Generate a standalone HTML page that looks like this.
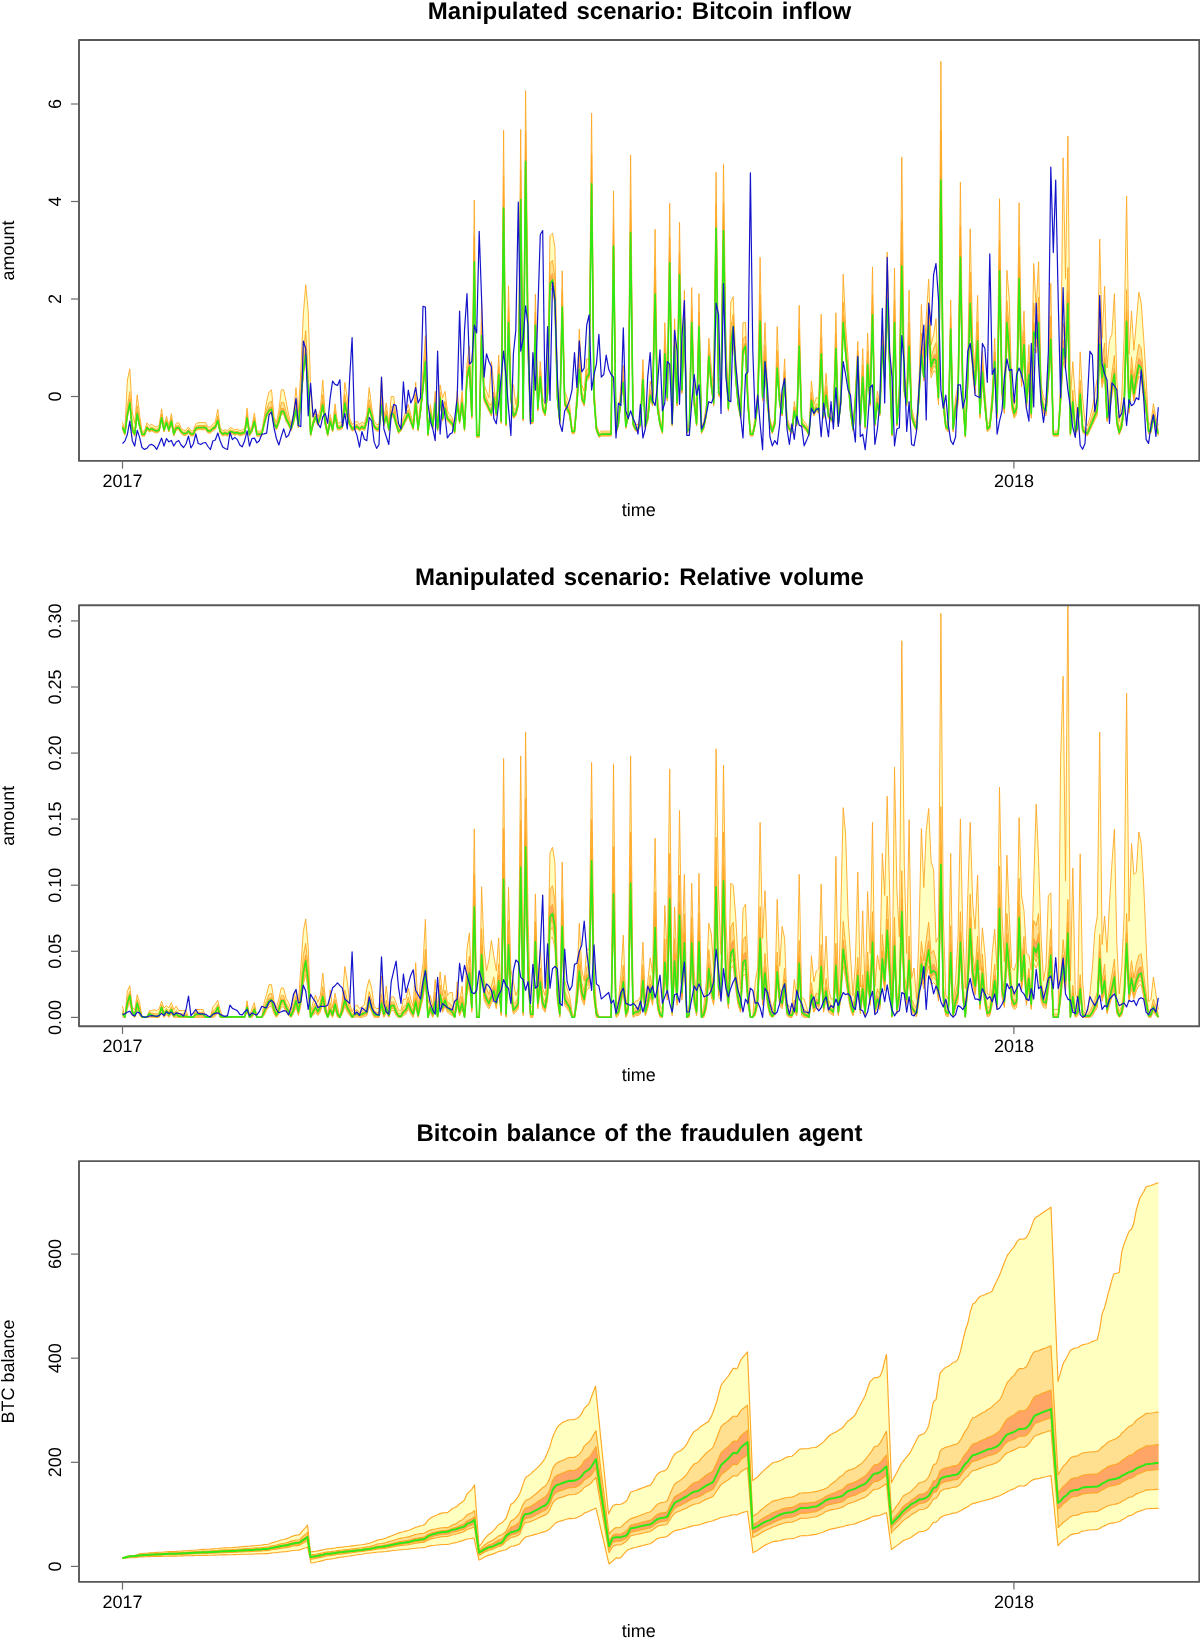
<!DOCTYPE html>
<html><head><meta charset="utf-8"><title>Manipulated scenario</title>
<style>
html,body{margin:0;padding:0;background:#fff}
svg{display:block}
text{text-rendering:geometricPrecision;filter:grayscale(1)}
.ax{font-family:"Liberation Sans",Arial,Helvetica,sans-serif;font-size:18px;fill:#000}
.ttl{font-family:"Liberation Sans",Arial,Helvetica,sans-serif;font-size:24px;font-weight:bold;word-spacing:2px;fill:#000}
</style></head><body>
<svg width="1200" height="1639" viewBox="0 0 1200 1639">
<rect width="1200" height="1639" fill="#fff"/>
<clipPath id="c1"><rect x="79" y="39.95" width="1120" height="420.95"/></clipPath>
<g clip-path="url(#c1)">
<path d="M122.5 422.3 L124.9 429.8 L127.4 380 L129.8 368.8 L132.3 412.5 L134.7 423.4 L137.2 394.8 L139.6 414.7 L142 431.2 L144.5 431.2 L146.9 422.9 L149.4 425.7 L151.8 424.3 L154.3 426.2 L156.7 427 L159.1 425.7 L161.6 408.9 L164 425.7 L166.5 416.4 L168.9 425.7 L171.4 413.6 L173.8 430.9 L176.2 423.3 L178.7 422.6 L181.1 427.7 L183.6 430.3 L186 430.3 L188.5 427.1 L190.9 430.9 L193.3 430.9 L195.8 423.9 L198.2 422.6 L200.7 422.6 L203.1 422.6 L205.6 422.6 L208 427.1 L210.4 427.1 L212.9 423.9 L215.3 422 L217.8 409.3 L220.2 427.7 L222.7 430.9 L225.1 429.7 L227.5 430.9 L230 427.7 L232.4 428.4 L234.9 429.8 L237.3 429 L239.8 430.6 L242.2 429.8 L244.7 429 L247.1 408.2 L249.5 431.2 L252 425.7 L254.4 413 L256.9 431.2 L259.3 431.2 L261.8 430.6 L264.2 417.3 L266.6 401.7 L269.1 391.9 L271.5 389.8 L274 416.9 L276.4 422.9 L278.9 410.4 L281.3 389.8 L283.7 389.8 L286.2 401.7 L288.6 414.7 L291.1 424.3 L293.5 414.6 L296 387.6 L298.4 412.5 L300.8 371.4 L303.3 315 L305.7 284.7 L308.2 310.7 L310.6 388.7 L313.1 417.3 L315.5 409 L317.9 417.3 L320.4 409 L322.8 380 L325.3 417.3 L327.7 431.2 L330.2 414.6 L332.6 425.7 L335 403.9 L337.5 422.9 L339.9 422.8 L342.4 421.2 L344.8 382.3 L347.3 397.8 L349.7 417.9 L352.1 424.5 L354.6 422.8 L357 421.2 L359.5 424.5 L361.9 421.8 L364.4 423.8 L366.8 414.5 L369.2 387.5 L371.7 407.9 L374.1 421.2 L376.6 424.5 L379 424.5 L381.5 377.1 L383.9 417.9 L386.3 403 L388.8 424.5 L391.2 396.5 L393.7 396.5 L396.1 417.9 L398.6 427.8 L401 424.5 L403.4 417.9 L405.9 411.2 L408.3 404.6 L410.8 414.5 L413.2 422.8 L415.7 382.3 L418.1 424.5 L420.5 401.3 L423 371.4 L425.4 335.6 L427.9 431.1 L430.3 404.6 L432.8 421.2 L435.2 391.3 L437.6 424.5 L440.1 384.9 L442.5 397.8 L445 391.4 L447.4 411.2 L449.9 414.5 L452.3 417.9 L454.7 427.8 L457.2 391.3 L459.6 414.5 L462.1 391.3 L464.5 424.5 L467 364.1 L469.4 346 L471.8 407.9 L474.3 200.2 L476.7 432.8 L479.2 432.8 L481.6 303.2 L484.1 384.7 L486.5 391.3 L488.9 397.9 L491.4 361.5 L493.8 384.7 L496.3 404.6 L498.7 355.1 L501.2 414.5 L503.6 130.2 L506.1 417.9 L508.5 285.8 L510.9 384.7 L513.4 384.9 L515.8 404.6 L518.3 391.3 L520.7 129.5 L523.2 411.2 L525.6 90.6 L528 304.5 L530.5 414.5 L532.9 414.5 L535.4 294.1 L537.8 397.9 L540.3 361.5 L542.7 397.9 L545.1 404.6 L547.6 378 L550 235.8 L552.5 233.2 L554.9 247.4 L557.4 384.7 L559.8 414.5 L562.2 270.8 L564.7 391.3 L567.1 397.9 L569.6 404.6 L572 427.8 L574.5 427.8 L576.9 391.3 L579.3 329.1 L581.8 384.7 L584.2 391.3 L586.7 358.9 L589.1 358.9 L591.6 113.1 L594 384.7 L596.4 424.5 L598.9 432.8 L601.3 431.1 L603.8 431.1 L606.2 431.1 L608.7 431.1 L611.1 431.1 L613.5 190.9 L616 427.8 L618.4 417.9 L620.9 384.7 L623.3 365.4 L625.8 421.2 L628.2 407.9 L630.6 154.9 L633.1 417.9 L635.5 424.5 L638 424.5 L640.4 417.9 L642.9 359.5 L645.3 421.2 L647.7 411.2 L650.2 381.3 L652.6 391.3 L655.1 229.3 L657.5 397.9 L660 417.9 L662.4 427.8 L664.8 322.6 L667.3 384.7 L669.7 203.4 L672.2 417.9 L674.6 318.7 L677.1 391.3 L679.5 222.3 L681.9 374.7 L684.4 290.2 L686.8 427.8 L689.3 424.5 L691.7 287.6 L694.2 391.3 L696.6 417.9 L699 293.6 L701.5 427.8 L703.9 421.2 L706.4 404.6 L708.8 338.2 L711.3 368.1 L713.7 391.3 L716.1 172.2 L718.6 378 L721 381.3 L723.5 163.9 L725.9 341.5 L728.4 397.9 L730.8 301.9 L733.2 296.7 L735.7 358.1 L738.1 391.3 L740.6 407.9 L743 322.6 L745.5 322.6 L747.9 391.3 L750.4 431.1 L752.8 431.1 L755.2 417.9 L757.7 391.3 L760.1 257.3 L762.6 384.7 L765 322.6 L767.5 391.3 L769.9 417.9 L772.3 427.8 L774.8 417.9 L777.2 326.5 L779.7 391.3 L782.1 404.6 L784.6 358.9 L787 417.9 L789.4 424.5 L791.9 427.8 L794.3 401.3 L796.8 417.9 L799.2 305.3 L801.7 417.9 L804.1 421.2 L806.5 424.5 L809 431.1 L811.4 381 L813.9 404.6 L816.3 397.8 L818.8 397.8 L821.2 314.3 L823.6 407.9 L826.1 373.2 L828.5 407.9 L831 411.2 L833.4 414.5 L835.9 312.8 L838.3 417.9 L840.7 391.3 L843.2 274.1 L845.6 324.9 L848.1 358.1 L850.5 401.3 L853 424.5 L855.4 391.3 L857.8 341.6 L860.3 417.9 L862.7 348.6 L865.2 421.2 L867.6 333 L870.1 391.3 L872.5 266.9 L874.9 417.9 L877.4 391.3 L879.8 404.6 L882.3 325.2 L884.7 358.1 L887.2 252.1 L889.6 341.5 L892 431.1 L894.5 268.2 L896.9 417.9 L899.4 384.7 L901.8 157.2 L904.3 374.7 L906.7 391.3 L909.1 290.2 L911.6 407.9 L914 417.9 L916.5 424.5 L918.9 384.7 L921.4 304.5 L923.8 358.1 L926.2 318.3 L928.7 279.1 L931.1 344.8 L933.6 334.9 L936 318.7 L938.5 384.7 L940.9 61.3 L943.3 391.3 L945.8 421.2 L948.2 424.5 L950.7 300.1 L953.1 424.5 L955.6 397.9 L958 384.7 L960.4 182.1 L962.9 384.7 L965.3 432.8 L967.8 358.1 L970.2 228.8 L972.7 341.5 L975.1 368.1 L977.6 295.4 L980 404.6 L982.4 351.2 L984.9 391.3 L987.3 424.5 L989.8 421.2 L992.2 391.3 L994.7 338.2 L997.1 404.6 L999.5 198.7 L1002 374.7 L1004.4 397.9 L1006.9 270.3 L1009.3 299.3 L1011.8 391.3 L1014.2 404.6 L1016.6 397.9 L1019.1 202.8 L1021.5 358.1 L1024 311 L1026.4 391.3 L1028.9 344.7 L1031.3 404.6 L1033.7 263.5 L1036.2 308.3 L1038.6 261.7 L1041.1 384.7 L1043.5 397.8 L1046 401.3 L1048.4 358.1 L1050.8 283.2 L1053.3 431.1 L1055.7 431.1 L1058.2 431.1 L1060.6 384.7 L1063.1 157.8 L1065.5 278.8 L1067.9 136 L1070.4 397.8 L1072.8 361.7 L1075.3 397.8 L1077.7 422.6 L1080.2 351.8 L1082.6 397.8 L1085 421.6 L1087.5 425.5 L1089.9 417.6 L1092.4 407.7 L1094.8 393.8 L1097.3 377.9 L1099.7 239.1 L1102.1 338.3 L1104.6 286.3 L1107 368 L1109.5 340.3 L1111.9 334.3 L1114.4 293.7 L1116.8 377.9 L1119.2 421.6 L1121.7 397.8 L1124.1 338.3 L1126.6 196.1 L1129 354.1 L1131.5 310.9 L1133.9 350.2 L1136.3 322.4 L1138.8 292.3 L1141.2 302.6 L1143.7 338.3 L1146.1 377.9 L1148.6 425.5 L1151 421.6 L1153.4 403.7 L1155.9 417.6 L1158.3 425.5 L1158.3 435.7 L1155.9 428.8 L1153.4 420.2 L1151 433.1 L1148.6 433.9 L1146.1 413.3 L1143.7 399.5 L1141.2 378.9 L1138.8 376.3 L1136.3 387.5 L1133.9 401.2 L1131.5 384.9 L1129 413.3 L1126.6 338.4 L1124.1 413.3 L1121.7 428.8 L1119.2 434.8 L1116.8 425.3 L1114.4 384 L1111.9 396.1 L1109.5 413.3 L1107 421.9 L1104.6 375.4 L1102.1 387.5 L1099.7 358.2 L1097.3 415 L1094.8 420.2 L1092.4 425.3 L1089.9 430.5 L1087.5 435.7 L1085 434.8 L1082.6 432.2 L1080.2 401.2 L1077.7 430.5 L1075.3 433.9 L1072.8 408.1 L1070.4 435.7 L1067.9 322.9 L1065.5 370.3 L1063.1 361.7 L1060.6 404.8 L1058.2 436.3 L1055.7 436.3 L1053.3 436.3 L1050.8 354.1 L1048.4 386.8 L1046 416 L1043.5 413.8 L1041.1 404.8 L1038.6 339.5 L1036.2 353 L1033.7 347.4 L1031.3 418.3 L1028.9 384.5 L1026.4 409.3 L1024 358.6 L1021.5 386.8 L1019.1 301.2 L1016.6 413.8 L1014.2 418.3 L1011.8 409.3 L1009.3 364.2 L1006.9 339.5 L1004.4 413.8 L1002 398 L999.5 294.5 L997.1 418.3 L994.7 373.2 L992.2 409.3 L989.8 429.5 L987.3 431.8 L984.9 409.3 L982.4 382.3 L980 418.3 L977.6 355.2 L975.1 393.5 L972.7 375.5 L970.2 322.6 L967.8 386.8 L965.3 437.4 L962.9 404.8 L960.4 282.8 L958 404.8 L955.6 413.8 L953.1 431.8 L950.7 345.1 L948.2 431.8 L945.8 429.5 L943.3 409.3 L940.9 215.7 L938.5 404.8 L936 372.1 L933.6 371 L931.1 377.7 L928.7 341.7 L926.2 351.1 L923.8 381.1 L921.4 358.6 L918.9 401.1 L916.5 431.1 L914 426.1 L911.6 418.6 L909.1 351.1 L906.7 406.1 L904.3 393.6 L901.8 274.2 L899.4 401.1 L896.9 426.1 L894.5 328.7 L892 436.1 L889.6 368.6 L887.2 306.2 L884.7 381.1 L882.3 351.1 L879.8 416.1 L877.4 406.1 L874.9 426.1 L872.5 321.2 L870.1 406.1 L867.6 368.6 L865.2 428.6 L862.7 381.1 L860.3 426.1 L857.8 362.4 L855.4 406.1 L853 431.1 L850.5 413.6 L848.1 381.1 L845.6 356.1 L843.2 328.7 L840.7 406.1 L838.3 426.1 L835.9 353.6 L833.4 423.6 L831 421.1 L828.5 418.6 L826.1 398.6 L823.6 418.6 L821.2 358.6 L818.8 413.6 L816.3 411.1 L813.9 416.1 L811.4 403.6 L809 436.1 L806.5 431.1 L804.1 428.6 L801.7 426.1 L799.2 351.1 L796.8 426.1 L794.3 413.6 L791.9 433.6 L789.4 431.1 L787 426.1 L784.6 383.6 L782.1 416.1 L779.7 406.1 L777.2 372.4 L774.8 426.1 L772.3 433.6 L769.9 426.1 L767.5 406.1 L765 366.1 L762.6 401.1 L760.1 327.4 L757.7 406.1 L755.2 426.1 L752.8 436.1 L750.4 436.1 L747.9 406.1 L745.5 351.1 L743 356.1 L740.6 418.6 L738.1 406.1 L735.7 381.1 L733.2 332.4 L730.8 351.1 L728.4 411.1 L725.9 368.6 L723.5 239.9 L721 398.6 L718.6 396.1 L716.1 237.4 L713.7 406.1 L711.3 388.6 L708.8 361.1 L706.4 416.1 L703.9 428.6 L701.5 433.6 L699 332.4 L696.6 426.1 L694.2 406.1 L691.7 328.7 L689.3 431.1 L686.8 433.6 L684.4 324.9 L681.9 393.6 L679.5 282.4 L677.1 406.1 L674.6 351.1 L672.2 426.1 L669.7 270.7 L667.3 401.1 L664.8 358.6 L662.4 433.6 L660 426.1 L657.5 411.1 L655.1 301.2 L652.6 406.1 L650.2 398.6 L647.7 421.1 L645.3 428.6 L642.9 383.6 L640.4 426.1 L638 431.1 L635.5 431.1 L633.1 426.1 L630.6 241.7 L628.2 418.6 L625.8 428.6 L623.3 386.1 L620.9 401.1 L618.4 426.1 L616 433.6 L613.5 254.9 L611.1 436.1 L608.7 436.1 L606.2 436.1 L603.8 436.1 L601.3 436.1 L598.9 437.4 L596.4 431.1 L594 401.1 L591.6 194.9 L589.1 378.6 L586.7 381.1 L584.2 406.1 L581.8 401.1 L579.3 373.6 L576.9 406.1 L574.5 433.6 L572 433.6 L569.6 416.1 L567.1 411.1 L564.7 406.1 L562.2 313.7 L559.8 423.6 L557.4 401.1 L554.9 306.2 L552.5 287.4 L550 291.2 L547.6 396.1 L545.1 416.1 L542.7 411.1 L540.3 381.1 L537.8 411.1 L535.4 331.2 L532.9 423.6 L530.5 423.6 L528 351.1 L525.6 173.2 L523.2 421.1 L520.7 209.9 L518.3 406.1 L515.8 416.1 L513.4 418.6 L510.9 401.1 L508.5 328.7 L506.1 426.1 L503.6 218.2 L501.2 423.6 L498.7 378.6 L496.3 416.1 L493.8 401.1 L491.4 416.1 L488.9 411.1 L486.5 406.1 L484.1 401.1 L481.6 341.1 L479.2 437.4 L476.7 437.4 L474.3 269.9 L471.8 418.6 L469.4 371.1 L467 381.1 L464.5 431.1 L462.1 406.1 L459.6 423.6 L457.2 406.1 L454.7 433.6 L452.3 426.1 L449.9 423.6 L447.4 421.1 L445 411.1 L442.5 421.1 L440.1 401.1 L437.6 431.1 L435.2 406.1 L432.8 428.6 L430.3 416.1 L427.9 436.1 L425.4 366.1 L423 391.1 L420.5 413.6 L418.1 431.1 L415.7 406.1 L413.2 429.9 L410.8 423.6 L408.3 416.1 L405.9 421.1 L403.4 426.1 L401 431.1 L398.6 433.6 L396.1 426.1 L393.7 417.4 L391.2 416.1 L388.8 431.1 L386.3 418.6 L383.9 426.1 L381.5 408.6 L379 431.1 L376.6 431.1 L374.1 428.6 L371.7 418.6 L369.2 411.1 L366.8 423.6 L364.4 430.6 L361.9 429.1 L359.5 431.1 L357 428.6 L354.6 429.9 L352.1 431.1 L349.7 426.1 L347.3 418.6 L344.8 406.1 L342.4 428.6 L339.9 429.9 L337.5 429.9 L335 417.4 L332.6 432 L330.2 423.7 L327.7 436.2 L325.3 425.8 L322.8 408 L320.4 419.5 L317.9 425.8 L315.5 419.5 L313.1 425.8 L310.6 436.2 L308.2 392.3 L305.7 358.9 L303.3 375.6 L300.8 402.8 L298.4 427.8 L296 412.2 L293.5 423.7 L291.1 431 L288.6 425.8 L286.2 421.6 L283.7 414.3 L281.3 414.3 L278.9 423.7 L276.4 429.9 L274 425.8 L271.5 412.2 L269.1 413.2 L266.6 417.4 L264.2 425.8 L261.8 435.8 L259.3 436.2 L256.9 436.2 L254.4 423.7 L252 432 L249.5 436.2 L247.1 420.5 L244.7 434.5 L242.2 435.2 L239.8 435.8 L237.3 434.5 L234.9 435.2 L232.4 434.1 L230 433.6 L227.5 436 L225.1 435 L222.7 436 L220.2 433.6 L217.8 423 L215.3 429.3 L212.9 430.7 L210.4 433.1 L208 433.1 L205.6 429.7 L203.1 429.7 L200.7 429.7 L198.2 429.7 L195.8 430.7 L193.3 436 L190.9 436 L188.5 433.1 L186 435.5 L183.6 435.5 L181.1 433.6 L178.7 429.7 L176.2 430.2 L173.8 436 L171.4 423.5 L168.9 432 L166.5 424.7 L164 432 L161.6 420.5 L159.1 432 L156.7 433.1 L154.3 432.4 L151.8 431 L149.4 432 L146.9 429.9 L144.5 436.2 L142 436.2 L139.6 427.8 L137.2 416.4 L134.7 436.2 L132.3 432 L129.8 405.9 L127.4 417.4 L124.9 435.2 L122.5 429.5Z" fill="#FFFFBF" stroke="none"/>
<path d="M122.5 425.2 L124.9 431.7 L127.4 406.5 L129.8 391.6 L132.3 425.4 L134.7 430.8 L137.2 405.7 L139.6 421 L142 432.9 L144.5 432.9 L146.9 425.7 L149.4 428.1 L151.8 426.9 L154.3 428.6 L156.7 429.3 L159.1 428.1 L161.6 414.1 L164 428.1 L166.5 419.8 L168.9 428.1 L171.4 417.9 L173.8 432.7 L176.2 426 L178.7 425.5 L181.1 429.9 L183.6 432.2 L186 432.2 L188.5 429.4 L190.9 432.7 L193.3 432.7 L195.8 426.6 L198.2 425.5 L200.7 425.5 L203.1 425.5 L205.6 425.5 L208 429.4 L210.4 429.4 L212.9 426.6 L215.3 424.9 L217.8 415.8 L220.2 429.9 L222.7 432.7 L225.1 431.6 L227.5 432.7 L230 429.9 L232.4 430.5 L234.9 431.7 L237.3 431 L239.8 432.5 L242.2 431.7 L244.7 431 L247.1 413.9 L249.5 432.9 L252 428.1 L254.4 417.7 L256.9 432.9 L259.3 432.9 L261.8 432.5 L264.2 420.8 L266.6 409.2 L269.1 402.6 L271.5 401.1 L274 420.6 L276.4 425.7 L278.9 416.6 L281.3 402.4 L283.7 402.4 L286.2 411.9 L288.6 419.7 L291.1 426.9 L293.5 418.4 L296 400.2 L298.4 420.1 L300.8 387.7 L303.3 352.3 L305.7 330.6 L308.2 374 L310.6 430.8 L313.1 420.8 L315.5 413.6 L317.9 420.8 L320.4 413.6 L322.8 394.5 L325.3 420.8 L327.7 432.9 L330.2 418.4 L332.6 428.1 L335 410.1 L337.5 425.7 L339.9 425.6 L342.4 424.2 L344.8 394.3 L347.3 408.4 L349.7 421.3 L352.1 427.1 L354.6 425.6 L357 424.2 L359.5 427.1 L361.9 424.8 L364.4 426.5 L366.8 418.4 L369.2 399.5 L371.7 412.6 L374.1 424.2 L376.6 427.1 L379 427.1 L381.5 395.1 L383.9 421.3 L386.3 410.5 L388.8 427.1 L391.2 406.3 L393.7 407.1 L396.1 421.3 L398.6 430 L401 427.1 L403.4 421.3 L405.9 415.5 L408.3 409.7 L410.8 418.4 L413.2 425.6 L415.7 394.3 L418.1 427.1 L420.5 406.8 L423 380.7 L425.4 350.6 L427.9 432.9 L430.3 409.7 L432.8 424.2 L435.2 398.1 L437.6 427.1 L440.1 392.4 L442.5 411.3 L445 401.1 L447.4 415.5 L449.9 418.4 L452.3 421.3 L454.7 430 L457.2 398.1 L459.6 418.4 L462.1 398.1 L464.5 427.1 L467 371.6 L469.4 358 L471.8 412.6 L474.3 235.9 L476.7 434.3 L479.2 434.3 L481.6 322 L484.1 392.3 L486.5 398.1 L488.9 403.9 L491.4 404.8 L493.8 392.3 L496.3 409.7 L498.7 366.3 L501.2 418.4 L503.6 175.4 L506.1 421.3 L508.5 307.2 L510.9 392.3 L513.4 408.1 L515.8 409.7 L518.3 398.1 L520.7 170.1 L523.2 415.5 L525.6 131.6 L528 328.5 L530.5 418.4 L532.9 418.4 L535.4 312.2 L537.8 403.9 L540.3 370.6 L542.7 403.9 L545.1 409.7 L547.6 386.5 L550 263.6 L552.5 260.2 L554.9 277.5 L557.4 392.3 L559.8 418.4 L562.2 291.8 L564.7 398.1 L567.1 403.9 L569.6 409.7 L572 430 L574.5 430 L576.9 398.1 L579.3 352.4 L581.8 392.3 L584.2 398.1 L586.7 369.5 L589.1 368 L591.6 154.2 L594 392.3 L596.4 427.1 L598.9 434.3 L601.3 432.9 L603.8 432.9 L606.2 432.9 L608.7 432.9 L611.1 432.9 L613.5 222.9 L616 430 L618.4 421.3 L620.9 392.3 L623.3 375.2 L625.8 424.2 L628.2 412.6 L630.6 199.8 L633.1 421.3 L635.5 427.1 L638 427.1 L640.4 421.3 L642.9 371.2 L645.3 424.2 L647.7 415.5 L650.2 389.4 L652.6 398.1 L655.1 266.9 L657.5 403.9 L660 421.3 L662.4 430 L664.8 340.7 L667.3 392.3 L669.7 237.6 L672.2 421.3 L674.6 334.5 L677.1 398.1 L679.5 252.7 L681.9 383.6 L684.4 306.8 L686.8 430 L689.3 427.1 L691.7 307.9 L694.2 398.1 L696.6 421.3 L699 312.7 L701.5 430 L703.9 424.2 L706.4 409.7 L708.8 348.7 L711.3 377.8 L713.7 398.1 L716.1 204.6 L718.6 386.5 L721 389.4 L723.5 202.6 L725.9 354.6 L728.4 403.9 L730.8 327.5 L733.2 314 L735.7 369.1 L738.1 398.1 L740.6 412.6 L743 339.2 L745.5 336.2 L747.9 398.1 L750.4 432.9 L752.8 432.9 L755.2 421.3 L757.7 398.1 L760.1 294.4 L762.6 392.3 L765 345.2 L767.5 398.1 L769.9 421.3 L772.3 430 L774.8 421.3 L777.2 350.6 L779.7 398.1 L782.1 409.7 L784.6 371 L787 421.3 L789.4 427.1 L791.9 430 L794.3 406.8 L796.8 421.3 L799.2 328.9 L801.7 421.3 L804.1 424.2 L806.5 427.1 L809 432.9 L811.4 392.3 L813.9 409.7 L816.3 403.9 L818.8 405.4 L821.2 337.2 L823.6 412.6 L826.1 386 L828.5 412.6 L831 415.5 L833.4 418.4 L835.9 333.5 L838.3 421.3 L840.7 398.1 L843.2 302.3 L845.6 340.1 L848.1 369.1 L850.5 406.8 L853 427.1 L855.4 398.1 L857.8 350.9 L860.3 421.3 L862.7 365.1 L865.2 424.2 L867.6 351.1 L870.1 398.1 L872.5 294.7 L874.9 421.3 L877.4 398.1 L879.8 409.7 L882.3 337.3 L884.7 369.1 L887.2 279.5 L889.6 354.6 L892 432.9 L894.5 299.8 L896.9 421.3 L899.4 392.3 L901.8 220.7 L904.3 383.6 L906.7 398.1 L909.1 322.6 L911.6 412.6 L914 421.3 L916.5 427.1 L918.9 392.3 L921.4 333.1 L923.8 369.1 L926.2 334.3 L928.7 305.8 L931.1 357.5 L933.6 348.8 L936 342.8 L938.5 392.3 L940.9 130.1 L943.3 398.1 L945.8 424.2 L948.2 427.1 L950.7 316.9 L953.1 427.1 L955.6 403.9 L958 392.3 L960.4 225.7 L962.9 392.3 L965.3 434.3 L967.8 369.1 L970.2 271.9 L972.7 354.6 L975.1 377.8 L977.6 321.7 L980 409.7 L982.4 363.2 L984.9 398.1 L987.3 427.1 L989.8 424.2 L992.2 398.1 L994.7 351.7 L997.1 409.7 L999.5 240.5 L1002 383.6 L1004.4 403.9 L1006.9 300.6 L1009.3 329.4 L1011.8 398.1 L1014.2 409.7 L1016.6 403.9 L1019.1 246.8 L1021.5 369.1 L1024 330.5 L1026.4 398.1 L1028.9 362 L1031.3 409.7 L1033.7 303.1 L1036.2 325.6 L1038.6 297 L1041.1 392.3 L1043.5 403.9 L1046 406.8 L1048.4 369.1 L1050.8 315.9 L1053.3 432.9 L1055.7 432.9 L1058.2 432.9 L1060.6 392.3 L1063.1 323.3 L1065.5 335.7 L1067.9 267.5 L1070.4 429.9 L1072.8 390.2 L1075.3 427.4 L1077.7 425.5 L1080.2 380.3 L1082.6 424.9 L1085 428.7 L1087.5 430.1 L1089.9 423.3 L1092.4 415.7 L1094.8 407.6 L1097.3 400.1 L1099.7 318.4 L1102.1 361.3 L1104.6 343.1 L1107 410.1 L1109.5 397.7 L1111.9 372.9 L1114.4 355.5 L1116.8 415 L1119.2 428.7 L1121.7 420 L1124.1 397.7 L1126.6 289.8 L1129 397.7 L1131.5 356.8 L1133.9 380.3 L1136.3 360.5 L1138.8 344.4 L1141.2 348.1 L1143.7 377.8 L1146.1 397.7 L1148.6 429 L1151 426.7 L1153.4 410.6 L1155.9 422.2 L1158.3 430.1 L1158.3 434.8 L1155.9 427.5 L1153.4 418.3 L1151 432 L1148.6 433 L1146.1 411 L1143.7 396.4 L1141.2 374.5 L1138.8 371.8 L1136.3 383.7 L1133.9 398.3 L1131.5 380.9 L1129 411 L1126.6 331.6 L1124.1 411 L1121.7 427.5 L1119.2 433.9 L1116.8 423.8 L1114.4 380 L1111.9 392.8 L1109.5 411 L1107 420.2 L1104.6 370.9 L1102.1 383.7 L1099.7 352.6 L1097.3 412.9 L1094.8 418.3 L1092.4 423.8 L1089.9 429.3 L1087.5 434.8 L1085 433.9 L1082.6 431.1 L1080.2 398.3 L1077.7 429.3 L1075.3 433 L1072.8 405.6 L1070.4 434.8 L1067.9 315.2 L1065.5 365.4 L1063.1 356.3 L1060.6 402 L1058.2 435.4 L1055.7 435.4 L1053.3 435.4 L1050.8 348.3 L1048.4 382.9 L1046 413.9 L1043.5 411.5 L1041.1 402 L1038.6 332.7 L1036.2 347.1 L1033.7 341.1 L1031.3 416.3 L1028.9 380.5 L1026.4 406.8 L1024 353 L1021.5 382.9 L1019.1 292.2 L1016.6 411.5 L1014.2 416.3 L1011.8 406.8 L1009.3 359 L1006.9 332.7 L1004.4 411.5 L1002 394.8 L999.5 285 L997.1 416.3 L994.7 368.6 L992.2 406.8 L989.8 428.3 L987.3 430.6 L984.9 406.8 L982.4 378.1 L980 416.3 L977.6 349.5 L975.1 390.1 L972.7 370.9 L970.2 314.8 L967.8 382.9 L965.3 436.6 L962.9 402 L960.4 272.6 L958 402 L955.6 411.5 L953.1 430.6 L950.7 338.7 L948.2 430.6 L945.8 428.3 L943.3 406.8 L940.9 201.4 L938.5 402 L936 367.4 L933.6 366.2 L931.1 373.3 L928.7 335.1 L926.2 349.1 L923.8 379.5 L921.4 356.7 L918.9 399.8 L916.5 430.3 L914 425.2 L911.6 417.6 L909.1 349.1 L906.7 404.9 L904.3 392.2 L901.8 270.9 L899.4 399.8 L896.9 425.2 L894.5 326.2 L892 435.3 L889.6 366.8 L887.2 303.4 L884.7 379.5 L882.3 349.1 L879.8 415 L877.4 404.9 L874.9 425.2 L872.5 318.6 L870.1 404.9 L867.6 366.8 L865.2 427.7 L862.7 379.5 L860.3 425.2 L857.8 360.5 L855.4 404.9 L853 430.3 L850.5 412.5 L848.1 379.5 L845.6 354.2 L843.2 326.2 L840.7 404.9 L838.3 425.2 L835.9 351.6 L833.4 422.7 L831 420.1 L828.5 417.6 L826.1 397.3 L823.6 417.6 L821.2 356.7 L818.8 412.5 L816.3 410 L813.9 415 L811.4 402.4 L809 435.3 L806.5 430.3 L804.1 427.7 L801.7 425.2 L799.2 349.1 L796.8 425.2 L794.3 412.5 L791.9 432.8 L789.4 430.3 L787 425.2 L784.6 382.1 L782.1 415 L779.7 404.9 L777.2 370.6 L774.8 425.2 L772.3 432.8 L769.9 425.2 L767.5 404.9 L765 364.3 L762.6 399.8 L760.1 325 L757.7 404.9 L755.2 425.2 L752.8 435.3 L750.4 435.3 L747.9 404.9 L745.5 349.1 L743 354.2 L740.6 417.6 L738.1 404.9 L735.7 379.5 L733.2 330.1 L730.8 349.1 L728.4 410 L725.9 366.8 L723.5 236.2 L721 397.3 L718.6 394.7 L716.1 233.6 L713.7 404.9 L711.3 387.1 L708.8 359.2 L706.4 415 L703.9 427.7 L701.5 432.8 L699 330.1 L696.6 425.2 L694.2 404.9 L691.7 326.2 L689.3 430.3 L686.8 432.8 L684.4 322.4 L681.9 392.2 L679.5 279.3 L677.1 404.9 L674.6 349.1 L672.2 425.2 L669.7 267.4 L667.3 399.8 L664.8 356.7 L662.4 432.8 L660 425.2 L657.5 410 L655.1 298.3 L652.6 404.9 L650.2 397.3 L647.7 420.1 L645.3 427.7 L642.9 382.1 L640.4 425.2 L638 430.3 L635.5 430.3 L633.1 425.2 L630.6 238 L628.2 417.6 L625.8 427.7 L623.3 384.6 L620.9 399.8 L618.4 425.2 L616 432.8 L613.5 251.4 L611.1 435.3 L608.7 435.3 L606.2 435.3 L603.8 435.3 L601.3 435.3 L598.9 436.6 L596.4 430.3 L594 399.8 L591.6 190.5 L589.1 377 L586.7 379.5 L584.2 404.9 L581.8 399.8 L579.3 371.9 L576.9 404.9 L574.5 432.8 L572 432.8 L569.6 415 L567.1 410 L564.7 404.9 L562.2 311 L559.8 422.7 L557.4 399.8 L554.9 303.4 L552.5 284.4 L550 288.2 L547.6 394.7 L545.1 415 L542.7 410 L540.3 379.5 L537.8 410 L535.4 328.8 L532.9 422.7 L530.5 422.7 L528 349.1 L525.6 168.4 L523.2 420.1 L520.7 205.7 L518.3 404.9 L515.8 415 L513.4 417.6 L510.9 399.8 L508.5 326.2 L506.1 425.2 L503.6 214.1 L501.2 422.7 L498.7 377 L496.3 415 L493.8 399.8 L491.4 415 L488.9 410 L486.5 404.9 L484.1 399.8 L481.6 338.9 L479.2 436.6 L476.7 436.6 L474.3 266.6 L471.8 417.6 L469.4 369.4 L467 379.5 L464.5 430.3 L462.1 404.9 L459.6 422.7 L457.2 404.9 L454.7 432.8 L452.3 425.2 L449.9 422.7 L447.4 420.1 L445 410 L442.5 420.1 L440.1 399.8 L437.6 430.3 L435.2 404.9 L432.8 427.7 L430.3 415 L427.9 435.3 L425.4 364.3 L423 389.7 L420.5 412.5 L418.1 430.3 L415.7 404.9 L413.2 429 L410.8 422.7 L408.3 415 L405.9 420.1 L403.4 425.2 L401 430.3 L398.6 432.8 L396.1 425.2 L393.7 416.3 L391.2 415 L388.8 430.3 L386.3 417.6 L383.9 425.2 L381.5 407.4 L379 430.3 L376.6 430.3 L374.1 427.7 L371.7 417.6 L369.2 410 L366.8 422.7 L364.4 429.8 L361.9 428.2 L359.5 430.3 L357 427.7 L354.6 429 L352.1 430.3 L349.7 425.2 L347.3 417.6 L344.8 404.9 L342.4 427.7 L339.9 429 L337.5 429 L335 416.3 L332.6 431.2 L330.2 422.7 L327.7 435.4 L325.3 424.8 L322.8 406.8 L320.4 418.4 L317.9 424.8 L315.5 418.4 L313.1 424.8 L310.6 435.4 L308.2 390.9 L305.7 357 L303.3 373.9 L300.8 401.5 L298.4 426.9 L296 411 L293.5 422.7 L291.1 430.1 L288.6 424.8 L286.2 420.6 L283.7 413.1 L281.3 413.1 L278.9 422.7 L276.4 429 L274 424.8 L271.5 411 L269.1 412.1 L266.6 416.3 L264.2 424.8 L261.8 435 L259.3 435.4 L256.9 435.4 L254.4 422.7 L252 431.2 L249.5 435.4 L247.1 419.5 L244.7 433.7 L242.2 434.3 L239.8 435 L237.3 433.7 L234.9 434.3 L232.4 433.3 L230 432.8 L227.5 435.2 L225.1 434.2 L222.7 435.2 L220.2 432.8 L217.8 422 L215.3 428.4 L212.9 429.8 L210.4 432.3 L208 432.3 L205.6 428.8 L203.1 428.8 L200.7 428.8 L198.2 428.8 L195.8 429.8 L193.3 435.2 L190.9 435.2 L188.5 432.3 L186 434.7 L183.6 434.7 L181.1 432.8 L178.7 428.8 L176.2 429.3 L173.8 435.2 L171.4 422.5 L168.9 431.2 L166.5 423.7 L164 431.2 L161.6 419.5 L159.1 431.2 L156.7 432.2 L154.3 431.6 L151.8 430.1 L149.4 431.2 L146.9 429 L144.5 435.4 L142 435.4 L139.6 426.9 L137.2 415.3 L134.7 435.4 L132.3 431.2 L129.8 404.7 L127.4 416.3 L124.9 434.3 L122.5 428.6Z" fill="#FFDF90" stroke="none"/>
<path d="M122.5 426.6 L124.9 432.7 L127.4 412 L129.8 399.1 L132.3 428.4 L134.7 433.1 L137.2 411 L139.6 424 L142 433.8 L144.5 433.8 L146.9 427 L149.4 429.3 L151.8 428.2 L154.3 429.7 L156.7 430.4 L159.1 429.3 L161.6 416.7 L164 429.3 L166.5 421.5 L168.9 429.3 L171.4 420 L173.8 433.6 L176.2 427.3 L178.7 426.8 L181.1 431 L183.6 433.1 L186 433.1 L188.5 430.5 L190.9 433.6 L193.3 433.6 L195.8 427.9 L198.2 426.8 L200.7 426.8 L203.1 426.8 L205.6 426.8 L208 430.5 L210.4 430.5 L212.9 427.9 L215.3 426.3 L217.8 418.9 L220.2 431 L222.7 433.6 L225.1 432.5 L227.5 433.6 L230 431 L232.4 431.5 L234.9 432.7 L237.3 432 L239.8 433.3 L242.2 432.7 L244.7 432 L247.1 416.6 L249.5 433.8 L252 429.3 L254.4 420.1 L256.9 433.8 L259.3 433.8 L261.8 433.3 L264.2 422.5 L266.6 412.9 L269.1 407.8 L271.5 406.6 L274 422.5 L276.4 427 L278.9 419.7 L281.3 408.5 L283.7 408.5 L286.2 416.7 L288.6 422.2 L291.1 428.2 L293.5 420.3 L296 406.3 L298.4 423.7 L300.8 395.6 L303.3 365.1 L305.7 346.3 L308.2 383.8 L310.6 433.1 L313.1 422.5 L315.5 415.8 L317.9 422.5 L320.4 415.8 L322.8 401.5 L325.3 422.5 L327.7 433.8 L330.2 420.3 L332.6 429.3 L335 413.2 L337.5 427 L339.9 427 L342.4 425.6 L344.8 400.1 L347.3 413.5 L349.7 422.9 L352.1 428.3 L354.6 427 L357 425.6 L359.5 428.3 L361.9 426.2 L364.4 427.8 L366.8 420.3 L369.2 405.3 L371.7 414.9 L374.1 425.6 L376.6 428.3 L379 428.3 L381.5 402.1 L383.9 422.9 L386.3 414.2 L388.8 428.3 L391.2 411.1 L393.7 412.2 L396.1 422.9 L398.6 431 L401 428.3 L403.4 422.9 L405.9 417.6 L408.3 412.2 L410.8 420.3 L413.2 427 L415.7 400.1 L418.1 428.3 L420.5 409.5 L423 385.2 L425.4 357.9 L427.9 433.7 L430.3 412.2 L432.8 425.6 L435.2 401.4 L437.6 428.3 L440.1 396 L442.5 416.2 L445 405.9 L447.4 417.6 L449.9 420.3 L452.3 422.9 L454.7 431 L457.2 401.4 L459.6 420.3 L462.1 401.4 L464.5 428.3 L467 375.3 L469.4 363.8 L471.8 414.9 L474.3 253.2 L476.7 435.1 L479.2 435.1 L481.6 331.1 L484.1 396 L486.5 401.4 L488.9 406.8 L491.4 410.6 L493.8 396 L496.3 412.2 L498.7 371.8 L501.2 420.3 L503.6 197.2 L506.1 422.9 L508.5 317.5 L510.9 396 L513.4 413.4 L515.8 412.2 L518.3 401.4 L520.7 189.8 L523.2 417.6 L525.6 151.5 L528 340.2 L530.5 420.3 L532.9 420.3 L535.4 320.9 L537.8 406.8 L540.3 374.9 L542.7 406.8 L545.1 412.2 L547.6 390.6 L550 277.1 L552.5 273.4 L554.9 292.1 L557.4 396 L559.8 420.3 L562.2 302 L564.7 401.4 L567.1 406.8 L569.6 412.2 L572 431 L574.5 431 L576.9 401.4 L579.3 363.7 L581.8 396 L584.2 401.4 L586.7 374.6 L589.1 372.3 L591.6 174.1 L594 396 L596.4 428.3 L598.9 435.1 L601.3 433.7 L603.8 433.7 L606.2 433.7 L608.7 433.7 L611.1 433.7 L613.5 238.5 L616 431 L618.4 422.9 L620.9 396 L623.3 379.9 L625.8 425.6 L628.2 414.9 L630.6 221.7 L633.1 422.9 L635.5 428.3 L638 428.3 L640.4 422.9 L642.9 376.9 L645.3 425.6 L647.7 417.6 L650.2 393.3 L652.6 401.4 L655.1 285.1 L657.5 406.8 L660 422.9 L662.4 431 L664.8 349.4 L667.3 396 L669.7 254.3 L672.2 422.9 L674.6 342.2 L677.1 401.4 L679.5 267.4 L681.9 387.9 L684.4 314.8 L686.8 431 L689.3 428.3 L691.7 317.8 L694.2 401.4 L696.6 422.9 L699 322 L701.5 431 L703.9 425.6 L706.4 412.2 L708.8 353.8 L711.3 382.5 L713.7 401.4 L716.1 220.3 L718.6 390.6 L721 393.3 L723.5 221.3 L725.9 361 L728.4 406.8 L730.8 339.9 L733.2 322.4 L735.7 374.5 L738.1 401.4 L740.6 414.9 L743 347.2 L745.5 342.7 L747.9 401.4 L750.4 433.7 L752.8 433.7 L755.2 422.9 L757.7 401.4 L760.1 312.5 L762.6 396 L765 356.1 L767.5 401.4 L769.9 422.9 L772.3 431 L774.8 422.9 L777.2 362.3 L779.7 401.4 L782.1 412.2 L784.6 376.8 L787 422.9 L789.4 428.3 L791.9 431 L794.3 409.5 L796.8 422.9 L799.2 340.3 L801.7 422.9 L804.1 425.6 L806.5 428.3 L809 433.7 L811.4 397.7 L813.9 412.2 L816.3 406.8 L818.8 409 L821.2 348.3 L823.6 414.9 L826.1 392.2 L828.5 414.9 L831 417.6 L833.4 420.3 L835.9 343.6 L838.3 422.9 L840.7 401.4 L843.2 315.9 L845.6 347.5 L848.1 374.5 L850.5 409.5 L853 428.3 L855.4 401.4 L857.8 355.4 L860.3 422.9 L862.7 373.1 L865.2 425.6 L867.6 359.8 L870.1 401.4 L872.5 308.2 L874.9 422.9 L877.4 401.4 L879.8 412.2 L882.3 343.1 L884.7 374.5 L887.2 292.8 L889.6 361 L892 433.7 L894.5 315.1 L896.9 422.9 L899.4 396 L901.8 251.1 L904.3 387.9 L906.7 401.4 L909.1 338.2 L911.6 414.9 L914 422.9 L916.5 428.3 L918.9 396 L921.4 346.9 L923.8 374.5 L926.2 342.1 L928.7 318.8 L931.1 363.7 L933.6 355.6 L936 354.5 L938.5 396 L940.9 163.6 L943.3 401.4 L945.8 425.6 L948.2 428.3 L950.7 325.1 L953.1 428.3 L955.6 406.8 L958 396 L960.4 246.9 L962.9 396 L965.3 435.1 L967.8 374.5 L970.2 292.9 L972.7 361 L975.1 382.5 L977.6 334.5 L980 412.2 L982.4 369 L984.9 401.4 L987.3 428.3 L989.8 425.6 L992.2 401.4 L994.7 358.3 L997.1 412.2 L999.5 260.8 L1002 387.9 L1004.4 406.8 L1006.9 315.4 L1009.3 344 L1011.8 401.4 L1014.2 412.2 L1016.6 406.8 L1019.1 268.1 L1021.5 374.5 L1024 340 L1026.4 401.4 L1028.9 370.4 L1031.3 412.2 L1033.7 322.3 L1036.2 334.1 L1038.6 314.2 L1041.1 396 L1043.5 406.8 L1046 409.5 L1048.4 374.5 L1050.8 331.7 L1053.3 433.7 L1055.7 433.7 L1058.2 433.7 L1060.6 396 L1063.1 340 L1065.5 350.7 L1067.9 291.7 L1070.4 432.3 L1072.8 397.9 L1075.3 430.1 L1077.7 426.8 L1080.2 389.3 L1082.6 428 L1085 431.2 L1087.5 432.3 L1089.9 426.1 L1092.4 419.6 L1094.8 413 L1097.3 406.5 L1099.7 335.7 L1102.1 372.4 L1104.6 357.1 L1107 415.1 L1109.5 404.4 L1111.9 382.9 L1114.4 367.9 L1116.8 419.4 L1119.2 431.2 L1121.7 423.7 L1124.1 404.4 L1126.6 311 L1129 404.4 L1131.5 369 L1133.9 389.3 L1136.3 372.2 L1138.8 358.2 L1141.2 361.4 L1143.7 387.2 L1146.1 404.4 L1148.6 430.6 L1151 429.2 L1153.4 414 L1155.9 424.4 L1158.3 432.3 L1158.3 434.1 L1155.9 426.5 L1153.4 417 L1151 431.3 L1148.6 432.2 L1146.1 409.4 L1143.7 394.1 L1141.2 371.3 L1138.8 368.4 L1136.3 380.8 L1133.9 396 L1131.5 377.9 L1129 409.4 L1126.6 326.5 L1124.1 409.4 L1121.7 426.5 L1119.2 433.2 L1116.8 422.7 L1114.4 377 L1111.9 390.3 L1109.5 409.4 L1107 418.9 L1104.6 367.5 L1102.1 380.8 L1099.7 348.4 L1097.3 411.3 L1094.8 417 L1092.4 422.7 L1089.9 428.4 L1087.5 434.1 L1085 433.2 L1082.6 430.3 L1080.2 396 L1077.7 428.4 L1075.3 432.2 L1072.8 403.6 L1070.4 434.1 L1067.9 309.4 L1065.5 361.7 L1063.1 352.2 L1060.6 399.9 L1058.2 434.8 L1055.7 434.8 L1053.3 434.8 L1050.8 343.9 L1048.4 380 L1046 412.4 L1043.5 409.9 L1041.1 399.9 L1038.6 327.7 L1036.2 342.6 L1033.7 336.4 L1031.3 414.9 L1028.9 377.5 L1026.4 404.9 L1024 348.9 L1021.5 380 L1019.1 285.4 L1016.6 409.9 L1014.2 414.9 L1011.8 404.9 L1009.3 355.1 L1006.9 327.7 L1004.4 409.9 L1002 392.4 L999.5 277.9 L997.1 414.9 L994.7 365 L992.2 404.9 L989.8 427.3 L987.3 429.8 L984.9 404.9 L982.4 375 L980 414.9 L977.6 345.1 L975.1 387.5 L972.7 367.5 L970.2 309 L967.8 380 L965.3 436 L962.9 399.9 L960.4 264.9 L958 399.9 L955.6 409.9 L953.1 429.8 L950.7 333.9 L948.2 429.8 L945.8 427.3 L943.3 404.9 L940.9 190.7 L938.5 399.9 L936 363.8 L933.6 362.6 L931.1 370 L928.7 330.2 L926.2 347.5 L923.8 378.3 L921.4 355.2 L918.9 398.8 L916.5 429.6 L914 424.5 L911.6 416.8 L909.1 347.5 L906.7 404 L904.3 391.1 L901.8 268.5 L899.4 398.8 L896.9 424.5 L894.5 324.4 L892 434.7 L889.6 365.5 L887.2 301.4 L884.7 378.3 L882.3 347.5 L879.8 414.2 L877.4 404 L874.9 424.5 L872.5 316.7 L870.1 404 L867.6 365.5 L865.2 427 L862.7 378.3 L860.3 424.5 L857.8 359.1 L855.4 404 L853 429.6 L850.5 411.7 L848.1 378.3 L845.6 352.7 L843.2 324.4 L840.7 404 L838.3 424.5 L835.9 350.1 L833.4 421.9 L831 419.3 L828.5 416.8 L826.1 396.3 L823.6 416.8 L821.2 355.2 L818.8 411.7 L816.3 409.1 L813.9 414.2 L811.4 401.4 L809 434.7 L806.5 429.6 L804.1 427 L801.7 424.5 L799.2 347.5 L796.8 424.5 L794.3 411.7 L791.9 432.2 L789.4 429.6 L787 424.5 L784.6 380.9 L782.1 414.2 L779.7 404 L777.2 369.3 L774.8 424.5 L772.3 432.2 L769.9 424.5 L767.5 404 L765 362.9 L762.6 398.8 L760.1 323.2 L757.7 404 L755.2 424.5 L752.8 434.7 L750.4 434.7 L747.9 404 L745.5 347.5 L743 352.7 L740.6 416.8 L738.1 404 L735.7 378.3 L733.2 328.3 L730.8 347.5 L728.4 409.1 L725.9 365.5 L723.5 233.4 L721 396.3 L718.6 393.7 L716.1 230.8 L713.7 404 L711.3 386 L708.8 357.8 L706.4 414.2 L703.9 427 L701.5 432.2 L699 328.3 L696.6 424.5 L694.2 404 L691.7 324.4 L689.3 429.6 L686.8 432.2 L684.4 320.6 L681.9 391.1 L679.5 277 L677.1 404 L674.6 347.5 L672.2 424.5 L669.7 264.9 L667.3 398.8 L664.8 355.2 L662.4 432.2 L660 424.5 L657.5 409.1 L655.1 296.2 L652.6 404 L650.2 396.3 L647.7 419.3 L645.3 427 L642.9 380.9 L640.4 424.5 L638 429.6 L635.5 429.6 L633.1 424.5 L630.6 235.2 L628.2 416.8 L625.8 427 L623.3 383.4 L620.9 398.8 L618.4 424.5 L616 432.2 L613.5 248.8 L611.1 434.7 L608.7 434.7 L606.2 434.7 L603.8 434.7 L601.3 434.7 L598.9 436 L596.4 429.6 L594 398.8 L591.6 187.2 L589.1 375.7 L586.7 378.3 L584.2 404 L581.8 398.8 L579.3 370.6 L576.9 404 L574.5 432.2 L572 432.2 L569.6 414.2 L567.1 409.1 L564.7 404 L562.2 309.1 L559.8 421.9 L557.4 398.8 L554.9 301.4 L552.5 282.1 L550 286 L547.6 393.7 L545.1 414.2 L542.7 409.1 L540.3 378.3 L537.8 409.1 L535.4 327 L532.9 421.9 L530.5 421.9 L528 347.5 L525.6 164.9 L523.2 419.3 L520.7 202.6 L518.3 404 L515.8 414.2 L513.4 416.8 L510.9 398.8 L508.5 324.4 L506.1 424.5 L503.6 211.1 L501.2 421.9 L498.7 375.7 L496.3 414.2 L493.8 398.8 L491.4 414.2 L488.9 409.1 L486.5 404 L484.1 398.8 L481.6 337.3 L479.2 436 L476.7 436 L474.3 264.2 L471.8 416.8 L469.4 368 L467 378.3 L464.5 429.6 L462.1 404 L459.6 421.9 L457.2 404 L454.7 432.2 L452.3 424.5 L449.9 421.9 L447.4 419.3 L445 409.1 L442.5 419.3 L440.1 398.8 L437.6 429.6 L435.2 404 L432.8 427 L430.3 414.2 L427.9 434.7 L425.4 362.9 L423 388.6 L420.5 411.7 L418.1 429.6 L415.7 404 L413.2 428.3 L410.8 421.9 L408.3 414.2 L405.9 419.3 L403.4 424.5 L401 429.6 L398.6 432.2 L396.1 424.5 L393.7 415.5 L391.2 414.2 L388.8 429.6 L386.3 416.8 L383.9 424.5 L381.5 406.5 L379 429.6 L376.6 429.6 L374.1 427 L371.7 416.8 L369.2 409.1 L366.8 421.9 L364.4 429.1 L361.9 427.6 L359.5 429.6 L357 427 L354.6 428.3 L352.1 429.6 L349.7 424.5 L347.3 416.8 L344.8 404 L342.4 427 L339.9 428.3 L337.5 428.4 L335 415.5 L332.6 430.5 L330.2 421.9 L327.7 434.8 L325.3 424.1 L322.8 405.9 L320.4 417.7 L317.9 424.1 L315.5 417.7 L313.1 424.1 L310.6 434.8 L308.2 389.8 L305.7 355.5 L303.3 372.6 L300.8 400.5 L298.4 426.2 L296 410.2 L293.5 421.9 L291.1 429.4 L288.6 424.1 L286.2 419.8 L283.7 412.3 L281.3 412.3 L278.9 421.9 L276.4 428.4 L274 424.1 L271.5 410.2 L269.1 411.2 L266.6 415.5 L264.2 424.1 L261.8 434.4 L259.3 434.8 L256.9 434.8 L254.4 421.9 L252 430.5 L249.5 434.8 L247.1 418.7 L244.7 433.1 L242.2 433.7 L239.8 434.4 L237.3 433.1 L234.9 433.7 L232.4 432.7 L230 432.1 L227.5 434.6 L225.1 433.6 L222.7 434.6 L220.2 432.1 L217.8 421.2 L215.3 427.7 L212.9 429.2 L210.4 431.6 L208 431.6 L205.6 428.2 L203.1 428.2 L200.7 428.2 L198.2 428.2 L195.8 429.2 L193.3 434.6 L190.9 434.6 L188.5 431.6 L186 434.1 L183.6 434.1 L181.1 432.1 L178.7 428.2 L176.2 428.7 L173.8 434.6 L171.4 421.7 L168.9 430.5 L166.5 423 L164 430.5 L161.6 418.7 L159.1 430.5 L156.7 431.6 L154.3 430.9 L151.8 429.4 L149.4 430.5 L146.9 428.4 L144.5 434.8 L142 434.8 L139.6 426.2 L137.2 414.4 L134.7 434.8 L132.3 430.5 L129.8 403.7 L127.4 415.5 L124.9 433.7 L122.5 427.9Z" fill="#FFA566" stroke="none"/>
<path d="M122.5 422.3 L124.9 429.8 L127.4 380 L129.8 368.8 L132.3 412.5 L134.7 423.4 L137.2 394.8 L139.6 414.7 L142 431.2 L144.5 431.2 L146.9 422.9 L149.4 425.7 L151.8 424.3 L154.3 426.2 L156.7 427 L159.1 425.7 L161.6 408.9 L164 425.7 L166.5 416.4 L168.9 425.7 L171.4 413.6 L173.8 430.9 L176.2 423.3 L178.7 422.6 L181.1 427.7 L183.6 430.3 L186 430.3 L188.5 427.1 L190.9 430.9 L193.3 430.9 L195.8 423.9 L198.2 422.6 L200.7 422.6 L203.1 422.6 L205.6 422.6 L208 427.1 L210.4 427.1 L212.9 423.9 L215.3 422 L217.8 409.3 L220.2 427.7 L222.7 430.9 L225.1 429.7 L227.5 430.9 L230 427.7 L232.4 428.4 L234.9 429.8 L237.3 429 L239.8 430.6 L242.2 429.8 L244.7 429 L247.1 408.2 L249.5 431.2 L252 425.7 L254.4 413 L256.9 431.2 L259.3 431.2 L261.8 430.6 L264.2 417.3 L266.6 401.7 L269.1 391.9 L271.5 389.8 L274 416.9 L276.4 422.9 L278.9 410.4 L281.3 389.8 L283.7 389.8 L286.2 401.7 L288.6 414.7 L291.1 424.3 L293.5 414.6 L296 387.6 L298.4 412.5 L300.8 371.4 L303.3 315 L305.7 284.7 L308.2 310.7 L310.6 388.7 L313.1 417.3 L315.5 409 L317.9 417.3 L320.4 409 L322.8 380 L325.3 417.3 L327.7 431.2 L330.2 414.6 L332.6 425.7 L335 403.9 L337.5 422.9 L339.9 422.8 L342.4 421.2 L344.8 382.3 L347.3 397.8 L349.7 417.9 L352.1 424.5 L354.6 422.8 L357 421.2 L359.5 424.5 L361.9 421.8 L364.4 423.8 L366.8 414.5 L369.2 387.5 L371.7 407.9 L374.1 421.2 L376.6 424.5 L379 424.5 L381.5 377.1 L383.9 417.9 L386.3 403 L388.8 424.5 L391.2 396.5 L393.7 396.5 L396.1 417.9 L398.6 427.8 L401 424.5 L403.4 417.9 L405.9 411.2 L408.3 404.6 L410.8 414.5 L413.2 422.8 L415.7 382.3 L418.1 424.5 L420.5 401.3 L423 371.4 L425.4 335.6 L427.9 431.1 L430.3 404.6 L432.8 421.2 L435.2 391.3 L437.6 424.5 L440.1 384.9 L442.5 397.8 L445 391.4 L447.4 411.2 L449.9 414.5 L452.3 417.9 L454.7 427.8 L457.2 391.3 L459.6 414.5 L462.1 391.3 L464.5 424.5 L467 364.1 L469.4 346 L471.8 407.9 L474.3 200.2 L476.7 432.8 L479.2 432.8 L481.6 303.2 L484.1 384.7 L486.5 391.3 L488.9 397.9 L491.4 361.5 L493.8 384.7 L496.3 404.6 L498.7 355.1 L501.2 414.5 L503.6 130.2 L506.1 417.9 L508.5 285.8 L510.9 384.7 L513.4 384.9 L515.8 404.6 L518.3 391.3 L520.7 129.5 L523.2 411.2 L525.6 90.6 L528 304.5 L530.5 414.5 L532.9 414.5 L535.4 294.1 L537.8 397.9 L540.3 361.5 L542.7 397.9 L545.1 404.6 L547.6 378 L550 235.8 L552.5 233.2 L554.9 247.4 L557.4 384.7 L559.8 414.5 L562.2 270.8 L564.7 391.3 L567.1 397.9 L569.6 404.6 L572 427.8 L574.5 427.8 L576.9 391.3 L579.3 329.1 L581.8 384.7 L584.2 391.3 L586.7 358.9 L589.1 358.9 L591.6 113.1 L594 384.7 L596.4 424.5 L598.9 432.8 L601.3 431.1 L603.8 431.1 L606.2 431.1 L608.7 431.1 L611.1 431.1 L613.5 190.9 L616 427.8 L618.4 417.9 L620.9 384.7 L623.3 365.4 L625.8 421.2 L628.2 407.9 L630.6 154.9 L633.1 417.9 L635.5 424.5 L638 424.5 L640.4 417.9 L642.9 359.5 L645.3 421.2 L647.7 411.2 L650.2 381.3 L652.6 391.3 L655.1 229.3 L657.5 397.9 L660 417.9 L662.4 427.8 L664.8 322.6 L667.3 384.7 L669.7 203.4 L672.2 417.9 L674.6 318.7 L677.1 391.3 L679.5 222.3 L681.9 374.7 L684.4 290.2 L686.8 427.8 L689.3 424.5 L691.7 287.6 L694.2 391.3 L696.6 417.9 L699 293.6 L701.5 427.8 L703.9 421.2 L706.4 404.6 L708.8 338.2 L711.3 368.1 L713.7 391.3 L716.1 172.2 L718.6 378 L721 381.3 L723.5 163.9 L725.9 341.5 L728.4 397.9 L730.8 301.9 L733.2 296.7 L735.7 358.1 L738.1 391.3 L740.6 407.9 L743 322.6 L745.5 322.6 L747.9 391.3 L750.4 431.1 L752.8 431.1 L755.2 417.9 L757.7 391.3 L760.1 257.3 L762.6 384.7 L765 322.6 L767.5 391.3 L769.9 417.9 L772.3 427.8 L774.8 417.9 L777.2 326.5 L779.7 391.3 L782.1 404.6 L784.6 358.9 L787 417.9 L789.4 424.5 L791.9 427.8 L794.3 401.3 L796.8 417.9 L799.2 305.3 L801.7 417.9 L804.1 421.2 L806.5 424.5 L809 431.1 L811.4 381 L813.9 404.6 L816.3 397.8 L818.8 397.8 L821.2 314.3 L823.6 407.9 L826.1 373.2 L828.5 407.9 L831 411.2 L833.4 414.5 L835.9 312.8 L838.3 417.9 L840.7 391.3 L843.2 274.1 L845.6 324.9 L848.1 358.1 L850.5 401.3 L853 424.5 L855.4 391.3 L857.8 341.6 L860.3 417.9 L862.7 348.6 L865.2 421.2 L867.6 333 L870.1 391.3 L872.5 266.9 L874.9 417.9 L877.4 391.3 L879.8 404.6 L882.3 325.2 L884.7 358.1 L887.2 252.1 L889.6 341.5 L892 431.1 L894.5 268.2 L896.9 417.9 L899.4 384.7 L901.8 157.2 L904.3 374.7 L906.7 391.3 L909.1 290.2 L911.6 407.9 L914 417.9 L916.5 424.5 L918.9 384.7 L921.4 304.5 L923.8 358.1 L926.2 318.3 L928.7 279.1 L931.1 344.8 L933.6 334.9 L936 318.7 L938.5 384.7 L940.9 61.3 L943.3 391.3 L945.8 421.2 L948.2 424.5 L950.7 300.1 L953.1 424.5 L955.6 397.9 L958 384.7 L960.4 182.1 L962.9 384.7 L965.3 432.8 L967.8 358.1 L970.2 228.8 L972.7 341.5 L975.1 368.1 L977.6 295.4 L980 404.6 L982.4 351.2 L984.9 391.3 L987.3 424.5 L989.8 421.2 L992.2 391.3 L994.7 338.2 L997.1 404.6 L999.5 198.7 L1002 374.7 L1004.4 397.9 L1006.9 270.3 L1009.3 299.3 L1011.8 391.3 L1014.2 404.6 L1016.6 397.9 L1019.1 202.8 L1021.5 358.1 L1024 311 L1026.4 391.3 L1028.9 344.7 L1031.3 404.6 L1033.7 263.5 L1036.2 308.3 L1038.6 261.7 L1041.1 384.7 L1043.5 397.8 L1046 401.3 L1048.4 358.1 L1050.8 283.2 L1053.3 431.1 L1055.7 431.1 L1058.2 431.1 L1060.6 384.7 L1063.1 157.8 L1065.5 278.8 L1067.9 136 L1070.4 397.8 L1072.8 361.7 L1075.3 397.8 L1077.7 422.6 L1080.2 351.8 L1082.6 397.8 L1085 421.6 L1087.5 425.5 L1089.9 417.6 L1092.4 407.7 L1094.8 393.8 L1097.3 377.9 L1099.7 239.1 L1102.1 338.3 L1104.6 286.3 L1107 368 L1109.5 340.3 L1111.9 334.3 L1114.4 293.7 L1116.8 377.9 L1119.2 421.6 L1121.7 397.8 L1124.1 338.3 L1126.6 196.1 L1129 354.1 L1131.5 310.9 L1133.9 350.2 L1136.3 322.4 L1138.8 292.3 L1141.2 302.6 L1143.7 338.3 L1146.1 377.9 L1148.6 425.5 L1151 421.6 L1153.4 403.7 L1155.9 417.6 L1158.3 425.5" fill="none" stroke="#FFA826" stroke-width="0.9" stroke-linejoin="round" />
<path d="M122.5 429.5 L124.9 435.2 L127.4 417.4 L129.8 405.9 L132.3 432 L134.7 436.2 L137.2 416.4 L139.6 427.8 L142 436.2 L144.5 436.2 L146.9 429.9 L149.4 432 L151.8 431 L154.3 432.4 L156.7 433.1 L159.1 432 L161.6 420.5 L164 432 L166.5 424.7 L168.9 432 L171.4 423.5 L173.8 436 L176.2 430.2 L178.7 429.7 L181.1 433.6 L183.6 435.5 L186 435.5 L188.5 433.1 L190.9 436 L193.3 436 L195.8 430.7 L198.2 429.7 L200.7 429.7 L203.1 429.7 L205.6 429.7 L208 433.1 L210.4 433.1 L212.9 430.7 L215.3 429.3 L217.8 423 L220.2 433.6 L222.7 436 L225.1 435 L227.5 436 L230 433.6 L232.4 434.1 L234.9 435.2 L237.3 434.5 L239.8 435.8 L242.2 435.2 L244.7 434.5 L247.1 420.5 L249.5 436.2 L252 432 L254.4 423.7 L256.9 436.2 L259.3 436.2 L261.8 435.8 L264.2 425.8 L266.6 417.4 L269.1 413.2 L271.5 412.2 L274 425.8 L276.4 429.9 L278.9 423.7 L281.3 414.3 L283.7 414.3 L286.2 421.6 L288.6 425.8 L291.1 431 L293.5 423.7 L296 412.2 L298.4 427.8 L300.8 402.8 L303.3 375.6 L305.7 358.9 L308.2 392.3 L310.6 436.2 L313.1 425.8 L315.5 419.5 L317.9 425.8 L320.4 419.5 L322.8 408 L325.3 425.8 L327.7 436.2 L330.2 423.7 L332.6 432 L335 417.4 L337.5 429.9 L339.9 429.9 L342.4 428.6 L344.8 406.1 L347.3 418.6 L349.7 426.1 L352.1 431.1 L354.6 429.9 L357 428.6 L359.5 431.1 L361.9 429.1 L364.4 430.6 L366.8 423.6 L369.2 411.1 L371.7 418.6 L374.1 428.6 L376.6 431.1 L379 431.1 L381.5 408.6 L383.9 426.1 L386.3 418.6 L388.8 431.1 L391.2 416.1 L393.7 417.4 L396.1 426.1 L398.6 433.6 L401 431.1 L403.4 426.1 L405.9 421.1 L408.3 416.1 L410.8 423.6 L413.2 429.9 L415.7 406.1 L418.1 431.1 L420.5 413.6 L423 391.1 L425.4 366.1 L427.9 436.1 L430.3 416.1 L432.8 428.6 L435.2 406.1 L437.6 431.1 L440.1 401.1 L442.5 421.1 L445 411.1 L447.4 421.1 L449.9 423.6 L452.3 426.1 L454.7 433.6 L457.2 406.1 L459.6 423.6 L462.1 406.1 L464.5 431.1 L467 381.1 L469.4 371.1 L471.8 418.6 L474.3 269.9 L476.7 437.4 L479.2 437.4 L481.6 341.1 L484.1 401.1 L486.5 406.1 L488.9 411.1 L491.4 416.1 L493.8 401.1 L496.3 416.1 L498.7 378.6 L501.2 423.6 L503.6 218.2 L506.1 426.1 L508.5 328.7 L510.9 401.1 L513.4 418.6 L515.8 416.1 L518.3 406.1 L520.7 209.9 L523.2 421.1 L525.6 173.2 L528 351.1 L530.5 423.6 L532.9 423.6 L535.4 331.2 L537.8 411.1 L540.3 381.1 L542.7 411.1 L545.1 416.1 L547.6 396.1 L550 291.2 L552.5 287.4 L554.9 306.2 L557.4 401.1 L559.8 423.6 L562.2 313.7 L564.7 406.1 L567.1 411.1 L569.6 416.1 L572 433.6 L574.5 433.6 L576.9 406.1 L579.3 373.6 L581.8 401.1 L584.2 406.1 L586.7 381.1 L589.1 378.6 L591.6 194.9 L594 401.1 L596.4 431.1 L598.9 437.4 L601.3 436.1 L603.8 436.1 L606.2 436.1 L608.7 436.1 L611.1 436.1 L613.5 254.9 L616 433.6 L618.4 426.1 L620.9 401.1 L623.3 386.1 L625.8 428.6 L628.2 418.6 L630.6 241.7 L633.1 426.1 L635.5 431.1 L638 431.1 L640.4 426.1 L642.9 383.6 L645.3 428.6 L647.7 421.1 L650.2 398.6 L652.6 406.1 L655.1 301.2 L657.5 411.1 L660 426.1 L662.4 433.6 L664.8 358.6 L667.3 401.1 L669.7 270.7 L672.2 426.1 L674.6 351.1 L677.1 406.1 L679.5 282.4 L681.9 393.6 L684.4 324.9 L686.8 433.6 L689.3 431.1 L691.7 328.7 L694.2 406.1 L696.6 426.1 L699 332.4 L701.5 433.6 L703.9 428.6 L706.4 416.1 L708.8 361.1 L711.3 388.6 L713.7 406.1 L716.1 237.4 L718.6 396.1 L721 398.6 L723.5 239.9 L725.9 368.6 L728.4 411.1 L730.8 351.1 L733.2 332.4 L735.7 381.1 L738.1 406.1 L740.6 418.6 L743 356.1 L745.5 351.1 L747.9 406.1 L750.4 436.1 L752.8 436.1 L755.2 426.1 L757.7 406.1 L760.1 327.4 L762.6 401.1 L765 366.1 L767.5 406.1 L769.9 426.1 L772.3 433.6 L774.8 426.1 L777.2 372.4 L779.7 406.1 L782.1 416.1 L784.6 383.6 L787 426.1 L789.4 431.1 L791.9 433.6 L794.3 413.6 L796.8 426.1 L799.2 351.1 L801.7 426.1 L804.1 428.6 L806.5 431.1 L809 436.1 L811.4 403.6 L813.9 416.1 L816.3 411.1 L818.8 413.6 L821.2 358.6 L823.6 418.6 L826.1 398.6 L828.5 418.6 L831 421.1 L833.4 423.6 L835.9 353.6 L838.3 426.1 L840.7 406.1 L843.2 328.7 L845.6 356.1 L848.1 381.1 L850.5 413.6 L853 431.1 L855.4 406.1 L857.8 362.4 L860.3 426.1 L862.7 381.1 L865.2 428.6 L867.6 368.6 L870.1 406.1 L872.5 321.2 L874.9 426.1 L877.4 406.1 L879.8 416.1 L882.3 351.1 L884.7 381.1 L887.2 306.2 L889.6 368.6 L892 436.1 L894.5 328.7 L896.9 426.1 L899.4 401.1 L901.8 274.2 L904.3 393.6 L906.7 406.1 L909.1 351.1 L911.6 418.6 L914 426.1 L916.5 431.1 L918.9 401.1 L921.4 358.6 L923.8 381.1 L926.2 351.1 L928.7 341.7 L931.1 377.7 L933.6 371 L936 372.1 L938.5 404.8 L940.9 215.7 L943.3 409.3 L945.8 429.5 L948.2 431.8 L950.7 345.1 L953.1 431.8 L955.6 413.8 L958 404.8 L960.4 282.8 L962.9 404.8 L965.3 437.4 L967.8 386.8 L970.2 322.6 L972.7 375.5 L975.1 393.5 L977.6 355.2 L980 418.3 L982.4 382.3 L984.9 409.3 L987.3 431.8 L989.8 429.5 L992.2 409.3 L994.7 373.2 L997.1 418.3 L999.5 294.5 L1002 398 L1004.4 413.8 L1006.9 339.5 L1009.3 364.2 L1011.8 409.3 L1014.2 418.3 L1016.6 413.8 L1019.1 301.2 L1021.5 386.8 L1024 358.6 L1026.4 409.3 L1028.9 384.5 L1031.3 418.3 L1033.7 347.4 L1036.2 353 L1038.6 339.5 L1041.1 404.8 L1043.5 413.8 L1046 416 L1048.4 386.8 L1050.8 354.1 L1053.3 436.3 L1055.7 436.3 L1058.2 436.3 L1060.6 404.8 L1063.1 361.7 L1065.5 370.3 L1067.9 322.9 L1070.4 435.7 L1072.8 408.1 L1075.3 433.9 L1077.7 430.5 L1080.2 401.2 L1082.6 432.2 L1085 434.8 L1087.5 435.7 L1089.9 430.5 L1092.4 425.3 L1094.8 420.2 L1097.3 415 L1099.7 358.2 L1102.1 387.5 L1104.6 375.4 L1107 421.9 L1109.5 413.3 L1111.9 396.1 L1114.4 384 L1116.8 425.3 L1119.2 434.8 L1121.7 428.8 L1124.1 413.3 L1126.6 338.4 L1129 413.3 L1131.5 384.9 L1133.9 401.2 L1136.3 387.5 L1138.8 376.3 L1141.2 378.9 L1143.7 399.5 L1146.1 413.3 L1148.6 433.9 L1151 433.1 L1153.4 420.2 L1155.9 428.8 L1158.3 435.7" fill="none" stroke="#FFA826" stroke-width="0.9" stroke-linejoin="round" />
<path d="M122.5 425.2 L124.9 431.7 L127.4 406.5 L129.8 391.6 L132.3 425.4 L134.7 430.8 L137.2 405.7 L139.6 421 L142 432.9 L144.5 432.9 L146.9 425.7 L149.4 428.1 L151.8 426.9 L154.3 428.6 L156.7 429.3 L159.1 428.1 L161.6 414.1 L164 428.1 L166.5 419.8 L168.9 428.1 L171.4 417.9 L173.8 432.7 L176.2 426 L178.7 425.5 L181.1 429.9 L183.6 432.2 L186 432.2 L188.5 429.4 L190.9 432.7 L193.3 432.7 L195.8 426.6 L198.2 425.5 L200.7 425.5 L203.1 425.5 L205.6 425.5 L208 429.4 L210.4 429.4 L212.9 426.6 L215.3 424.9 L217.8 415.8 L220.2 429.9 L222.7 432.7 L225.1 431.6 L227.5 432.7 L230 429.9 L232.4 430.5 L234.9 431.7 L237.3 431 L239.8 432.5 L242.2 431.7 L244.7 431 L247.1 413.9 L249.5 432.9 L252 428.1 L254.4 417.7 L256.9 432.9 L259.3 432.9 L261.8 432.5 L264.2 420.8 L266.6 409.2 L269.1 402.6 L271.5 401.1 L274 420.6 L276.4 425.7 L278.9 416.6 L281.3 402.4 L283.7 402.4 L286.2 411.9 L288.6 419.7 L291.1 426.9 L293.5 418.4 L296 400.2 L298.4 420.1 L300.8 387.7 L303.3 352.3 L305.7 330.6 L308.2 374 L310.6 430.8 L313.1 420.8 L315.5 413.6 L317.9 420.8 L320.4 413.6 L322.8 394.5 L325.3 420.8 L327.7 432.9 L330.2 418.4 L332.6 428.1 L335 410.1 L337.5 425.7 L339.9 425.6 L342.4 424.2 L344.8 394.3 L347.3 408.4 L349.7 421.3 L352.1 427.1 L354.6 425.6 L357 424.2 L359.5 427.1 L361.9 424.8 L364.4 426.5 L366.8 418.4 L369.2 399.5 L371.7 412.6 L374.1 424.2 L376.6 427.1 L379 427.1 L381.5 395.1 L383.9 421.3 L386.3 410.5 L388.8 427.1 L391.2 406.3 L393.7 407.1 L396.1 421.3 L398.6 430 L401 427.1 L403.4 421.3 L405.9 415.5 L408.3 409.7 L410.8 418.4 L413.2 425.6 L415.7 394.3 L418.1 427.1 L420.5 406.8 L423 380.7 L425.4 350.6 L427.9 432.9 L430.3 409.7 L432.8 424.2 L435.2 398.1 L437.6 427.1 L440.1 392.4 L442.5 411.3 L445 401.1 L447.4 415.5 L449.9 418.4 L452.3 421.3 L454.7 430 L457.2 398.1 L459.6 418.4 L462.1 398.1 L464.5 427.1 L467 371.6 L469.4 358 L471.8 412.6 L474.3 235.9 L476.7 434.3 L479.2 434.3 L481.6 322 L484.1 392.3 L486.5 398.1 L488.9 403.9 L491.4 404.8 L493.8 392.3 L496.3 409.7 L498.7 366.3 L501.2 418.4 L503.6 175.4 L506.1 421.3 L508.5 307.2 L510.9 392.3 L513.4 408.1 L515.8 409.7 L518.3 398.1 L520.7 170.1 L523.2 415.5 L525.6 131.6 L528 328.5 L530.5 418.4 L532.9 418.4 L535.4 312.2 L537.8 403.9 L540.3 370.6 L542.7 403.9 L545.1 409.7 L547.6 386.5 L550 263.6 L552.5 260.2 L554.9 277.5 L557.4 392.3 L559.8 418.4 L562.2 291.8 L564.7 398.1 L567.1 403.9 L569.6 409.7 L572 430 L574.5 430 L576.9 398.1 L579.3 352.4 L581.8 392.3 L584.2 398.1 L586.7 369.5 L589.1 368 L591.6 154.2 L594 392.3 L596.4 427.1 L598.9 434.3 L601.3 432.9 L603.8 432.9 L606.2 432.9 L608.7 432.9 L611.1 432.9 L613.5 222.9 L616 430 L618.4 421.3 L620.9 392.3 L623.3 375.2 L625.8 424.2 L628.2 412.6 L630.6 199.8 L633.1 421.3 L635.5 427.1 L638 427.1 L640.4 421.3 L642.9 371.2 L645.3 424.2 L647.7 415.5 L650.2 389.4 L652.6 398.1 L655.1 266.9 L657.5 403.9 L660 421.3 L662.4 430 L664.8 340.7 L667.3 392.3 L669.7 237.6 L672.2 421.3 L674.6 334.5 L677.1 398.1 L679.5 252.7 L681.9 383.6 L684.4 306.8 L686.8 430 L689.3 427.1 L691.7 307.9 L694.2 398.1 L696.6 421.3 L699 312.7 L701.5 430 L703.9 424.2 L706.4 409.7 L708.8 348.7 L711.3 377.8 L713.7 398.1 L716.1 204.6 L718.6 386.5 L721 389.4 L723.5 202.6 L725.9 354.6 L728.4 403.9 L730.8 327.5 L733.2 314 L735.7 369.1 L738.1 398.1 L740.6 412.6 L743 339.2 L745.5 336.2 L747.9 398.1 L750.4 432.9 L752.8 432.9 L755.2 421.3 L757.7 398.1 L760.1 294.4 L762.6 392.3 L765 345.2 L767.5 398.1 L769.9 421.3 L772.3 430 L774.8 421.3 L777.2 350.6 L779.7 398.1 L782.1 409.7 L784.6 371 L787 421.3 L789.4 427.1 L791.9 430 L794.3 406.8 L796.8 421.3 L799.2 328.9 L801.7 421.3 L804.1 424.2 L806.5 427.1 L809 432.9 L811.4 392.3 L813.9 409.7 L816.3 403.9 L818.8 405.4 L821.2 337.2 L823.6 412.6 L826.1 386 L828.5 412.6 L831 415.5 L833.4 418.4 L835.9 333.5 L838.3 421.3 L840.7 398.1 L843.2 302.3 L845.6 340.1 L848.1 369.1 L850.5 406.8 L853 427.1 L855.4 398.1 L857.8 350.9 L860.3 421.3 L862.7 365.1 L865.2 424.2 L867.6 351.1 L870.1 398.1 L872.5 294.7 L874.9 421.3 L877.4 398.1 L879.8 409.7 L882.3 337.3 L884.7 369.1 L887.2 279.5 L889.6 354.6 L892 432.9 L894.5 299.8 L896.9 421.3 L899.4 392.3 L901.8 220.7 L904.3 383.6 L906.7 398.1 L909.1 322.6 L911.6 412.6 L914 421.3 L916.5 427.1 L918.9 392.3 L921.4 333.1 L923.8 369.1 L926.2 334.3 L928.7 305.8 L931.1 357.5 L933.6 348.8 L936 342.8 L938.5 392.3 L940.9 130.1 L943.3 398.1 L945.8 424.2 L948.2 427.1 L950.7 316.9 L953.1 427.1 L955.6 403.9 L958 392.3 L960.4 225.7 L962.9 392.3 L965.3 434.3 L967.8 369.1 L970.2 271.9 L972.7 354.6 L975.1 377.8 L977.6 321.7 L980 409.7 L982.4 363.2 L984.9 398.1 L987.3 427.1 L989.8 424.2 L992.2 398.1 L994.7 351.7 L997.1 409.7 L999.5 240.5 L1002 383.6 L1004.4 403.9 L1006.9 300.6 L1009.3 329.4 L1011.8 398.1 L1014.2 409.7 L1016.6 403.9 L1019.1 246.8 L1021.5 369.1 L1024 330.5 L1026.4 398.1 L1028.9 362 L1031.3 409.7 L1033.7 303.1 L1036.2 325.6 L1038.6 297 L1041.1 392.3 L1043.5 403.9 L1046 406.8 L1048.4 369.1 L1050.8 315.9 L1053.3 432.9 L1055.7 432.9 L1058.2 432.9 L1060.6 392.3 L1063.1 323.3 L1065.5 335.7 L1067.9 267.5 L1070.4 429.9 L1072.8 390.2 L1075.3 427.4 L1077.7 425.5 L1080.2 380.3 L1082.6 424.9 L1085 428.7 L1087.5 430.1 L1089.9 423.3 L1092.4 415.7 L1094.8 407.6 L1097.3 400.1 L1099.7 318.4 L1102.1 361.3 L1104.6 343.1 L1107 410.1 L1109.5 397.7 L1111.9 372.9 L1114.4 355.5 L1116.8 415 L1119.2 428.7 L1121.7 420 L1124.1 397.7 L1126.6 289.8 L1129 397.7 L1131.5 356.8 L1133.9 380.3 L1136.3 360.5 L1138.8 344.4 L1141.2 348.1 L1143.7 377.8 L1146.1 397.7 L1148.6 429 L1151 426.7 L1153.4 410.6 L1155.9 422.2 L1158.3 430.1" fill="none" stroke="#FFA826" stroke-width="0.9" stroke-linejoin="round" />
<path d="M122.5 428.6 L124.9 434.3 L127.4 416.3 L129.8 404.7 L132.3 431.2 L134.7 435.4 L137.2 415.3 L139.6 426.9 L142 435.4 L144.5 435.4 L146.9 429 L149.4 431.2 L151.8 430.1 L154.3 431.6 L156.7 432.2 L159.1 431.2 L161.6 419.5 L164 431.2 L166.5 423.7 L168.9 431.2 L171.4 422.5 L173.8 435.2 L176.2 429.3 L178.7 428.8 L181.1 432.8 L183.6 434.7 L186 434.7 L188.5 432.3 L190.9 435.2 L193.3 435.2 L195.8 429.8 L198.2 428.8 L200.7 428.8 L203.1 428.8 L205.6 428.8 L208 432.3 L210.4 432.3 L212.9 429.8 L215.3 428.4 L217.8 422 L220.2 432.8 L222.7 435.2 L225.1 434.2 L227.5 435.2 L230 432.8 L232.4 433.3 L234.9 434.3 L237.3 433.7 L239.8 435 L242.2 434.3 L244.7 433.7 L247.1 419.5 L249.5 435.4 L252 431.2 L254.4 422.7 L256.9 435.4 L259.3 435.4 L261.8 435 L264.2 424.8 L266.6 416.3 L269.1 412.1 L271.5 411 L274 424.8 L276.4 429 L278.9 422.7 L281.3 413.1 L283.7 413.1 L286.2 420.6 L288.6 424.8 L291.1 430.1 L293.5 422.7 L296 411 L298.4 426.9 L300.8 401.5 L303.3 373.9 L305.7 357 L308.2 390.9 L310.6 435.4 L313.1 424.8 L315.5 418.4 L317.9 424.8 L320.4 418.4 L322.8 406.8 L325.3 424.8 L327.7 435.4 L330.2 422.7 L332.6 431.2 L335 416.3 L337.5 429 L339.9 429 L342.4 427.7 L344.8 404.9 L347.3 417.6 L349.7 425.2 L352.1 430.3 L354.6 429 L357 427.7 L359.5 430.3 L361.9 428.2 L364.4 429.8 L366.8 422.7 L369.2 410 L371.7 417.6 L374.1 427.7 L376.6 430.3 L379 430.3 L381.5 407.4 L383.9 425.2 L386.3 417.6 L388.8 430.3 L391.2 415 L393.7 416.3 L396.1 425.2 L398.6 432.8 L401 430.3 L403.4 425.2 L405.9 420.1 L408.3 415 L410.8 422.7 L413.2 429 L415.7 404.9 L418.1 430.3 L420.5 412.5 L423 389.7 L425.4 364.3 L427.9 435.3 L430.3 415 L432.8 427.7 L435.2 404.9 L437.6 430.3 L440.1 399.8 L442.5 420.1 L445 410 L447.4 420.1 L449.9 422.7 L452.3 425.2 L454.7 432.8 L457.2 404.9 L459.6 422.7 L462.1 404.9 L464.5 430.3 L467 379.5 L469.4 369.4 L471.8 417.6 L474.3 266.6 L476.7 436.6 L479.2 436.6 L481.6 338.9 L484.1 399.8 L486.5 404.9 L488.9 410 L491.4 415 L493.8 399.8 L496.3 415 L498.7 377 L501.2 422.7 L503.6 214.1 L506.1 425.2 L508.5 326.2 L510.9 399.8 L513.4 417.6 L515.8 415 L518.3 404.9 L520.7 205.7 L523.2 420.1 L525.6 168.4 L528 349.1 L530.5 422.7 L532.9 422.7 L535.4 328.8 L537.8 410 L540.3 379.5 L542.7 410 L545.1 415 L547.6 394.7 L550 288.2 L552.5 284.4 L554.9 303.4 L557.4 399.8 L559.8 422.7 L562.2 311 L564.7 404.9 L567.1 410 L569.6 415 L572 432.8 L574.5 432.8 L576.9 404.9 L579.3 371.9 L581.8 399.8 L584.2 404.9 L586.7 379.5 L589.1 377 L591.6 190.5 L594 399.8 L596.4 430.3 L598.9 436.6 L601.3 435.3 L603.8 435.3 L606.2 435.3 L608.7 435.3 L611.1 435.3 L613.5 251.4 L616 432.8 L618.4 425.2 L620.9 399.8 L623.3 384.6 L625.8 427.7 L628.2 417.6 L630.6 238 L633.1 425.2 L635.5 430.3 L638 430.3 L640.4 425.2 L642.9 382.1 L645.3 427.7 L647.7 420.1 L650.2 397.3 L652.6 404.9 L655.1 298.3 L657.5 410 L660 425.2 L662.4 432.8 L664.8 356.7 L667.3 399.8 L669.7 267.4 L672.2 425.2 L674.6 349.1 L677.1 404.9 L679.5 279.3 L681.9 392.2 L684.4 322.4 L686.8 432.8 L689.3 430.3 L691.7 326.2 L694.2 404.9 L696.6 425.2 L699 330.1 L701.5 432.8 L703.9 427.7 L706.4 415 L708.8 359.2 L711.3 387.1 L713.7 404.9 L716.1 233.6 L718.6 394.7 L721 397.3 L723.5 236.2 L725.9 366.8 L728.4 410 L730.8 349.1 L733.2 330.1 L735.7 379.5 L738.1 404.9 L740.6 417.6 L743 354.2 L745.5 349.1 L747.9 404.9 L750.4 435.3 L752.8 435.3 L755.2 425.2 L757.7 404.9 L760.1 325 L762.6 399.8 L765 364.3 L767.5 404.9 L769.9 425.2 L772.3 432.8 L774.8 425.2 L777.2 370.6 L779.7 404.9 L782.1 415 L784.6 382.1 L787 425.2 L789.4 430.3 L791.9 432.8 L794.3 412.5 L796.8 425.2 L799.2 349.1 L801.7 425.2 L804.1 427.7 L806.5 430.3 L809 435.3 L811.4 402.4 L813.9 415 L816.3 410 L818.8 412.5 L821.2 356.7 L823.6 417.6 L826.1 397.3 L828.5 417.6 L831 420.1 L833.4 422.7 L835.9 351.6 L838.3 425.2 L840.7 404.9 L843.2 326.2 L845.6 354.2 L848.1 379.5 L850.5 412.5 L853 430.3 L855.4 404.9 L857.8 360.5 L860.3 425.2 L862.7 379.5 L865.2 427.7 L867.6 366.8 L870.1 404.9 L872.5 318.6 L874.9 425.2 L877.4 404.9 L879.8 415 L882.3 349.1 L884.7 379.5 L887.2 303.4 L889.6 366.8 L892 435.3 L894.5 326.2 L896.9 425.2 L899.4 399.8 L901.8 270.9 L904.3 392.2 L906.7 404.9 L909.1 349.1 L911.6 417.6 L914 425.2 L916.5 430.3 L918.9 399.8 L921.4 356.7 L923.8 379.5 L926.2 349.1 L928.7 335.1 L931.1 373.3 L933.6 366.2 L936 367.4 L938.5 402 L940.9 201.4 L943.3 406.8 L945.8 428.3 L948.2 430.6 L950.7 338.7 L953.1 430.6 L955.6 411.5 L958 402 L960.4 272.6 L962.9 402 L965.3 436.6 L967.8 382.9 L970.2 314.8 L972.7 370.9 L975.1 390.1 L977.6 349.5 L980 416.3 L982.4 378.1 L984.9 406.8 L987.3 430.6 L989.8 428.3 L992.2 406.8 L994.7 368.6 L997.1 416.3 L999.5 285 L1002 394.8 L1004.4 411.5 L1006.9 332.7 L1009.3 359 L1011.8 406.8 L1014.2 416.3 L1016.6 411.5 L1019.1 292.2 L1021.5 382.9 L1024 353 L1026.4 406.8 L1028.9 380.5 L1031.3 416.3 L1033.7 341.1 L1036.2 347.1 L1038.6 332.7 L1041.1 402 L1043.5 411.5 L1046 413.9 L1048.4 382.9 L1050.8 348.3 L1053.3 435.4 L1055.7 435.4 L1058.2 435.4 L1060.6 402 L1063.1 356.3 L1065.5 365.4 L1067.9 315.2 L1070.4 434.8 L1072.8 405.6 L1075.3 433 L1077.7 429.3 L1080.2 398.3 L1082.6 431.1 L1085 433.9 L1087.5 434.8 L1089.9 429.3 L1092.4 423.8 L1094.8 418.3 L1097.3 412.9 L1099.7 352.6 L1102.1 383.7 L1104.6 370.9 L1107 420.2 L1109.5 411 L1111.9 392.8 L1114.4 380 L1116.8 423.8 L1119.2 433.9 L1121.7 427.5 L1124.1 411 L1126.6 331.6 L1129 411 L1131.5 380.9 L1133.9 398.3 L1136.3 383.7 L1138.8 371.8 L1141.2 374.5 L1143.7 396.4 L1146.1 411 L1148.6 433 L1151 432 L1153.4 418.3 L1155.9 427.5 L1158.3 434.8" fill="none" stroke="#FFA826" stroke-width="0.9" stroke-linejoin="round" />
<path d="M122.5 426.6 L124.9 432.7 L127.4 412 L129.8 399.1 L132.3 428.4 L134.7 433.1 L137.2 411 L139.6 424 L142 433.8 L144.5 433.8 L146.9 427 L149.4 429.3 L151.8 428.2 L154.3 429.7 L156.7 430.4 L159.1 429.3 L161.6 416.7 L164 429.3 L166.5 421.5 L168.9 429.3 L171.4 420 L173.8 433.6 L176.2 427.3 L178.7 426.8 L181.1 431 L183.6 433.1 L186 433.1 L188.5 430.5 L190.9 433.6 L193.3 433.6 L195.8 427.9 L198.2 426.8 L200.7 426.8 L203.1 426.8 L205.6 426.8 L208 430.5 L210.4 430.5 L212.9 427.9 L215.3 426.3 L217.8 418.9 L220.2 431 L222.7 433.6 L225.1 432.5 L227.5 433.6 L230 431 L232.4 431.5 L234.9 432.7 L237.3 432 L239.8 433.3 L242.2 432.7 L244.7 432 L247.1 416.6 L249.5 433.8 L252 429.3 L254.4 420.1 L256.9 433.8 L259.3 433.8 L261.8 433.3 L264.2 422.5 L266.6 412.9 L269.1 407.8 L271.5 406.6 L274 422.5 L276.4 427 L278.9 419.7 L281.3 408.5 L283.7 408.5 L286.2 416.7 L288.6 422.2 L291.1 428.2 L293.5 420.3 L296 406.3 L298.4 423.7 L300.8 395.6 L303.3 365.1 L305.7 346.3 L308.2 383.8 L310.6 433.1 L313.1 422.5 L315.5 415.8 L317.9 422.5 L320.4 415.8 L322.8 401.5 L325.3 422.5 L327.7 433.8 L330.2 420.3 L332.6 429.3 L335 413.2 L337.5 427 L339.9 427 L342.4 425.6 L344.8 400.1 L347.3 413.5 L349.7 422.9 L352.1 428.3 L354.6 427 L357 425.6 L359.5 428.3 L361.9 426.2 L364.4 427.8 L366.8 420.3 L369.2 405.3 L371.7 414.9 L374.1 425.6 L376.6 428.3 L379 428.3 L381.5 402.1 L383.9 422.9 L386.3 414.2 L388.8 428.3 L391.2 411.1 L393.7 412.2 L396.1 422.9 L398.6 431 L401 428.3 L403.4 422.9 L405.9 417.6 L408.3 412.2 L410.8 420.3 L413.2 427 L415.7 400.1 L418.1 428.3 L420.5 409.5 L423 385.2 L425.4 357.9 L427.9 433.7 L430.3 412.2 L432.8 425.6 L435.2 401.4 L437.6 428.3 L440.1 396 L442.5 416.2 L445 405.9 L447.4 417.6 L449.9 420.3 L452.3 422.9 L454.7 431 L457.2 401.4 L459.6 420.3 L462.1 401.4 L464.5 428.3 L467 375.3 L469.4 363.8 L471.8 414.9 L474.3 253.2 L476.7 435.1 L479.2 435.1 L481.6 331.1 L484.1 396 L486.5 401.4 L488.9 406.8 L491.4 410.6 L493.8 396 L496.3 412.2 L498.7 371.8 L501.2 420.3 L503.6 197.2 L506.1 422.9 L508.5 317.5 L510.9 396 L513.4 413.4 L515.8 412.2 L518.3 401.4 L520.7 189.8 L523.2 417.6 L525.6 151.5 L528 340.2 L530.5 420.3 L532.9 420.3 L535.4 320.9 L537.8 406.8 L540.3 374.9 L542.7 406.8 L545.1 412.2 L547.6 390.6 L550 277.1 L552.5 273.4 L554.9 292.1 L557.4 396 L559.8 420.3 L562.2 302 L564.7 401.4 L567.1 406.8 L569.6 412.2 L572 431 L574.5 431 L576.9 401.4 L579.3 363.7 L581.8 396 L584.2 401.4 L586.7 374.6 L589.1 372.3 L591.6 174.1 L594 396 L596.4 428.3 L598.9 435.1 L601.3 433.7 L603.8 433.7 L606.2 433.7 L608.7 433.7 L611.1 433.7 L613.5 238.5 L616 431 L618.4 422.9 L620.9 396 L623.3 379.9 L625.8 425.6 L628.2 414.9 L630.6 221.7 L633.1 422.9 L635.5 428.3 L638 428.3 L640.4 422.9 L642.9 376.9 L645.3 425.6 L647.7 417.6 L650.2 393.3 L652.6 401.4 L655.1 285.1 L657.5 406.8 L660 422.9 L662.4 431 L664.8 349.4 L667.3 396 L669.7 254.3 L672.2 422.9 L674.6 342.2 L677.1 401.4 L679.5 267.4 L681.9 387.9 L684.4 314.8 L686.8 431 L689.3 428.3 L691.7 317.8 L694.2 401.4 L696.6 422.9 L699 322 L701.5 431 L703.9 425.6 L706.4 412.2 L708.8 353.8 L711.3 382.5 L713.7 401.4 L716.1 220.3 L718.6 390.6 L721 393.3 L723.5 221.3 L725.9 361 L728.4 406.8 L730.8 339.9 L733.2 322.4 L735.7 374.5 L738.1 401.4 L740.6 414.9 L743 347.2 L745.5 342.7 L747.9 401.4 L750.4 433.7 L752.8 433.7 L755.2 422.9 L757.7 401.4 L760.1 312.5 L762.6 396 L765 356.1 L767.5 401.4 L769.9 422.9 L772.3 431 L774.8 422.9 L777.2 362.3 L779.7 401.4 L782.1 412.2 L784.6 376.8 L787 422.9 L789.4 428.3 L791.9 431 L794.3 409.5 L796.8 422.9 L799.2 340.3 L801.7 422.9 L804.1 425.6 L806.5 428.3 L809 433.7 L811.4 397.7 L813.9 412.2 L816.3 406.8 L818.8 409 L821.2 348.3 L823.6 414.9 L826.1 392.2 L828.5 414.9 L831 417.6 L833.4 420.3 L835.9 343.6 L838.3 422.9 L840.7 401.4 L843.2 315.9 L845.6 347.5 L848.1 374.5 L850.5 409.5 L853 428.3 L855.4 401.4 L857.8 355.4 L860.3 422.9 L862.7 373.1 L865.2 425.6 L867.6 359.8 L870.1 401.4 L872.5 308.2 L874.9 422.9 L877.4 401.4 L879.8 412.2 L882.3 343.1 L884.7 374.5 L887.2 292.8 L889.6 361 L892 433.7 L894.5 315.1 L896.9 422.9 L899.4 396 L901.8 251.1 L904.3 387.9 L906.7 401.4 L909.1 338.2 L911.6 414.9 L914 422.9 L916.5 428.3 L918.9 396 L921.4 346.9 L923.8 374.5 L926.2 342.1 L928.7 318.8 L931.1 363.7 L933.6 355.6 L936 354.5 L938.5 396 L940.9 163.6 L943.3 401.4 L945.8 425.6 L948.2 428.3 L950.7 325.1 L953.1 428.3 L955.6 406.8 L958 396 L960.4 246.9 L962.9 396 L965.3 435.1 L967.8 374.5 L970.2 292.9 L972.7 361 L975.1 382.5 L977.6 334.5 L980 412.2 L982.4 369 L984.9 401.4 L987.3 428.3 L989.8 425.6 L992.2 401.4 L994.7 358.3 L997.1 412.2 L999.5 260.8 L1002 387.9 L1004.4 406.8 L1006.9 315.4 L1009.3 344 L1011.8 401.4 L1014.2 412.2 L1016.6 406.8 L1019.1 268.1 L1021.5 374.5 L1024 340 L1026.4 401.4 L1028.9 370.4 L1031.3 412.2 L1033.7 322.3 L1036.2 334.1 L1038.6 314.2 L1041.1 396 L1043.5 406.8 L1046 409.5 L1048.4 374.5 L1050.8 331.7 L1053.3 433.7 L1055.7 433.7 L1058.2 433.7 L1060.6 396 L1063.1 340 L1065.5 350.7 L1067.9 291.7 L1070.4 432.3 L1072.8 397.9 L1075.3 430.1 L1077.7 426.8 L1080.2 389.3 L1082.6 428 L1085 431.2 L1087.5 432.3 L1089.9 426.1 L1092.4 419.6 L1094.8 413 L1097.3 406.5 L1099.7 335.7 L1102.1 372.4 L1104.6 357.1 L1107 415.1 L1109.5 404.4 L1111.9 382.9 L1114.4 367.9 L1116.8 419.4 L1119.2 431.2 L1121.7 423.7 L1124.1 404.4 L1126.6 311 L1129 404.4 L1131.5 369 L1133.9 389.3 L1136.3 372.2 L1138.8 358.2 L1141.2 361.4 L1143.7 387.2 L1146.1 404.4 L1148.6 430.6 L1151 429.2 L1153.4 414 L1155.9 424.4 L1158.3 432.3" fill="none" stroke="#FFA826" stroke-width="0.9" stroke-linejoin="round" />
<path d="M122.5 427.9 L124.9 433.7 L127.4 415.5 L129.8 403.7 L132.3 430.5 L134.7 434.8 L137.2 414.4 L139.6 426.2 L142 434.8 L144.5 434.8 L146.9 428.4 L149.4 430.5 L151.8 429.4 L154.3 430.9 L156.7 431.6 L159.1 430.5 L161.6 418.7 L164 430.5 L166.5 423 L168.9 430.5 L171.4 421.7 L173.8 434.6 L176.2 428.7 L178.7 428.2 L181.1 432.1 L183.6 434.1 L186 434.1 L188.5 431.6 L190.9 434.6 L193.3 434.6 L195.8 429.2 L198.2 428.2 L200.7 428.2 L203.1 428.2 L205.6 428.2 L208 431.6 L210.4 431.6 L212.9 429.2 L215.3 427.7 L217.8 421.2 L220.2 432.1 L222.7 434.6 L225.1 433.6 L227.5 434.6 L230 432.1 L232.4 432.7 L234.9 433.7 L237.3 433.1 L239.8 434.4 L242.2 433.7 L244.7 433.1 L247.1 418.7 L249.5 434.8 L252 430.5 L254.4 421.9 L256.9 434.8 L259.3 434.8 L261.8 434.4 L264.2 424.1 L266.6 415.5 L269.1 411.2 L271.5 410.2 L274 424.1 L276.4 428.4 L278.9 421.9 L281.3 412.3 L283.7 412.3 L286.2 419.8 L288.6 424.1 L291.1 429.4 L293.5 421.9 L296 410.2 L298.4 426.2 L300.8 400.5 L303.3 372.6 L305.7 355.5 L308.2 389.8 L310.6 434.8 L313.1 424.1 L315.5 417.7 L317.9 424.1 L320.4 417.7 L322.8 405.9 L325.3 424.1 L327.7 434.8 L330.2 421.9 L332.6 430.5 L335 415.5 L337.5 428.4 L339.9 428.3 L342.4 427 L344.8 404 L347.3 416.8 L349.7 424.5 L352.1 429.6 L354.6 428.3 L357 427 L359.5 429.6 L361.9 427.6 L364.4 429.1 L366.8 421.9 L369.2 409.1 L371.7 416.8 L374.1 427 L376.6 429.6 L379 429.6 L381.5 406.5 L383.9 424.5 L386.3 416.8 L388.8 429.6 L391.2 414.2 L393.7 415.5 L396.1 424.5 L398.6 432.2 L401 429.6 L403.4 424.5 L405.9 419.3 L408.3 414.2 L410.8 421.9 L413.2 428.3 L415.7 404 L418.1 429.6 L420.5 411.7 L423 388.6 L425.4 362.9 L427.9 434.7 L430.3 414.2 L432.8 427 L435.2 404 L437.6 429.6 L440.1 398.8 L442.5 419.3 L445 409.1 L447.4 419.3 L449.9 421.9 L452.3 424.5 L454.7 432.2 L457.2 404 L459.6 421.9 L462.1 404 L464.5 429.6 L467 378.3 L469.4 368 L471.8 416.8 L474.3 264.2 L476.7 436 L479.2 436 L481.6 337.3 L484.1 398.8 L486.5 404 L488.9 409.1 L491.4 414.2 L493.8 398.8 L496.3 414.2 L498.7 375.7 L501.2 421.9 L503.6 211.1 L506.1 424.5 L508.5 324.4 L510.9 398.8 L513.4 416.8 L515.8 414.2 L518.3 404 L520.7 202.6 L523.2 419.3 L525.6 164.9 L528 347.5 L530.5 421.9 L532.9 421.9 L535.4 327 L537.8 409.1 L540.3 378.3 L542.7 409.1 L545.1 414.2 L547.6 393.7 L550 286 L552.5 282.1 L554.9 301.4 L557.4 398.8 L559.8 421.9 L562.2 309.1 L564.7 404 L567.1 409.1 L569.6 414.2 L572 432.2 L574.5 432.2 L576.9 404 L579.3 370.6 L581.8 398.8 L584.2 404 L586.7 378.3 L589.1 375.7 L591.6 187.2 L594 398.8 L596.4 429.6 L598.9 436 L601.3 434.7 L603.8 434.7 L606.2 434.7 L608.7 434.7 L611.1 434.7 L613.5 248.8 L616 432.2 L618.4 424.5 L620.9 398.8 L623.3 383.4 L625.8 427 L628.2 416.8 L630.6 235.2 L633.1 424.5 L635.5 429.6 L638 429.6 L640.4 424.5 L642.9 380.9 L645.3 427 L647.7 419.3 L650.2 396.3 L652.6 404 L655.1 296.2 L657.5 409.1 L660 424.5 L662.4 432.2 L664.8 355.2 L667.3 398.8 L669.7 264.9 L672.2 424.5 L674.6 347.5 L677.1 404 L679.5 277 L681.9 391.1 L684.4 320.6 L686.8 432.2 L689.3 429.6 L691.7 324.4 L694.2 404 L696.6 424.5 L699 328.3 L701.5 432.2 L703.9 427 L706.4 414.2 L708.8 357.8 L711.3 386 L713.7 404 L716.1 230.8 L718.6 393.7 L721 396.3 L723.5 233.4 L725.9 365.5 L728.4 409.1 L730.8 347.5 L733.2 328.3 L735.7 378.3 L738.1 404 L740.6 416.8 L743 352.7 L745.5 347.5 L747.9 404 L750.4 434.7 L752.8 434.7 L755.2 424.5 L757.7 404 L760.1 323.2 L762.6 398.8 L765 362.9 L767.5 404 L769.9 424.5 L772.3 432.2 L774.8 424.5 L777.2 369.3 L779.7 404 L782.1 414.2 L784.6 380.9 L787 424.5 L789.4 429.6 L791.9 432.2 L794.3 411.7 L796.8 424.5 L799.2 347.5 L801.7 424.5 L804.1 427 L806.5 429.6 L809 434.7 L811.4 401.4 L813.9 414.2 L816.3 409.1 L818.8 411.7 L821.2 355.2 L823.6 416.8 L826.1 396.3 L828.5 416.8 L831 419.3 L833.4 421.9 L835.9 350.1 L838.3 424.5 L840.7 404 L843.2 324.4 L845.6 352.7 L848.1 378.3 L850.5 411.7 L853 429.6 L855.4 404 L857.8 359.1 L860.3 424.5 L862.7 378.3 L865.2 427 L867.6 365.5 L870.1 404 L872.5 316.7 L874.9 424.5 L877.4 404 L879.8 414.2 L882.3 347.5 L884.7 378.3 L887.2 301.4 L889.6 365.5 L892 434.7 L894.5 324.4 L896.9 424.5 L899.4 398.8 L901.8 268.5 L904.3 391.1 L906.7 404 L909.1 347.5 L911.6 416.8 L914 424.5 L916.5 429.6 L918.9 398.8 L921.4 355.2 L923.8 378.3 L926.2 347.5 L928.7 330.2 L931.1 370 L933.6 362.6 L936 363.8 L938.5 399.9 L940.9 190.7 L943.3 404.9 L945.8 427.3 L948.2 429.8 L950.7 333.9 L953.1 429.8 L955.6 409.9 L958 399.9 L960.4 264.9 L962.9 399.9 L965.3 436 L967.8 380 L970.2 309 L972.7 367.5 L975.1 387.5 L977.6 345.1 L980 414.9 L982.4 375 L984.9 404.9 L987.3 429.8 L989.8 427.3 L992.2 404.9 L994.7 365 L997.1 414.9 L999.5 277.9 L1002 392.4 L1004.4 409.9 L1006.9 327.7 L1009.3 355.1 L1011.8 404.9 L1014.2 414.9 L1016.6 409.9 L1019.1 285.4 L1021.5 380 L1024 348.9 L1026.4 404.9 L1028.9 377.5 L1031.3 414.9 L1033.7 336.4 L1036.2 342.6 L1038.6 327.7 L1041.1 399.9 L1043.5 409.9 L1046 412.4 L1048.4 380 L1050.8 343.9 L1053.3 434.8 L1055.7 434.8 L1058.2 434.8 L1060.6 399.9 L1063.1 352.2 L1065.5 361.7 L1067.9 309.4 L1070.4 434.1 L1072.8 403.6 L1075.3 432.2 L1077.7 428.4 L1080.2 396 L1082.6 430.3 L1085 433.2 L1087.5 434.1 L1089.9 428.4 L1092.4 422.7 L1094.8 417 L1097.3 411.3 L1099.7 348.4 L1102.1 380.8 L1104.6 367.5 L1107 418.9 L1109.5 409.4 L1111.9 390.3 L1114.4 377 L1116.8 422.7 L1119.2 433.2 L1121.7 426.5 L1124.1 409.4 L1126.6 326.5 L1129 409.4 L1131.5 377.9 L1133.9 396 L1136.3 380.8 L1138.8 368.4 L1141.2 371.3 L1143.7 394.1 L1146.1 409.4 L1148.6 432.2 L1151 431.3 L1153.4 417 L1155.9 426.5 L1158.3 434.1" fill="none" stroke="#FFA826" stroke-width="0.9" stroke-linejoin="round" />
<path d="M122.5 427.3 L124.9 433.1 L127.4 414.7 L129.8 402.8 L132.3 429.9 L134.7 434.2 L137.2 413.6 L139.6 425.5 L142 434.2 L144.5 434.2 L146.9 427.7 L149.4 429.9 L151.8 428.8 L154.3 430.3 L156.7 430.9 L159.1 429.9 L161.6 417.9 L164 429.9 L166.5 422.3 L168.9 429.9 L171.4 421 L173.8 434 L176.2 428 L178.7 427.5 L181.1 431.5 L183.6 433.5 L186 433.5 L188.5 431 L190.9 434 L193.3 434 L195.8 428.5 L198.2 427.5 L200.7 427.5 L203.1 427.5 L205.6 427.5 L208 431 L210.4 431 L212.9 428.5 L215.3 427 L217.8 420.5 L220.2 431.5 L222.7 434 L225.1 433 L227.5 434 L230 431.5 L232.4 432 L234.9 433.1 L237.3 432.5 L239.8 433.8 L242.2 433.1 L244.7 432.5 L247.1 417.9 L249.5 434.2 L252 429.9 L254.4 421.2 L256.9 434.2 L259.3 434.2 L261.8 433.8 L264.2 423.4 L266.6 414.7 L269.1 410.4 L271.5 409.3 L274 423.4 L276.4 427.7 L278.9 421.2 L281.3 411.4 L283.7 411.4 L286.2 419 L288.6 423.4 L291.1 428.8 L293.5 421.2 L296 409.3 L298.4 425.5 L300.8 399.5 L303.3 371.4 L305.7 354 L308.2 388.7 L310.6 434.2 L313.1 423.4 L315.5 416.9 L317.9 423.4 L320.4 416.9 L322.8 404.9 L325.3 423.4 L327.7 434.2 L330.2 421.2 L332.6 429.9 L335 414.7 L337.5 427.7 L339.9 427.7 L342.4 426.4 L344.8 403 L347.3 416 L349.7 423.8 L352.1 429 L354.6 427.7 L357 426.4 L359.5 429 L361.9 426.9 L364.4 428.4 L366.8 421.2 L369.2 408.2 L371.7 416 L374.1 426.4 L376.6 429 L379 429 L381.5 405.6 L383.9 423.8 L386.3 416 L388.8 429 L391.2 413.4 L393.7 414.7 L396.1 423.8 L398.6 431.5 L401 429 L403.4 423.8 L405.9 418.6 L408.3 413.4 L410.8 421.2 L413.2 427.7 L415.7 403 L418.1 429 L420.5 410.8 L423 387.5 L425.4 361.5 L427.9 434.1 L430.3 413.4 L432.8 426.4 L435.2 403 L437.6 429 L440.1 397.8 L442.5 418.6 L445 408.2 L447.4 418.6 L449.9 421.2 L452.3 423.8 L454.7 431.5 L457.2 403 L459.6 421.2 L462.1 403 L464.5 429 L467 377.1 L469.4 366.7 L471.8 416 L474.3 261.7 L476.7 435.4 L479.2 435.4 L481.6 335.6 L484.1 397.8 L486.5 403 L488.9 408.2 L491.4 413.4 L493.8 397.8 L496.3 413.4 L498.7 374.5 L501.2 421.2 L503.6 208 L506.1 423.8 L508.5 322.6 L510.9 397.8 L513.4 416 L515.8 413.4 L518.3 403 L520.7 199.5 L523.2 418.6 L525.6 161.3 L528 346 L530.5 421.2 L532.9 421.2 L535.4 325.2 L537.8 408.2 L540.3 377.1 L542.7 408.2 L545.1 413.4 L547.6 392.7 L550 283.7 L552.5 279.9 L554.9 299.3 L557.4 397.8 L559.8 421.2 L562.2 307.1 L564.7 403 L567.1 408.2 L569.6 413.4 L572 431.5 L574.5 431.5 L576.9 403 L579.3 369.3 L581.8 397.8 L584.2 403 L586.7 377.1 L589.1 374.5 L591.6 183.9 L594 397.8 L596.4 429 L598.9 435.4 L601.3 434.1 L603.8 434.1 L606.2 434.1 L608.7 434.1 L611.1 434.1 L613.5 246.1 L616 431.5 L618.4 423.8 L620.9 397.8 L623.3 382.3 L625.8 426.4 L628.2 416 L630.6 232.4 L633.1 423.8 L635.5 429 L638 429 L640.4 423.8 L642.9 379.7 L645.3 426.4 L647.7 418.6 L650.2 395.2 L652.6 403 L655.1 294.1 L657.5 408.2 L660 423.8 L662.4 431.5 L664.8 353.8 L667.3 397.8 L669.7 262.5 L672.2 423.8 L674.6 346 L677.1 403 L679.5 274.7 L681.9 390.1 L684.4 318.7 L686.8 431.5 L689.3 429 L691.7 322.6 L694.2 403 L696.6 423.8 L699 326.5 L701.5 431.5 L703.9 426.4 L706.4 413.4 L708.8 356.3 L711.3 384.9 L713.7 403 L716.1 228 L718.6 392.7 L721 395.2 L723.5 230.6 L725.9 364.1 L728.4 408.2 L730.8 346 L733.2 326.5 L735.7 377.1 L738.1 403 L740.6 416 L743 351.2 L745.5 346 L747.9 403 L750.4 434.1 L752.8 434.1 L755.2 423.8 L757.7 403 L760.1 321.3 L762.6 397.8 L765 361.5 L767.5 403 L769.9 423.8 L772.3 431.5 L774.8 423.8 L777.2 368 L779.7 403 L782.1 413.4 L784.6 379.7 L787 423.8 L789.4 429 L791.9 431.5 L794.3 410.8 L796.8 423.8 L799.2 346 L801.7 423.8 L804.1 426.4 L806.5 429 L809 434.1 L811.4 400.4 L813.9 413.4 L816.3 408.2 L818.8 410.8 L821.2 353.8 L823.6 416 L826.1 395.2 L828.5 416 L831 418.6 L833.4 421.2 L835.9 348.6 L838.3 423.8 L840.7 403 L843.2 322.6 L845.6 351.2 L848.1 377.1 L850.5 410.8 L853 429 L855.4 403 L857.8 357.6 L860.3 423.8 L862.7 377.1 L865.2 426.4 L867.6 364.1 L870.1 403 L872.5 314.9 L874.9 423.8 L877.4 403 L879.8 413.4 L882.3 346 L884.7 377.1 L887.2 299.3 L889.6 364.1 L892 434.1 L894.5 322.6 L896.9 423.8 L899.4 397.8 L901.8 266.1 L904.3 390.1 L906.7 403 L909.1 346 L911.6 416 L914 423.8 L916.5 429 L918.9 397.8 L921.4 353.8 L923.8 377.1 L926.2 346 L928.7 325.2 L931.1 366.7 L933.6 358.9 L936 360.2 L938.5 397.8 L940.9 180 L943.3 403 L945.8 426.4 L948.2 429 L950.7 329.1 L953.1 429 L955.6 408.2 L958 397.8 L960.4 257.3 L962.9 397.8 L965.3 435.4 L967.8 377.1 L970.2 303.2 L972.7 364.1 L975.1 384.9 L977.6 340.8 L980 413.4 L982.4 371.9 L984.9 403 L987.3 429 L989.8 426.4 L992.2 403 L994.7 361.5 L997.1 413.4 L999.5 270.8 L1002 390.1 L1004.4 408.2 L1006.9 322.6 L1009.3 351.2 L1011.8 403 L1014.2 413.4 L1016.6 408.2 L1019.1 278.6 L1021.5 377.1 L1024 344.7 L1026.4 403 L1028.9 374.5 L1031.3 413.4 L1033.7 331.7 L1036.2 338.2 L1038.6 322.6 L1041.1 397.8 L1043.5 408.2 L1046 410.8 L1048.4 377.1 L1050.8 339.5 L1053.3 434.1 L1055.7 434.1 L1058.2 434.1 L1060.6 397.8 L1063.1 348.2 L1065.5 358.1 L1067.9 303.6 L1070.4 433.4 L1072.8 401.7 L1075.3 431.5 L1077.7 427.5 L1080.2 393.8 L1082.6 429.5 L1085 432.5 L1087.5 433.4 L1089.9 427.5 L1092.4 421.6 L1094.8 415.6 L1097.3 409.7 L1099.7 344.2 L1102.1 377.9 L1104.6 364 L1107 417.6 L1109.5 407.7 L1111.9 387.8 L1114.4 374 L1116.8 421.6 L1119.2 432.5 L1121.7 425.5 L1124.1 407.7 L1126.6 321.4 L1129 407.7 L1131.5 375 L1133.9 393.8 L1136.3 377.9 L1138.8 365 L1141.2 368 L1143.7 391.8 L1146.1 407.7 L1148.6 431.5 L1151 430.5 L1153.4 415.6 L1155.9 425.5 L1158.3 433.4" fill="none" stroke="#2FE816" stroke-width="1.6" stroke-linejoin="round" />
<path d="M122.5 443.5 L124.9 441.1 L127.4 434.2 L129.8 421.2 L132.3 440.7 L134.7 446.1 L137.2 430.3 L139.6 437.4 L142 447.6 L144.5 449.4 L146.9 448.3 L149.4 445 L151.8 444.4 L154.3 446.1 L156.7 449.4 L159.1 443.9 L161.6 438.1 L164 446.1 L166.5 438.5 L168.9 441.8 L171.4 440.5 L173.8 446 L176.2 442 L178.7 440.5 L181.1 445 L183.6 447.5 L186 444 L188.5 436 L190.9 448 L193.3 444 L195.8 433.8 L198.2 443.5 L200.7 444.5 L203.1 443 L205.6 442.5 L208 446.5 L210.4 449.5 L212.9 441 L215.3 440 L217.8 433 L220.2 441 L222.7 447 L225.1 448.5 L227.5 449.5 L230 432.5 L232.4 439.6 L234.9 437.4 L237.3 439.6 L239.8 445 L242.2 446.8 L244.7 440.7 L247.1 430.9 L249.5 446.1 L252 438.5 L254.4 438.1 L256.9 442.9 L259.3 440.7 L261.8 434.2 L264.2 433.8 L266.6 433.1 L269.1 414.7 L271.5 412.1 L274 427.7 L276.4 438.5 L278.9 445 L281.3 436.4 L283.7 428.8 L286.2 437.4 L288.6 435.3 L291.1 427.7 L293.5 414.7 L296 398.4 L298.4 425.5 L300.8 426.6 L303.3 341 L305.7 348.6 L308.2 415.8 L310.6 383.3 L313.1 416.9 L315.5 409.3 L317.9 423.4 L320.4 427.7 L322.8 416.9 L325.3 413.6 L327.7 423.4 L330.2 397.4 L332.6 381.1 L335 384.4 L337.5 385.4 L339.9 379.7 L342.4 426.4 L344.8 413.4 L347.3 429 L349.7 377.1 L352.1 337.7 L354.6 429 L357 435.4 L359.5 447.1 L361.9 431.5 L364.4 439.3 L366.8 440.6 L369.2 417.3 L371.7 421.2 L374.1 441.9 L376.6 448.4 L379 444.5 L381.5 377.1 L383.9 429 L386.3 436.7 L388.8 444.5 L391.2 416 L393.7 404.3 L396.1 405.6 L398.6 423.8 L401 429 L403.4 381.8 L405.9 413.4 L408.3 390.1 L410.8 403 L413.2 397.8 L415.7 387.5 L418.1 403 L420.5 397.8 L423 306.3 L425.4 307.1 L427.9 403 L430.3 421.2 L432.8 429 L435.2 440.6 L437.6 351.2 L440.1 434.1 L442.5 400.4 L445 416 L447.4 438 L449.9 434.1 L452.3 432.8 L454.7 418.6 L457.2 397.8 L459.6 311 L462.1 390.1 L464.5 330.4 L467 293.6 L469.4 364.1 L471.8 361.5 L474.3 325.2 L476.7 333 L479.2 231.4 L481.6 299.3 L484.1 377.1 L486.5 353.8 L488.9 361.5 L491.4 366.7 L493.8 418.6 L496.3 423.8 L498.7 403 L501.2 377.1 L503.6 351.2 L506.1 377.1 L508.5 408.2 L510.9 435.4 L513.4 353.8 L515.8 330.4 L518.3 202.1 L520.7 351.2 L523.2 338.2 L525.6 305.8 L528 325.2 L530.5 423.8 L532.9 352.5 L535.4 390.1 L537.8 312.3 L540.3 234.5 L542.7 230.6 L545.1 403 L547.6 326.5 L550 400.4 L552.5 282.4 L554.9 299.3 L557.4 377.1 L559.8 423.8 L562.2 431.5 L564.7 410.8 L567.1 406.9 L569.6 400.4 L572 390.1 L574.5 352.5 L576.9 387.5 L579.3 340.8 L581.8 371.9 L584.2 368 L586.7 325.2 L589.1 314.9 L591.6 390.1 L594 374.5 L596.4 364.1 L598.9 334.3 L601.3 377.1 L603.8 374.5 L606.2 355.1 L608.7 369.3 L611.1 374.5 L613.5 377.1 L616 438 L618.4 403 L620.9 405.6 L623.3 327.8 L625.8 410.8 L628.2 418.6 L630.6 410.8 L633.1 418.6 L635.5 423.8 L638 434.1 L640.4 404.3 L642.9 438 L645.3 429 L647.7 377.1 L650.2 352.5 L652.6 400.4 L655.1 405.6 L657.5 384.9 L660 349.9 L662.4 410.8 L664.8 403 L667.3 361.5 L669.7 364.1 L672.2 423.8 L674.6 330.4 L677.1 351.2 L679.5 404.3 L681.9 338.2 L684.4 300.6 L686.8 435.4 L689.3 435.4 L691.7 403 L694.2 374.5 L696.6 395.2 L699 384.9 L701.5 429 L703.9 423.8 L706.4 413.4 L708.8 401.7 L711.3 403 L713.7 397.8 L716.1 303.2 L718.6 314.9 L721 413.4 L723.5 283.7 L725.9 377.1 L728.4 400.4 L730.8 401.7 L733.2 326.5 L735.7 364.1 L738.1 390.1 L740.6 416 L743 438 L745.5 374.5 L747.9 371.9 L750.4 172.8 L752.8 351.2 L755.2 418.6 L757.7 395.2 L760.1 423.8 L762.6 449.7 L765 361.5 L767.5 387.5 L769.9 436.7 L772.3 445.8 L774.8 440.6 L777.2 444.5 L779.7 423.8 L782.1 390.1 L784.6 378.4 L787 429 L789.4 444.5 L791.9 423.8 L794.3 439.3 L796.8 416 L799.2 425.1 L801.7 426.4 L804.1 445.8 L806.5 440.6 L809 434.1 L811.4 408.2 L813.9 413.4 L816.3 409.5 L818.8 408.2 L821.2 436.7 L823.6 403 L826.1 421.2 L828.5 436.7 L831 401.7 L833.4 429 L835.9 387.5 L838.3 426.4 L840.7 403 L843.2 361.5 L845.6 374.5 L848.1 390.1 L850.5 395.2 L853 423.8 L855.4 441.9 L857.8 356.3 L860.3 436.7 L862.7 434.1 L865.2 449.7 L867.6 423.8 L870.1 387.5 L872.5 384.9 L874.9 444.5 L877.4 429 L879.8 403 L882.3 308.4 L884.7 403 L887.2 257.3 L889.6 351.2 L892 377.1 L894.5 445.8 L896.9 429 L899.4 427.7 L901.8 335.6 L904.3 364.1 L906.7 431.5 L909.1 401.7 L911.6 444.5 L914 445.8 L916.5 431.5 L918.9 390.1 L921.4 351.2 L923.8 325.2 L926.2 419.9 L928.7 303.2 L931.1 325.2 L933.6 274.7 L936 263.5 L938.5 299.3 L940.9 390.1 L943.3 408.2 L945.8 395.2 L948.2 423.8 L950.7 440.6 L953.1 444.5 L955.6 436.7 L958 384.9 L960.4 384.9 L962.9 408.2 L965.3 397.8 L967.8 351.2 L970.2 343.4 L972.7 364.1 L975.1 395.2 L977.6 396.5 L980 397.8 L982.4 343.4 L984.9 348.6 L987.3 382.3 L989.8 253.9 L992.2 374.5 L994.7 368 L997.1 434.1 L999.5 421.2 L1002 410.8 L1004.4 377.1 L1006.9 358.9 L1009.3 370.6 L1011.8 369.3 L1014.2 403 L1016.6 374.5 L1019.1 368 L1021.5 374.5 L1024 384.9 L1026.4 408.2 L1028.9 421.2 L1031.3 343.4 L1033.7 406.9 L1036.2 303.2 L1038.6 364.1 L1041.1 403 L1043.5 422.5 L1046 403 L1048.4 351.2 L1050.8 167.1 L1053.3 252.6 L1055.7 180 L1058.2 299.3 L1060.6 397.8 L1063.1 287.7 L1065.5 368 L1067.9 389.8 L1070.4 407.7 L1072.8 427.5 L1075.3 437.4 L1077.7 407.7 L1080.2 445.3 L1082.6 449.3 L1085 443.4 L1087.5 397.8 L1089.9 351.2 L1092.4 355.1 L1094.8 411.6 L1097.3 397.8 L1099.7 295.6 L1102.1 364 L1104.6 374 L1107 379.9 L1109.5 423.5 L1111.9 382.9 L1114.4 385.9 L1116.8 389.8 L1119.2 417.6 L1121.7 413.6 L1124.1 397.8 L1126.6 425.5 L1129 399.7 L1131.5 405.7 L1133.9 403.7 L1136.3 397.8 L1138.8 399.7 L1141.2 370 L1143.7 397.8 L1146.1 439.4 L1148.6 443.4 L1151 425.5 L1153.4 414.6 L1155.9 436.4 L1158.3 407.3" fill="none" stroke="#1414CC" stroke-width="1.2" stroke-linejoin="round" />
</g>
<rect x="79" y="40" width="1120.3" height="420.9" fill="none" stroke="#585858" stroke-width="1.9" stroke-linejoin="round"/>
<line x1="122.5" y1="460.9" x2="122.5" y2="468.6" stroke="#6a6a6a" stroke-width="1.2"/>
<text x="122.5" y="486.5" text-anchor="middle" class="ax">2017</text>
<line x1="1013.9" y1="460.9" x2="1013.9" y2="468.6" stroke="#6a6a6a" stroke-width="1.2"/>
<text x="1013.9" y="486.5" text-anchor="middle" class="ax">2018</text>
<line x1="71" y1="396.5" x2="79" y2="396.5" stroke="#6a6a6a" stroke-width="1.2"/>
<text transform="translate(61.1 396.5) rotate(-90)" text-anchor="middle" class="ax">0</text>
<line x1="71" y1="299" x2="79" y2="299" stroke="#6a6a6a" stroke-width="1.2"/>
<text transform="translate(61.1 299) rotate(-90)" text-anchor="middle" class="ax">2</text>
<line x1="71" y1="201.5" x2="79" y2="201.5" stroke="#6a6a6a" stroke-width="1.2"/>
<text transform="translate(61.1 201.5) rotate(-90)" text-anchor="middle" class="ax">4</text>
<line x1="71" y1="104" x2="79" y2="104" stroke="#6a6a6a" stroke-width="1.2"/>
<text transform="translate(61.1 104) rotate(-90)" text-anchor="middle" class="ax">6</text>
<text x="638.8" y="515.8" text-anchor="middle" class="ax">time</text>
<text transform="translate(14.1 250.4) rotate(-90)" text-anchor="middle" class="ax">amount</text>
<text x="639.5" y="19.3" text-anchor="middle" class="ttl">Manipulated scenario: Bitcoin inflow</text>
<clipPath id="c2"><rect x="79" y="605.3" width="1120" height="421.0"/></clipPath>
<g clip-path="url(#c2)">
<path d="M122.5 1006.1 L124.9 1017.1 L127.4 991.1 L129.8 985.7 L132.3 1007.3 L134.7 1009.8 L137.2 994.8 L139.6 1002.4 L142 1017.1 L144.5 1017.1 L146.9 1017.1 L149.4 1010.6 L151.8 1010.6 L154.3 1009.8 L156.7 1010.5 L159.1 1009 L161.6 1001.3 L164 1007.9 L166.5 1005.6 L168.9 1007.9 L171.4 1002.6 L173.8 1009.8 L176.2 1006.1 L178.7 1010.5 L181.1 1010.5 L183.6 1010.5 L186 1010.5 L188.5 1017.1 L190.9 1017.1 L193.3 1017.1 L195.8 1009.5 L198.2 1009.5 L200.7 1009.5 L203.1 1009.5 L205.6 1017.1 L208 1017.1 L210.4 1017.1 L212.9 1006.8 L215.3 1004.2 L217.8 1000.4 L220.2 1010.5 L222.7 1016.9 L225.1 1016.9 L227.5 1016.9 L230 1016.9 L232.4 1016.9 L234.9 1016.9 L237.3 1016.9 L239.8 1016.9 L242.2 1016.9 L244.7 1016.9 L247.1 1000.8 L249.5 1017.3 L252 1007.9 L254.4 1002.6 L256.9 1017.3 L259.3 1017.3 L261.8 1017.3 L264.2 1002.4 L266.6 994.3 L269.1 984.6 L271.5 984.6 L274 1000.8 L276.4 1007.9 L278.9 998.7 L281.3 987.8 L283.7 988.3 L286.2 998.7 L288.6 1002.4 L291.1 1009.8 L293.5 998.7 L296 990 L298.4 1002.4 L300.8 968.3 L303.3 931.5 L305.7 918.9 L308.2 946.7 L310.6 1011.7 L313.1 1002.4 L315.5 995 L317.9 1002.4 L320.4 995 L322.8 973.1 L325.3 998.7 L327.7 1017.3 L330.2 990 L332.6 1007.9 L335 993.3 L337.5 1006.1 L339.9 1017.3 L342.4 999.3 L344.8 966.5 L347.3 981.7 L349.7 1003 L352.1 1012 L354.6 1006.7 L357 1004.8 L359.5 1008.5 L361.9 1006.7 L364.4 1004.8 L366.8 988.2 L369.2 979.5 L371.7 988.2 L374.1 1006.7 L376.6 1008.5 L379 1008.5 L381.5 976.3 L383.9 1006.7 L386.3 986 L388.8 1008.5 L391.2 996.9 L393.7 996.9 L396.1 1003 L398.6 1010.3 L401 1010.3 L403.4 999 L405.9 999.3 L408.3 988.2 L410.8 999.3 L413.2 1006.7 L415.7 962.6 L418.1 1008.5 L420.5 981.7 L423 964.4 L425.4 919.3 L427.9 1003.4 L430.3 995.6 L432.8 1006.7 L435.2 979.5 L437.6 1010.3 L440.1 971.9 L442.5 995.6 L445 975.2 L447.4 995.6 L449.9 992.5 L452.3 992.5 L454.7 1017.2 L457.2 981.7 L459.6 1003 L462.1 986 L464.5 1017.2 L467 949.2 L469.4 932.9 L471.8 992.5 L474.3 828.9 L476.7 1017.2 L479.2 1017.2 L481.6 886.8 L484.1 949.2 L486.5 970.9 L488.9 960 L491.4 940.5 L493.8 955.7 L496.3 970.9 L498.7 937.9 L501.2 1003 L503.6 758.5 L506.1 1006.7 L508.5 887.4 L510.9 969.8 L513.4 981.7 L515.8 995.6 L518.3 988.2 L520.7 755.9 L523.2 1003 L525.6 732.1 L528 916.7 L530.5 1006.7 L532.9 1006.7 L535.4 893.9 L537.8 988.2 L540.3 949.2 L542.7 988.2 L545.1 995.6 L547.6 969.8 L550 852.8 L552.5 847.3 L554.9 862.5 L557.4 973.5 L559.8 1006.7 L562.2 862.1 L564.7 980.9 L567.1 988.2 L569.6 995.6 L572 1012 L574.5 1017.2 L576.9 980.9 L579.3 923.2 L581.8 969.8 L584.2 980.9 L586.7 949.2 L589.1 949.2 L591.6 762.4 L594 970.9 L596.4 1006.7 L598.9 1017.2 L601.3 1017.2 L603.8 1017.2 L606.2 1017.2 L608.7 1017.2 L611.1 1017.2 L613.5 763.9 L616 1005.7 L618.4 1001.3 L620.9 974.8 L623.3 935.1 L625.8 1005.6 L628.2 992.2 L630.6 755.9 L633.1 1005.5 L635.5 1001 L638 1000.9 L640.4 996.4 L642.9 942.3 L645.3 1000.8 L647.7 982.5 L650.2 957.9 L652.6 973.1 L655.1 838.2 L657.5 982.1 L660 1005.2 L662.4 1009.9 L664.8 905.4 L667.3 958.3 L669.7 768.9 L672.2 1000.4 L674.6 906.9 L677.1 971.8 L679.5 810.5 L681.9 957.2 L684.4 874.4 L686.8 1017.2 L689.3 1005 L691.7 883.1 L694.2 970.9 L696.6 1000 L699 873.3 L701.5 1017.2 L703.9 1004.8 L706.4 980.1 L708.8 923.2 L711.3 934 L713.7 969.9 L716.1 748.8 L718.6 895 L721 954.4 L723.5 765 L725.9 918.6 L728.4 979.2 L730.8 883.1 L733.2 885.3 L735.7 916.7 L738.1 960 L740.6 989 L743 909.1 L745.5 904.1 L747.9 960 L750.4 1017.2 L752.8 1017.2 L755.2 981.7 L757.7 967.5 L760.1 822.4 L762.6 938.4 L765 890.7 L767.5 960 L769.9 998.9 L772.3 1009.5 L774.8 998.8 L777.2 899.3 L779.7 966.3 L782.1 926.4 L784.6 938.4 L787 1003.4 L789.4 1006.7 L791.9 1006.6 L794.3 979.5 L796.8 998 L799.2 874.4 L801.7 997.8 L804.1 999 L806.5 1006.4 L809 1017.2 L811.4 955.7 L813.9 981.7 L816.3 970.9 L818.8 968.7 L821.2 884.2 L823.6 984.5 L826.1 936.2 L828.5 988.2 L831 999 L833.4 999 L835.9 856.4 L838.3 996.2 L840.7 916.7 L843.2 807.7 L845.6 834.3 L848.1 916.7 L850.5 955 L853 995.7 L855.4 963.4 L857.8 872.1 L860.3 987.2 L862.7 910.9 L865.2 995.1 L867.6 891.5 L870.1 953.5 L872.5 822.3 L874.9 986.7 L877.4 955 L879.8 970.1 L882.3 853.4 L884.7 895.5 L887.2 796.3 L889.6 890.2 L892 1007.5 L894.5 767.1 L896.9 890.2 L899.4 936.9 L901.8 640.8 L904.3 864.3 L906.7 953.5 L909.1 819.7 L911.6 978.4 L914 968 L916.5 999.2 L918.9 936.9 L921.4 828.5 L923.8 887.6 L926.2 830.6 L928.7 808.5 L931.1 861.7 L933.6 869.5 L936 942.1 L938.5 936.9 L940.9 613.3 L943.3 916.1 L945.8 995 L948.2 999.2 L950.7 853.4 L953.1 1003.3 L955.6 980.9 L958 936.9 L960.4 818.9 L962.9 936.9 L965.3 988.7 L967.8 895.5 L970.2 822.3 L972.7 903.2 L975.1 929.1 L977.6 875.2 L980 970.1 L982.4 927.8 L984.9 953.5 L987.3 993.9 L989.8 995 L992.2 953.5 L994.7 929.1 L997.1 970.1 L999.5 787.3 L1002 916.1 L1004.4 961.8 L1006.9 855.2 L1009.3 916.1 L1011.8 968 L1014.2 970.1 L1016.6 961.8 L1019.1 817.6 L1021.5 895.5 L1024 910.9 L1026.4 953.5 L1028.9 955 L1031.3 970.1 L1033.7 883.7 L1036.2 804.2 L1038.6 860.4 L1041.1 936.9 L1043.5 980.9 L1046 966 L1048.4 895.5 L1050.8 892.8 L1053.3 1009.5 L1055.7 1009.5 L1058.2 1009.5 L1060.6 760.6 L1063.1 676.3 L1065.5 881.1 L1067.9 589.5 L1070.4 980.9 L1072.8 868.2 L1075.3 993.9 L1077.7 999.1 L1080.2 853.9 L1082.6 980.9 L1085 1009.5 L1087.5 1012.1 L1089.9 993.9 L1092.4 968 L1094.8 931.7 L1097.3 916.1 L1099.7 732 L1102.1 944.6 L1104.6 916.1 L1107 952.4 L1109.5 903.2 L1111.9 864.3 L1114.4 829.3 L1116.8 942.1 L1119.2 993.9 L1121.7 968 L1124.1 916.1 L1126.6 693.2 L1129 921.3 L1131.5 843.5 L1133.9 874.6 L1136.3 872.1 L1138.8 831.9 L1141.2 843.5 L1143.7 885 L1146.1 942.1 L1148.6 1001.7 L1151 999.1 L1153.4 977.1 L1155.9 993.9 L1158.3 1009.5 L1158.3 1017.4 L1155.9 1015.8 L1153.4 1011.6 L1151 1017.4 L1148.6 1017.4 L1146.1 1007.5 L1143.7 997.1 L1141.2 984.7 L1138.8 985.7 L1136.3 990.9 L1133.9 999.2 L1131.5 988.8 L1129 1001.3 L1126.6 960.8 L1124.1 1005.4 L1121.7 1015.8 L1119.2 1017.4 L1116.8 1013.7 L1114.4 987.8 L1111.9 997.1 L1109.5 1005.4 L1107 1013.7 L1104.6 990.9 L1102.1 1001.3 L1099.7 973.3 L1097.3 1007.5 L1094.8 1011.6 L1092.4 1015.8 L1089.9 1017.4 L1087.5 1017.4 L1085 1017.4 L1082.6 1017.4 L1080.2 997.1 L1077.7 1015.8 L1075.3 1017.4 L1072.8 1003.3 L1070.4 1017.4 L1067.9 952.5 L1065.5 990.9 L1063.1 976.4 L1060.6 1001.3 L1058.2 1017.4 L1055.7 1017.4 L1053.3 1017.4 L1050.8 970.1 L1048.4 990.9 L1046 1008.5 L1043.5 1007.5 L1041.1 1001.3 L1038.6 960.8 L1036.2 968.1 L1033.7 963.9 L1031.3 1009.5 L1028.9 988.8 L1026.4 1005.4 L1024 970.1 L1021.5 990.9 L1019.1 940.1 L1016.6 1007.5 L1014.2 1009.5 L1011.8 1005.4 L1009.3 980.5 L1006.9 960.8 L1004.4 1007.5 L1002 997.1 L999.5 932.8 L997.1 1009.5 L994.7 990.9 L992.2 1005.4 L989.8 1015.8 L987.3 1016.8 L984.9 1005.4 L982.4 984.7 L980 1009.5 L977.6 974.3 L975.1 995 L972.7 984.7 L970.2 949.4 L967.8 990.9 L965.3 1017.4 L962.9 1001.3 L960.4 959.8 L958 1001.3 L955.6 1007.5 L953.1 1017.4 L950.7 968.1 L948.2 1016.8 L945.8 1015.8 L943.3 1003.3 L940.9 897.5 L938.5 1001.3 L936 984.7 L933.6 982.6 L931.1 984.7 L928.7 966 L926.2 976.4 L923.8 988.8 L921.4 977.4 L918.9 1001.3 L916.5 1016.8 L914 1014.7 L911.6 1011.6 L909.1 974.3 L906.7 1005.4 L904.3 997.1 L901.8 935.5 L899.4 1001.3 L896.9 1013.7 L894.5 962.9 L892 1017.4 L889.6 980.5 L887.2 950.4 L884.7 990.9 L882.3 973.3 L879.8 1009.5 L877.4 1005.4 L874.9 1013.7 L872.5 959.8 L870.1 1005.4 L867.6 983.6 L865.2 1015.8 L862.7 997.1 L860.3 1013.7 L857.8 986.7 L855.4 1007.5 L853 1015.8 L850.5 1009.5 L848.1 996.7 L845.6 979.3 L843.2 965.5 L840.7 1000.1 L838.3 1015.7 L835.9 978.5 L833.4 1015.7 L831 1014 L828.5 1012.3 L826.1 999.3 L823.6 1012.3 L821.2 979.3 L818.8 1008.8 L816.3 1007.9 L813.9 1012.3 L811.4 1001.9 L809 1017.4 L806.5 1017.4 L804.1 1017.4 L801.7 1015.7 L799.2 976.7 L796.8 1015.7 L794.3 1012.3 L791.9 1017.4 L789.4 1017.4 L787 1015.7 L784.6 993.2 L782.1 1008.8 L779.7 1005.3 L777.2 983.7 L774.8 1015.7 L772.3 1017.4 L769.9 1015.7 L767.5 1005.3 L765 984.5 L762.6 1005.3 L760.1 956.8 L757.7 1005.3 L755.2 1015.7 L752.8 1017.4 L750.4 1017.4 L747.9 1005.3 L745.5 974.1 L743 975.9 L740.6 1012.3 L738.1 1005.3 L735.7 989.7 L733.2 965.5 L730.8 968.9 L728.4 1008.8 L725.9 988 L723.5 910.9 L721 1000.1 L718.6 996.7 L716.1 915.5 L713.7 1005.3 L711.3 996.7 L708.8 981.1 L706.4 1008.8 L703.9 1017.4 L701.5 1017.4 L699 959.4 L696.6 1015.7 L694.2 1005.3 L691.7 960.3 L689.3 1017.4 L686.8 1017.4 L684.4 960.3 L681.9 1000.1 L679.5 938.1 L677.1 1005.3 L674.6 975 L672.2 1015.7 L669.7 925.3 L667.3 1000.1 L664.8 975.9 L662.4 1017.4 L660 1017.4 L657.5 1008.8 L655.1 948.1 L652.6 1005.3 L650.2 996.7 L647.7 1008.8 L645.3 1015.7 L642.9 990.6 L640.4 1014 L638 1015.7 L635.5 1015.7 L633.1 1017.4 L630.6 912.6 L628.2 1012.3 L625.8 1017.4 L623.3 991.5 L620.9 1005.3 L618.4 1015.7 L616 1017.4 L613.5 921.3 L611.1 1017.4 L608.7 1017.4 L606.2 1017.4 L603.8 1017.4 L601.3 1017.4 L598.9 1017.4 L596.4 1017.4 L594 1000.1 L591.6 894.7 L589.1 988 L586.7 989.7 L584.2 1005.3 L581.8 1000.1 L579.3 982.8 L576.9 1005.3 L574.5 1017.4 L572 1017.4 L569.6 1012.3 L567.1 1008.8 L564.7 1005.3 L562.2 947.3 L559.8 1017.4 L557.4 1001.9 L554.9 948.1 L552.5 936.9 L550 939.5 L547.6 1000.1 L545.1 1012.3 L542.7 1008.8 L540.3 991.5 L537.8 1008.8 L535.4 959.4 L532.9 1017.4 L530.5 1017.4 L528 982.8 L525.6 883.7 L523.2 1015.7 L520.7 899.9 L518.3 1008.8 L515.8 1012.3 L513.4 1014 L510.9 1000.1 L508.5 962 L506.1 1017.4 L503.6 909.7 L501.2 1015.7 L498.7 990.6 L496.3 1008.8 L493.8 998.4 L491.4 1003.6 L488.9 1008.8 L486.5 1005.3 L484.1 1000.1 L481.6 969.8 L479.2 1017.4 L476.7 1017.4 L474.3 931.7 L471.8 1012.3 L469.4 984.5 L467 994.9 L464.5 1017.4 L462.1 1008.8 L459.6 1015.7 L457.2 1006.2 L454.7 1017.4 L452.3 1015.7 L449.9 1014 L447.4 1012.3 L445 1006.2 L442.5 1012.3 L440.1 1001.9 L437.6 1017.4 L435.2 1007.1 L432.8 1017.4 L430.3 1012.3 L427.9 1017.4 L425.4 981.9 L423 998.4 L420.5 1008.8 L418.1 1017.4 L415.7 1007.1 L413.2 1017.4 L410.8 1014 L408.3 1008.8 L405.9 1014 L403.4 1015.7 L401 1017.4 L398.6 1017.4 L396.1 1015.7 L393.7 1010.5 L391.2 1010.5 L388.8 1017.4 L386.3 1012.3 L383.9 1017.4 L381.5 1008.8 L379 1017.4 L376.6 1017.4 L374.1 1017.4 L371.7 1012.3 L369.2 1006.2 L366.8 1015.7 L364.4 1016.6 L361.9 1017.4 L359.5 1017.4 L357 1016.6 L354.6 1017.4 L352.1 1017.4 L349.7 1015.7 L347.3 1012.3 L344.8 1006.2 L342.4 1014 L339.9 1017.4 L337.5 1017.2 L335 1009.4 L332.6 1017.4 L330.2 1013.7 L327.7 1017.4 L325.3 1013.7 L322.8 1003.3 L320.4 1012 L317.9 1015.5 L315.5 1012 L313.1 1015.5 L310.6 1017.4 L308.2 991.2 L305.7 974.7 L303.3 984.3 L300.8 1005.1 L298.4 1015.5 L296 1006.8 L293.5 1013.7 L291.1 1017.4 L288.6 1015.5 L286.2 1012 L283.7 1006.8 L281.3 1006.8 L278.9 1013.7 L276.4 1017.4 L274 1013.7 L271.5 1005.9 L269.1 1006.8 L266.6 1010.3 L264.2 1015.5 L261.8 1017.4 L259.3 1017.4 L256.9 1017.4 L254.4 1013.7 L252 1017.4 L249.5 1017.4 L247.1 1012 L244.7 1017.4 L242.2 1017.4 L239.8 1017.4 L237.3 1017.4 L234.9 1017.4 L232.4 1017.4 L230 1017.4 L227.5 1017.4 L225.1 1017.4 L222.7 1017.4 L220.2 1017.4 L217.8 1012 L215.3 1016.3 L212.9 1017.4 L210.4 1017.4 L208 1017.4 L205.6 1017.4 L203.1 1017.4 L200.7 1017.4 L198.2 1017.4 L195.8 1017.4 L193.3 1017.4 L190.9 1017.4 L188.5 1017.4 L186 1017.4 L183.6 1017.4 L181.1 1017.4 L178.7 1017.4 L176.2 1017.2 L173.8 1017.4 L171.4 1013.7 L168.9 1017.4 L166.5 1014.6 L164 1017.4 L161.6 1012 L159.1 1017.4 L156.7 1017.4 L154.3 1017.4 L151.8 1017.4 L149.4 1017.2 L146.9 1017.4 L144.5 1017.4 L142 1017.4 L139.6 1015.5 L137.2 1008.5 L134.7 1017.4 L132.3 1015.5 L129.8 1002.5 L127.4 1008.5 L124.9 1017.4 L122.5 1017.2Z" fill="#FFFFBF" stroke="none"/>
<path d="M122.5 1010.6 L124.9 1017.1 L127.4 998 L129.8 991.3 L132.3 1009.9 L134.7 1013.4 L137.2 999.6 L139.6 1007.8 L142 1017.1 L144.5 1017.1 L146.9 1017.1 L149.4 1012.5 L151.8 1013.1 L154.3 1013.4 L156.7 1013.9 L159.1 1012.8 L161.6 1004.8 L164 1012 L166.5 1008.5 L168.9 1012 L171.4 1006.6 L173.8 1013.4 L176.2 1010.6 L178.7 1013.9 L181.1 1013.9 L183.6 1013.9 L186 1013.9 L188.5 1017.1 L190.9 1017.1 L193.3 1017.1 L195.8 1012.3 L198.2 1012.3 L200.7 1012.3 L203.1 1012.3 L205.6 1017.1 L208 1017.1 L210.4 1017.1 L212.9 1011.1 L215.3 1009.2 L217.8 1004.4 L220.2 1013.9 L222.7 1016.9 L225.1 1016.9 L227.5 1016.9 L230 1016.9 L232.4 1016.9 L234.9 1016.9 L237.3 1016.9 L239.8 1016.9 L242.2 1016.9 L244.7 1016.9 L247.1 1004.6 L249.5 1017.3 L252 1012 L254.4 1006.6 L256.9 1017.3 L259.3 1017.3 L261.8 1017.3 L264.2 1007.8 L266.6 1000.6 L269.1 994 L271.5 993.4 L274 1005.9 L276.4 1012 L278.9 1005 L281.3 995.4 L283.7 995.6 L286.2 1003.7 L288.6 1007.8 L291.1 1013.4 L293.5 1005 L296 996.3 L298.4 1007.8 L300.8 988.2 L303.3 955.4 L305.7 943.2 L308.2 966.8 L310.6 1014.9 L313.1 1007.8 L315.5 1002.2 L317.9 1007.8 L320.4 1002.2 L322.8 986.7 L325.3 1005 L327.7 1017.3 L330.2 1002.8 L332.6 1012 L335 999.5 L337.5 1010.6 L339.9 1017.3 L342.4 1005.4 L344.8 990.1 L347.3 1000.3 L349.7 1008.2 L352.1 1015 L354.6 1011 L357 1009.6 L359.5 1012.4 L361.9 1011 L364.4 1009.6 L366.8 1006.2 L369.2 991.5 L371.7 1000.3 L374.1 1011 L376.6 1012.4 L379 1012.4 L381.5 994.5 L383.9 1011 L386.3 1000.3 L388.8 1012.4 L391.2 1001.9 L393.7 1001.9 L396.1 1008.2 L398.6 1013.8 L401 1013.8 L403.4 1006.6 L405.9 1005.4 L408.3 997 L410.8 1005.4 L413.2 1011 L415.7 991.6 L418.1 1012.4 L420.5 994.5 L423 979.4 L425.4 949.1 L427.9 1013.2 L430.3 1002.6 L432.8 1011 L435.2 992.1 L437.6 1013.8 L440.1 985.1 L442.5 1002.6 L445 990.1 L447.4 1002.6 L449.9 1003.3 L452.3 1006.2 L454.7 1017.2 L457.2 992.4 L459.6 1008.2 L462.1 996.1 L464.5 1017.2 L467 971.1 L469.4 956.2 L471.8 1001.3 L474.3 874.2 L476.7 1017.2 L479.2 1017.2 L481.6 928.7 L484.1 979.9 L486.5 988.6 L488.9 994.5 L491.4 985.7 L493.8 976.9 L496.3 994.5 L498.7 963.8 L501.2 1008.2 L503.6 828.6 L506.1 1011 L508.5 920.7 L510.9 983 L513.4 1003.3 L515.8 1002.6 L518.3 997 L520.7 820.5 L523.2 1008.2 L525.6 798.7 L528 950.6 L530.5 1011 L532.9 1011 L535.4 921.6 L537.8 997 L540.3 968 L542.7 997 L545.1 1002.6 L547.6 983 L550 889.8 L552.5 885.7 L554.9 900.2 L557.4 985.8 L559.8 1011 L562.2 899.4 L564.7 991.4 L567.1 997 L569.6 1002.6 L572 1015 L574.5 1017.2 L576.9 991.4 L579.3 950.8 L581.8 983 L584.2 991.4 L586.7 966.8 L589.1 965.5 L591.6 819.5 L594 983.4 L596.4 1011 L598.9 1017.2 L601.3 1017.2 L603.8 1017.2 L606.2 1017.2 L608.7 1017.2 L611.1 1017.2 L613.5 846.8 L616 1010.6 L618.4 1007.5 L620.9 988.9 L623.3 965.2 L625.8 1010.6 L628.2 1001.2 L630.6 832.1 L633.1 1010.5 L635.5 1007.4 L638 1007.4 L640.4 1004.2 L642.9 964.5 L645.3 1007.3 L647.7 994.6 L650.2 975.4 L652.6 988.6 L655.1 892.1 L657.5 994.5 L660 1010.4 L662.4 1013.6 L664.8 938.9 L667.3 979.9 L669.7 853.5 L672.2 1007.1 L674.6 938.4 L677.1 988.6 L679.5 875.1 L681.9 979.9 L684.4 914 L686.8 1017.2 L689.3 1010.3 L691.7 917.7 L694.2 988.6 L696.6 1007 L699 912.9 L701.5 1017.2 L703.9 1010.3 L706.4 994.5 L708.8 949.6 L711.3 974 L713.7 988.6 L716.1 837.1 L718.6 974 L721 979.9 L723.5 832.2 L725.9 959.4 L728.4 994.5 L730.8 927.2 L733.2 922.3 L735.7 962.3 L738.1 988.6 L740.6 1000.3 L743 939.9 L745.5 936.5 L747.9 988.6 L750.4 1017.2 L752.8 1017.2 L755.2 1006.2 L757.7 988.6 L760.1 906.7 L762.6 988.6 L765 953.5 L767.5 988.6 L769.9 1006.5 L772.3 1013.5 L774.8 1006.5 L777.2 952.1 L779.7 988.6 L782.1 994.5 L784.6 968.2 L787 1008.4 L789.4 1011.7 L791.9 1011.6 L794.3 1000.3 L796.8 1006.2 L799.2 940.4 L801.7 1006.2 L804.1 1009.1 L806.5 1011.5 L809 1017.2 L811.4 982.8 L813.9 1000.3 L816.3 993 L818.8 994.5 L821.2 944.7 L823.6 1000.3 L826.1 978.4 L828.5 1000.3 L831 1005.3 L833.4 1006.6 L835.9 943.3 L838.3 1006.2 L840.7 979.9 L843.2 921.3 L845.6 944.7 L848.1 974 L850.5 995.7 L853 1006.2 L855.4 992.2 L857.8 957.2 L860.3 1002.7 L862.7 974.7 L865.2 1006.2 L867.6 952 L870.1 988.7 L872.5 911.7 L874.9 1002.7 L877.4 988.7 L879.8 995.7 L882.3 934.5 L884.7 964.2 L887.2 896 L889.6 946.7 L892 1012.4 L894.5 917 L896.9 1002.7 L899.4 981.7 L901.8 870.8 L904.3 974.7 L906.7 988.7 L909.1 936.2 L911.6 999.2 L914 1004.5 L916.5 1008 L918.9 981.7 L921.4 941.5 L923.8 960.7 L926.2 939.7 L928.7 922.2 L931.1 953.7 L933.6 950.2 L936 960.1 L938.5 981.7 L940.9 806.7 L943.3 985.2 L945.8 1006.2 L948.2 1008 L950.7 925.7 L953.1 1009.9 L955.6 993 L958 981.7 L960.4 911.7 L962.9 981.7 L965.3 1012.5 L967.8 964.2 L970.2 894.2 L972.7 953.7 L975.1 971.2 L977.6 936.2 L980 995.7 L982.4 954.1 L984.9 988.7 L987.3 1008 L989.8 1006.2 L992.2 988.7 L994.7 964.2 L997.1 995.7 L999.5 866.2 L1002 974.7 L1004.4 992.2 L1006.9 913.5 L1009.3 946.7 L1011.8 988.7 L1014.2 995.7 L1016.6 992.2 L1019.1 878.5 L1021.5 964.2 L1024 936.5 L1026.4 988.7 L1028.9 968.6 L1031.3 995.7 L1033.7 920.6 L1036.2 925.7 L1038.6 913.5 L1041.1 981.7 L1043.5 993 L1046 994 L1048.4 964.2 L1050.8 929.2 L1053.3 1014 L1055.7 1014 L1058.2 1014 L1060.6 981.7 L1063.1 939.7 L1065.5 964.2 L1067.9 899.5 L1070.4 1013.2 L1072.8 985.2 L1075.3 1009.7 L1077.7 1006.6 L1080.2 974.7 L1082.6 1009.7 L1085 1013.2 L1087.5 1014.3 L1089.9 1011.5 L1092.4 1006.2 L1094.8 999.2 L1097.3 992.2 L1099.7 934.5 L1102.1 981.7 L1104.6 964.2 L1107 1002.7 L1109.5 988.7 L1111.9 974.7 L1114.4 959 L1116.8 1002.7 L1119.2 1011.5 L1121.7 1006.2 L1124.1 988.7 L1126.6 913.5 L1129 981.7 L1131.5 960.7 L1133.9 978.2 L1136.3 964.2 L1138.8 955.5 L1141.2 953.7 L1143.7 974.7 L1146.1 992.2 L1148.6 1011.5 L1151 1009.7 L1153.4 999.2 L1155.9 1006.2 L1158.3 1014 L1158.3 1017.3 L1155.9 1014.3 L1153.4 1009.7 L1151 1016.3 L1148.6 1016.8 L1146.1 1005.2 L1143.7 993.8 L1141.2 980.1 L1138.8 981.2 L1136.3 986.9 L1133.9 996 L1131.5 984.6 L1129 998.3 L1126.6 953.8 L1124.1 1002.9 L1121.7 1014.3 L1119.2 1016.8 L1116.8 1012 L1114.4 983.5 L1111.9 993.8 L1109.5 1002.9 L1107 1012 L1104.6 986.9 L1102.1 998.3 L1099.7 967.5 L1097.3 1005.2 L1094.8 1009.7 L1092.4 1014.3 L1089.9 1016.8 L1087.5 1016.8 L1085 1016.8 L1082.6 1016.3 L1080.2 993.8 L1077.7 1014.3 L1075.3 1016.3 L1072.8 1000.6 L1070.4 1017.3 L1067.9 944.7 L1065.5 986.9 L1063.1 970.9 L1060.6 998.3 L1058.2 1017.3 L1055.7 1017.3 L1053.3 1017.3 L1050.8 964.1 L1048.4 986.9 L1046 1006.3 L1043.5 1005.2 L1041.1 998.3 L1038.6 953.8 L1036.2 961.8 L1033.7 957.2 L1031.3 1007.4 L1028.9 984.6 L1026.4 1002.9 L1024 964.1 L1021.5 986.9 L1019.1 931 L1016.6 1005.2 L1014.2 1007.4 L1011.8 1002.9 L1009.3 975.5 L1006.9 953.8 L1004.4 1005.2 L1002 993.8 L999.5 923 L997.1 1007.4 L994.7 986.9 L992.2 1002.9 L989.8 1014.3 L987.3 1015.4 L984.9 1002.9 L982.4 980.1 L980 1007.4 L977.6 968.7 L975.1 991.5 L972.7 980.1 L970.2 941.3 L967.8 986.9 L965.3 1017.1 L962.9 998.3 L960.4 952.7 L958 998.3 L955.6 1005.2 L953.1 1016.3 L950.7 961.8 L948.2 1015.4 L945.8 1014.3 L943.3 1000.6 L940.9 884.2 L938.5 998.3 L936 980.1 L933.6 977.8 L931.1 980.1 L928.7 959.5 L926.2 970.9 L923.8 984.6 L921.4 972.1 L918.9 998.3 L916.5 1015.4 L914 1013.1 L911.6 1009.7 L909.1 968.7 L906.7 1002.9 L904.3 993.8 L901.8 926 L899.4 998.3 L896.9 1012 L894.5 956.1 L892 1016.8 L889.6 975.5 L887.2 942.4 L884.7 986.9 L882.3 967.5 L879.8 1007.4 L877.4 1002.9 L874.9 1012 L872.5 952.7 L870.1 1002.9 L867.6 978.9 L865.2 1014.3 L862.7 993.8 L860.3 1012 L857.8 982.3 L855.4 1005.2 L853 1014.3 L850.5 1007.4 L848.1 993.3 L845.6 974.2 L843.2 959 L840.7 997.1 L838.3 1014.3 L835.9 973.3 L833.4 1014.3 L831 1012.4 L828.5 1010.4 L826.1 996.1 L823.6 1010.4 L821.2 974.2 L818.8 1006.6 L816.3 1005.7 L813.9 1010.4 L811.4 999 L809 1017.3 L806.5 1016.6 L804.1 1016.1 L801.7 1014.3 L799.2 971.4 L796.8 1014.3 L794.3 1010.4 L791.9 1016.6 L789.4 1016.6 L787 1014.3 L784.6 989.5 L782.1 1006.6 L779.7 1002.8 L777.2 979 L774.8 1014.3 L772.3 1017 L769.9 1014.3 L767.5 1002.8 L765 979.9 L762.6 1002.8 L760.1 949.4 L757.7 1002.8 L755.2 1014.3 L752.8 1017.3 L750.4 1017.3 L747.9 1002.8 L745.5 968.5 L743 970.4 L740.6 1010.4 L738.1 1002.8 L735.7 985.7 L733.2 959 L730.8 962.8 L728.4 1006.6 L725.9 983.7 L723.5 898.9 L721 997.1 L718.6 993.3 L716.1 904 L713.7 1002.8 L711.3 993.3 L708.8 976.1 L706.4 1006.6 L703.9 1016.1 L701.5 1017.3 L699 952.3 L696.6 1014.3 L694.2 1002.8 L691.7 953.2 L689.3 1016.1 L686.8 1017.3 L684.4 953.2 L681.9 997.1 L679.5 928.8 L677.1 1002.8 L674.6 969.4 L672.2 1014.3 L669.7 914.7 L667.3 997.1 L664.8 970.4 L662.4 1017 L660 1016.1 L657.5 1006.6 L655.1 939.9 L652.6 1002.8 L650.2 993.3 L647.7 1006.6 L645.3 1014.3 L642.9 986.6 L640.4 1012.4 L638 1014.3 L635.5 1014.3 L633.1 1016.1 L630.6 900.8 L628.2 1010.4 L625.8 1016.1 L623.3 987.6 L620.9 1002.8 L618.4 1014.3 L616 1016.1 L613.5 910.3 L611.1 1017.3 L608.7 1017.3 L606.2 1017.3 L603.8 1017.3 L601.3 1017.3 L598.9 1017.3 L596.4 1016.1 L594 997.1 L591.6 881.2 L589.1 983.7 L586.7 985.7 L584.2 1002.8 L581.8 997.1 L579.3 978 L576.9 1002.8 L574.5 1017.3 L572 1017.3 L569.6 1010.4 L567.1 1006.6 L564.7 1002.8 L562.2 938.9 L559.8 1016.1 L557.4 999 L554.9 939.9 L552.5 927.5 L550 930.4 L547.6 997.1 L545.1 1010.4 L542.7 1006.6 L540.3 987.6 L537.8 1006.6 L535.4 952.3 L532.9 1016.1 L530.5 1016.1 L528 978 L525.6 869 L523.2 1014.3 L520.7 886.9 L518.3 1006.6 L515.8 1010.4 L513.4 1012.4 L510.9 997.1 L508.5 955.1 L506.1 1016.1 L503.6 897.6 L501.2 1014.3 L498.7 986.6 L496.3 1006.6 L493.8 995.2 L491.4 1000.9 L488.9 1006.6 L486.5 1002.8 L484.1 997.1 L481.6 963.7 L479.2 1017.3 L476.7 1017.3 L474.3 921.8 L471.8 1010.4 L469.4 979.9 L467 991.4 L464.5 1017.3 L462.1 1006.6 L459.6 1014.3 L457.2 1003.8 L454.7 1017.3 L452.3 1014.3 L449.9 1012.4 L447.4 1010.4 L445 1003.8 L442.5 1010.4 L440.1 999 L437.6 1017 L435.2 1004.7 L432.8 1016.1 L430.3 1010.4 L427.9 1017.3 L425.4 977.1 L423 995.2 L420.5 1006.6 L418.1 1016.6 L415.7 1004.7 L413.2 1016.1 L410.8 1012.4 L408.3 1006.6 L405.9 1012.4 L403.4 1014.3 L401 1017 L398.6 1017 L396.1 1014.3 L393.7 1008.5 L391.2 1008.5 L388.8 1016.6 L386.3 1010.4 L383.9 1016.1 L381.5 1006.6 L379 1016.6 L376.6 1016.6 L374.1 1016.1 L371.7 1010.4 L369.2 1003.8 L366.8 1014.3 L364.4 1015.2 L361.9 1016.1 L359.5 1016.6 L357 1015.2 L354.6 1016.1 L352.1 1017.3 L349.7 1014.3 L347.3 1010.4 L344.8 1003.8 L342.4 1012.4 L339.9 1017.4 L337.5 1015.9 L335 1007.3 L332.6 1016.4 L330.2 1012 L327.7 1017.4 L325.3 1012 L322.8 1000.6 L320.4 1010.1 L317.9 1014 L315.5 1010.1 L313.1 1014 L310.6 1017.4 L308.2 987.3 L305.7 969.1 L303.3 979.6 L300.8 1002.5 L298.4 1014 L296 1004.4 L293.5 1012 L291.1 1016.8 L288.6 1014 L286.2 1010.1 L283.7 1004.4 L281.3 1004.4 L278.9 1012 L276.4 1016.4 L274 1012 L271.5 1003.5 L269.1 1004.4 L266.6 1008.2 L264.2 1014 L261.8 1017.4 L259.3 1017.4 L256.9 1017.4 L254.4 1012 L252 1016.4 L249.5 1017.4 L247.1 1010.1 L244.7 1017.2 L242.2 1017.2 L239.8 1017.2 L237.3 1017.2 L234.9 1017.2 L232.4 1017.2 L230 1017.2 L227.5 1017.2 L225.1 1017.2 L222.7 1017.2 L220.2 1017 L217.8 1010.1 L215.3 1014.9 L212.9 1016.2 L210.4 1017.3 L208 1017.3 L205.6 1017.3 L203.1 1016.2 L200.7 1016.2 L198.2 1016.2 L195.8 1016.2 L193.3 1017.3 L190.9 1017.3 L188.5 1017.3 L186 1017 L183.6 1017 L181.1 1017 L178.7 1017 L176.2 1015.9 L173.8 1016.8 L171.4 1012 L168.9 1016.4 L166.5 1013 L164 1016.4 L161.6 1010.1 L159.1 1016.7 L156.7 1017 L154.3 1016.8 L151.8 1016.4 L149.4 1015.9 L146.9 1017.3 L144.5 1017.3 L142 1017.3 L139.6 1014 L137.2 1006.3 L134.7 1016.8 L132.3 1014 L129.8 999.7 L127.4 1006.3 L124.9 1017.3 L122.5 1015.9Z" fill="#FFDF90" stroke="none"/>
<path d="M122.5 1012.8 L124.9 1017.1 L127.4 1001.4 L129.8 994.1 L132.3 1011.1 L134.7 1015.1 L137.2 1001.9 L139.6 1010.4 L142 1017.1 L144.5 1017.1 L146.9 1017.1 L149.4 1013.4 L151.8 1014.3 L154.3 1015.1 L156.7 1015.6 L159.1 1014.7 L161.6 1006.5 L164 1014 L166.5 1009.9 L168.9 1014 L171.4 1008.6 L173.8 1015.1 L176.2 1012.8 L178.7 1015.6 L181.1 1015.6 L183.6 1015.6 L186 1015.6 L188.5 1017.1 L190.9 1017.1 L193.3 1017.1 L195.8 1013.6 L198.2 1013.6 L200.7 1013.6 L203.1 1013.6 L205.6 1017.1 L208 1017.1 L210.4 1017.1 L212.9 1013.2 L215.3 1011.6 L217.8 1006.4 L220.2 1015.6 L222.7 1016.9 L225.1 1016.9 L227.5 1016.9 L230 1016.9 L232.4 1016.9 L234.9 1016.9 L237.3 1016.9 L239.8 1016.9 L242.2 1016.9 L244.7 1016.9 L247.1 1006.4 L249.5 1017.3 L252 1014 L254.4 1008.6 L256.9 1017.3 L259.3 1017.3 L261.8 1017.3 L264.2 1010.4 L266.6 1003.7 L269.1 998.6 L271.5 997.7 L274 1008.3 L276.4 1014 L278.9 1008 L281.3 999 L283.7 999.1 L286.2 1006.1 L288.6 1010.4 L291.1 1015.1 L293.5 1008 L296 999.3 L298.4 1010.4 L300.8 995.2 L303.3 967 L305.7 955 L308.2 976.5 L310.6 1016.5 L313.1 1010.4 L315.5 1005.6 L317.9 1010.4 L320.4 1005.6 L322.8 993.3 L325.3 1008 L327.7 1017.3 L330.2 1007.3 L332.6 1014 L335 1002.6 L337.5 1012.8 L339.9 1017.3 L342.4 1008.4 L344.8 996.8 L347.3 1005.3 L349.7 1010.8 L352.1 1016.5 L354.6 1013.1 L357 1012 L359.5 1014.3 L361.9 1013.1 L364.4 1012 L366.8 1010.1 L369.2 997.3 L371.7 1005.3 L374.1 1013.1 L376.6 1014.3 L379 1014.3 L381.5 1000.4 L383.9 1013.1 L386.3 1005.3 L388.8 1014.3 L391.2 1004.3 L393.7 1004.3 L396.1 1010.8 L398.6 1015.5 L401 1015.5 L403.4 1010.2 L405.9 1008.4 L408.3 1001.3 L410.8 1008.4 L413.2 1013.1 L415.7 998 L418.1 1014.3 L420.5 1000.4 L423 986.8 L425.4 963 L427.9 1015.9 L430.3 1006 L432.8 1013.1 L435.2 998.2 L437.6 1015.5 L440.1 991.5 L442.5 1006 L445 996.8 L447.4 1006 L449.9 1007.7 L452.3 1010.1 L454.7 1017.2 L457.2 997.6 L459.6 1010.8 L462.1 1001 L464.5 1017.2 L467 981.1 L469.4 967.5 L471.8 1005.6 L474.3 896.1 L476.7 1017.2 L479.2 1017.2 L481.6 946 L484.1 988.3 L486.5 995.6 L488.9 1000.4 L491.4 993.2 L493.8 985.9 L496.3 1000.4 L498.7 975 L501.2 1010.8 L503.6 862.7 L506.1 1013.1 L508.5 936.9 L510.9 989.4 L513.4 1007.7 L515.8 1006 L518.3 1001.3 L520.7 851.8 L523.2 1010.8 L525.6 831 L528 964.2 L530.5 1013.1 L532.9 1013.1 L535.4 935 L537.8 1001.3 L540.3 977.2 L542.7 1001.3 L545.1 1006 L547.6 989.4 L550 907.8 L552.5 904.3 L554.9 918.5 L557.4 991.8 L559.8 1013.1 L562.2 917.5 L564.7 996.5 L567.1 1001.3 L569.6 1006 L572 1016.5 L574.5 1017.2 L576.9 996.5 L579.3 964.2 L581.8 989.4 L584.2 996.5 L586.7 975.3 L589.1 973.5 L591.6 847.1 L594 989.5 L596.4 1013.1 L598.9 1017.2 L601.3 1017.2 L603.8 1017.2 L606.2 1017.2 L608.7 1017.2 L611.1 1017.2 L613.5 878.4 L616 1013 L618.4 1010.5 L620.9 995.7 L623.3 976.3 L625.8 1013 L628.2 1005.5 L630.6 866.3 L633.1 1013 L635.5 1010.5 L638 1010.5 L640.4 1008 L642.9 975.3 L645.3 1010.5 L647.7 1000.5 L650.2 984 L652.6 995.6 L655.1 915.8 L657.5 1000.4 L660 1013 L662.4 1015.5 L664.8 954.5 L667.3 988.3 L669.7 883.9 L672.2 1010.4 L674.6 953.6 L677.1 995.6 L679.5 901.8 L681.9 988.3 L684.4 933.2 L686.8 1017.2 L689.3 1012.9 L691.7 934.4 L694.2 995.6 L696.6 1010.4 L699 932.1 L701.5 1017.2 L703.9 1012.9 L706.4 1000.4 L708.8 962.4 L711.3 983.5 L713.7 995.6 L716.1 870.4 L718.6 983.5 L721 988.3 L723.5 864.9 L725.9 971.4 L728.4 1000.4 L730.8 944.8 L733.2 940.3 L735.7 973.8 L738.1 995.6 L740.6 1005.3 L743 954.8 L745.5 952.3 L747.9 995.6 L750.4 1017.2 L752.8 1017.2 L755.2 1010.1 L757.7 995.6 L760.1 927.9 L762.6 995.6 L765 966.6 L767.5 995.6 L769.9 1010.2 L772.3 1015.4 L774.8 1010.2 L777.2 965.4 L779.7 995.6 L782.1 1000.4 L784.6 978.7 L787 1010.8 L789.4 1014.1 L791.9 1014.1 L794.3 1005.3 L796.8 1010.1 L799.2 955.7 L801.7 1010.1 L804.1 1012.5 L806.5 1014 L809 1017.2 L811.4 990.8 L813.9 1005.3 L816.3 999.2 L818.8 1000.4 L821.2 959.3 L823.6 1005.3 L826.1 987.1 L828.5 1005.3 L831 1008.4 L833.4 1010.2 L835.9 958.1 L838.3 1010.1 L840.7 988.3 L843.2 940 L845.6 959.3 L848.1 983.5 L850.5 1001.5 L853 1010.1 L855.4 998.6 L857.8 969.6 L860.3 1007.2 L862.7 984.1 L865.2 1010.1 L867.6 965.3 L870.1 995.7 L872.5 932 L874.9 1007.2 L877.4 995.7 L879.8 1001.5 L882.3 950.8 L884.7 975.4 L887.2 919 L889.6 961 L892 1014.8 L894.5 936.4 L896.9 1007.2 L899.4 989.9 L901.8 898.2 L904.3 984.1 L906.7 995.7 L909.1 952.3 L911.6 1004.3 L914 1008.7 L916.5 1011.6 L918.9 989.9 L921.4 956.6 L923.8 972.5 L926.2 955.2 L928.7 940.7 L931.1 966.8 L933.6 963.9 L936 968.9 L938.5 989.9 L940.9 845.3 L943.3 992.8 L945.8 1010.1 L948.2 1011.6 L950.7 943.6 L953.1 1013.1 L955.6 998.8 L958 989.9 L960.4 932 L962.9 989.9 L965.3 1015.3 L967.8 975.4 L970.2 917.6 L972.7 966.8 L975.1 981.2 L977.6 952.3 L980 1001.5 L982.4 966.9 L984.9 995.7 L987.3 1011.6 L989.8 1010.1 L992.2 995.7 L994.7 975.4 L997.1 1001.5 L999.5 894.4 L1002 984.1 L1004.4 998.6 L1006.9 933.5 L1009.3 961 L1011.8 995.7 L1014.2 1001.5 L1016.6 998.6 L1019.1 904.6 L1021.5 975.4 L1024 948.9 L1026.4 995.7 L1028.9 975.1 L1031.3 1001.5 L1033.7 938.4 L1036.2 943.6 L1038.6 933.5 L1041.1 989.9 L1043.5 998.8 L1046 1000 L1048.4 975.4 L1050.8 946.5 L1053.3 1016.2 L1055.7 1016.2 L1058.2 1016.2 L1060.6 989.9 L1063.1 955.2 L1065.5 975.4 L1067.9 921.9 L1070.4 1015.9 L1072.8 992.8 L1075.3 1013 L1077.7 1010.3 L1080.2 984.1 L1082.6 1013 L1085 1015 L1087.5 1015.4 L1089.9 1014.5 L1092.4 1010.1 L1094.8 1004.3 L1097.3 998.6 L1099.7 950.8 L1102.1 989.9 L1104.6 975.4 L1107 1007.2 L1109.5 995.7 L1111.9 984.1 L1114.4 971.1 L1116.8 1007.2 L1119.2 1014.5 L1121.7 1010.1 L1124.1 995.7 L1126.6 933.5 L1129 989.9 L1131.5 972.5 L1133.9 987 L1136.3 975.4 L1138.8 968.2 L1141.2 966.8 L1143.7 984.1 L1146.1 998.6 L1148.6 1014.5 L1151 1013 L1153.4 1004.3 L1155.9 1010.1 L1158.3 1016.2 L1158.3 1017.3 L1155.9 1013.2 L1153.4 1008.3 L1151 1015.5 L1148.6 1016.4 L1146.1 1003.4 L1143.7 991.2 L1141.2 976.6 L1138.8 977.8 L1136.3 983.9 L1133.9 993.7 L1131.5 981.5 L1129 996.1 L1126.6 948.6 L1124.1 1001 L1121.7 1013.2 L1119.2 1016.4 L1116.8 1010.7 L1114.4 980.3 L1111.9 991.2 L1109.5 1001 L1107 1010.7 L1104.6 983.9 L1102.1 996.1 L1099.7 963.2 L1097.3 1003.4 L1094.8 1008.3 L1092.4 1013.2 L1089.9 1016.4 L1087.5 1016.4 L1085 1016.4 L1082.6 1015.5 L1080.2 991.2 L1077.7 1013.2 L1075.3 1015.5 L1072.8 998.5 L1070.4 1017.3 L1067.9 938.8 L1065.5 983.9 L1063.1 966.9 L1060.6 996.1 L1058.2 1017.3 L1055.7 1017.3 L1053.3 1017.3 L1050.8 959.6 L1048.4 983.9 L1046 1004.6 L1043.5 1003.4 L1041.1 996.1 L1038.6 948.6 L1036.2 957.1 L1033.7 952.2 L1031.3 1005.9 L1028.9 981.5 L1026.4 1001 L1024 959.6 L1021.5 983.9 L1019.1 924.2 L1016.6 1003.4 L1014.2 1005.9 L1011.8 1001 L1009.3 971.7 L1006.9 948.6 L1004.4 1003.4 L1002 991.2 L999.5 915.7 L997.1 1005.9 L994.7 983.9 L992.2 1001 L989.8 1013.2 L987.3 1014.4 L984.9 1001 L982.4 976.6 L980 1005.9 L977.6 964.4 L975.1 988.8 L972.7 976.6 L970.2 935.2 L967.8 983.9 L965.3 1016.9 L962.9 996.1 L960.4 947.4 L958 996.1 L955.6 1003.4 L953.1 1015.5 L950.7 957.1 L948.2 1014.4 L945.8 1013.2 L943.3 998.5 L940.9 874.3 L938.5 996.1 L936 976.6 L933.6 974.2 L931.1 976.6 L928.7 954.7 L926.2 966.9 L923.8 981.5 L921.4 968.1 L918.9 996.1 L916.5 1014.4 L914 1012 L911.6 1008.3 L909.1 964.4 L906.7 1001 L904.3 991.2 L901.8 918.9 L899.4 996.1 L896.9 1010.7 L894.5 951 L892 1016.4 L889.6 971.7 L887.2 936.4 L884.7 983.9 L882.3 963.2 L879.8 1005.9 L877.4 1001 L874.9 1010.7 L872.5 947.4 L870.1 1001 L867.6 975.4 L865.2 1013.2 L862.7 991.2 L860.3 1010.7 L857.8 979.1 L855.4 1003.4 L853 1013.2 L850.5 1005.9 L848.1 990.7 L845.6 970.4 L843.2 954.1 L840.7 994.8 L838.3 1013.1 L835.9 969.3 L833.4 1013.1 L831 1011.1 L828.5 1009.1 L826.1 993.8 L823.6 1009.1 L821.2 970.4 L818.8 1005 L816.3 1004 L813.9 1009.1 L811.4 996.8 L809 1017.3 L806.5 1015.9 L804.1 1015.2 L801.7 1013.1 L799.2 967.3 L796.8 1013.1 L794.3 1009.1 L791.9 1015.9 L789.4 1015.9 L787 1013.1 L784.6 986.7 L782.1 1005 L779.7 1000.9 L777.2 975.5 L774.8 1013.1 L772.3 1016.7 L769.9 1013.1 L767.5 1000.9 L765 976.5 L762.6 1000.9 L760.1 943.9 L757.7 1000.9 L755.2 1013.1 L752.8 1017.3 L750.4 1017.3 L747.9 1000.9 L745.5 964.3 L743 966.3 L740.6 1009.1 L738.1 1000.9 L735.7 982.6 L733.2 954.1 L730.8 958.1 L728.4 1005 L725.9 980.6 L723.5 889.9 L721 994.8 L718.6 990.7 L716.1 895.4 L713.7 1000.9 L711.3 990.7 L708.8 972.4 L706.4 1005 L703.9 1015.2 L701.5 1017.3 L699 946.9 L696.6 1013.1 L694.2 1000.9 L691.7 948 L689.3 1015.2 L686.8 1017.3 L684.4 948 L681.9 994.8 L679.5 921.9 L677.1 1000.9 L674.6 965.3 L672.2 1013.1 L669.7 906.8 L667.3 994.8 L664.8 966.3 L662.4 1016.7 L660 1015.2 L657.5 1005 L655.1 933.7 L652.6 1000.9 L650.2 990.7 L647.7 1005 L645.3 1013.1 L642.9 983.6 L640.4 1011.1 L638 1013.1 L635.5 1013.1 L633.1 1015.2 L630.6 891.9 L628.2 1009.1 L625.8 1015.2 L623.3 984.6 L620.9 1000.9 L618.4 1013.1 L616 1015.2 L613.5 902.1 L611.1 1017.3 L608.7 1017.3 L606.2 1017.3 L603.8 1017.3 L601.3 1017.3 L598.9 1017.3 L596.4 1015.2 L594 994.8 L591.6 871 L589.1 980.6 L586.7 982.6 L584.2 1000.9 L581.8 994.8 L579.3 974.4 L576.9 1000.9 L574.5 1017.3 L572 1017.3 L569.6 1009.1 L567.1 1005 L564.7 1000.9 L562.2 932.7 L559.8 1015.2 L557.4 996.8 L554.9 933.7 L552.5 920.5 L550 923.5 L547.6 994.8 L545.1 1009.1 L542.7 1005 L540.3 984.6 L537.8 1005 L535.4 946.9 L532.9 1015.2 L530.5 1015.2 L528 974.4 L525.6 857.9 L523.2 1013.1 L520.7 877.1 L518.3 1005 L515.8 1009.1 L513.4 1011.1 L510.9 994.8 L508.5 950 L506.1 1015.2 L503.6 888.5 L501.2 1013.1 L498.7 983.6 L496.3 1005 L493.8 992.8 L491.4 998.9 L488.9 1005 L486.5 1000.9 L484.1 994.8 L481.6 959.2 L479.2 1017.3 L476.7 1017.3 L474.3 914.4 L471.8 1009.1 L469.4 976.5 L467 988.7 L464.5 1017.3 L462.1 1005 L459.6 1013.1 L457.2 1001.9 L454.7 1017.3 L452.3 1013.1 L449.9 1011.1 L447.4 1009.1 L445 1001.9 L442.5 1009.1 L440.1 996.8 L437.6 1016.7 L435.2 1003 L432.8 1015.2 L430.3 1009.1 L427.9 1017.3 L425.4 973.4 L423 992.8 L420.5 1005 L418.1 1015.9 L415.7 1003 L413.2 1015.2 L410.8 1011.1 L408.3 1005 L405.9 1011.1 L403.4 1013.1 L401 1016.7 L398.6 1016.7 L396.1 1013.1 L393.7 1007 L391.2 1007 L388.8 1015.9 L386.3 1009.1 L383.9 1015.2 L381.5 1005 L379 1015.9 L376.6 1015.9 L374.1 1015.2 L371.7 1009.1 L369.2 1001.9 L366.8 1013.1 L364.4 1014.2 L361.9 1015.2 L359.5 1015.9 L357 1014.2 L354.6 1015.2 L352.1 1017.3 L349.7 1013.1 L347.3 1009.1 L344.8 1001.9 L342.4 1011.1 L339.9 1017.3 L337.5 1014.9 L335 1005.7 L332.6 1015.7 L330.2 1010.8 L327.7 1017.3 L325.3 1010.8 L322.8 998.6 L320.4 1008.7 L317.9 1012.8 L315.5 1008.7 L313.1 1012.8 L310.6 1017.3 L308.2 984.3 L305.7 964.9 L303.3 976.2 L300.8 1000.6 L298.4 1012.8 L296 1002.6 L293.5 1010.8 L291.1 1016.4 L288.6 1012.8 L286.2 1008.7 L283.7 1002.6 L281.3 1002.6 L278.9 1010.8 L276.4 1015.7 L274 1010.8 L271.5 1001.6 L269.1 1002.6 L266.6 1006.7 L264.2 1012.8 L261.8 1017.3 L259.3 1017.3 L256.9 1017.3 L254.4 1010.8 L252 1015.7 L249.5 1017.3 L247.1 1008.7 L244.7 1017 L242.2 1017 L239.8 1017 L237.3 1017 L234.9 1017 L232.4 1017 L230 1017 L227.5 1017 L225.1 1017 L222.7 1017 L220.2 1016.7 L217.8 1008.7 L215.3 1013.8 L212.9 1015.2 L210.4 1017.2 L208 1017.2 L205.6 1017.2 L203.1 1015.2 L200.7 1015.2 L198.2 1015.2 L195.8 1015.2 L193.3 1017.2 L190.9 1017.2 L188.5 1017.2 L186 1016.7 L183.6 1016.7 L181.1 1016.7 L178.7 1016.7 L176.2 1014.9 L173.8 1016.4 L171.4 1010.8 L168.9 1015.7 L166.5 1011.8 L164 1015.7 L161.6 1008.7 L159.1 1016.1 L156.7 1016.7 L154.3 1016.4 L151.8 1015.7 L149.4 1014.9 L146.9 1017.2 L144.5 1017.2 L142 1017.2 L139.6 1012.8 L137.2 1004.7 L134.7 1016.4 L132.3 1012.8 L129.8 997.5 L127.4 1004.7 L124.9 1017.2 L122.5 1014.9Z" fill="#FFA566" stroke="none"/>
<path d="M122.5 1006.1 L124.9 1017.1 L127.4 991.1 L129.8 985.7 L132.3 1007.3 L134.7 1009.8 L137.2 994.8 L139.6 1002.4 L142 1017.1 L144.5 1017.1 L146.9 1017.1 L149.4 1010.6 L151.8 1010.6 L154.3 1009.8 L156.7 1010.5 L159.1 1009 L161.6 1001.3 L164 1007.9 L166.5 1005.6 L168.9 1007.9 L171.4 1002.6 L173.8 1009.8 L176.2 1006.1 L178.7 1010.5 L181.1 1010.5 L183.6 1010.5 L186 1010.5 L188.5 1017.1 L190.9 1017.1 L193.3 1017.1 L195.8 1009.5 L198.2 1009.5 L200.7 1009.5 L203.1 1009.5 L205.6 1017.1 L208 1017.1 L210.4 1017.1 L212.9 1006.8 L215.3 1004.2 L217.8 1000.4 L220.2 1010.5 L222.7 1016.9 L225.1 1016.9 L227.5 1016.9 L230 1016.9 L232.4 1016.9 L234.9 1016.9 L237.3 1016.9 L239.8 1016.9 L242.2 1016.9 L244.7 1016.9 L247.1 1000.8 L249.5 1017.3 L252 1007.9 L254.4 1002.6 L256.9 1017.3 L259.3 1017.3 L261.8 1017.3 L264.2 1002.4 L266.6 994.3 L269.1 984.6 L271.5 984.6 L274 1000.8 L276.4 1007.9 L278.9 998.7 L281.3 987.8 L283.7 988.3 L286.2 998.7 L288.6 1002.4 L291.1 1009.8 L293.5 998.7 L296 990 L298.4 1002.4 L300.8 968.3 L303.3 931.5 L305.7 918.9 L308.2 946.7 L310.6 1011.7 L313.1 1002.4 L315.5 995 L317.9 1002.4 L320.4 995 L322.8 973.1 L325.3 998.7 L327.7 1017.3 L330.2 990 L332.6 1007.9 L335 993.3 L337.5 1006.1 L339.9 1017.3 L342.4 999.3 L344.8 966.5 L347.3 981.7 L349.7 1003 L352.1 1012 L354.6 1006.7 L357 1004.8 L359.5 1008.5 L361.9 1006.7 L364.4 1004.8 L366.8 988.2 L369.2 979.5 L371.7 988.2 L374.1 1006.7 L376.6 1008.5 L379 1008.5 L381.5 976.3 L383.9 1006.7 L386.3 986 L388.8 1008.5 L391.2 996.9 L393.7 996.9 L396.1 1003 L398.6 1010.3 L401 1010.3 L403.4 999 L405.9 999.3 L408.3 988.2 L410.8 999.3 L413.2 1006.7 L415.7 962.6 L418.1 1008.5 L420.5 981.7 L423 964.4 L425.4 919.3 L427.9 1003.4 L430.3 995.6 L432.8 1006.7 L435.2 979.5 L437.6 1010.3 L440.1 971.9 L442.5 995.6 L445 975.2 L447.4 995.6 L449.9 992.5 L452.3 992.5 L454.7 1017.2 L457.2 981.7 L459.6 1003 L462.1 986 L464.5 1017.2 L467 949.2 L469.4 932.9 L471.8 992.5 L474.3 828.9 L476.7 1017.2 L479.2 1017.2 L481.6 886.8 L484.1 949.2 L486.5 970.9 L488.9 960 L491.4 940.5 L493.8 955.7 L496.3 970.9 L498.7 937.9 L501.2 1003 L503.6 758.5 L506.1 1006.7 L508.5 887.4 L510.9 969.8 L513.4 981.7 L515.8 995.6 L518.3 988.2 L520.7 755.9 L523.2 1003 L525.6 732.1 L528 916.7 L530.5 1006.7 L532.9 1006.7 L535.4 893.9 L537.8 988.2 L540.3 949.2 L542.7 988.2 L545.1 995.6 L547.6 969.8 L550 852.8 L552.5 847.3 L554.9 862.5 L557.4 973.5 L559.8 1006.7 L562.2 862.1 L564.7 980.9 L567.1 988.2 L569.6 995.6 L572 1012 L574.5 1017.2 L576.9 980.9 L579.3 923.2 L581.8 969.8 L584.2 980.9 L586.7 949.2 L589.1 949.2 L591.6 762.4 L594 970.9 L596.4 1006.7 L598.9 1017.2 L601.3 1017.2 L603.8 1017.2 L606.2 1017.2 L608.7 1017.2 L611.1 1017.2 L613.5 763.9 L616 1005.7 L618.4 1001.3 L620.9 974.8 L623.3 935.1 L625.8 1005.6 L628.2 992.2 L630.6 755.9 L633.1 1005.5 L635.5 1001 L638 1000.9 L640.4 996.4 L642.9 942.3 L645.3 1000.8 L647.7 982.5 L650.2 957.9 L652.6 973.1 L655.1 838.2 L657.5 982.1 L660 1005.2 L662.4 1009.9 L664.8 905.4 L667.3 958.3 L669.7 768.9 L672.2 1000.4 L674.6 906.9 L677.1 971.8 L679.5 810.5 L681.9 957.2 L684.4 874.4 L686.8 1017.2 L689.3 1005 L691.7 883.1 L694.2 970.9 L696.6 1000 L699 873.3 L701.5 1017.2 L703.9 1004.8 L706.4 980.1 L708.8 923.2 L711.3 934 L713.7 969.9 L716.1 748.8 L718.6 895 L721 954.4 L723.5 765 L725.9 918.6 L728.4 979.2 L730.8 883.1 L733.2 885.3 L735.7 916.7 L738.1 960 L740.6 989 L743 909.1 L745.5 904.1 L747.9 960 L750.4 1017.2 L752.8 1017.2 L755.2 981.7 L757.7 967.5 L760.1 822.4 L762.6 938.4 L765 890.7 L767.5 960 L769.9 998.9 L772.3 1009.5 L774.8 998.8 L777.2 899.3 L779.7 966.3 L782.1 926.4 L784.6 938.4 L787 1003.4 L789.4 1006.7 L791.9 1006.6 L794.3 979.5 L796.8 998 L799.2 874.4 L801.7 997.8 L804.1 999 L806.5 1006.4 L809 1017.2 L811.4 955.7 L813.9 981.7 L816.3 970.9 L818.8 968.7 L821.2 884.2 L823.6 984.5 L826.1 936.2 L828.5 988.2 L831 999 L833.4 999 L835.9 856.4 L838.3 996.2 L840.7 916.7 L843.2 807.7 L845.6 834.3 L848.1 916.7 L850.5 955 L853 995.7 L855.4 963.4 L857.8 872.1 L860.3 987.2 L862.7 910.9 L865.2 995.1 L867.6 891.5 L870.1 953.5 L872.5 822.3 L874.9 986.7 L877.4 955 L879.8 970.1 L882.3 853.4 L884.7 895.5 L887.2 796.3 L889.6 890.2 L892 1007.5 L894.5 767.1 L896.9 890.2 L899.4 936.9 L901.8 640.8 L904.3 864.3 L906.7 953.5 L909.1 819.7 L911.6 978.4 L914 968 L916.5 999.2 L918.9 936.9 L921.4 828.5 L923.8 887.6 L926.2 830.6 L928.7 808.5 L931.1 861.7 L933.6 869.5 L936 942.1 L938.5 936.9 L940.9 613.3 L943.3 916.1 L945.8 995 L948.2 999.2 L950.7 853.4 L953.1 1003.3 L955.6 980.9 L958 936.9 L960.4 818.9 L962.9 936.9 L965.3 988.7 L967.8 895.5 L970.2 822.3 L972.7 903.2 L975.1 929.1 L977.6 875.2 L980 970.1 L982.4 927.8 L984.9 953.5 L987.3 993.9 L989.8 995 L992.2 953.5 L994.7 929.1 L997.1 970.1 L999.5 787.3 L1002 916.1 L1004.4 961.8 L1006.9 855.2 L1009.3 916.1 L1011.8 968 L1014.2 970.1 L1016.6 961.8 L1019.1 817.6 L1021.5 895.5 L1024 910.9 L1026.4 953.5 L1028.9 955 L1031.3 970.1 L1033.7 883.7 L1036.2 804.2 L1038.6 860.4 L1041.1 936.9 L1043.5 980.9 L1046 966 L1048.4 895.5 L1050.8 892.8 L1053.3 1009.5 L1055.7 1009.5 L1058.2 1009.5 L1060.6 760.6 L1063.1 676.3 L1065.5 881.1 L1067.9 589.5 L1070.4 980.9 L1072.8 868.2 L1075.3 993.9 L1077.7 999.1 L1080.2 853.9 L1082.6 980.9 L1085 1009.5 L1087.5 1012.1 L1089.9 993.9 L1092.4 968 L1094.8 931.7 L1097.3 916.1 L1099.7 732 L1102.1 944.6 L1104.6 916.1 L1107 952.4 L1109.5 903.2 L1111.9 864.3 L1114.4 829.3 L1116.8 942.1 L1119.2 993.9 L1121.7 968 L1124.1 916.1 L1126.6 693.2 L1129 921.3 L1131.5 843.5 L1133.9 874.6 L1136.3 872.1 L1138.8 831.9 L1141.2 843.5 L1143.7 885 L1146.1 942.1 L1148.6 1001.7 L1151 999.1 L1153.4 977.1 L1155.9 993.9 L1158.3 1009.5" fill="none" stroke="#FFA826" stroke-width="0.9" stroke-linejoin="round" />
<path d="M122.5 1017.2 L124.9 1017.4 L127.4 1008.5 L129.8 1002.5 L132.3 1015.5 L134.7 1017.4 L137.2 1008.5 L139.6 1015.5 L142 1017.4 L144.5 1017.4 L146.9 1017.4 L149.4 1017.2 L151.8 1017.4 L154.3 1017.4 L156.7 1017.4 L159.1 1017.4 L161.6 1012 L164 1017.4 L166.5 1014.6 L168.9 1017.4 L171.4 1013.7 L173.8 1017.4 L176.2 1017.2 L178.7 1017.4 L181.1 1017.4 L183.6 1017.4 L186 1017.4 L188.5 1017.4 L190.9 1017.4 L193.3 1017.4 L195.8 1017.4 L198.2 1017.4 L200.7 1017.4 L203.1 1017.4 L205.6 1017.4 L208 1017.4 L210.4 1017.4 L212.9 1017.4 L215.3 1016.3 L217.8 1012 L220.2 1017.4 L222.7 1017.4 L225.1 1017.4 L227.5 1017.4 L230 1017.4 L232.4 1017.4 L234.9 1017.4 L237.3 1017.4 L239.8 1017.4 L242.2 1017.4 L244.7 1017.4 L247.1 1012 L249.5 1017.4 L252 1017.4 L254.4 1013.7 L256.9 1017.4 L259.3 1017.4 L261.8 1017.4 L264.2 1015.5 L266.6 1010.3 L269.1 1006.8 L271.5 1005.9 L274 1013.7 L276.4 1017.4 L278.9 1013.7 L281.3 1006.8 L283.7 1006.8 L286.2 1012 L288.6 1015.5 L291.1 1017.4 L293.5 1013.7 L296 1006.8 L298.4 1015.5 L300.8 1005.1 L303.3 984.3 L305.7 974.7 L308.2 991.2 L310.6 1017.4 L313.1 1015.5 L315.5 1012 L317.9 1015.5 L320.4 1012 L322.8 1003.3 L325.3 1013.7 L327.7 1017.4 L330.2 1013.7 L332.6 1017.4 L335 1009.4 L337.5 1017.2 L339.9 1017.4 L342.4 1014 L344.8 1006.2 L347.3 1012.3 L349.7 1015.7 L352.1 1017.4 L354.6 1017.4 L357 1016.6 L359.5 1017.4 L361.9 1017.4 L364.4 1016.6 L366.8 1015.7 L369.2 1006.2 L371.7 1012.3 L374.1 1017.4 L376.6 1017.4 L379 1017.4 L381.5 1008.8 L383.9 1017.4 L386.3 1012.3 L388.8 1017.4 L391.2 1010.5 L393.7 1010.5 L396.1 1015.7 L398.6 1017.4 L401 1017.4 L403.4 1015.7 L405.9 1014 L408.3 1008.8 L410.8 1014 L413.2 1017.4 L415.7 1007.1 L418.1 1017.4 L420.5 1008.8 L423 998.4 L425.4 981.9 L427.9 1017.4 L430.3 1012.3 L432.8 1017.4 L435.2 1007.1 L437.6 1017.4 L440.1 1001.9 L442.5 1012.3 L445 1006.2 L447.4 1012.3 L449.9 1014 L452.3 1015.7 L454.7 1017.4 L457.2 1006.2 L459.6 1015.7 L462.1 1008.8 L464.5 1017.4 L467 994.9 L469.4 984.5 L471.8 1012.3 L474.3 931.7 L476.7 1017.4 L479.2 1017.4 L481.6 969.8 L484.1 1000.1 L486.5 1005.3 L488.9 1008.8 L491.4 1003.6 L493.8 998.4 L496.3 1008.8 L498.7 990.6 L501.2 1015.7 L503.6 909.7 L506.1 1017.4 L508.5 962 L510.9 1000.1 L513.4 1014 L515.8 1012.3 L518.3 1008.8 L520.7 899.9 L523.2 1015.7 L525.6 883.7 L528 982.8 L530.5 1017.4 L532.9 1017.4 L535.4 959.4 L537.8 1008.8 L540.3 991.5 L542.7 1008.8 L545.1 1012.3 L547.6 1000.1 L550 939.5 L552.5 936.9 L554.9 948.1 L557.4 1001.9 L559.8 1017.4 L562.2 947.3 L564.7 1005.3 L567.1 1008.8 L569.6 1012.3 L572 1017.4 L574.5 1017.4 L576.9 1005.3 L579.3 982.8 L581.8 1000.1 L584.2 1005.3 L586.7 989.7 L589.1 988 L591.6 894.7 L594 1000.1 L596.4 1017.4 L598.9 1017.4 L601.3 1017.4 L603.8 1017.4 L606.2 1017.4 L608.7 1017.4 L611.1 1017.4 L613.5 921.3 L616 1017.4 L618.4 1015.7 L620.9 1005.3 L623.3 991.5 L625.8 1017.4 L628.2 1012.3 L630.6 912.6 L633.1 1017.4 L635.5 1015.7 L638 1015.7 L640.4 1014 L642.9 990.6 L645.3 1015.7 L647.7 1008.8 L650.2 996.7 L652.6 1005.3 L655.1 948.1 L657.5 1008.8 L660 1017.4 L662.4 1017.4 L664.8 975.9 L667.3 1000.1 L669.7 925.3 L672.2 1015.7 L674.6 975 L677.1 1005.3 L679.5 938.1 L681.9 1000.1 L684.4 960.3 L686.8 1017.4 L689.3 1017.4 L691.7 960.3 L694.2 1005.3 L696.6 1015.7 L699 959.4 L701.5 1017.4 L703.9 1017.4 L706.4 1008.8 L708.8 981.1 L711.3 996.7 L713.7 1005.3 L716.1 915.5 L718.6 996.7 L721 1000.1 L723.5 910.9 L725.9 988 L728.4 1008.8 L730.8 968.9 L733.2 965.5 L735.7 989.7 L738.1 1005.3 L740.6 1012.3 L743 975.9 L745.5 974.1 L747.9 1005.3 L750.4 1017.4 L752.8 1017.4 L755.2 1015.7 L757.7 1005.3 L760.1 956.8 L762.6 1005.3 L765 984.5 L767.5 1005.3 L769.9 1015.7 L772.3 1017.4 L774.8 1015.7 L777.2 983.7 L779.7 1005.3 L782.1 1008.8 L784.6 993.2 L787 1015.7 L789.4 1017.4 L791.9 1017.4 L794.3 1012.3 L796.8 1015.7 L799.2 976.7 L801.7 1015.7 L804.1 1017.4 L806.5 1017.4 L809 1017.4 L811.4 1001.9 L813.9 1012.3 L816.3 1007.9 L818.8 1008.8 L821.2 979.3 L823.6 1012.3 L826.1 999.3 L828.5 1012.3 L831 1014 L833.4 1015.7 L835.9 978.5 L838.3 1015.7 L840.7 1000.1 L843.2 965.5 L845.6 979.3 L848.1 996.7 L850.5 1009.5 L853 1015.8 L855.4 1007.5 L857.8 986.7 L860.3 1013.7 L862.7 997.1 L865.2 1015.8 L867.6 983.6 L870.1 1005.4 L872.5 959.8 L874.9 1013.7 L877.4 1005.4 L879.8 1009.5 L882.3 973.3 L884.7 990.9 L887.2 950.4 L889.6 980.5 L892 1017.4 L894.5 962.9 L896.9 1013.7 L899.4 1001.3 L901.8 935.5 L904.3 997.1 L906.7 1005.4 L909.1 974.3 L911.6 1011.6 L914 1014.7 L916.5 1016.8 L918.9 1001.3 L921.4 977.4 L923.8 988.8 L926.2 976.4 L928.7 966 L931.1 984.7 L933.6 982.6 L936 984.7 L938.5 1001.3 L940.9 897.5 L943.3 1003.3 L945.8 1015.8 L948.2 1016.8 L950.7 968.1 L953.1 1017.4 L955.6 1007.5 L958 1001.3 L960.4 959.8 L962.9 1001.3 L965.3 1017.4 L967.8 990.9 L970.2 949.4 L972.7 984.7 L975.1 995 L977.6 974.3 L980 1009.5 L982.4 984.7 L984.9 1005.4 L987.3 1016.8 L989.8 1015.8 L992.2 1005.4 L994.7 990.9 L997.1 1009.5 L999.5 932.8 L1002 997.1 L1004.4 1007.5 L1006.9 960.8 L1009.3 980.5 L1011.8 1005.4 L1014.2 1009.5 L1016.6 1007.5 L1019.1 940.1 L1021.5 990.9 L1024 970.1 L1026.4 1005.4 L1028.9 988.8 L1031.3 1009.5 L1033.7 963.9 L1036.2 968.1 L1038.6 960.8 L1041.1 1001.3 L1043.5 1007.5 L1046 1008.5 L1048.4 990.9 L1050.8 970.1 L1053.3 1017.4 L1055.7 1017.4 L1058.2 1017.4 L1060.6 1001.3 L1063.1 976.4 L1065.5 990.9 L1067.9 952.5 L1070.4 1017.4 L1072.8 1003.3 L1075.3 1017.4 L1077.7 1015.8 L1080.2 997.1 L1082.6 1017.4 L1085 1017.4 L1087.5 1017.4 L1089.9 1017.4 L1092.4 1015.8 L1094.8 1011.6 L1097.3 1007.5 L1099.7 973.3 L1102.1 1001.3 L1104.6 990.9 L1107 1013.7 L1109.5 1005.4 L1111.9 997.1 L1114.4 987.8 L1116.8 1013.7 L1119.2 1017.4 L1121.7 1015.8 L1124.1 1005.4 L1126.6 960.8 L1129 1001.3 L1131.5 988.8 L1133.9 999.2 L1136.3 990.9 L1138.8 985.7 L1141.2 984.7 L1143.7 997.1 L1146.1 1007.5 L1148.6 1017.4 L1151 1017.4 L1153.4 1011.6 L1155.9 1015.8 L1158.3 1017.4" fill="none" stroke="#FFA826" stroke-width="0.9" stroke-linejoin="round" />
<path d="M122.5 1010.6 L124.9 1017.1 L127.4 998 L129.8 991.3 L132.3 1009.9 L134.7 1013.4 L137.2 999.6 L139.6 1007.8 L142 1017.1 L144.5 1017.1 L146.9 1017.1 L149.4 1012.5 L151.8 1013.1 L154.3 1013.4 L156.7 1013.9 L159.1 1012.8 L161.6 1004.8 L164 1012 L166.5 1008.5 L168.9 1012 L171.4 1006.6 L173.8 1013.4 L176.2 1010.6 L178.7 1013.9 L181.1 1013.9 L183.6 1013.9 L186 1013.9 L188.5 1017.1 L190.9 1017.1 L193.3 1017.1 L195.8 1012.3 L198.2 1012.3 L200.7 1012.3 L203.1 1012.3 L205.6 1017.1 L208 1017.1 L210.4 1017.1 L212.9 1011.1 L215.3 1009.2 L217.8 1004.4 L220.2 1013.9 L222.7 1016.9 L225.1 1016.9 L227.5 1016.9 L230 1016.9 L232.4 1016.9 L234.9 1016.9 L237.3 1016.9 L239.8 1016.9 L242.2 1016.9 L244.7 1016.9 L247.1 1004.6 L249.5 1017.3 L252 1012 L254.4 1006.6 L256.9 1017.3 L259.3 1017.3 L261.8 1017.3 L264.2 1007.8 L266.6 1000.6 L269.1 994 L271.5 993.4 L274 1005.9 L276.4 1012 L278.9 1005 L281.3 995.4 L283.7 995.6 L286.2 1003.7 L288.6 1007.8 L291.1 1013.4 L293.5 1005 L296 996.3 L298.4 1007.8 L300.8 988.2 L303.3 955.4 L305.7 943.2 L308.2 966.8 L310.6 1014.9 L313.1 1007.8 L315.5 1002.2 L317.9 1007.8 L320.4 1002.2 L322.8 986.7 L325.3 1005 L327.7 1017.3 L330.2 1002.8 L332.6 1012 L335 999.5 L337.5 1010.6 L339.9 1017.3 L342.4 1005.4 L344.8 990.1 L347.3 1000.3 L349.7 1008.2 L352.1 1015 L354.6 1011 L357 1009.6 L359.5 1012.4 L361.9 1011 L364.4 1009.6 L366.8 1006.2 L369.2 991.5 L371.7 1000.3 L374.1 1011 L376.6 1012.4 L379 1012.4 L381.5 994.5 L383.9 1011 L386.3 1000.3 L388.8 1012.4 L391.2 1001.9 L393.7 1001.9 L396.1 1008.2 L398.6 1013.8 L401 1013.8 L403.4 1006.6 L405.9 1005.4 L408.3 997 L410.8 1005.4 L413.2 1011 L415.7 991.6 L418.1 1012.4 L420.5 994.5 L423 979.4 L425.4 949.1 L427.9 1013.2 L430.3 1002.6 L432.8 1011 L435.2 992.1 L437.6 1013.8 L440.1 985.1 L442.5 1002.6 L445 990.1 L447.4 1002.6 L449.9 1003.3 L452.3 1006.2 L454.7 1017.2 L457.2 992.4 L459.6 1008.2 L462.1 996.1 L464.5 1017.2 L467 971.1 L469.4 956.2 L471.8 1001.3 L474.3 874.2 L476.7 1017.2 L479.2 1017.2 L481.6 928.7 L484.1 979.9 L486.5 988.6 L488.9 994.5 L491.4 985.7 L493.8 976.9 L496.3 994.5 L498.7 963.8 L501.2 1008.2 L503.6 828.6 L506.1 1011 L508.5 920.7 L510.9 983 L513.4 1003.3 L515.8 1002.6 L518.3 997 L520.7 820.5 L523.2 1008.2 L525.6 798.7 L528 950.6 L530.5 1011 L532.9 1011 L535.4 921.6 L537.8 997 L540.3 968 L542.7 997 L545.1 1002.6 L547.6 983 L550 889.8 L552.5 885.7 L554.9 900.2 L557.4 985.8 L559.8 1011 L562.2 899.4 L564.7 991.4 L567.1 997 L569.6 1002.6 L572 1015 L574.5 1017.2 L576.9 991.4 L579.3 950.8 L581.8 983 L584.2 991.4 L586.7 966.8 L589.1 965.5 L591.6 819.5 L594 983.4 L596.4 1011 L598.9 1017.2 L601.3 1017.2 L603.8 1017.2 L606.2 1017.2 L608.7 1017.2 L611.1 1017.2 L613.5 846.8 L616 1010.6 L618.4 1007.5 L620.9 988.9 L623.3 965.2 L625.8 1010.6 L628.2 1001.2 L630.6 832.1 L633.1 1010.5 L635.5 1007.4 L638 1007.4 L640.4 1004.2 L642.9 964.5 L645.3 1007.3 L647.7 994.6 L650.2 975.4 L652.6 988.6 L655.1 892.1 L657.5 994.5 L660 1010.4 L662.4 1013.6 L664.8 938.9 L667.3 979.9 L669.7 853.5 L672.2 1007.1 L674.6 938.4 L677.1 988.6 L679.5 875.1 L681.9 979.9 L684.4 914 L686.8 1017.2 L689.3 1010.3 L691.7 917.7 L694.2 988.6 L696.6 1007 L699 912.9 L701.5 1017.2 L703.9 1010.3 L706.4 994.5 L708.8 949.6 L711.3 974 L713.7 988.6 L716.1 837.1 L718.6 974 L721 979.9 L723.5 832.2 L725.9 959.4 L728.4 994.5 L730.8 927.2 L733.2 922.3 L735.7 962.3 L738.1 988.6 L740.6 1000.3 L743 939.9 L745.5 936.5 L747.9 988.6 L750.4 1017.2 L752.8 1017.2 L755.2 1006.2 L757.7 988.6 L760.1 906.7 L762.6 988.6 L765 953.5 L767.5 988.6 L769.9 1006.5 L772.3 1013.5 L774.8 1006.5 L777.2 952.1 L779.7 988.6 L782.1 994.5 L784.6 968.2 L787 1008.4 L789.4 1011.7 L791.9 1011.6 L794.3 1000.3 L796.8 1006.2 L799.2 940.4 L801.7 1006.2 L804.1 1009.1 L806.5 1011.5 L809 1017.2 L811.4 982.8 L813.9 1000.3 L816.3 993 L818.8 994.5 L821.2 944.7 L823.6 1000.3 L826.1 978.4 L828.5 1000.3 L831 1005.3 L833.4 1006.6 L835.9 943.3 L838.3 1006.2 L840.7 979.9 L843.2 921.3 L845.6 944.7 L848.1 974 L850.5 995.7 L853 1006.2 L855.4 992.2 L857.8 957.2 L860.3 1002.7 L862.7 974.7 L865.2 1006.2 L867.6 952 L870.1 988.7 L872.5 911.7 L874.9 1002.7 L877.4 988.7 L879.8 995.7 L882.3 934.5 L884.7 964.2 L887.2 896 L889.6 946.7 L892 1012.4 L894.5 917 L896.9 1002.7 L899.4 981.7 L901.8 870.8 L904.3 974.7 L906.7 988.7 L909.1 936.2 L911.6 999.2 L914 1004.5 L916.5 1008 L918.9 981.7 L921.4 941.5 L923.8 960.7 L926.2 939.7 L928.7 922.2 L931.1 953.7 L933.6 950.2 L936 960.1 L938.5 981.7 L940.9 806.7 L943.3 985.2 L945.8 1006.2 L948.2 1008 L950.7 925.7 L953.1 1009.9 L955.6 993 L958 981.7 L960.4 911.7 L962.9 981.7 L965.3 1012.5 L967.8 964.2 L970.2 894.2 L972.7 953.7 L975.1 971.2 L977.6 936.2 L980 995.7 L982.4 954.1 L984.9 988.7 L987.3 1008 L989.8 1006.2 L992.2 988.7 L994.7 964.2 L997.1 995.7 L999.5 866.2 L1002 974.7 L1004.4 992.2 L1006.9 913.5 L1009.3 946.7 L1011.8 988.7 L1014.2 995.7 L1016.6 992.2 L1019.1 878.5 L1021.5 964.2 L1024 936.5 L1026.4 988.7 L1028.9 968.6 L1031.3 995.7 L1033.7 920.6 L1036.2 925.7 L1038.6 913.5 L1041.1 981.7 L1043.5 993 L1046 994 L1048.4 964.2 L1050.8 929.2 L1053.3 1014 L1055.7 1014 L1058.2 1014 L1060.6 981.7 L1063.1 939.7 L1065.5 964.2 L1067.9 899.5 L1070.4 1013.2 L1072.8 985.2 L1075.3 1009.7 L1077.7 1006.6 L1080.2 974.7 L1082.6 1009.7 L1085 1013.2 L1087.5 1014.3 L1089.9 1011.5 L1092.4 1006.2 L1094.8 999.2 L1097.3 992.2 L1099.7 934.5 L1102.1 981.7 L1104.6 964.2 L1107 1002.7 L1109.5 988.7 L1111.9 974.7 L1114.4 959 L1116.8 1002.7 L1119.2 1011.5 L1121.7 1006.2 L1124.1 988.7 L1126.6 913.5 L1129 981.7 L1131.5 960.7 L1133.9 978.2 L1136.3 964.2 L1138.8 955.5 L1141.2 953.7 L1143.7 974.7 L1146.1 992.2 L1148.6 1011.5 L1151 1009.7 L1153.4 999.2 L1155.9 1006.2 L1158.3 1014" fill="none" stroke="#FFA826" stroke-width="0.9" stroke-linejoin="round" />
<path d="M122.5 1015.9 L124.9 1017.3 L127.4 1006.3 L129.8 999.7 L132.3 1014 L134.7 1016.8 L137.2 1006.3 L139.6 1014 L142 1017.3 L144.5 1017.3 L146.9 1017.3 L149.4 1015.9 L151.8 1016.4 L154.3 1016.8 L156.7 1017 L159.1 1016.7 L161.6 1010.1 L164 1016.4 L166.5 1013 L168.9 1016.4 L171.4 1012 L173.8 1016.8 L176.2 1015.9 L178.7 1017 L181.1 1017 L183.6 1017 L186 1017 L188.5 1017.3 L190.9 1017.3 L193.3 1017.3 L195.8 1016.2 L198.2 1016.2 L200.7 1016.2 L203.1 1016.2 L205.6 1017.3 L208 1017.3 L210.4 1017.3 L212.9 1016.2 L215.3 1014.9 L217.8 1010.1 L220.2 1017 L222.7 1017.2 L225.1 1017.2 L227.5 1017.2 L230 1017.2 L232.4 1017.2 L234.9 1017.2 L237.3 1017.2 L239.8 1017.2 L242.2 1017.2 L244.7 1017.2 L247.1 1010.1 L249.5 1017.4 L252 1016.4 L254.4 1012 L256.9 1017.4 L259.3 1017.4 L261.8 1017.4 L264.2 1014 L266.6 1008.2 L269.1 1004.4 L271.5 1003.5 L274 1012 L276.4 1016.4 L278.9 1012 L281.3 1004.4 L283.7 1004.4 L286.2 1010.1 L288.6 1014 L291.1 1016.8 L293.5 1012 L296 1004.4 L298.4 1014 L300.8 1002.5 L303.3 979.6 L305.7 969.1 L308.2 987.3 L310.6 1017.4 L313.1 1014 L315.5 1010.1 L317.9 1014 L320.4 1010.1 L322.8 1000.6 L325.3 1012 L327.7 1017.4 L330.2 1012 L332.6 1016.4 L335 1007.3 L337.5 1015.9 L339.9 1017.4 L342.4 1012.4 L344.8 1003.8 L347.3 1010.4 L349.7 1014.3 L352.1 1017.3 L354.6 1016.1 L357 1015.2 L359.5 1016.6 L361.9 1016.1 L364.4 1015.2 L366.8 1014.3 L369.2 1003.8 L371.7 1010.4 L374.1 1016.1 L376.6 1016.6 L379 1016.6 L381.5 1006.6 L383.9 1016.1 L386.3 1010.4 L388.8 1016.6 L391.2 1008.5 L393.7 1008.5 L396.1 1014.3 L398.6 1017 L401 1017 L403.4 1014.3 L405.9 1012.4 L408.3 1006.6 L410.8 1012.4 L413.2 1016.1 L415.7 1004.7 L418.1 1016.6 L420.5 1006.6 L423 995.2 L425.4 977.1 L427.9 1017.3 L430.3 1010.4 L432.8 1016.1 L435.2 1004.7 L437.6 1017 L440.1 999 L442.5 1010.4 L445 1003.8 L447.4 1010.4 L449.9 1012.4 L452.3 1014.3 L454.7 1017.3 L457.2 1003.8 L459.6 1014.3 L462.1 1006.6 L464.5 1017.3 L467 991.4 L469.4 979.9 L471.8 1010.4 L474.3 921.8 L476.7 1017.3 L479.2 1017.3 L481.6 963.7 L484.1 997.1 L486.5 1002.8 L488.9 1006.6 L491.4 1000.9 L493.8 995.2 L496.3 1006.6 L498.7 986.6 L501.2 1014.3 L503.6 897.6 L506.1 1016.1 L508.5 955.1 L510.9 997.1 L513.4 1012.4 L515.8 1010.4 L518.3 1006.6 L520.7 886.9 L523.2 1014.3 L525.6 869 L528 978 L530.5 1016.1 L532.9 1016.1 L535.4 952.3 L537.8 1006.6 L540.3 987.6 L542.7 1006.6 L545.1 1010.4 L547.6 997.1 L550 930.4 L552.5 927.5 L554.9 939.9 L557.4 999 L559.8 1016.1 L562.2 938.9 L564.7 1002.8 L567.1 1006.6 L569.6 1010.4 L572 1017.3 L574.5 1017.3 L576.9 1002.8 L579.3 978 L581.8 997.1 L584.2 1002.8 L586.7 985.7 L589.1 983.7 L591.6 881.2 L594 997.1 L596.4 1016.1 L598.9 1017.3 L601.3 1017.3 L603.8 1017.3 L606.2 1017.3 L608.7 1017.3 L611.1 1017.3 L613.5 910.3 L616 1016.1 L618.4 1014.3 L620.9 1002.8 L623.3 987.6 L625.8 1016.1 L628.2 1010.4 L630.6 900.8 L633.1 1016.1 L635.5 1014.3 L638 1014.3 L640.4 1012.4 L642.9 986.6 L645.3 1014.3 L647.7 1006.6 L650.2 993.3 L652.6 1002.8 L655.1 939.9 L657.5 1006.6 L660 1016.1 L662.4 1017 L664.8 970.4 L667.3 997.1 L669.7 914.7 L672.2 1014.3 L674.6 969.4 L677.1 1002.8 L679.5 928.8 L681.9 997.1 L684.4 953.2 L686.8 1017.3 L689.3 1016.1 L691.7 953.2 L694.2 1002.8 L696.6 1014.3 L699 952.3 L701.5 1017.3 L703.9 1016.1 L706.4 1006.6 L708.8 976.1 L711.3 993.3 L713.7 1002.8 L716.1 904 L718.6 993.3 L721 997.1 L723.5 898.9 L725.9 983.7 L728.4 1006.6 L730.8 962.8 L733.2 959 L735.7 985.7 L738.1 1002.8 L740.6 1010.4 L743 970.4 L745.5 968.5 L747.9 1002.8 L750.4 1017.3 L752.8 1017.3 L755.2 1014.3 L757.7 1002.8 L760.1 949.4 L762.6 1002.8 L765 979.9 L767.5 1002.8 L769.9 1014.3 L772.3 1017 L774.8 1014.3 L777.2 979 L779.7 1002.8 L782.1 1006.6 L784.6 989.5 L787 1014.3 L789.4 1016.6 L791.9 1016.6 L794.3 1010.4 L796.8 1014.3 L799.2 971.4 L801.7 1014.3 L804.1 1016.1 L806.5 1016.6 L809 1017.3 L811.4 999 L813.9 1010.4 L816.3 1005.7 L818.8 1006.6 L821.2 974.2 L823.6 1010.4 L826.1 996.1 L828.5 1010.4 L831 1012.4 L833.4 1014.3 L835.9 973.3 L838.3 1014.3 L840.7 997.1 L843.2 959 L845.6 974.2 L848.1 993.3 L850.5 1007.4 L853 1014.3 L855.4 1005.2 L857.8 982.3 L860.3 1012 L862.7 993.8 L865.2 1014.3 L867.6 978.9 L870.1 1002.9 L872.5 952.7 L874.9 1012 L877.4 1002.9 L879.8 1007.4 L882.3 967.5 L884.7 986.9 L887.2 942.4 L889.6 975.5 L892 1016.8 L894.5 956.1 L896.9 1012 L899.4 998.3 L901.8 926 L904.3 993.8 L906.7 1002.9 L909.1 968.7 L911.6 1009.7 L914 1013.1 L916.5 1015.4 L918.9 998.3 L921.4 972.1 L923.8 984.6 L926.2 970.9 L928.7 959.5 L931.1 980.1 L933.6 977.8 L936 980.1 L938.5 998.3 L940.9 884.2 L943.3 1000.6 L945.8 1014.3 L948.2 1015.4 L950.7 961.8 L953.1 1016.3 L955.6 1005.2 L958 998.3 L960.4 952.7 L962.9 998.3 L965.3 1017.1 L967.8 986.9 L970.2 941.3 L972.7 980.1 L975.1 991.5 L977.6 968.7 L980 1007.4 L982.4 980.1 L984.9 1002.9 L987.3 1015.4 L989.8 1014.3 L992.2 1002.9 L994.7 986.9 L997.1 1007.4 L999.5 923 L1002 993.8 L1004.4 1005.2 L1006.9 953.8 L1009.3 975.5 L1011.8 1002.9 L1014.2 1007.4 L1016.6 1005.2 L1019.1 931 L1021.5 986.9 L1024 964.1 L1026.4 1002.9 L1028.9 984.6 L1031.3 1007.4 L1033.7 957.2 L1036.2 961.8 L1038.6 953.8 L1041.1 998.3 L1043.5 1005.2 L1046 1006.3 L1048.4 986.9 L1050.8 964.1 L1053.3 1017.3 L1055.7 1017.3 L1058.2 1017.3 L1060.6 998.3 L1063.1 970.9 L1065.5 986.9 L1067.9 944.7 L1070.4 1017.3 L1072.8 1000.6 L1075.3 1016.3 L1077.7 1014.3 L1080.2 993.8 L1082.6 1016.3 L1085 1016.8 L1087.5 1016.8 L1089.9 1016.8 L1092.4 1014.3 L1094.8 1009.7 L1097.3 1005.2 L1099.7 967.5 L1102.1 998.3 L1104.6 986.9 L1107 1012 L1109.5 1002.9 L1111.9 993.8 L1114.4 983.5 L1116.8 1012 L1119.2 1016.8 L1121.7 1014.3 L1124.1 1002.9 L1126.6 953.8 L1129 998.3 L1131.5 984.6 L1133.9 996 L1136.3 986.9 L1138.8 981.2 L1141.2 980.1 L1143.7 993.8 L1146.1 1005.2 L1148.6 1016.8 L1151 1016.3 L1153.4 1009.7 L1155.9 1014.3 L1158.3 1017.3" fill="none" stroke="#FFA826" stroke-width="0.9" stroke-linejoin="round" />
<path d="M122.5 1012.8 L124.9 1017.1 L127.4 1001.4 L129.8 994.1 L132.3 1011.1 L134.7 1015.1 L137.2 1001.9 L139.6 1010.4 L142 1017.1 L144.5 1017.1 L146.9 1017.1 L149.4 1013.4 L151.8 1014.3 L154.3 1015.1 L156.7 1015.6 L159.1 1014.7 L161.6 1006.5 L164 1014 L166.5 1009.9 L168.9 1014 L171.4 1008.6 L173.8 1015.1 L176.2 1012.8 L178.7 1015.6 L181.1 1015.6 L183.6 1015.6 L186 1015.6 L188.5 1017.1 L190.9 1017.1 L193.3 1017.1 L195.8 1013.6 L198.2 1013.6 L200.7 1013.6 L203.1 1013.6 L205.6 1017.1 L208 1017.1 L210.4 1017.1 L212.9 1013.2 L215.3 1011.6 L217.8 1006.4 L220.2 1015.6 L222.7 1016.9 L225.1 1016.9 L227.5 1016.9 L230 1016.9 L232.4 1016.9 L234.9 1016.9 L237.3 1016.9 L239.8 1016.9 L242.2 1016.9 L244.7 1016.9 L247.1 1006.4 L249.5 1017.3 L252 1014 L254.4 1008.6 L256.9 1017.3 L259.3 1017.3 L261.8 1017.3 L264.2 1010.4 L266.6 1003.7 L269.1 998.6 L271.5 997.7 L274 1008.3 L276.4 1014 L278.9 1008 L281.3 999 L283.7 999.1 L286.2 1006.1 L288.6 1010.4 L291.1 1015.1 L293.5 1008 L296 999.3 L298.4 1010.4 L300.8 995.2 L303.3 967 L305.7 955 L308.2 976.5 L310.6 1016.5 L313.1 1010.4 L315.5 1005.6 L317.9 1010.4 L320.4 1005.6 L322.8 993.3 L325.3 1008 L327.7 1017.3 L330.2 1007.3 L332.6 1014 L335 1002.6 L337.5 1012.8 L339.9 1017.3 L342.4 1008.4 L344.8 996.8 L347.3 1005.3 L349.7 1010.8 L352.1 1016.5 L354.6 1013.1 L357 1012 L359.5 1014.3 L361.9 1013.1 L364.4 1012 L366.8 1010.1 L369.2 997.3 L371.7 1005.3 L374.1 1013.1 L376.6 1014.3 L379 1014.3 L381.5 1000.4 L383.9 1013.1 L386.3 1005.3 L388.8 1014.3 L391.2 1004.3 L393.7 1004.3 L396.1 1010.8 L398.6 1015.5 L401 1015.5 L403.4 1010.2 L405.9 1008.4 L408.3 1001.3 L410.8 1008.4 L413.2 1013.1 L415.7 998 L418.1 1014.3 L420.5 1000.4 L423 986.8 L425.4 963 L427.9 1015.9 L430.3 1006 L432.8 1013.1 L435.2 998.2 L437.6 1015.5 L440.1 991.5 L442.5 1006 L445 996.8 L447.4 1006 L449.9 1007.7 L452.3 1010.1 L454.7 1017.2 L457.2 997.6 L459.6 1010.8 L462.1 1001 L464.5 1017.2 L467 981.1 L469.4 967.5 L471.8 1005.6 L474.3 896.1 L476.7 1017.2 L479.2 1017.2 L481.6 946 L484.1 988.3 L486.5 995.6 L488.9 1000.4 L491.4 993.2 L493.8 985.9 L496.3 1000.4 L498.7 975 L501.2 1010.8 L503.6 862.7 L506.1 1013.1 L508.5 936.9 L510.9 989.4 L513.4 1007.7 L515.8 1006 L518.3 1001.3 L520.7 851.8 L523.2 1010.8 L525.6 831 L528 964.2 L530.5 1013.1 L532.9 1013.1 L535.4 935 L537.8 1001.3 L540.3 977.2 L542.7 1001.3 L545.1 1006 L547.6 989.4 L550 907.8 L552.5 904.3 L554.9 918.5 L557.4 991.8 L559.8 1013.1 L562.2 917.5 L564.7 996.5 L567.1 1001.3 L569.6 1006 L572 1016.5 L574.5 1017.2 L576.9 996.5 L579.3 964.2 L581.8 989.4 L584.2 996.5 L586.7 975.3 L589.1 973.5 L591.6 847.1 L594 989.5 L596.4 1013.1 L598.9 1017.2 L601.3 1017.2 L603.8 1017.2 L606.2 1017.2 L608.7 1017.2 L611.1 1017.2 L613.5 878.4 L616 1013 L618.4 1010.5 L620.9 995.7 L623.3 976.3 L625.8 1013 L628.2 1005.5 L630.6 866.3 L633.1 1013 L635.5 1010.5 L638 1010.5 L640.4 1008 L642.9 975.3 L645.3 1010.5 L647.7 1000.5 L650.2 984 L652.6 995.6 L655.1 915.8 L657.5 1000.4 L660 1013 L662.4 1015.5 L664.8 954.5 L667.3 988.3 L669.7 883.9 L672.2 1010.4 L674.6 953.6 L677.1 995.6 L679.5 901.8 L681.9 988.3 L684.4 933.2 L686.8 1017.2 L689.3 1012.9 L691.7 934.4 L694.2 995.6 L696.6 1010.4 L699 932.1 L701.5 1017.2 L703.9 1012.9 L706.4 1000.4 L708.8 962.4 L711.3 983.5 L713.7 995.6 L716.1 870.4 L718.6 983.5 L721 988.3 L723.5 864.9 L725.9 971.4 L728.4 1000.4 L730.8 944.8 L733.2 940.3 L735.7 973.8 L738.1 995.6 L740.6 1005.3 L743 954.8 L745.5 952.3 L747.9 995.6 L750.4 1017.2 L752.8 1017.2 L755.2 1010.1 L757.7 995.6 L760.1 927.9 L762.6 995.6 L765 966.6 L767.5 995.6 L769.9 1010.2 L772.3 1015.4 L774.8 1010.2 L777.2 965.4 L779.7 995.6 L782.1 1000.4 L784.6 978.7 L787 1010.8 L789.4 1014.1 L791.9 1014.1 L794.3 1005.3 L796.8 1010.1 L799.2 955.7 L801.7 1010.1 L804.1 1012.5 L806.5 1014 L809 1017.2 L811.4 990.8 L813.9 1005.3 L816.3 999.2 L818.8 1000.4 L821.2 959.3 L823.6 1005.3 L826.1 987.1 L828.5 1005.3 L831 1008.4 L833.4 1010.2 L835.9 958.1 L838.3 1010.1 L840.7 988.3 L843.2 940 L845.6 959.3 L848.1 983.5 L850.5 1001.5 L853 1010.1 L855.4 998.6 L857.8 969.6 L860.3 1007.2 L862.7 984.1 L865.2 1010.1 L867.6 965.3 L870.1 995.7 L872.5 932 L874.9 1007.2 L877.4 995.7 L879.8 1001.5 L882.3 950.8 L884.7 975.4 L887.2 919 L889.6 961 L892 1014.8 L894.5 936.4 L896.9 1007.2 L899.4 989.9 L901.8 898.2 L904.3 984.1 L906.7 995.7 L909.1 952.3 L911.6 1004.3 L914 1008.7 L916.5 1011.6 L918.9 989.9 L921.4 956.6 L923.8 972.5 L926.2 955.2 L928.7 940.7 L931.1 966.8 L933.6 963.9 L936 968.9 L938.5 989.9 L940.9 845.3 L943.3 992.8 L945.8 1010.1 L948.2 1011.6 L950.7 943.6 L953.1 1013.1 L955.6 998.8 L958 989.9 L960.4 932 L962.9 989.9 L965.3 1015.3 L967.8 975.4 L970.2 917.6 L972.7 966.8 L975.1 981.2 L977.6 952.3 L980 1001.5 L982.4 966.9 L984.9 995.7 L987.3 1011.6 L989.8 1010.1 L992.2 995.7 L994.7 975.4 L997.1 1001.5 L999.5 894.4 L1002 984.1 L1004.4 998.6 L1006.9 933.5 L1009.3 961 L1011.8 995.7 L1014.2 1001.5 L1016.6 998.6 L1019.1 904.6 L1021.5 975.4 L1024 948.9 L1026.4 995.7 L1028.9 975.1 L1031.3 1001.5 L1033.7 938.4 L1036.2 943.6 L1038.6 933.5 L1041.1 989.9 L1043.5 998.8 L1046 1000 L1048.4 975.4 L1050.8 946.5 L1053.3 1016.2 L1055.7 1016.2 L1058.2 1016.2 L1060.6 989.9 L1063.1 955.2 L1065.5 975.4 L1067.9 921.9 L1070.4 1015.9 L1072.8 992.8 L1075.3 1013 L1077.7 1010.3 L1080.2 984.1 L1082.6 1013 L1085 1015 L1087.5 1015.4 L1089.9 1014.5 L1092.4 1010.1 L1094.8 1004.3 L1097.3 998.6 L1099.7 950.8 L1102.1 989.9 L1104.6 975.4 L1107 1007.2 L1109.5 995.7 L1111.9 984.1 L1114.4 971.1 L1116.8 1007.2 L1119.2 1014.5 L1121.7 1010.1 L1124.1 995.7 L1126.6 933.5 L1129 989.9 L1131.5 972.5 L1133.9 987 L1136.3 975.4 L1138.8 968.2 L1141.2 966.8 L1143.7 984.1 L1146.1 998.6 L1148.6 1014.5 L1151 1013 L1153.4 1004.3 L1155.9 1010.1 L1158.3 1016.2" fill="none" stroke="#FFA826" stroke-width="0.9" stroke-linejoin="round" />
<path d="M122.5 1014.9 L124.9 1017.2 L127.4 1004.7 L129.8 997.5 L132.3 1012.8 L134.7 1016.4 L137.2 1004.7 L139.6 1012.8 L142 1017.2 L144.5 1017.2 L146.9 1017.2 L149.4 1014.9 L151.8 1015.7 L154.3 1016.4 L156.7 1016.7 L159.1 1016.1 L161.6 1008.7 L164 1015.7 L166.5 1011.8 L168.9 1015.7 L171.4 1010.8 L173.8 1016.4 L176.2 1014.9 L178.7 1016.7 L181.1 1016.7 L183.6 1016.7 L186 1016.7 L188.5 1017.2 L190.9 1017.2 L193.3 1017.2 L195.8 1015.2 L198.2 1015.2 L200.7 1015.2 L203.1 1015.2 L205.6 1017.2 L208 1017.2 L210.4 1017.2 L212.9 1015.2 L215.3 1013.8 L217.8 1008.7 L220.2 1016.7 L222.7 1017 L225.1 1017 L227.5 1017 L230 1017 L232.4 1017 L234.9 1017 L237.3 1017 L239.8 1017 L242.2 1017 L244.7 1017 L247.1 1008.7 L249.5 1017.3 L252 1015.7 L254.4 1010.8 L256.9 1017.3 L259.3 1017.3 L261.8 1017.3 L264.2 1012.8 L266.6 1006.7 L269.1 1002.6 L271.5 1001.6 L274 1010.8 L276.4 1015.7 L278.9 1010.8 L281.3 1002.6 L283.7 1002.6 L286.2 1008.7 L288.6 1012.8 L291.1 1016.4 L293.5 1010.8 L296 1002.6 L298.4 1012.8 L300.8 1000.6 L303.3 976.2 L305.7 964.9 L308.2 984.3 L310.6 1017.3 L313.1 1012.8 L315.5 1008.7 L317.9 1012.8 L320.4 1008.7 L322.8 998.6 L325.3 1010.8 L327.7 1017.3 L330.2 1010.8 L332.6 1015.7 L335 1005.7 L337.5 1014.9 L339.9 1017.3 L342.4 1011.1 L344.8 1001.9 L347.3 1009.1 L349.7 1013.1 L352.1 1017.3 L354.6 1015.2 L357 1014.2 L359.5 1015.9 L361.9 1015.2 L364.4 1014.2 L366.8 1013.1 L369.2 1001.9 L371.7 1009.1 L374.1 1015.2 L376.6 1015.9 L379 1015.9 L381.5 1005 L383.9 1015.2 L386.3 1009.1 L388.8 1015.9 L391.2 1007 L393.7 1007 L396.1 1013.1 L398.6 1016.7 L401 1016.7 L403.4 1013.1 L405.9 1011.1 L408.3 1005 L410.8 1011.1 L413.2 1015.2 L415.7 1003 L418.1 1015.9 L420.5 1005 L423 992.8 L425.4 973.4 L427.9 1017.3 L430.3 1009.1 L432.8 1015.2 L435.2 1003 L437.6 1016.7 L440.1 996.8 L442.5 1009.1 L445 1001.9 L447.4 1009.1 L449.9 1011.1 L452.3 1013.1 L454.7 1017.3 L457.2 1001.9 L459.6 1013.1 L462.1 1005 L464.5 1017.3 L467 988.7 L469.4 976.5 L471.8 1009.1 L474.3 914.4 L476.7 1017.3 L479.2 1017.3 L481.6 959.2 L484.1 994.8 L486.5 1000.9 L488.9 1005 L491.4 998.9 L493.8 992.8 L496.3 1005 L498.7 983.6 L501.2 1013.1 L503.6 888.5 L506.1 1015.2 L508.5 950 L510.9 994.8 L513.4 1011.1 L515.8 1009.1 L518.3 1005 L520.7 877.1 L523.2 1013.1 L525.6 857.9 L528 974.4 L530.5 1015.2 L532.9 1015.2 L535.4 946.9 L537.8 1005 L540.3 984.6 L542.7 1005 L545.1 1009.1 L547.6 994.8 L550 923.5 L552.5 920.5 L554.9 933.7 L557.4 996.8 L559.8 1015.2 L562.2 932.7 L564.7 1000.9 L567.1 1005 L569.6 1009.1 L572 1017.3 L574.5 1017.3 L576.9 1000.9 L579.3 974.4 L581.8 994.8 L584.2 1000.9 L586.7 982.6 L589.1 980.6 L591.6 871 L594 994.8 L596.4 1015.2 L598.9 1017.3 L601.3 1017.3 L603.8 1017.3 L606.2 1017.3 L608.7 1017.3 L611.1 1017.3 L613.5 902.1 L616 1015.2 L618.4 1013.1 L620.9 1000.9 L623.3 984.6 L625.8 1015.2 L628.2 1009.1 L630.6 891.9 L633.1 1015.2 L635.5 1013.1 L638 1013.1 L640.4 1011.1 L642.9 983.6 L645.3 1013.1 L647.7 1005 L650.2 990.7 L652.6 1000.9 L655.1 933.7 L657.5 1005 L660 1015.2 L662.4 1016.7 L664.8 966.3 L667.3 994.8 L669.7 906.8 L672.2 1013.1 L674.6 965.3 L677.1 1000.9 L679.5 921.9 L681.9 994.8 L684.4 948 L686.8 1017.3 L689.3 1015.2 L691.7 948 L694.2 1000.9 L696.6 1013.1 L699 946.9 L701.5 1017.3 L703.9 1015.2 L706.4 1005 L708.8 972.4 L711.3 990.7 L713.7 1000.9 L716.1 895.4 L718.6 990.7 L721 994.8 L723.5 889.9 L725.9 980.6 L728.4 1005 L730.8 958.1 L733.2 954.1 L735.7 982.6 L738.1 1000.9 L740.6 1009.1 L743 966.3 L745.5 964.3 L747.9 1000.9 L750.4 1017.3 L752.8 1017.3 L755.2 1013.1 L757.7 1000.9 L760.1 943.9 L762.6 1000.9 L765 976.5 L767.5 1000.9 L769.9 1013.1 L772.3 1016.7 L774.8 1013.1 L777.2 975.5 L779.7 1000.9 L782.1 1005 L784.6 986.7 L787 1013.1 L789.4 1015.9 L791.9 1015.9 L794.3 1009.1 L796.8 1013.1 L799.2 967.3 L801.7 1013.1 L804.1 1015.2 L806.5 1015.9 L809 1017.3 L811.4 996.8 L813.9 1009.1 L816.3 1004 L818.8 1005 L821.2 970.4 L823.6 1009.1 L826.1 993.8 L828.5 1009.1 L831 1011.1 L833.4 1013.1 L835.9 969.3 L838.3 1013.1 L840.7 994.8 L843.2 954.1 L845.6 970.4 L848.1 990.7 L850.5 1005.9 L853 1013.2 L855.4 1003.4 L857.8 979.1 L860.3 1010.7 L862.7 991.2 L865.2 1013.2 L867.6 975.4 L870.1 1001 L872.5 947.4 L874.9 1010.7 L877.4 1001 L879.8 1005.9 L882.3 963.2 L884.7 983.9 L887.2 936.4 L889.6 971.7 L892 1016.4 L894.5 951 L896.9 1010.7 L899.4 996.1 L901.8 918.9 L904.3 991.2 L906.7 1001 L909.1 964.4 L911.6 1008.3 L914 1012 L916.5 1014.4 L918.9 996.1 L921.4 968.1 L923.8 981.5 L926.2 966.9 L928.7 954.7 L931.1 976.6 L933.6 974.2 L936 976.6 L938.5 996.1 L940.9 874.3 L943.3 998.5 L945.8 1013.2 L948.2 1014.4 L950.7 957.1 L953.1 1015.5 L955.6 1003.4 L958 996.1 L960.4 947.4 L962.9 996.1 L965.3 1016.9 L967.8 983.9 L970.2 935.2 L972.7 976.6 L975.1 988.8 L977.6 964.4 L980 1005.9 L982.4 976.6 L984.9 1001 L987.3 1014.4 L989.8 1013.2 L992.2 1001 L994.7 983.9 L997.1 1005.9 L999.5 915.7 L1002 991.2 L1004.4 1003.4 L1006.9 948.6 L1009.3 971.7 L1011.8 1001 L1014.2 1005.9 L1016.6 1003.4 L1019.1 924.2 L1021.5 983.9 L1024 959.6 L1026.4 1001 L1028.9 981.5 L1031.3 1005.9 L1033.7 952.2 L1036.2 957.1 L1038.6 948.6 L1041.1 996.1 L1043.5 1003.4 L1046 1004.6 L1048.4 983.9 L1050.8 959.6 L1053.3 1017.3 L1055.7 1017.3 L1058.2 1017.3 L1060.6 996.1 L1063.1 966.9 L1065.5 983.9 L1067.9 938.8 L1070.4 1017.3 L1072.8 998.5 L1075.3 1015.5 L1077.7 1013.2 L1080.2 991.2 L1082.6 1015.5 L1085 1016.4 L1087.5 1016.4 L1089.9 1016.4 L1092.4 1013.2 L1094.8 1008.3 L1097.3 1003.4 L1099.7 963.2 L1102.1 996.1 L1104.6 983.9 L1107 1010.7 L1109.5 1001 L1111.9 991.2 L1114.4 980.3 L1116.8 1010.7 L1119.2 1016.4 L1121.7 1013.2 L1124.1 1001 L1126.6 948.6 L1129 996.1 L1131.5 981.5 L1133.9 993.7 L1136.3 983.9 L1138.8 977.8 L1141.2 976.6 L1143.7 991.2 L1146.1 1003.4 L1148.6 1016.4 L1151 1015.5 L1153.4 1008.3 L1155.9 1013.2 L1158.3 1017.3" fill="none" stroke="#FFA826" stroke-width="0.9" stroke-linejoin="round" />
<path d="M122.5 1013.8 L124.9 1017.1 L127.4 1003 L129.8 995.4 L132.3 1011.7 L134.7 1016 L137.2 1003 L139.6 1011.7 L142 1017.1 L144.5 1017.1 L146.9 1017.1 L149.4 1013.8 L151.8 1014.9 L154.3 1016 L156.7 1016.4 L159.1 1015.6 L161.6 1007.3 L164 1014.9 L166.5 1010.6 L168.9 1014.9 L171.4 1009.5 L173.8 1016 L176.2 1013.8 L178.7 1016.4 L181.1 1016.4 L183.6 1016.4 L186 1016.4 L188.5 1017.1 L190.9 1017.1 L193.3 1017.1 L195.8 1014.3 L198.2 1014.3 L200.7 1014.3 L203.1 1014.3 L205.6 1017.1 L208 1017.1 L210.4 1017.1 L212.9 1014.3 L215.3 1012.8 L217.8 1007.3 L220.2 1016.4 L222.7 1016.9 L225.1 1016.9 L227.5 1016.9 L230 1016.9 L232.4 1016.9 L234.9 1016.9 L237.3 1016.9 L239.8 1016.9 L242.2 1016.9 L244.7 1016.9 L247.1 1007.3 L249.5 1017.3 L252 1014.9 L254.4 1009.5 L256.9 1017.3 L259.3 1017.3 L261.8 1017.3 L264.2 1011.7 L266.6 1005.2 L269.1 1000.8 L271.5 999.8 L274 1009.5 L276.4 1014.9 L278.9 1009.5 L281.3 1000.8 L283.7 1000.8 L286.2 1007.3 L288.6 1011.7 L291.1 1016 L293.5 1009.5 L296 1000.8 L298.4 1011.7 L300.8 998.7 L303.3 972.7 L305.7 960.8 L308.2 981.3 L310.6 1017.3 L313.1 1011.7 L315.5 1007.3 L317.9 1011.7 L320.4 1007.3 L322.8 996.5 L325.3 1009.5 L327.7 1017.3 L330.2 1009.5 L332.6 1014.9 L335 1004.1 L337.5 1013.8 L339.9 1017.3 L342.4 1009.9 L344.8 1000.1 L347.3 1007.7 L349.7 1012 L352.1 1017.2 L354.6 1014.2 L357 1013.1 L359.5 1015.3 L361.9 1014.2 L364.4 1013.1 L366.8 1012 L369.2 1000.1 L371.7 1007.7 L374.1 1014.2 L376.6 1015.3 L379 1015.3 L381.5 1003.4 L383.9 1014.2 L386.3 1007.7 L388.8 1015.3 L391.2 1005.5 L393.7 1005.5 L396.1 1012 L398.6 1016.4 L401 1016.4 L403.4 1012 L405.9 1009.9 L408.3 1003.4 L410.8 1009.9 L413.2 1014.2 L415.7 1001.2 L418.1 1015.3 L420.5 1003.4 L423 990.4 L425.4 969.8 L427.9 1017.2 L430.3 1007.7 L432.8 1014.2 L435.2 1001.2 L437.6 1016.4 L440.1 994.7 L442.5 1007.7 L445 1000.1 L447.4 1007.7 L449.9 1009.9 L452.3 1012 L454.7 1017.2 L457.2 1000.1 L459.6 1012 L462.1 1003.4 L464.5 1017.2 L467 986 L469.4 973 L471.8 1007.7 L474.3 906.9 L476.7 1017.2 L479.2 1017.2 L481.6 954.6 L484.1 992.5 L486.5 999 L488.9 1003.4 L491.4 996.9 L493.8 990.4 L496.3 1003.4 L498.7 980.6 L501.2 1012 L503.6 879.4 L506.1 1014.2 L508.5 944.9 L510.9 992.5 L513.4 1009.9 L515.8 1007.7 L518.3 1003.4 L520.7 867.3 L523.2 1012 L525.6 846.9 L528 970.9 L530.5 1014.2 L532.9 1014.2 L535.4 941.6 L537.8 1003.4 L540.3 981.7 L542.7 1003.4 L545.1 1007.7 L547.6 992.5 L550 916.7 L552.5 913.4 L554.9 927.5 L557.4 994.7 L559.8 1014.2 L562.2 926.4 L564.7 999 L567.1 1003.4 L569.6 1007.7 L572 1017.2 L574.5 1017.2 L576.9 999 L579.3 970.9 L581.8 992.5 L584.2 999 L586.7 979.5 L589.1 977.4 L591.6 860.8 L594 992.5 L596.4 1014.2 L598.9 1017.2 L601.3 1017.2 L603.8 1017.2 L606.2 1017.2 L608.7 1017.2 L611.1 1017.2 L613.5 893.9 L616 1014.2 L618.4 1012 L620.9 999 L623.3 981.7 L625.8 1014.2 L628.2 1007.7 L630.6 883.1 L633.1 1014.2 L635.5 1012 L638 1012 L640.4 1009.9 L642.9 980.6 L645.3 1012 L647.7 1003.4 L650.2 988.2 L652.6 999 L655.1 927.5 L657.5 1003.4 L660 1014.2 L662.4 1016.4 L664.8 962.2 L667.3 992.5 L669.7 898.9 L672.2 1012 L674.6 961.1 L677.1 999 L679.5 915 L681.9 992.5 L684.4 942.7 L686.8 1017.2 L689.3 1014.2 L691.7 942.7 L694.2 999 L696.6 1012 L699 941.6 L701.5 1017.2 L703.9 1014.2 L706.4 1003.4 L708.8 968.7 L711.3 988.2 L713.7 999 L716.1 886.8 L718.6 988.2 L721 992.5 L723.5 880.9 L725.9 977.4 L728.4 1003.4 L730.8 953.5 L733.2 949.2 L735.7 979.5 L738.1 999 L740.6 1007.7 L743 962.2 L745.5 960 L747.9 999 L750.4 1017.2 L752.8 1017.2 L755.2 1012 L757.7 999 L760.1 938.4 L762.6 999 L765 973 L767.5 999 L769.9 1012 L772.3 1016.4 L774.8 1012 L777.2 971.9 L779.7 999 L782.1 1003.4 L784.6 983.9 L787 1012 L789.4 1015.3 L791.9 1015.3 L794.3 1007.7 L796.8 1012 L799.2 963.3 L801.7 1012 L804.1 1014.2 L806.5 1015.3 L809 1017.2 L811.4 994.7 L813.9 1007.7 L816.3 1002.3 L818.8 1003.4 L821.2 966.5 L823.6 1007.7 L826.1 991.4 L828.5 1007.7 L831 1009.9 L833.4 1012 L835.9 965.4 L838.3 1012 L840.7 992.5 L843.2 949.2 L845.6 966.5 L848.1 988.2 L850.5 1004.3 L853 1012.1 L855.4 1001.7 L857.8 975.8 L860.3 1009.5 L862.7 988.7 L865.2 1012.1 L867.6 971.9 L870.1 999.1 L872.5 942.1 L874.9 1009.5 L877.4 999.1 L879.8 1004.3 L882.3 958.9 L884.7 980.9 L887.2 930.4 L889.6 968 L892 1015.9 L894.5 945.9 L896.9 1009.5 L899.4 993.9 L901.8 911.7 L904.3 988.7 L906.7 999.1 L909.1 960.2 L911.6 1006.9 L914 1010.8 L916.5 1013.4 L918.9 993.9 L921.4 964.1 L923.8 978.4 L926.2 962.8 L928.7 949.8 L931.1 973.2 L933.6 970.6 L936 973.2 L938.5 993.9 L940.9 864.3 L943.3 996.5 L945.8 1012.1 L948.2 1013.4 L950.7 952.4 L953.1 1014.7 L955.6 1001.7 L958 993.9 L960.4 942.1 L962.9 993.9 L965.3 1016.7 L967.8 980.9 L970.2 929.1 L972.7 973.2 L975.1 986.1 L977.6 960.2 L980 1004.3 L982.4 973.2 L984.9 999.1 L987.3 1013.4 L989.8 1012.1 L992.2 999.1 L994.7 980.9 L997.1 1004.3 L999.5 908.4 L1002 988.7 L1004.4 1001.7 L1006.9 943.4 L1009.3 968 L1011.8 999.1 L1014.2 1004.3 L1016.6 1001.7 L1019.1 917.4 L1021.5 980.9 L1024 955 L1026.4 999.1 L1028.9 978.4 L1031.3 1004.3 L1033.7 947.2 L1036.2 952.4 L1038.6 943.4 L1041.1 993.9 L1043.5 1001.7 L1046 1003 L1048.4 980.9 L1050.8 955 L1053.3 1017.2 L1055.7 1017.2 L1058.2 1017.2 L1060.6 993.9 L1063.1 962.8 L1065.5 980.9 L1067.9 933 L1070.4 1017.2 L1072.8 996.5 L1075.3 1014.7 L1077.7 1012.1 L1080.2 988.7 L1082.6 1014.7 L1085 1015.9 L1087.5 1015.9 L1089.9 1015.9 L1092.4 1012.1 L1094.8 1006.9 L1097.3 1001.7 L1099.7 958.9 L1102.1 993.9 L1104.6 980.9 L1107 1009.5 L1109.5 999.1 L1111.9 988.7 L1114.4 977.1 L1116.8 1009.5 L1119.2 1015.9 L1121.7 1012.1 L1124.1 999.1 L1126.6 943.4 L1129 993.9 L1131.5 978.4 L1133.9 991.3 L1136.3 980.9 L1138.8 974.5 L1141.2 973.2 L1143.7 988.7 L1146.1 1001.7 L1148.6 1015.9 L1151 1014.7 L1153.4 1006.9 L1155.9 1012.1 L1158.3 1017.2" fill="none" stroke="#2FE816" stroke-width="1.6" stroke-linejoin="round" />
<path d="M122.5 1014.3 L124.9 1013.8 L127.4 1012.1 L129.8 1011.2 L132.3 1014.9 L134.7 1016 L137.2 1012.1 L139.6 1012.8 L142 1016.4 L144.5 1017.3 L146.9 1016.9 L149.4 1016 L151.8 1015.6 L154.3 1016 L156.7 1016.4 L159.1 1015.6 L161.6 1013.4 L164 1015.6 L166.5 1011.7 L168.9 1013.4 L171.4 1012.3 L173.8 1014.9 L176.2 1012.8 L178.7 1013.4 L181.1 1014.3 L183.6 1016 L186 1009.5 L188.5 996.1 L190.9 1015.6 L193.3 1012.8 L195.8 1009.5 L198.2 1013.4 L200.7 1013.8 L203.1 1013.8 L205.6 1014.3 L208 1016 L210.4 1016.9 L212.9 1014.3 L215.3 1013.4 L217.8 1012.8 L220.2 1014.3 L222.7 1015.6 L225.1 1016.4 L227.5 1015.6 L230 1005.2 L232.4 1008.4 L234.9 1009.5 L237.3 1010.6 L239.8 1014.3 L242.2 1014.9 L244.7 1011.7 L247.1 1009.5 L249.5 1015.6 L252 1012.8 L254.4 1014.3 L256.9 1014.9 L259.3 1011.7 L261.8 1006.3 L264.2 1007.3 L266.6 1007.8 L269.1 1001.9 L271.5 1000.4 L274 1003 L276.4 1009.5 L278.9 1012.8 L281.3 1011.7 L283.7 1010.6 L286.2 1011.2 L288.6 1014.9 L291.1 1007.3 L293.5 994.3 L296 989.4 L298.4 1003 L300.8 1001.9 L303.3 985.2 L305.7 991.1 L308.2 1009.5 L310.6 994.3 L313.1 998.7 L315.5 1001.9 L317.9 1007.8 L320.4 1006.3 L322.8 1006.3 L325.3 1006.3 L327.7 1005.2 L330.2 996.5 L332.6 987.8 L335 985.7 L337.5 982.9 L339.9 985.7 L342.4 988.2 L344.8 999 L347.3 1001.2 L349.7 1003.4 L352.1 951.8 L354.6 1014.2 L357 1012 L359.5 1015.3 L361.9 1007.7 L364.4 1009.9 L366.8 1012 L369.2 996.9 L371.7 1007.7 L374.1 1012 L376.6 1014.2 L379 1015.3 L381.5 956.8 L383.9 1003.4 L386.3 1012 L388.8 1014.2 L391.2 981.7 L393.7 970.9 L396.1 961.1 L398.6 988.2 L401 1003.4 L403.4 974.1 L405.9 992.5 L408.3 983.9 L410.8 975.2 L413.2 969.8 L415.7 990.4 L418.1 994.7 L420.5 999 L423 981.7 L425.4 970.9 L427.9 990.4 L430.3 1003.4 L432.8 1009.9 L435.2 1014.2 L437.6 977.4 L440.1 1012 L442.5 1003.4 L445 1005.5 L447.4 1007.7 L449.9 1008.8 L452.3 1009.9 L454.7 1001.2 L457.2 999 L459.6 963.3 L462.1 981.7 L464.5 965.4 L467 975.2 L469.4 983.9 L471.8 992.5 L474.3 993.6 L476.7 990.4 L479.2 970.9 L481.6 979.5 L484.1 992.5 L486.5 983.9 L488.9 986 L491.4 990.4 L493.8 1001.2 L496.3 1002.3 L498.7 994.7 L501.2 990.4 L503.6 979.5 L506.1 986 L508.5 988.2 L510.9 1003.4 L513.4 970.9 L515.8 960 L518.3 962.2 L520.7 977.4 L523.2 979.5 L525.6 990.4 L528 981.7 L530.5 1003.4 L532.9 964.4 L535.4 988.2 L537.8 986 L540.3 949.2 L542.7 895 L545.1 988.2 L547.6 943.8 L550 988.2 L552.5 968.7 L554.9 966.5 L557.4 968.7 L559.8 1003.4 L562.2 1005.5 L564.7 949.2 L567.1 981.7 L569.6 990.4 L572 986 L574.5 964.4 L576.9 963.3 L579.3 951.4 L581.8 944.9 L584.2 921 L586.7 951.4 L589.1 970.9 L591.6 990.4 L594 944.9 L596.4 983.9 L598.9 986 L601.3 999 L603.8 996.9 L606.2 994.7 L608.7 992.5 L611.1 1003.4 L613.5 1000.1 L616 1013.1 L618.4 1003.4 L620.9 992.5 L623.3 988.2 L625.8 1003.4 L628.2 1004.4 L630.6 1005.5 L633.1 1003.4 L635.5 1005.5 L638 1009.9 L640.4 1001.2 L642.9 1012 L645.3 1003.4 L647.7 986 L650.2 992.5 L652.6 986 L655.1 997.9 L657.5 988.2 L660 975.2 L662.4 1003.4 L664.8 996.9 L667.3 990.4 L669.7 1003.4 L672.2 1012 L674.6 994.7 L677.1 993.6 L679.5 1002.3 L681.9 981.7 L684.4 962.2 L686.8 1012 L689.3 1012 L691.7 999 L694.2 986 L696.6 990.4 L699 983.9 L701.5 990.4 L703.9 996.9 L706.4 995.8 L708.8 994.7 L711.3 990.4 L713.7 981.7 L716.1 949.2 L718.6 970.9 L721 1001.2 L723.5 968.7 L725.9 988.2 L728.4 996.9 L730.8 988.2 L733.2 981.7 L735.7 977.4 L738.1 990.4 L740.6 999 L743 1012 L745.5 999 L747.9 1003.4 L750.4 988.2 L752.8 990.4 L755.2 1003.4 L757.7 1002.3 L760.1 1007.7 L762.6 1017.4 L765 988.2 L767.5 992.5 L769.9 1003.4 L772.3 1012 L774.8 1014.2 L777.2 1012 L779.7 1003.4 L782.1 990.4 L784.6 983.9 L787 1003.4 L789.4 1014.2 L791.9 1003.4 L794.3 1012 L796.8 990.4 L799.2 999 L801.7 1003.4 L804.1 1012 L806.5 1012 L809 1013.1 L811.4 1001.2 L813.9 996.9 L816.3 1007.7 L818.8 1010.9 L821.2 1007.7 L823.6 1001.2 L826.1 996.9 L828.5 1009.9 L831 1005.5 L833.4 1007.7 L835.9 999 L838.3 1005.5 L840.7 999 L843.2 992.5 L845.6 994.7 L848.1 993.6 L850.5 996.5 L853 1006.9 L855.4 1009.5 L857.8 991.3 L860.3 1009.5 L862.7 1010.8 L865.2 1017.2 L867.6 1012.1 L870.1 999.1 L872.5 991.3 L874.9 1014.7 L877.4 1012.1 L879.8 999.1 L882.3 988.7 L884.7 1001.7 L887.2 984.8 L889.6 999.1 L892 1009.5 L894.5 1015.9 L896.9 1012.1 L899.4 1010.8 L901.8 992.6 L904.3 993.9 L906.7 1012.1 L909.1 996.5 L911.6 1014.7 L914 1015.9 L916.5 1012.1 L918.9 993.9 L921.4 983.5 L923.8 966.7 L926.2 1009.5 L928.7 975.8 L931.1 980.9 L933.6 993.9 L936 986.1 L938.5 991.3 L940.9 1001.7 L943.3 1006.9 L945.8 999.1 L948.2 1009.5 L950.7 1014.7 L953.1 1017.2 L955.6 1014.7 L958 1005.6 L960.4 1006.9 L962.9 1009.5 L965.3 1005.6 L967.8 988.7 L970.2 978.4 L972.7 991.3 L975.1 999.1 L977.6 999.1 L980 1000.4 L982.4 988.7 L984.9 993.9 L987.3 999.1 L989.8 996.5 L992.2 1001.7 L994.7 993.9 L997.1 1009.5 L999.5 1008.2 L1002 1004.3 L1004.4 999.1 L1006.9 983.5 L1009.3 988.7 L1011.8 986.1 L1014.2 993.9 L1016.6 988.7 L1019.1 983.5 L1021.5 991.3 L1024 993.9 L1026.4 999.1 L1028.9 1000.4 L1031.3 988.7 L1033.7 999.1 L1036.2 969.3 L1038.6 988.7 L1041.1 986.1 L1043.5 999.1 L1046 988.7 L1048.4 978.4 L1050.8 975.8 L1053.3 988.7 L1055.7 957.6 L1058.2 988.7 L1060.6 978.4 L1063.1 958.1 L1065.5 993.9 L1067.9 999.1 L1070.4 1000.4 L1072.8 1012.1 L1075.3 1013.4 L1077.7 996.5 L1080.2 1014.7 L1082.6 1017.2 L1085 1015.9 L1087.5 1009.5 L1089.9 996.5 L1092.4 1001.7 L1094.8 1005.6 L1097.3 1000.4 L1099.7 995.2 L1102.1 1009.5 L1104.6 1005.6 L1107 1006.9 L1109.5 999.1 L1111.9 996.5 L1114.4 993.9 L1116.8 999.1 L1119.2 1005.6 L1121.7 1004.3 L1124.1 1003 L1126.6 1006.9 L1129 1000.4 L1131.5 1001.7 L1133.9 1000.4 L1136.3 1005.6 L1138.8 999.1 L1141.2 997.8 L1143.7 999.1 L1146.1 1012.1 L1148.6 1014.7 L1151 1009.5 L1153.4 1008.2 L1155.9 1012.1 L1158.3 997.8" fill="none" stroke="#1414CC" stroke-width="1.2" stroke-linejoin="round" />
</g>
<rect x="79" y="605.3" width="1120.3" height="421" fill="none" stroke="#585858" stroke-width="1.9" stroke-linejoin="round"/>
<line x1="122.5" y1="1026.3" x2="122.5" y2="1034" stroke="#6a6a6a" stroke-width="1.2"/>
<text x="122.5" y="1051.9" text-anchor="middle" class="ax">2017</text>
<line x1="1013.9" y1="1026.3" x2="1013.9" y2="1034" stroke="#6a6a6a" stroke-width="1.2"/>
<text x="1013.9" y="1051.9" text-anchor="middle" class="ax">2018</text>
<line x1="71" y1="1017.4" x2="79" y2="1017.4" stroke="#6a6a6a" stroke-width="1.2"/>
<text transform="translate(61.1 1017.4) rotate(-90)" text-anchor="middle" class="ax">0.00</text>
<line x1="71" y1="951.3" x2="79" y2="951.3" stroke="#6a6a6a" stroke-width="1.2"/>
<text transform="translate(61.1 951.3) rotate(-90)" text-anchor="middle" class="ax">0.05</text>
<line x1="71" y1="885.2" x2="79" y2="885.2" stroke="#6a6a6a" stroke-width="1.2"/>
<text transform="translate(61.1 885.2) rotate(-90)" text-anchor="middle" class="ax">0.10</text>
<line x1="71" y1="819.1" x2="79" y2="819.1" stroke="#6a6a6a" stroke-width="1.2"/>
<text transform="translate(61.1 819.1) rotate(-90)" text-anchor="middle" class="ax">0.15</text>
<line x1="71" y1="753.1" x2="79" y2="753.1" stroke="#6a6a6a" stroke-width="1.2"/>
<text transform="translate(61.1 753.1) rotate(-90)" text-anchor="middle" class="ax">0.20</text>
<line x1="71" y1="687" x2="79" y2="687" stroke="#6a6a6a" stroke-width="1.2"/>
<text transform="translate(61.1 687) rotate(-90)" text-anchor="middle" class="ax">0.25</text>
<line x1="71" y1="620.9" x2="79" y2="620.9" stroke="#6a6a6a" stroke-width="1.2"/>
<text transform="translate(61.1 620.9) rotate(-90)" text-anchor="middle" class="ax">0.30</text>
<text x="638.8" y="1081.2" text-anchor="middle" class="ax">time</text>
<text transform="translate(14.1 815.8) rotate(-90)" text-anchor="middle" class="ax">amount</text>
<text x="639.5" y="584.8" text-anchor="middle" class="ttl">Manipulated scenario: Relative volume</text>
<clipPath id="c3"><rect x="79" y="1161.1" width="1120" height="420.8000000000002"/></clipPath>
<g clip-path="url(#c3)">
<path d="M122.5 1558 L124.9 1557.2 L127.4 1556.4 L129.8 1555.9 L130 1555.9 L132.3 1555.8 L134.7 1555.6 L137 1554.8 L137.2 1554.7 L139.6 1553.9 L142 1553.5 L144.5 1553.3 L146.9 1553.2 L149.4 1552.9 L151.8 1552.7 L154.3 1552.6 L156.7 1552.4 L159.2 1552.3 L161.6 1552.2 L164 1552 L166.5 1551.8 L168.9 1551.6 L171.4 1551.5 L173.8 1551.5 L176.2 1551.4 L178.7 1551.3 L181.1 1551 L183.6 1550.9 L186 1550.8 L188.5 1550.5 L190.9 1550.3 L193.3 1550.2 L195.8 1550 L198.2 1549.8 L200.7 1549.5 L203.1 1549.4 L205.6 1549.3 L208 1549.2 L210.4 1549.1 L212.9 1548.9 L215.3 1548.7 L217.8 1548.5 L220.2 1548.2 L222.7 1548 L225.1 1547.9 L227.6 1547.8 L230 1547.7 L232.4 1547.6 L234.9 1547.4 L237.3 1547.2 L239.8 1546.9 L242.2 1546.7 L244.7 1546.4 L247.1 1546.3 L249.5 1546.2 L252 1545.9 L254.4 1545.7 L256.9 1545.5 L259.3 1545.3 L261.8 1545.1 L264.2 1544.5 L265 1544.5 L266.6 1544.5 L269.1 1544 L271.5 1542.9 L274 1542.3 L276.4 1541.7 L278.9 1540.7 L281.3 1540 L283.7 1539.5 L286.2 1538.9 L288.6 1538 L291.1 1536.7 L293.5 1535.9 L295.9 1535.2 L298.4 1534.9 L300 1534.2 L300.8 1532.9 L303.3 1529.8 L305.7 1527.3 L307.5 1525 L308.2 1531 L310.5 1552 L310.6 1552 L311 1551.9 L313.1 1551.6 L315.5 1551.3 L317.9 1550.9 L320.4 1550.4 L322.8 1549.9 L325.3 1549.2 L327.7 1548.9 L330.1 1548.8 L332.6 1548.4 L335 1548 L337.5 1547.5 L339.9 1547.3 L340 1547.3 L342.4 1547.1 L344.8 1546.8 L347.3 1546.5 L349.7 1546.2 L352.1 1545.9 L354.6 1545.6 L357 1545.2 L359.5 1545 L361.9 1544.8 L364.4 1544.3 L365 1544.2 L366.8 1543.9 L369.2 1543.3 L371.7 1542.5 L374.1 1541.6 L376.6 1540.4 L379 1539.7 L381.5 1539.4 L383.9 1538.7 L386.3 1538 L388.8 1536.9 L391.2 1536 L393.7 1535 L396.1 1534 L398.6 1533.1 L401 1532.2 L403.4 1531.7 L405.9 1531.1 L408.3 1530.5 L410.8 1529.5 L413.2 1528.4 L415.7 1527.3 L418.1 1526.7 L420 1525.9 L420.6 1525.7 L423 1525.5 L425.4 1523.8 L427.9 1520.4 L430.3 1518.3 L432.8 1516.7 L435.2 1515.8 L437.6 1514.7 L440.1 1513.6 L442.5 1512.9 L445 1512.7 L447 1512.6 L447.4 1512.6 L449.9 1510.8 L452.3 1508.5 L454.8 1507.8 L457.2 1506 L459.6 1503.8 L462.1 1502.3 L464.5 1499.8 L467 1494.1 L467 1494.1 L469.4 1491.6 L471.9 1489.1 L474 1485.7 L474.3 1485.2 L474.5 1484.8 L476.7 1515.6 L479 1546.7 L479.2 1546.5 L481.6 1543.4 L484.1 1539.3 L486.5 1536.7 L488.9 1534.2 L491.4 1532.7 L493.8 1530.3 L496.3 1527.3 L498.7 1524.5 L500 1523.8 L501.2 1523.2 L503 1521.7 L503.6 1521.1 L506.1 1518.2 L508.5 1511.3 L510.9 1504.5 L512 1503.5 L513.4 1502.9 L515.8 1499.9 L518.3 1496.3 L520 1493 L520.7 1491.5 L522 1487.4 L523.1 1483.9 L525 1479 L525.6 1477.8 L527 1476.2 L528 1476 L530.5 1474.1 L532.9 1471.7 L535.4 1469.6 L537.8 1467.4 L540 1465.2 L540.2 1464.9 L542.7 1461.9 L545 1458.5 L545.1 1458.3 L547.6 1452.1 L550 1446.2 L552 1439.1 L552.5 1437.7 L554.9 1431.9 L555 1431.7 L557.4 1427 L559.8 1424.7 L560 1424.6 L562.2 1422.6 L564.7 1421.5 L565 1421.4 L567.1 1420.4 L569.6 1419.7 L572 1419.8 L574.5 1419.4 L575 1419.3 L576.9 1418.4 L579.3 1416.7 L580 1415.9 L581.8 1413.4 L584.2 1408.4 L586.7 1406 L588 1404.9 L589.1 1403.5 L590 1401 L591.6 1396.5 L594 1390.2 L595.5 1386.1 L596 1391 L596.4 1395.3 L598.9 1419.4 L601.3 1443.5 L603.8 1467.5 L606.2 1491.5 L608.5 1514 L608.7 1513.7 L609 1513 L611.1 1508.7 L612.7 1505.9 L613 1505.7 L613.5 1505.5 L616 1504.4 L618.4 1504.5 L620.9 1504.3 L623.3 1502.9 L625.8 1501.6 L628 1498.5 L628.2 1497.8 L630.6 1492.2 L631 1492 L633.1 1491.3 L635.5 1490.5 L638 1489.6 L640.4 1488.6 L642.9 1487.7 L645.3 1486.9 L647.8 1485.9 L650 1485.4 L650.2 1485.3 L652.6 1482.3 L655.1 1477.5 L657.5 1474 L660 1472.2 L662.4 1471.3 L664.9 1470.6 L665 1470.6 L667.3 1468.8 L669.7 1463.4 L672.2 1458.3 L674.6 1454.1 L677.1 1452.3 L679.5 1451.2 L681 1450.3 L682 1449.5 L684.4 1447.3 L686.8 1444.1 L689.3 1439.1 L691.7 1434.8 L694.2 1431.4 L696.6 1430.1 L697 1430 L699 1428.1 L700 1426.9 L701.5 1425.9 L703.9 1424.4 L706.4 1422.8 L708 1422.1 L708.8 1420.9 L711.3 1416.4 L713 1412.6 L713.7 1410.6 L716.1 1403.5 L717 1400.7 L718.6 1394.5 L721 1385.5 L723.5 1381.9 L725 1380.2 L725.9 1379 L728.4 1376 L730.8 1372.1 L733.2 1368.4 L735 1368.3 L735.7 1368.7 L737 1368.7 L738.1 1366.5 L740.6 1360.3 L743 1357 L745.5 1354.3 L747.5 1351.9 L747.9 1362.1 L750.4 1422.5 L752.7 1480.7 L752.8 1480.6 L753 1480.4 L755.2 1478.6 L757.7 1476.9 L760.1 1474.1 L762.6 1471.6 L765 1469.4 L765 1469.4 L767.5 1467.3 L769.9 1465.3 L772.3 1463 L774.8 1462.2 L775 1462.2 L777.2 1461.6 L779.7 1461 L780 1460.8 L782.1 1459.7 L784.5 1458.3 L785 1458.1 L787 1457.1 L789.4 1456.5 L791.9 1456.2 L794.3 1454.4 L796.8 1451.9 L799.2 1449.4 L800 1449.2 L801.6 1448.9 L804.1 1448.7 L806.5 1448.7 L809 1448.5 L811.4 1447.8 L813.9 1447.5 L816 1447.2 L816.3 1447.2 L818.8 1445.6 L821.2 1443.8 L823.6 1441.9 L825 1440.2 L826.1 1438.8 L828.5 1436.5 L830 1435.2 L831 1434.5 L833.4 1433.3 L835.9 1432 L838.3 1430.4 L840 1429.3 L840.7 1429 L843.2 1427.2 L845 1424.6 L845.6 1423.7 L848 1420.9 L848.1 1420.9 L850 1419.7 L850.5 1419.3 L853 1417.3 L855.4 1414.4 L857.8 1409.5 L860 1405.7 L860.3 1405.1 L862 1401.7 L862.7 1400.5 L865 1395.9 L865.2 1395.4 L867.6 1388.2 L870 1381.7 L870.1 1381.7 L872.5 1379.3 L874 1378.1 L874.9 1377.6 L877.4 1377.6 L879.8 1376.3 L880 1376.2 L882.3 1371.1 L884.7 1360.6 L886.5 1354.5 L887.2 1371.4 L889.6 1434 L891.5 1482.8 L892 1481.6 L894.5 1476.8 L896.9 1472.2 L899.4 1467.6 L900 1466.1 L901.8 1463 L903 1461.5 L904.3 1460 L906.7 1456.9 L909.1 1454.2 L910 1452.9 L911.6 1449.7 L914 1445.1 L916.5 1440.3 L918.9 1435.6 L920 1435.4 L921.4 1434.6 L923.8 1433.8 L926.2 1431 L928 1427.3 L928.7 1425.7 L931.1 1413.9 L933 1403.5 L933.6 1401.9 L935 1400.3 L936 1399.8 L938.5 1383 L940 1373.4 L940.9 1372.1 L942 1370.8 L943.4 1369.4 L945.8 1367.2 L948 1366.5 L948.2 1366.5 L950.7 1364.6 L953.1 1362.3 L955 1362 L955.6 1361.9 L958 1359.2 L960.5 1351.1 L962 1344.5 L962.9 1340.3 L965.3 1330.5 L967.8 1323.3 L970 1313 L970.2 1312 L972.7 1304.1 L975 1302.7 L975.1 1302.7 L977.5 1299.2 L980 1296.5 L980 1296.5 L982.4 1295.5 L984.9 1294.8 L987 1293.6 L987.3 1293.5 L989.8 1292.7 L990 1292.6 L992.2 1291 L994.6 1285.3 L995 1284.5 L997.1 1280.3 L999.5 1275.2 L1000 1274.1 L1002 1268.7 L1004.4 1262.4 L1006.9 1256.4 L1008 1254.4 L1009.3 1252.9 L1010 1252 L1011.8 1249.3 L1014.2 1246.6 L1016.6 1242.4 L1017 1241.7 L1019.1 1239.3 L1020 1239.1 L1021.5 1239.2 L1024 1238.9 L1026.4 1237.5 L1028.8 1233.2 L1030 1230.5 L1031.3 1226.9 L1033.7 1220.4 L1035 1218.1 L1036.2 1217.1 L1038.6 1215.7 L1040 1214.7 L1041.1 1213.8 L1043.5 1212.2 L1046 1210.6 L1048.4 1209 L1050.8 1207.3 L1051 1207.2 L1053.3 1263.9 L1055.7 1324.9 L1058 1381.4 L1058.2 1380.8 L1060.6 1372.3 L1061 1371 L1063.1 1364 L1064 1361.8 L1065.5 1359.8 L1067.9 1355.3 L1068 1355.1 L1070.4 1350.3 L1072.8 1348.9 L1075.3 1348 L1077.7 1347.8 L1078 1347.7 L1080 1345.9 L1080.2 1345.7 L1082.6 1344.9 L1085 1344.3 L1087.5 1343.7 L1089.9 1342.7 L1090 1342.6 L1092.4 1341.4 L1094.8 1340.8 L1097 1339.8 L1097.3 1339.7 L1099.7 1329.4 L1102.1 1314 L1103 1311.5 L1104.6 1307.6 L1107 1298.5 L1108 1293.8 L1109.5 1288.8 L1110 1287 L1111.9 1279.8 L1114 1273.9 L1114.4 1273.8 L1116.8 1273.3 L1119.2 1272.5 L1120 1265.7 L1121.7 1252.5 L1122 1250.8 L1124.1 1244.1 L1125 1241.8 L1126.6 1237.4 L1129 1231.4 L1130 1230.3 L1131.5 1229.2 L1133.9 1222.8 L1135 1216.9 L1136.3 1209.8 L1138.8 1201.5 L1140 1197.8 L1141.2 1195.8 L1143.7 1191.7 L1145 1188.9 L1146.1 1186.7 L1148.6 1186 L1151 1185.5 L1153.5 1184.5 L1155.9 1183.5 L1158.3 1182.8 L1158.5 1182.8 L1158.5 1508.3 L1158.3 1508.3 L1155.9 1508.4 L1153.5 1508.5 L1151 1508.6 L1148.6 1508.7 L1146.1 1508.8 L1145 1509.2 L1143.7 1509.8 L1141.2 1510.6 L1140 1511 L1138.8 1511.4 L1136.3 1512.3 L1135 1513.1 L1133.9 1514 L1131.5 1515.3 L1130 1515.6 L1129 1515.8 L1126.6 1517.1 L1125 1518.2 L1124.1 1518.7 L1122 1519.8 L1121.7 1520 L1120 1521.2 L1119.2 1521.5 L1116.8 1522.3 L1114.4 1522.8 L1114 1522.8 L1111.9 1523.1 L1110 1523.5 L1109.5 1523.6 L1108 1524 L1107 1524.5 L1104.6 1525.9 L1103 1526.5 L1102.1 1526.8 L1099.7 1528.4 L1097.3 1529.5 L1097 1529.5 L1094.8 1529.7 L1092.4 1529.8 L1090 1530 L1089.9 1530 L1087.5 1530.2 L1085 1530.7 L1082.6 1531.1 L1080.2 1532.2 L1080 1532.3 L1078 1533.4 L1077.7 1533.5 L1075.3 1533.6 L1072.8 1534.1 L1070.4 1534.9 L1068 1537 L1067.9 1537.1 L1065.5 1538.9 L1064 1539.6 L1063.1 1540.3 L1061 1542.4 L1060.6 1542.8 L1058.2 1545.4 L1058 1545.6 L1055.7 1522.9 L1053.3 1498.4 L1051 1475.6 L1050.8 1475.6 L1048.4 1476.2 L1046 1476.8 L1043.5 1477.3 L1041.1 1477.9 L1040 1478.2 L1038.6 1478.6 L1036.2 1478.9 L1035 1479.1 L1033.7 1479.6 L1031.3 1480.8 L1030 1481.6 L1028.8 1482.9 L1026.4 1485.1 L1024 1485.9 L1021.5 1486 L1020 1485.9 L1019.1 1486 L1017 1487 L1016.6 1487.3 L1014.2 1488.7 L1011.8 1489.6 L1010 1490.5 L1009.3 1490.8 L1008 1491.3 L1006.9 1491.9 L1004.4 1493.2 L1002 1494.6 L1000 1495.6 L999.5 1495.8 L997.1 1496.6 L995 1497.3 L994.6 1497.4 L992.2 1498.4 L990 1499 L989.8 1499.1 L987.3 1499.6 L987 1499.7 L984.9 1500.5 L982.4 1501 L980 1501.7 L980 1501.7 L977.5 1502.4 L975.1 1503.1 L975 1503.1 L972.7 1503.4 L970.2 1504.9 L970 1505.1 L967.8 1506.8 L965.3 1507.9 L962.9 1509.3 L962 1509.9 L960.5 1510.8 L958 1512 L955.6 1513 L955 1513 L953.1 1513.1 L950.7 1514 L948.2 1514.7 L948 1514.7 L945.8 1514.9 L943.4 1516 L942 1516.6 L940.9 1517.3 L940 1517.9 L938.5 1519.8 L936 1522.2 L935 1522.3 L933.6 1522.5 L933 1522.9 L931.1 1525.5 L928.7 1528.5 L928 1529.1 L926.2 1530.3 L923.8 1531.3 L921.4 1531.6 L920 1531.8 L918.9 1531.9 L916.5 1533.5 L914 1535.2 L911.6 1537 L910 1538.1 L909.1 1538.5 L906.7 1539.3 L904.3 1540.2 L903 1540.8 L901.8 1541.7 L900 1543.3 L899.4 1543.8 L896.9 1545.6 L894.5 1547.3 L892 1549.1 L891.5 1549.5 L889.6 1535.5 L887.2 1517.6 L886.5 1512.7 L884.7 1513.3 L882.3 1514.4 L880 1515.2 L879.8 1515.3 L877.4 1515.9 L874.9 1515.9 L874 1516.1 L872.5 1516.7 L870.1 1517.8 L870 1517.9 L867.6 1518.9 L865.2 1519.9 L865 1520 L862.7 1520.7 L862 1520.9 L860.3 1521.7 L860 1521.8 L857.8 1522.6 L855.4 1523.6 L853 1524.2 L850.5 1524.7 L850 1524.8 L848.1 1525.1 L848 1525.1 L845.6 1525.7 L845 1526 L843.2 1526.6 L840.7 1527 L840 1527.1 L838.3 1527.5 L835.9 1528.1 L833.4 1528.6 L831 1529.1 L830 1529.3 L828.5 1529.9 L826.1 1530.8 L825 1531.3 L823.6 1532 L821.2 1532.8 L818.8 1533.5 L816.3 1534.3 L816 1534.4 L813.9 1534.6 L811.4 1534.9 L809 1535.5 L806.5 1535.7 L804.1 1535.6 L801.6 1535.8 L800 1536 L799.2 1536.3 L796.8 1537.3 L794.3 1538.2 L791.9 1538.7 L789.4 1538.8 L787 1539 L785 1539.3 L784.5 1539.4 L782.1 1540.1 L780 1540.7 L779.7 1540.8 L777.2 1541.1 L775 1541.4 L774.8 1541.4 L772.3 1541.8 L769.9 1543 L767.5 1544 L765 1545.1 L765 1545.2 L762.6 1546.7 L760.1 1548.4 L757.7 1550.3 L755.2 1551.5 L753 1552.7 L752.8 1551.1 L752.7 1550.4 L750.4 1532.8 L747.9 1514.4 L747.5 1511.3 L745.5 1511.8 L743 1512.4 L740.6 1513.2 L738.1 1514.5 L737 1514.8 L735.7 1514.8 L735 1514.7 L733.2 1514.8 L730.8 1515.4 L728.4 1516 L725.9 1516.5 L725 1516.7 L723.5 1517 L721 1517.5 L718.6 1518.5 L717 1519.2 L716.1 1519.5 L713.7 1520.4 L713 1520.7 L711.3 1521.2 L708.8 1521.8 L708 1522 L706.4 1522.4 L703.9 1523.2 L701.5 1524 L700 1524.5 L699 1524.9 L697 1525.2 L696.6 1525.2 L694.2 1525.5 L691.7 1526.1 L689.3 1526.9 L686.8 1527.8 L684.4 1528.4 L682 1529 L681 1529.3 L679.5 1529.6 L677.1 1530.1 L674.6 1530.7 L672.2 1532.3 L669.7 1534.2 L667.3 1536.3 L665 1537.1 L664.9 1537.1 L662.4 1537.4 L660 1537.8 L657.5 1538.6 L655.1 1540.1 L652.6 1542.2 L650.2 1543.7 L650 1543.8 L647.8 1544.2 L645.3 1544.9 L642.9 1545.5 L640.4 1546.1 L638 1546.8 L635.5 1547.5 L633.1 1548 L631 1548.6 L630.6 1548.7 L628.2 1549.7 L628 1549.7 L625.8 1551.9 L623.3 1554.6 L620.9 1557.6 L618.4 1558.1 L616 1557.9 L613.5 1560.2 L613 1560.7 L612.7 1561 L611.1 1562.3 L609 1564 L608.7 1562.5 L608.5 1561.8 L606.2 1552 L603.8 1541.5 L601.3 1531 L598.9 1520.4 L596.4 1509.9 L596 1508 L595.5 1508.2 L594 1508.9 L591.6 1510 L590 1510.8 L589.1 1511.3 L588 1511.7 L586.7 1512.2 L584.2 1513.1 L581.8 1515.2 L580 1516.2 L579.3 1516.4 L576.9 1517.5 L575 1518.1 L574.5 1518.3 L572 1518.6 L569.6 1518.4 L567.1 1519 L565 1519.7 L564.7 1519.8 L562.2 1520.6 L560 1521.3 L559.8 1521.3 L557.4 1522 L555 1523.6 L554.9 1523.7 L552.5 1526.1 L552 1526.6 L550 1528.7 L547.6 1530.4 L545.1 1531.5 L545 1531.5 L542.7 1532.1 L540.2 1532.9 L540 1533 L537.8 1533.7 L535.4 1534.4 L532.9 1535.1 L530.5 1535.8 L528 1536.5 L527 1536.5 L525.6 1537.1 L525 1537.5 L523.1 1539.3 L522 1540.5 L520.7 1542.3 L520 1543.5 L518.3 1544.6 L515.8 1545.4 L513.4 1546.1 L512 1546.3 L510.9 1546.5 L508.5 1548.1 L506.1 1549.7 L503.6 1550.3 L503 1550.5 L501.2 1550.9 L500 1551.1 L498.7 1551.4 L496.3 1552.5 L493.8 1553.6 L491.4 1554.6 L488.9 1555.1 L486.5 1556.1 L484.1 1557.2 L481.6 1558.7 L479.2 1559.9 L479 1560 L476.7 1550.1 L474.5 1540.2 L474.3 1539.3 L474 1538 L471.9 1538.4 L469.4 1538.7 L467 1539 L467 1539 L464.5 1540 L462.1 1540.9 L459.6 1541.4 L457.2 1542.3 L454.8 1542.9 L452.3 1543.2 L449.9 1544 L447.4 1544.5 L447 1544.5 L445 1544.5 L442.5 1544.5 L440.1 1544.7 L437.6 1545 L435.2 1545.3 L432.8 1545.5 L430.3 1545.9 L427.9 1546.4 L425.4 1547.3 L423 1547.7 L420.6 1547.7 L420 1547.8 L418.1 1548 L415.7 1548.2 L413.2 1548.5 L410.8 1548.8 L408.3 1549.2 L405.9 1549.3 L403.4 1549.5 L401 1549.7 L398.6 1550 L396.1 1550.2 L393.7 1550.5 L391.2 1550.8 L388.8 1551.1 L386.3 1551.5 L383.9 1551.7 L381.5 1551.9 L379 1552 L376.6 1552.2 L374.1 1552.6 L371.7 1552.8 L369.2 1553.1 L366.8 1553.3 L365 1553.5 L364.4 1553.7 L361.9 1554.2 L359.5 1554.5 L357 1554.8 L354.6 1555.3 L352.1 1555.6 L349.7 1556 L347.3 1556.3 L344.8 1556.7 L342.4 1557.1 L340 1557.3 L339.9 1557.3 L337.5 1557.6 L335 1558.2 L332.6 1558.7 L330.1 1559.1 L327.7 1559.2 L325.3 1559.7 L322.8 1560.6 L320.4 1561.1 L317.9 1561.7 L315.5 1562.2 L313.1 1562.7 L311 1563 L310.6 1561.2 L310.5 1560.7 L308.2 1550.1 L307.5 1547 L305.7 1547.7 L303.3 1548.5 L300.8 1549.5 L300 1549.9 L298.4 1550.1 L295.9 1550.2 L293.5 1550.5 L291.1 1550.8 L288.6 1551.2 L286.2 1551.6 L283.7 1551.8 L281.3 1552 L278.9 1552.2 L276.4 1552.6 L274 1552.8 L271.5 1553 L269.1 1553.4 L266.6 1553.6 L265 1553.6 L264.2 1553.6 L261.8 1553.8 L259.3 1553.9 L256.9 1553.9 L254.4 1554 L252 1554.1 L249.5 1554.2 L247.1 1554.2 L244.7 1554.2 L242.2 1554.3 L239.8 1554.5 L237.3 1554.5 L234.9 1554.6 L232.4 1554.7 L230 1554.7 L227.6 1554.8 L225.1 1554.8 L222.7 1554.8 L220.2 1554.9 L217.8 1555 L215.3 1555.1 L212.9 1555.2 L210.4 1555.2 L208 1555.3 L205.6 1555.3 L203.1 1555.3 L200.7 1555.4 L198.2 1555.5 L195.8 1555.5 L193.3 1555.6 L190.9 1555.7 L188.5 1555.7 L186 1555.8 L183.6 1555.9 L181.1 1555.9 L178.7 1556 L176.2 1556.1 L173.8 1556.1 L171.4 1556.1 L168.9 1556.1 L166.5 1556.2 L164 1556.3 L161.6 1556.4 L159.2 1556.4 L156.7 1556.4 L154.3 1556.5 L151.8 1556.5 L149.4 1556.6 L146.9 1556.7 L144.5 1556.8 L142 1556.8 L139.6 1557 L137.2 1557.3 L137 1557.3 L134.7 1557.6 L132.3 1557.7 L130 1557.7 L129.8 1557.7 L127.4 1557.9 L124.9 1558.2 L122.5 1558.5Z" fill="#FFFFBF" stroke="none"/>
<path d="M122.5 1558.1 L124.9 1557.5 L127.4 1556.8 L129.8 1556.4 L130 1556.4 L132.3 1556.3 L134.7 1556.2 L137 1555.5 L137.2 1555.5 L139.6 1554.8 L142 1554.5 L144.5 1554.3 L146.9 1554.2 L149.4 1554 L151.8 1553.8 L154.3 1553.8 L156.7 1553.6 L159.2 1553.5 L161.6 1553.4 L164 1553.3 L166.5 1553.1 L168.9 1552.9 L171.4 1552.9 L173.8 1552.9 L176.2 1552.8 L178.7 1552.6 L181.1 1552.4 L183.6 1552.3 L186 1552.2 L188.5 1552 L190.9 1551.9 L193.3 1551.8 L195.8 1551.6 L198.2 1551.4 L200.7 1551.2 L203.1 1551.1 L205.6 1551 L208 1551 L210.4 1550.9 L212.9 1550.7 L215.3 1550.5 L217.8 1550.4 L220.2 1550.1 L222.7 1550 L225.1 1549.9 L227.6 1549.8 L230 1549.7 L232.4 1549.6 L234.9 1549.5 L237.3 1549.3 L239.8 1549.1 L242.2 1548.9 L244.7 1548.6 L247.1 1548.6 L249.5 1548.5 L252 1548.3 L254.4 1548.1 L256.9 1547.9 L259.3 1547.8 L261.8 1547.6 L264.2 1547.2 L265 1547.1 L266.6 1547.1 L269.1 1546.7 L271.5 1545.9 L274 1545.5 L276.4 1545 L278.9 1544.2 L281.3 1543.7 L283.7 1543.3 L286.2 1542.8 L288.6 1542.1 L291.1 1541.1 L293.5 1540.6 L295.9 1540 L298.4 1539.8 L300 1539.3 L300.8 1538.3 L303.3 1536 L305.7 1534.2 L307.5 1532.5 L308.2 1537.5 L310.5 1555 L310.6 1555 L311 1554.9 L313.1 1554.6 L315.5 1554.3 L317.9 1553.9 L320.4 1553.4 L322.8 1552.9 L325.3 1552.2 L327.7 1551.9 L330.1 1551.8 L332.6 1551.4 L335 1551 L337.5 1550.5 L339.9 1550.3 L340 1550.3 L342.4 1550.1 L344.8 1549.8 L347.3 1549.5 L349.7 1549.2 L352.1 1548.9 L354.6 1548.6 L357 1548.2 L359.5 1548 L361.9 1547.8 L364.4 1547.3 L365 1547.2 L366.8 1546.9 L369.2 1546.5 L371.7 1545.9 L374.1 1545.2 L376.6 1544.3 L379 1543.8 L381.5 1543.5 L383.9 1543.1 L386.3 1542.5 L388.8 1541.6 L391.2 1541 L393.7 1540.2 L396.1 1539.5 L398.6 1538.8 L401 1538.1 L403.4 1537.8 L405.9 1537.3 L408.3 1536.9 L410.8 1536.1 L413.2 1535.3 L415.7 1534.4 L418.1 1534 L420 1533.6 L420.6 1533.5 L423 1533.5 L425.4 1532.7 L427.9 1531.1 L430.3 1530.1 L432.8 1529.4 L435.2 1529 L437.6 1528.5 L440.1 1528 L442.5 1527.7 L445 1527.6 L447 1527.6 L447.4 1527.6 L449.9 1526.8 L452.3 1524.9 L454.8 1524.4 L457.2 1522.9 L459.6 1521.1 L462.1 1519.9 L464.5 1517.9 L467 1514.9 L467 1514.9 L469.4 1513.8 L471.9 1512.7 L474 1511.1 L474.3 1510.9 L474.5 1510.7 L476.7 1530.3 L479 1550 L479.2 1549.9 L481.6 1547.9 L484.1 1545.3 L486.5 1543.6 L488.9 1542 L491.4 1541.1 L493.8 1539.5 L496.3 1537.6 L498.7 1535.9 L500 1535.4 L501.2 1535 L503 1534 L503.6 1533.5 L506.1 1531.3 L508.5 1526.2 L510.9 1521.1 L512 1520.3 L513.4 1519.9 L515.8 1517.6 L518.3 1515 L520 1512.1 L520.7 1510 L522 1506.8 L523.1 1504.6 L525 1501.4 L525.6 1500.7 L527 1499.6 L528 1499.5 L530.5 1498.2 L532.9 1496.1 L535.4 1494.2 L537.8 1492.2 L540 1490.3 L540.2 1490 L542.7 1487.7 L545 1486.3 L545.1 1486.2 L547.6 1483 L550 1477.5 L552 1470.7 L552.5 1468.9 L554.9 1464.8 L555 1464.7 L557.4 1462.6 L559.8 1461.6 L560 1461.6 L562.2 1460.6 L564.7 1459.4 L565 1459.2 L567.1 1458.2 L569.6 1457.3 L572 1457.5 L574.5 1457.1 L575 1456.9 L576.9 1455.9 L579.3 1454.1 L580 1453.4 L581.8 1451 L584.2 1446.1 L586.7 1443.9 L588 1442.8 L589.1 1441.7 L590 1440.7 L591.6 1438.2 L594 1434.1 L595.5 1431.5 L596 1430.7 L596.4 1434.2 L598.9 1453.6 L601.3 1473.1 L603.8 1492.4 L606.2 1511.8 L608.5 1530 L608.7 1531.3 L609 1534 L611.1 1531.7 L612.7 1529.9 L613 1529.7 L613.5 1529.3 L616 1527.5 L618.4 1527.7 L620.9 1527.2 L623.3 1524.8 L625.8 1522.6 L628 1520.6 L628.2 1520.4 L630.6 1518.8 L631 1518.6 L633.1 1517.9 L635.5 1517.1 L638 1516.2 L640.4 1515.2 L642.9 1514.3 L645.3 1513.5 L647.8 1512.5 L650 1512 L650.2 1511.9 L652.6 1509.7 L655.1 1506.5 L657.5 1504.2 L660 1503 L662.4 1502.4 L664.9 1502 L665 1501.9 L667.3 1500.8 L669.7 1494.6 L672.2 1488.9 L674.6 1484.1 L677.1 1482.1 L679.5 1480.9 L681 1479.8 L682 1479 L684.4 1476.9 L686.8 1474.3 L689.3 1470.2 L691.7 1466.8 L694.2 1464 L696.6 1462.9 L697 1462.9 L699 1461.4 L700 1460.1 L701.5 1458.2 L703.9 1455.6 L706.4 1452.9 L708 1451.6 L708.8 1451 L711.3 1449.1 L713 1447.4 L713.7 1445.6 L716.1 1439.4 L717 1437.3 L718.6 1433 L721 1426.6 L723.5 1424.3 L725 1423.3 L725.9 1422.6 L728.4 1420.8 L730.8 1418.5 L733.2 1416.2 L735 1416.2 L735.7 1416.4 L737 1416.4 L738.1 1415.1 L740.6 1410.9 L743 1408.7 L745.5 1406.8 L747.5 1405.2 L747.9 1414 L750.4 1466.3 L752.7 1516.7 L752.8 1516.6 L753 1516.4 L755.2 1514.8 L757.7 1513.3 L760.1 1510.8 L762.6 1508.6 L765 1506.6 L765 1506.6 L767.5 1504.8 L769.9 1503.1 L772.3 1501.2 L774.8 1500.6 L775 1500.6 L777.2 1500.1 L779.7 1499.5 L780 1499.4 L782.1 1498.8 L784.5 1498.1 L785 1498 L787 1497.5 L789.4 1497.2 L791.9 1497.1 L794.3 1496.2 L796.8 1494.9 L799.2 1493.5 L800 1493.3 L801.6 1493 L804.1 1492.9 L806.5 1492.9 L809 1492.7 L811.4 1492.2 L813.9 1491.9 L816 1491.7 L816.3 1491.6 L818.8 1490.8 L821.2 1490.1 L823.6 1489.3 L825 1488.7 L826.1 1488.2 L828.5 1487 L830 1485.1 L831 1484.2 L833.4 1482.5 L835.9 1480.7 L838.3 1478.3 L840 1476.8 L840.7 1476.4 L843.2 1475 L845 1472.7 L845.6 1471.9 L848 1470.4 L848.1 1470.4 L850 1469.9 L850.5 1469.7 L853 1468.9 L855.4 1467.8 L857.8 1466 L860 1464.6 L860.3 1464.4 L862 1462.9 L862.7 1462.2 L865 1459.9 L865.2 1459.7 L867.6 1456.5 L870 1453.4 L870.1 1453.3 L872.5 1449.9 L874 1447.2 L874.9 1446.2 L877.4 1446.2 L879.8 1443.3 L880 1443.1 L882.3 1439.1 L884.7 1434.2 L886.5 1431.3 L887.2 1442.2 L889.6 1482.3 L891.5 1513.6 L892 1512.7 L894.5 1509.2 L896.9 1505.7 L899.4 1502.3 L900 1501.2 L901.8 1498 L903 1496.2 L904.3 1495.2 L906.7 1493.9 L909.1 1492.8 L910 1492.3 L911.6 1490.8 L914 1488.4 L916.5 1485.8 L918.9 1482.9 L920 1482.8 L921.4 1482.3 L923.8 1481.7 L926.2 1480 L928 1477.8 L928.7 1476.8 L931.1 1471.2 L933 1465.7 L933.6 1464.7 L935 1464.1 L936 1463.9 L938.5 1457.7 L940 1451.5 L940.9 1450.1 L942 1449.3 L943.4 1448.5 L945.8 1447.1 L948 1446.8 L948.2 1446.8 L950.7 1445.9 L953.1 1444.8 L955 1444.6 L955.6 1444.6 L958 1443.3 L960.5 1439.9 L962 1437.2 L962.9 1435.4 L965.3 1431.1 L967.8 1427.7 L970 1422.4 L970.2 1421.8 L972.7 1417.8 L975 1417.2 L975.1 1417.2 L977.5 1415.8 L980 1414.3 L980 1414.3 L982.4 1412.8 L984.9 1411.7 L987 1410 L987.3 1409.8 L989.8 1408.6 L990 1408.4 L992.2 1406.7 L994.6 1404.2 L995 1403.9 L997.1 1402.1 L999.5 1399.9 L1000 1399.4 L1002 1395.6 L1004.4 1389.3 L1006.9 1383.3 L1008 1381.6 L1009.3 1380.3 L1010 1379.6 L1011.8 1377.3 L1014.2 1375.1 L1016.6 1371.6 L1017 1371 L1019.1 1368.7 L1020 1368.5 L1021.5 1368.6 L1024 1368.3 L1026.4 1366.7 L1028.8 1362 L1030 1359.1 L1031.3 1356.3 L1033.7 1352.4 L1035 1351.6 L1036.2 1351.3 L1038.6 1350.7 L1040 1350.1 L1041.1 1349.6 L1043.5 1348.6 L1046 1347.7 L1048.4 1346.7 L1050.8 1345.7 L1051 1345.6 L1053.3 1387.7 L1055.7 1433 L1058 1474.9 L1058.2 1474.6 L1060.6 1470.5 L1061 1469.8 L1063.1 1466.4 L1064 1465.4 L1065.5 1464.2 L1067.9 1461.3 L1068 1461.2 L1070.4 1458 L1072.8 1456.8 L1075.3 1456.1 L1077.7 1456 L1078 1455.8 L1080 1454.3 L1080.2 1454.2 L1082.6 1453 L1085 1452.5 L1087.5 1452.2 L1089.9 1452 L1090 1452 L1092.4 1451.8 L1094.8 1451.7 L1097 1451.5 L1097.3 1451.5 L1099.7 1449.7 L1102.1 1447 L1103 1446.4 L1104.6 1445.3 L1107 1442.9 L1108 1442.1 L1109.5 1441.3 L1110 1441.1 L1111.9 1440.2 L1114 1439.5 L1114.4 1439.4 L1116.8 1438.3 L1119.2 1436.3 L1120 1435.6 L1121.7 1433.3 L1122 1433 L1124.1 1431.2 L1125 1430.3 L1126.6 1428.6 L1129 1426.4 L1130 1426 L1131.5 1425.6 L1133.9 1423.4 L1135 1421.8 L1136.3 1420.3 L1138.8 1418.6 L1140 1417.7 L1141.2 1416.9 L1143.7 1415.3 L1145 1414.3 L1146.1 1413.4 L1148.6 1413.2 L1151 1413 L1153.5 1412.7 L1155.9 1412.3 L1158.3 1412.1 L1158.5 1412.1 L1158.5 1489.2 L1158.3 1489.2 L1155.9 1489.4 L1153.5 1489.6 L1151 1489.8 L1148.6 1489.9 L1146.1 1490.1 L1145 1490.5 L1143.7 1491.2 L1141.2 1492 L1140 1492.5 L1138.8 1493 L1136.3 1493.9 L1135 1494.7 L1133.9 1495.7 L1131.5 1497 L1130 1497.2 L1129 1497.4 L1126.6 1498.7 L1125 1499.7 L1124.1 1500.2 L1122 1501.3 L1121.7 1501.5 L1120 1502.7 L1119.2 1503 L1116.8 1503.9 L1114.4 1504.4 L1114 1504.5 L1111.9 1504.8 L1110 1505.2 L1109.5 1505.3 L1108 1505.7 L1107 1506.2 L1104.6 1507.6 L1103 1508.3 L1102.1 1508.7 L1099.7 1510.3 L1097.3 1511.5 L1097 1511.5 L1094.8 1511.6 L1092.4 1511.7 L1090 1511.9 L1089.9 1511.9 L1087.5 1512.1 L1085 1512.5 L1082.6 1512.9 L1080.2 1513.8 L1080 1513.9 L1078 1515.1 L1077.7 1515.1 L1075.3 1515.3 L1072.8 1515.8 L1070.4 1516.6 L1068 1518.9 L1067.9 1518.9 L1065.5 1520.9 L1064 1521.8 L1063.1 1522.5 L1061 1524.8 L1060.6 1525.2 L1058.2 1527.5 L1058 1516.5 L1055.7 1488.5 L1053.3 1458.4 L1051 1430.3 L1050.8 1430.4 L1048.4 1431.2 L1046 1432 L1043.5 1432.8 L1041.1 1433.6 L1040 1434.1 L1038.6 1434.6 L1036.2 1435.3 L1035 1435.9 L1033.7 1437.1 L1031.3 1440.5 L1030 1442.4 L1028.8 1443.9 L1026.4 1446.3 L1024 1447.1 L1021.5 1447.2 L1020 1447.2 L1019.1 1447.3 L1017 1448.4 L1016.6 1448.6 L1014.2 1450.1 L1011.8 1450.9 L1010 1451.7 L1009.3 1452 L1008 1452.4 L1006.9 1453 L1004.4 1455.2 L1002 1458.1 L1000 1460.3 L999.5 1460.7 L997.1 1462.5 L995 1463.4 L994.6 1463.5 L992.2 1464.4 L990 1465 L989.8 1465.1 L987.3 1465.6 L987 1465.7 L984.9 1466.8 L982.4 1467.5 L980 1468.4 L980 1468.4 L977.5 1469.4 L975.1 1470.3 L975 1470.3 L972.7 1470.6 L970.2 1472.9 L970 1473.3 L967.8 1476.1 L965.3 1477.9 L962.9 1480.7 L962 1481.9 L960.5 1483.8 L958 1486.2 L955.6 1487.1 L955 1487.1 L953.1 1487.2 L950.7 1488 L948.2 1488.6 L948 1488.6 L945.8 1488.8 L943.4 1489.8 L942 1490.4 L940.9 1490.9 L940 1491.8 L938.5 1495.1 L936 1498.5 L935 1498.7 L933.6 1499 L933 1499.5 L931.1 1502.8 L928.7 1506.2 L928 1506.8 L926.2 1508.2 L923.8 1509.2 L921.4 1509.5 L920 1509.8 L918.9 1509.9 L916.5 1511.7 L914 1513.2 L911.6 1514.6 L910 1515.8 L909.1 1516.5 L906.7 1518.1 L904.3 1519.9 L903 1520.8 L901.8 1522 L900 1524.1 L899.4 1524.8 L896.9 1527 L894.5 1529.3 L892 1531.6 L891.5 1533.4 L889.6 1514.5 L887.2 1490.2 L886.5 1483.6 L884.7 1484.7 L882.3 1486.5 L880 1488 L879.8 1488.1 L877.4 1489.2 L874.9 1489.2 L874 1489.6 L872.5 1490.6 L870.1 1493 L870 1493.1 L867.6 1495.3 L865.2 1497.1 L865 1497.2 L862.7 1498.1 L862 1498.4 L860.3 1499.2 L860 1499.4 L857.8 1500.3 L855.4 1501.5 L853 1502.3 L850.5 1502.9 L850 1503.1 L848.1 1503.7 L848 1503.7 L845.6 1505.1 L845 1505.6 L843.2 1506.9 L840.7 1507.8 L840 1508 L838.3 1508.4 L835.9 1509 L833.4 1509.4 L831 1509.9 L830 1510.1 L828.5 1510.6 L826.1 1511.5 L825 1512 L823.6 1513.1 L821.2 1514.4 L818.8 1515.6 L816.3 1516.7 L816 1516.8 L813.9 1517 L811.4 1517.3 L809 1518 L806.5 1518.2 L804.1 1518.2 L801.6 1518.3 L800 1518.6 L799.2 1518.9 L796.8 1520.2 L794.3 1521.3 L791.9 1522.1 L789.4 1522.2 L787 1522.4 L785 1522.9 L784.5 1523 L782.1 1523.7 L780 1524.4 L779.7 1524.5 L777.2 1525.4 L775 1526.2 L774.8 1526.2 L772.3 1527.2 L769.9 1528.5 L767.5 1529.5 L765 1530.5 L765 1530.5 L762.6 1531.9 L760.1 1533.5 L757.7 1535.3 L755.2 1536.3 L753 1537.5 L752.8 1537 L752.7 1536.7 L750.4 1505.5 L747.9 1473.1 L747.5 1467.6 L745.5 1468.9 L743 1470.3 L740.6 1472 L738.1 1475 L737 1476 L735.7 1476 L735 1475.8 L733.2 1475.8 L730.8 1477.8 L728.4 1479.7 L725.9 1481.3 L725 1481.9 L723.5 1482.8 L721 1484.6 L718.6 1488.2 L717 1490.6 L716.1 1491.8 L713.7 1495.4 L713 1496.4 L711.3 1497.2 L708.8 1498.2 L708 1498.5 L706.4 1499.1 L703.9 1500.5 L701.5 1501.8 L700 1502.7 L699 1503.2 L697 1503.7 L696.6 1503.8 L694.2 1504.2 L691.7 1505.2 L689.3 1506.5 L686.8 1508 L684.4 1509 L682 1510 L681 1510.5 L679.5 1511.2 L677.1 1512 L674.6 1513.3 L672.2 1516.3 L669.7 1520 L667.3 1524 L665 1524.8 L664.9 1524.8 L662.4 1525.1 L660 1525.5 L657.5 1526.3 L655.1 1527.9 L652.6 1530.1 L650.2 1531.5 L650 1531.6 L647.8 1531.9 L645.3 1532.5 L642.9 1533.1 L640.4 1533.6 L638 1534.3 L635.5 1534.8 L633.1 1535.3 L631 1535.8 L630.6 1535.9 L628.2 1539.1 L628 1539.5 L625.8 1541.7 L623.3 1543.2 L620.9 1544.7 L618.4 1545 L616 1544.9 L613.5 1546.1 L613 1546.3 L612.7 1546.5 L611.1 1549.2 L609 1552.7 L608.7 1550.7 L608.5 1549.8 L606.2 1536.5 L603.8 1522.3 L601.3 1508.2 L598.9 1494 L596.4 1479.8 L596 1477.3 L595.5 1477.8 L594 1479.6 L591.6 1482.5 L590 1484.2 L589.1 1484.8 L588 1485.5 L586.7 1486.1 L584.2 1487.5 L581.8 1490.5 L580 1491.9 L579.3 1492.4 L576.9 1493.6 L575 1494.4 L574.5 1494.5 L572 1494.8 L569.6 1494.7 L567.1 1495.3 L565 1496.1 L564.7 1496.2 L562.2 1497.1 L560 1497.8 L559.8 1497.8 L557.4 1498.6 L555 1500.2 L554.9 1500.3 L552.5 1503.4 L552 1504.6 L550 1509.4 L547.6 1513.2 L545.1 1515.1 L545 1515.1 L542.7 1515.9 L540.2 1517.2 L540 1517.3 L537.8 1518.4 L535.4 1519.5 L532.9 1520.5 L530.5 1521.6 L528 1522.2 L527 1522.3 L525.6 1522.6 L525 1522.9 L523.1 1525.4 L522 1527.9 L520.7 1531.5 L520 1533.7 L518.3 1535.4 L515.8 1536.3 L513.4 1537.1 L512 1537.3 L510.9 1537.5 L508.5 1539.3 L506.1 1541 L503.6 1544 L503 1544.6 L501.2 1545.9 L500 1546.1 L498.7 1546.4 L496.3 1547.5 L493.8 1548.7 L491.4 1549.7 L488.9 1550.3 L486.5 1551.3 L484.1 1552.3 L481.6 1553.9 L479.2 1555.2 L479 1555.3 L476.7 1541.3 L474.5 1527.5 L474.3 1527.2 L474 1526.9 L471.9 1528 L469.4 1528.7 L467 1529.5 L467 1529.5 L464.5 1531.4 L462.1 1532.3 L459.6 1532.9 L457.2 1533.8 L454.8 1534.5 L452.3 1534.8 L449.9 1535.7 L447.4 1536.5 L447 1536.5 L445 1536.5 L442.5 1536.6 L440.1 1537 L437.6 1537.5 L435.2 1538 L432.8 1538.4 L430.3 1539.1 L427.9 1540.1 L425.4 1541.6 L423 1542.4 L420.6 1542.5 L420 1542.6 L418.1 1542.9 L415.7 1543.2 L413.2 1543.7 L410.8 1544.2 L408.3 1544.7 L405.9 1545 L403.4 1545.2 L401 1545.4 L398.6 1545.9 L396.1 1546.3 L393.7 1546.7 L391.2 1547.2 L388.8 1547.6 L386.3 1548.1 L383.9 1548.4 L381.5 1548.7 L379 1548.9 L376.6 1549.1 L374.1 1549.7 L371.7 1550.1 L369.2 1550.5 L366.8 1550.7 L365 1551 L364.4 1551.1 L361.9 1551.5 L359.5 1551.8 L357 1552 L354.6 1552.4 L352.1 1552.7 L349.7 1553 L347.3 1553.3 L344.8 1553.6 L342.4 1553.9 L340 1554.1 L339.9 1554.1 L337.5 1554.3 L335 1554.9 L332.6 1555.3 L330.1 1555.7 L327.7 1555.8 L325.3 1556.2 L322.8 1557 L320.4 1557.4 L317.9 1558 L315.5 1558.5 L313.1 1558.9 L311 1559.2 L310.6 1558.5 L310.5 1558.4 L308.2 1544.6 L307.5 1540.7 L305.7 1541.8 L303.3 1543 L300.8 1544.5 L300 1545.1 L298.4 1545.5 L295.9 1545.6 L293.5 1546 L291.1 1546.4 L288.6 1547.1 L286.2 1547.6 L283.7 1548 L281.3 1548.3 L278.9 1548.6 L276.4 1549.1 L274 1549.5 L271.5 1549.8 L269.1 1550.4 L266.6 1550.6 L265 1550.6 L264.2 1550.7 L261.8 1551 L259.3 1551.1 L256.9 1551.2 L254.4 1551.3 L252 1551.4 L249.5 1551.6 L247.1 1551.7 L244.7 1551.7 L242.2 1551.9 L239.8 1552 L237.3 1552.2 L234.9 1552.3 L232.4 1552.4 L230 1552.5 L227.6 1552.5 L225.1 1552.6 L222.7 1552.6 L220.2 1552.7 L217.8 1552.9 L215.3 1553 L212.9 1553.1 L210.4 1553.2 L208 1553.3 L205.6 1553.4 L203.1 1553.4 L200.7 1553.5 L198.2 1553.6 L195.8 1553.7 L193.3 1553.9 L190.9 1554 L188.5 1554.1 L186 1554.2 L183.6 1554.3 L181.1 1554.3 L178.7 1554.5 L176.2 1554.6 L173.8 1554.6 L171.4 1554.6 L168.9 1554.7 L166.5 1554.8 L164 1554.9 L161.6 1555 L159.2 1555.1 L156.7 1555.1 L154.3 1555.3 L151.8 1555.3 L149.4 1555.4 L146.9 1555.6 L144.5 1555.7 L142 1555.8 L139.6 1556 L137.2 1556.3 L137 1556.4 L134.7 1556.7 L132.3 1556.7 L130 1556.8 L129.8 1556.8 L127.4 1557.2 L124.9 1557.8 L122.5 1558.3Z" fill="#FFDF90" stroke="none"/>
<path d="M122.5 1558.2 L124.9 1557.5 L127.4 1556.7 L129.8 1556.3 L130 1556.3 L132.3 1556.2 L134.7 1556.1 L137 1555.7 L137.2 1555.7 L139.6 1555.2 L142 1555 L144.5 1554.8 L146.9 1554.7 L149.4 1554.5 L151.8 1554.4 L154.3 1554.3 L156.7 1554.1 L159.2 1554 L161.6 1554 L164 1553.8 L166.5 1553.7 L168.9 1553.5 L171.4 1553.5 L173.8 1553.5 L176.2 1553.4 L178.7 1553.3 L181.1 1553.1 L183.6 1553 L186 1552.9 L188.5 1552.7 L190.9 1552.6 L193.3 1552.5 L195.8 1552.3 L198.2 1552.2 L200.7 1552 L203.1 1551.9 L205.6 1551.8 L208 1551.8 L210.4 1551.7 L212.9 1551.6 L215.3 1551.4 L217.8 1551.2 L220.2 1551 L222.7 1550.9 L225.1 1550.8 L227.6 1550.8 L230 1550.7 L232.4 1550.6 L234.9 1550.4 L237.3 1550.3 L239.8 1550.1 L242.2 1549.9 L244.7 1549.7 L247.1 1549.6 L249.5 1549.5 L252 1549.4 L254.4 1549.2 L256.9 1549.1 L259.3 1548.9 L261.8 1548.7 L264.2 1548.4 L265 1548.3 L266.6 1548.3 L269.1 1548 L271.5 1547.2 L274 1546.9 L276.4 1546.4 L278.9 1545.7 L281.3 1545.3 L283.7 1544.9 L286.2 1544.5 L288.6 1543.9 L291.1 1543 L293.5 1542.5 L295.9 1542 L298.4 1541.8 L300 1541.3 L300.8 1540.5 L303.3 1538.5 L305.7 1537 L307.5 1535.5 L308.2 1540.2 L310.5 1556.3 L310.6 1556.3 L311 1556.3 L313.1 1556 L315.5 1555.6 L317.9 1555.2 L320.4 1554.7 L322.8 1554.2 L325.3 1553.5 L327.7 1553.1 L330.1 1553 L332.6 1552.7 L335 1552.3 L337.5 1551.8 L339.9 1551.6 L340 1551.5 L342.4 1551.4 L344.8 1551.1 L347.3 1550.8 L349.7 1550.6 L352.1 1550.3 L354.6 1550 L357 1549.7 L359.5 1549.5 L361.9 1549.2 L364.4 1548.8 L365 1548.7 L366.8 1548.5 L369.2 1548.1 L371.7 1547.6 L374.1 1547.1 L376.6 1546.3 L379 1546 L381.5 1545.7 L383.9 1545.3 L386.3 1544.9 L388.8 1544.2 L391.2 1543.7 L393.7 1543.1 L396.1 1542.5 L398.6 1541.9 L401 1541.3 L403.4 1541.1 L405.9 1540.7 L408.3 1540.4 L410.8 1539.7 L413.2 1539.1 L415.7 1538.4 L418.1 1538 L420 1537.6 L420.6 1537.5 L423 1537.4 L425.4 1536.5 L427.9 1534.6 L430.3 1533.5 L432.8 1532.6 L435.2 1532.1 L437.6 1531.5 L440.1 1531 L442.5 1530.5 L445 1530.5 L447 1530.4 L447.4 1530.4 L449.9 1529.5 L452.3 1528.2 L454.8 1527.9 L457.2 1526.9 L459.6 1525.7 L462.1 1524.9 L464.5 1523.5 L467 1521 L467 1521 L469.4 1519.9 L471.9 1518.8 L474 1517.3 L474.3 1517.1 L474.5 1516.9 L476.7 1534.2 L479 1551.7 L479.2 1551.3 L481.6 1549.7 L484.1 1547.7 L486.5 1546.3 L488.9 1545 L491.4 1544.3 L493.8 1543 L496.3 1541.5 L498.7 1540.1 L500 1539.7 L501.2 1539.5 L503 1538 L503.6 1537.3 L506.1 1533.9 L508.5 1530.6 L510.9 1527.3 L512 1526.8 L513.4 1526.6 L515.8 1525.1 L518.3 1523.4 L520 1521 L520.7 1518.5 L522 1514.4 L523.1 1511.6 L525 1508.7 L525.6 1508.2 L527 1507.6 L528 1507.5 L530.5 1506.6 L532.9 1504.9 L535.4 1503.4 L537.8 1501.8 L540 1500.3 L540.2 1500.1 L542.7 1498.2 L545 1497 L545.1 1497 L547.6 1494.2 L550 1489 L552 1482.5 L552.5 1480.8 L554.9 1477 L555 1476.9 L557.4 1475.1 L559.8 1474.2 L560 1474.1 L562.2 1473.3 L564.7 1472.3 L565 1472.1 L567.1 1471.2 L569.6 1470.4 L572 1470.6 L574.5 1470.2 L575 1470 L576.9 1469.2 L579.3 1467.6 L580 1467 L581.8 1465 L584.2 1460.9 L586.7 1459 L588 1458.1 L589.1 1457.2 L590 1456.3 L591.6 1453.9 L594 1450 L595.5 1447.4 L596 1446.7 L596.4 1449.8 L598.9 1467.5 L601.3 1485.2 L603.8 1502.9 L606.2 1520.5 L608.5 1537.1 L608.7 1538.3 L609 1540.7 L611.1 1538.3 L612.7 1535.4 L613 1535.3 L613.5 1535.1 L616 1534.1 L618.4 1534.2 L620.9 1534 L623.3 1532.7 L625.8 1531.5 L628 1529.3 L628.2 1528.9 L630.6 1525.3 L631 1525.2 L633.1 1524.7 L635.5 1524.1 L638 1523.5 L640.4 1522.8 L642.9 1522.1 L645.3 1521.5 L647.8 1520.8 L650 1520.4 L650.2 1520.4 L652.6 1518.7 L655.1 1516.2 L657.5 1514.4 L660 1513.4 L662.4 1512.9 L664.9 1512.6 L665 1512.6 L667.3 1511.7 L669.7 1506.2 L672.2 1501.2 L674.6 1497 L677.1 1495.2 L679.5 1494.1 L681 1493.1 L682 1492.4 L684.4 1490.9 L686.8 1489.2 L689.3 1486.7 L691.7 1484.5 L694.2 1482.8 L696.6 1482.1 L697 1482.1 L699 1481.2 L700 1480.3 L701.5 1479 L703.9 1477 L706.4 1475 L708 1474.1 L708.8 1473.6 L711.3 1472.2 L713 1471 L713.7 1469.4 L716.1 1464 L717 1462.2 L718.6 1458.4 L721 1452.8 L723.5 1450.4 L725 1449.3 L725.9 1448.4 L728.4 1446.4 L730.8 1443.8 L733.2 1441.2 L735 1441.1 L735.7 1441.4 L737 1441.4 L738.1 1440.1 L740.6 1436.1 L743 1433.8 L745.5 1431.9 L747.5 1430.2 L747.9 1437.7 L750.4 1482.1 L752.7 1524.9 L752.8 1524.8 L753 1524.7 L755.2 1523.4 L757.7 1522.2 L760.1 1520.2 L762.6 1518.5 L765 1517 L765 1517 L767.5 1515.8 L769.9 1514.6 L772.3 1513.1 L774.8 1511.9 L775 1511.9 L777.2 1511 L779.7 1510 L780 1509.9 L782.1 1509.1 L784.5 1508.4 L785 1508.3 L787 1507.9 L789.4 1507.6 L791.9 1507.4 L794.3 1506.5 L796.8 1505.3 L799.2 1503.8 L800 1503.5 L801.6 1503.3 L804.1 1503.1 L806.5 1503.1 L809 1502.9 L811.4 1502.3 L813.9 1502 L816 1501.7 L816.3 1501.6 L818.8 1500.5 L821.2 1499.3 L823.6 1497.9 L825 1496.8 L826.1 1496.3 L828.5 1495.4 L830 1494.4 L831 1494 L833.4 1493.2 L835.9 1492.3 L838.3 1491.1 L840 1490.3 L840.7 1490.1 L843.2 1488.9 L845 1487 L845.6 1486.2 L848 1484.5 L848.1 1484.5 L850 1483.8 L850.5 1483.6 L853 1482.8 L855.4 1481.9 L857.8 1480.4 L860 1479.3 L860.3 1479.1 L862 1478 L862.7 1477.6 L865 1476.2 L865.2 1476.1 L867.6 1473.4 L870 1470.5 L870.1 1470.4 L872.5 1467.1 L874 1465.4 L874.9 1464.8 L877.4 1464.8 L879.8 1462.9 L880 1462.8 L882.3 1460.2 L884.7 1457.1 L886.5 1455.2 L887.2 1463.9 L889.6 1495.8 L891.5 1520.7 L892 1520.2 L894.5 1517.3 L896.9 1514.5 L899.4 1511.8 L900 1510.9 L901.8 1508.3 L903 1506.9 L904.3 1505.8 L906.7 1503.8 L909.1 1502.2 L910 1501.4 L911.6 1500 L914 1498.5 L916.5 1496.7 L918.9 1494.6 L920 1494.5 L921.4 1494.1 L923.8 1493.7 L926.2 1492.4 L928 1490.7 L928.7 1490 L931.1 1485.9 L933 1481.7 L933.6 1481 L935 1480.5 L936 1480.4 L938.5 1475.7 L940 1471.1 L940.9 1470 L942 1469.4 L943.4 1468.8 L945.8 1467.7 L948 1467.5 L948.2 1467.5 L950.7 1466.8 L953.1 1465.9 L955 1465.8 L955.6 1465.8 L958 1464.8 L960.5 1461.8 L962 1459.3 L962.9 1457.6 L965.3 1454 L967.8 1451.4 L970 1447.5 L970.2 1447.1 L972.7 1444 L975 1443.6 L975.1 1443.5 L977.5 1442.4 L980 1441.2 L980 1441.2 L982.4 1440 L984.9 1439.2 L987 1437.8 L987.3 1437.7 L989.8 1436.9 L990 1436.8 L992.2 1435.9 L994.6 1434.5 L995 1434.3 L997.1 1433.1 L999.5 1430.9 L1000 1430.4 L1002 1427.3 L1004.4 1422.9 L1006.9 1419.2 L1008 1418.4 L1009.3 1417.7 L1010 1417.3 L1011.8 1416.1 L1014.2 1414.9 L1016.6 1412.8 L1017 1412.4 L1019.1 1410.9 L1020 1410.8 L1021.5 1410.9 L1024 1410.7 L1026.4 1409.6 L1028.8 1406.4 L1030 1404.5 L1031.3 1401.9 L1033.7 1397.7 L1035 1396.3 L1036.2 1395.8 L1038.6 1395 L1040 1394.4 L1041.1 1393.8 L1043.5 1392.9 L1046 1392 L1048.4 1391.1 L1050.8 1390.1 L1051 1390 L1053.3 1424 L1055.7 1460.6 L1058 1494.4 L1058.2 1492.6 L1060.6 1489.9 L1061 1489.5 L1063.1 1486.6 L1064 1485.7 L1065.5 1484.7 L1067.9 1482.2 L1068 1482.1 L1070.4 1479.3 L1072.8 1478.4 L1075.3 1477.8 L1077.7 1477.7 L1078 1477.6 L1080 1476.3 L1080.2 1476.2 L1082.6 1475.2 L1085 1474.8 L1087.5 1474.5 L1089.9 1474.3 L1090 1474.3 L1092.4 1474.2 L1094.8 1474.1 L1097 1474 L1097.3 1473.9 L1099.7 1472.5 L1102.1 1470.4 L1103 1469.9 L1104.6 1469.1 L1107 1467.3 L1108 1466.6 L1109.5 1466.1 L1110 1465.9 L1111.9 1465.3 L1114 1464.8 L1114.4 1464.7 L1116.8 1464 L1119.2 1462.7 L1120 1462.2 L1121.7 1460.6 L1122 1460.4 L1124.1 1459 L1125 1458.4 L1126.6 1457.2 L1129 1455.6 L1130 1455.3 L1131.5 1455.1 L1133.9 1453.4 L1135 1452.3 L1136.3 1451.1 L1138.8 1449.8 L1140 1449.2 L1141.2 1448.6 L1143.7 1447.4 L1145 1446.6 L1146.1 1445.9 L1148.6 1445.7 L1151 1445.5 L1153.5 1445.2 L1155.9 1444.9 L1158.3 1444.6 L1158.5 1444.6 L1158.5 1469.5 L1158.3 1469.5 L1155.9 1469.7 L1153.5 1470 L1151 1470.3 L1148.6 1470.5 L1146.1 1470.7 L1145 1471.2 L1143.7 1471.8 L1141.2 1472.8 L1140 1473.3 L1138.8 1473.8 L1136.3 1474.8 L1135 1475.7 L1133.9 1476.7 L1131.5 1478 L1130 1478.2 L1129 1478.4 L1126.6 1479.7 L1125 1480.6 L1124.1 1481.1 L1122 1482.1 L1121.7 1482.3 L1120 1483.6 L1119.2 1483.9 L1116.8 1484.8 L1114.4 1485.4 L1114 1485.4 L1111.9 1485.8 L1110 1486.2 L1109.5 1486.3 L1108 1486.8 L1107 1487.3 L1104.6 1488.8 L1103 1489.5 L1102.1 1489.9 L1099.7 1491.6 L1097.3 1492.8 L1097 1492.8 L1094.8 1492.9 L1092.4 1493 L1090 1493.2 L1089.9 1493.2 L1087.5 1493.3 L1085 1493.6 L1082.6 1493.9 L1080.2 1494.9 L1080 1495 L1078 1496.1 L1077.7 1496.2 L1075.3 1496.3 L1072.8 1496.8 L1070.4 1497.7 L1068 1500.1 L1067.9 1500.2 L1065.5 1502.4 L1064 1503.2 L1063.1 1504 L1061 1506.6 L1060.6 1506.9 L1058.2 1508.9 L1058 1508.3 L1055.7 1478.8 L1053.3 1447.1 L1051 1417.5 L1050.8 1417.6 L1048.4 1418.5 L1046 1419.4 L1043.5 1420.3 L1041.1 1421.1 L1040 1421.6 L1038.6 1422.2 L1036.2 1423 L1035 1423.6 L1033.7 1425.1 L1031.3 1429.1 L1030 1431.3 L1028.8 1432.8 L1026.4 1435.3 L1024 1436.1 L1021.5 1436.3 L1020 1436.2 L1019.1 1436.3 L1017 1437.5 L1016.6 1437.7 L1014.2 1439.2 L1011.8 1440 L1010 1440.7 L1009.3 1441 L1008 1441.4 L1006.9 1442 L1004.4 1444.5 L1002 1447.8 L1000 1450.3 L999.5 1450.8 L997.1 1452.8 L995 1453.8 L994.6 1453.9 L992.2 1454.8 L990 1455.4 L989.8 1455.5 L987.3 1456 L987 1456.1 L984.9 1457.3 L982.4 1458 L980 1459 L980 1459 L977.5 1460.1 L975.1 1461 L975 1461 L972.7 1461.4 L970.2 1463.9 L970 1464.3 L967.8 1467.4 L965.3 1469.5 L962.9 1472.6 L962 1474 L960.5 1476.2 L958 1478.9 L955.6 1479.7 L955 1479.8 L953.1 1479.9 L950.7 1480.6 L948.2 1481.2 L948 1481.2 L945.8 1481.5 L943.4 1482.4 L942 1483 L940.9 1483.5 L940 1484.4 L938.5 1488.1 L936 1491.9 L935 1492 L933.6 1492.4 L933 1493 L931.1 1496.4 L928.7 1499.9 L928 1500.5 L926.2 1501.9 L923.8 1503 L921.4 1503.3 L920 1503.6 L918.9 1503.7 L916.5 1505.5 L914 1507 L911.6 1508.2 L910 1509.5 L909.1 1510.3 L906.7 1512.1 L904.3 1514.1 L903 1515.2 L901.8 1516.5 L900 1518.7 L899.4 1519.4 L896.9 1521.8 L894.5 1524.2 L892 1526.7 L891.5 1528.7 L889.6 1508.3 L887.2 1482.1 L886.5 1475 L884.7 1476.3 L882.3 1478.3 L880 1480 L879.8 1480.1 L877.4 1481.4 L874.9 1481.4 L874 1481.8 L872.5 1482.9 L870.1 1485.7 L870 1485.8 L867.6 1488.3 L865.2 1490.5 L865 1490.5 L862.7 1491.4 L862 1491.7 L860.3 1492.6 L860 1492.8 L857.8 1493.8 L855.4 1495.1 L853 1495.8 L850.5 1496.5 L850 1496.7 L848.1 1497.4 L848 1497.4 L845.6 1499.1 L845 1499.6 L843.2 1501.2 L840.7 1502.2 L840 1502.3 L838.3 1502.7 L835.9 1503.3 L833.4 1503.8 L831 1504.2 L830 1504.5 L828.5 1504.9 L826.1 1505.8 L825 1506.3 L823.6 1507.5 L821.2 1509 L818.8 1510.3 L816.3 1511.5 L816 1511.6 L813.9 1511.9 L811.4 1512.2 L809 1512.8 L806.5 1513.1 L804.1 1513.1 L801.6 1513.2 L800 1513.5 L799.2 1513.7 L796.8 1515.2 L794.3 1516.3 L791.9 1517.2 L789.4 1517.3 L787 1517.6 L785 1518 L784.5 1518.1 L782.1 1518.8 L780 1519.6 L779.7 1519.7 L777.2 1520.8 L775 1521.7 L774.8 1521.7 L772.3 1522.9 L769.9 1524.3 L767.5 1525.2 L765 1526.2 L765 1526.2 L762.6 1527.6 L760.1 1529.1 L757.7 1530.8 L755.2 1531.9 L753 1533 L752.8 1532.8 L752.7 1532.7 L750.4 1497.5 L747.9 1461 L747.5 1454.8 L745.5 1456.3 L743 1457.9 L740.6 1459.9 L738.1 1463.5 L737 1464.6 L735.7 1464.6 L735 1464.3 L733.2 1464.4 L730.8 1466.7 L728.4 1469.1 L725.9 1471 L725 1471.7 L723.5 1472.7 L721 1474.9 L718.6 1479.3 L717 1482.3 L716.1 1483.7 L713.7 1488 L713 1489.2 L711.3 1490.1 L708.8 1491.2 L708 1491.6 L706.4 1492.3 L703.9 1493.8 L701.5 1495.2 L700 1496.2 L699 1496.8 L697 1497.4 L696.6 1497.5 L694.2 1497.9 L691.7 1499.1 L689.3 1500.5 L686.8 1502.1 L684.4 1503.2 L682 1504.4 L681 1505 L679.5 1505.8 L677.1 1506.7 L674.6 1508.2 L672.2 1511.7 L669.7 1515.9 L667.3 1520.4 L665 1521.2 L664.9 1521.2 L662.4 1521.5 L660 1521.9 L657.5 1522.7 L655.1 1524.3 L652.6 1526.5 L650.2 1527.9 L650 1528 L647.8 1528.3 L645.3 1528.9 L642.9 1529.4 L640.4 1530 L638 1530.6 L635.5 1531.1 L633.1 1531.6 L631 1532.1 L630.6 1532.2 L628.2 1536 L628 1536.5 L625.8 1538.7 L623.3 1539.8 L620.9 1541 L618.4 1541.1 L616 1541.1 L613.5 1541.9 L613 1542.1 L612.7 1542.2 L611.1 1545.3 L609 1549.3 L608.7 1547.2 L608.5 1546.2 L606.2 1531.9 L603.8 1516.7 L601.3 1501.5 L598.9 1486.2 L596.4 1471 L596 1468.2 L595.5 1468.9 L594 1471 L591.6 1474.4 L590 1476.3 L589.1 1477 L588 1477.8 L586.7 1478.5 L584.2 1480 L581.8 1483.3 L580 1484.8 L579.3 1485.3 L576.9 1486.6 L575 1487.4 L574.5 1487.5 L572 1487.8 L569.6 1487.7 L567.1 1488.3 L565 1489.2 L564.7 1489.3 L562.2 1490.2 L560 1490.9 L559.8 1490.9 L557.4 1491.7 L555 1493.4 L554.9 1493.4 L552.5 1496.7 L552 1498.2 L550 1503.7 L547.6 1508.1 L545.1 1510.2 L545 1510.3 L542.7 1511.2 L540.2 1512.6 L540 1512.7 L537.8 1513.9 L535.4 1515.1 L532.9 1516.2 L530.5 1517.5 L528 1518 L527 1518.1 L525.6 1518.4 L525 1518.6 L523.1 1521.3 L522 1524.1 L520.7 1528.3 L520 1530.8 L518.3 1532.7 L515.8 1533.7 L513.4 1534.5 L512 1534.6 L510.9 1534.9 L508.5 1536.7 L506.1 1538.5 L503.6 1542.1 L503 1542.9 L501.2 1544.4 L500 1544.6 L498.7 1544.9 L496.3 1546 L493.8 1547.2 L491.4 1548.2 L488.9 1548.8 L486.5 1549.8 L484.1 1550.9 L481.6 1552.5 L479.2 1553.8 L479 1553.9 L476.7 1538.7 L474.5 1523.7 L474.3 1523.7 L474 1523.7 L471.9 1524.9 L469.4 1525.8 L467 1526.7 L467 1526.8 L464.5 1528.9 L462.1 1529.8 L459.6 1530.4 L457.2 1531.3 L454.8 1532 L452.3 1532.3 L449.9 1533.2 L447.4 1534.1 L447 1534.2 L445 1534.2 L442.5 1534.3 L440.1 1534.7 L437.6 1535.2 L435.2 1535.8 L432.8 1536.3 L430.3 1537.1 L427.9 1538.2 L425.4 1540 L423 1540.9 L420.6 1540.9 L420 1541 L418.1 1541.5 L415.7 1541.8 L413.2 1542.3 L410.8 1542.8 L408.3 1543.4 L405.9 1543.7 L403.4 1544 L401 1544.2 L398.6 1544.7 L396.1 1545.1 L393.7 1545.6 L391.2 1546.1 L388.8 1546.5 L386.3 1547.1 L383.9 1547.4 L381.5 1547.8 L379 1547.9 L376.6 1548.3 L374.1 1548.9 L371.7 1549.3 L369.2 1549.7 L366.8 1550 L365 1550.2 L364.4 1550.3 L361.9 1550.7 L359.5 1551 L357 1551.2 L354.6 1551.6 L352.1 1551.8 L349.7 1552.1 L347.3 1552.4 L344.8 1552.6 L342.4 1552.9 L340 1553.1 L339.9 1553.1 L337.5 1553.4 L335 1553.9 L332.6 1554.3 L330.1 1554.7 L327.7 1554.8 L325.3 1555.2 L322.8 1555.9 L320.4 1556.4 L317.9 1556.9 L315.5 1557.4 L313.1 1557.7 L311 1558 L310.6 1557.8 L310.5 1557.7 L308.2 1543.1 L307.5 1538.8 L305.7 1540.1 L303.3 1541.4 L300.8 1543 L300 1543.7 L298.4 1544.1 L295.9 1544.3 L293.5 1544.7 L291.1 1545.2 L288.6 1545.9 L286.2 1546.5 L283.7 1546.9 L281.3 1547.2 L278.9 1547.5 L276.4 1548.1 L274 1548.5 L271.5 1548.8 L269.1 1549.5 L266.6 1549.8 L265 1549.8 L264.2 1549.8 L261.8 1550.1 L259.3 1550.3 L256.9 1550.4 L254.4 1550.6 L252 1550.7 L249.5 1550.8 L247.1 1550.9 L244.7 1551 L242.2 1551.1 L239.8 1551.3 L237.3 1551.5 L234.9 1551.6 L232.4 1551.7 L230 1551.8 L227.6 1551.9 L225.1 1551.9 L222.7 1552 L220.2 1552.1 L217.8 1552.3 L215.3 1552.4 L212.9 1552.6 L210.4 1552.7 L208 1552.8 L205.6 1552.8 L203.1 1552.9 L200.7 1553 L198.2 1553.1 L195.8 1553.2 L193.3 1553.4 L190.9 1553.5 L188.5 1553.6 L186 1553.7 L183.6 1553.8 L181.1 1553.9 L178.7 1554 L176.2 1554.1 L173.8 1554.2 L171.4 1554.2 L168.9 1554.3 L166.5 1554.4 L164 1554.5 L161.6 1554.7 L159.2 1554.7 L156.7 1554.8 L154.3 1554.9 L151.8 1555 L149.4 1555.1 L146.9 1555.3 L144.5 1555.4 L142 1555.5 L139.6 1555.7 L137.2 1556.1 L137 1556.1 L134.7 1556.4 L132.3 1556.5 L130 1556.5 L129.8 1556.5 L127.4 1556.9 L124.9 1557.6 L122.5 1558.3Z" fill="#FFA566" stroke="none"/>
<path d="M122.5 1558 L124.9 1557.2 L127.4 1556.4 L129.8 1555.9 L130 1555.9 L132.3 1555.8 L134.7 1555.6 L137 1554.8 L137.2 1554.7 L139.6 1553.9 L142 1553.5 L144.5 1553.3 L146.9 1553.2 L149.4 1552.9 L151.8 1552.7 L154.3 1552.6 L156.7 1552.4 L159.2 1552.3 L161.6 1552.2 L164 1552 L166.5 1551.8 L168.9 1551.6 L171.4 1551.5 L173.8 1551.5 L176.2 1551.4 L178.7 1551.3 L181.1 1551 L183.6 1550.9 L186 1550.8 L188.5 1550.5 L190.9 1550.3 L193.3 1550.2 L195.8 1550 L198.2 1549.8 L200.7 1549.5 L203.1 1549.4 L205.6 1549.3 L208 1549.2 L210.4 1549.1 L212.9 1548.9 L215.3 1548.7 L217.8 1548.5 L220.2 1548.2 L222.7 1548 L225.1 1547.9 L227.6 1547.8 L230 1547.7 L232.4 1547.6 L234.9 1547.4 L237.3 1547.2 L239.8 1546.9 L242.2 1546.7 L244.7 1546.4 L247.1 1546.3 L249.5 1546.2 L252 1545.9 L254.4 1545.7 L256.9 1545.5 L259.3 1545.3 L261.8 1545.1 L264.2 1544.5 L265 1544.5 L266.6 1544.5 L269.1 1544 L271.5 1542.9 L274 1542.3 L276.4 1541.7 L278.9 1540.7 L281.3 1540 L283.7 1539.5 L286.2 1538.9 L288.6 1538 L291.1 1536.7 L293.5 1535.9 L295.9 1535.2 L298.4 1534.9 L300 1534.2 L300.8 1532.9 L303.3 1529.8 L305.7 1527.3 L307.5 1525 L308.2 1531 L310.5 1552 L310.6 1552 L311 1551.9 L313.1 1551.6 L315.5 1551.3 L317.9 1550.9 L320.4 1550.4 L322.8 1549.9 L325.3 1549.2 L327.7 1548.9 L330.1 1548.8 L332.6 1548.4 L335 1548 L337.5 1547.5 L339.9 1547.3 L340 1547.3 L342.4 1547.1 L344.8 1546.8 L347.3 1546.5 L349.7 1546.2 L352.1 1545.9 L354.6 1545.6 L357 1545.2 L359.5 1545 L361.9 1544.8 L364.4 1544.3 L365 1544.2 L366.8 1543.9 L369.2 1543.3 L371.7 1542.5 L374.1 1541.6 L376.6 1540.4 L379 1539.7 L381.5 1539.4 L383.9 1538.7 L386.3 1538 L388.8 1536.9 L391.2 1536 L393.7 1535 L396.1 1534 L398.6 1533.1 L401 1532.2 L403.4 1531.7 L405.9 1531.1 L408.3 1530.5 L410.8 1529.5 L413.2 1528.4 L415.7 1527.3 L418.1 1526.7 L420 1525.9 L420.6 1525.7 L423 1525.5 L425.4 1523.8 L427.9 1520.4 L430.3 1518.3 L432.8 1516.7 L435.2 1515.8 L437.6 1514.7 L440.1 1513.6 L442.5 1512.9 L445 1512.7 L447 1512.6 L447.4 1512.6 L449.9 1510.8 L452.3 1508.5 L454.8 1507.8 L457.2 1506 L459.6 1503.8 L462.1 1502.3 L464.5 1499.8 L467 1494.1 L467 1494.1 L469.4 1491.6 L471.9 1489.1 L474 1485.7 L474.3 1485.2 L474.5 1484.8 L476.7 1515.6 L479 1546.7 L479.2 1546.5 L481.6 1543.4 L484.1 1539.3 L486.5 1536.7 L488.9 1534.2 L491.4 1532.7 L493.8 1530.3 L496.3 1527.3 L498.7 1524.5 L500 1523.8 L501.2 1523.2 L503 1521.7 L503.6 1521.1 L506.1 1518.2 L508.5 1511.3 L510.9 1504.5 L512 1503.5 L513.4 1502.9 L515.8 1499.9 L518.3 1496.3 L520 1493 L520.7 1491.5 L522 1487.4 L523.1 1483.9 L525 1479 L525.6 1477.8 L527 1476.2 L528 1476 L530.5 1474.1 L532.9 1471.7 L535.4 1469.6 L537.8 1467.4 L540 1465.2 L540.2 1464.9 L542.7 1461.9 L545 1458.5 L545.1 1458.3 L547.6 1452.1 L550 1446.2 L552 1439.1 L552.5 1437.7 L554.9 1431.9 L555 1431.7 L557.4 1427 L559.8 1424.7 L560 1424.6 L562.2 1422.6 L564.7 1421.5 L565 1421.4 L567.1 1420.4 L569.6 1419.7 L572 1419.8 L574.5 1419.4 L575 1419.3 L576.9 1418.4 L579.3 1416.7 L580 1415.9 L581.8 1413.4 L584.2 1408.4 L586.7 1406 L588 1404.9 L589.1 1403.5 L590 1401 L591.6 1396.5 L594 1390.2 L595.5 1386.1 L596 1391 L596.4 1395.3 L598.9 1419.4 L601.3 1443.5 L603.8 1467.5 L606.2 1491.5 L608.5 1514 L608.7 1513.7 L609 1513 L611.1 1508.7 L612.7 1505.9 L613 1505.7 L613.5 1505.5 L616 1504.4 L618.4 1504.5 L620.9 1504.3 L623.3 1502.9 L625.8 1501.6 L628 1498.5 L628.2 1497.8 L630.6 1492.2 L631 1492 L633.1 1491.3 L635.5 1490.5 L638 1489.6 L640.4 1488.6 L642.9 1487.7 L645.3 1486.9 L647.8 1485.9 L650 1485.4 L650.2 1485.3 L652.6 1482.3 L655.1 1477.5 L657.5 1474 L660 1472.2 L662.4 1471.3 L664.9 1470.6 L665 1470.6 L667.3 1468.8 L669.7 1463.4 L672.2 1458.3 L674.6 1454.1 L677.1 1452.3 L679.5 1451.2 L681 1450.3 L682 1449.5 L684.4 1447.3 L686.8 1444.1 L689.3 1439.1 L691.7 1434.8 L694.2 1431.4 L696.6 1430.1 L697 1430 L699 1428.1 L700 1426.9 L701.5 1425.9 L703.9 1424.4 L706.4 1422.8 L708 1422.1 L708.8 1420.9 L711.3 1416.4 L713 1412.6 L713.7 1410.6 L716.1 1403.5 L717 1400.7 L718.6 1394.5 L721 1385.5 L723.5 1381.9 L725 1380.2 L725.9 1379 L728.4 1376 L730.8 1372.1 L733.2 1368.4 L735 1368.3 L735.7 1368.7 L737 1368.7 L738.1 1366.5 L740.6 1360.3 L743 1357 L745.5 1354.3 L747.5 1351.9 L747.9 1362.1 L750.4 1422.5 L752.7 1480.7 L752.8 1480.6 L753 1480.4 L755.2 1478.6 L757.7 1476.9 L760.1 1474.1 L762.6 1471.6 L765 1469.4 L765 1469.4 L767.5 1467.3 L769.9 1465.3 L772.3 1463 L774.8 1462.2 L775 1462.2 L777.2 1461.6 L779.7 1461 L780 1460.8 L782.1 1459.7 L784.5 1458.3 L785 1458.1 L787 1457.1 L789.4 1456.5 L791.9 1456.2 L794.3 1454.4 L796.8 1451.9 L799.2 1449.4 L800 1449.2 L801.6 1448.9 L804.1 1448.7 L806.5 1448.7 L809 1448.5 L811.4 1447.8 L813.9 1447.5 L816 1447.2 L816.3 1447.2 L818.8 1445.6 L821.2 1443.8 L823.6 1441.9 L825 1440.2 L826.1 1438.8 L828.5 1436.5 L830 1435.2 L831 1434.5 L833.4 1433.3 L835.9 1432 L838.3 1430.4 L840 1429.3 L840.7 1429 L843.2 1427.2 L845 1424.6 L845.6 1423.7 L848 1420.9 L848.1 1420.9 L850 1419.7 L850.5 1419.3 L853 1417.3 L855.4 1414.4 L857.8 1409.5 L860 1405.7 L860.3 1405.1 L862 1401.7 L862.7 1400.5 L865 1395.9 L865.2 1395.4 L867.6 1388.2 L870 1381.7 L870.1 1381.7 L872.5 1379.3 L874 1378.1 L874.9 1377.6 L877.4 1377.6 L879.8 1376.3 L880 1376.2 L882.3 1371.1 L884.7 1360.6 L886.5 1354.5 L887.2 1371.4 L889.6 1434 L891.5 1482.8 L892 1481.6 L894.5 1476.8 L896.9 1472.2 L899.4 1467.6 L900 1466.1 L901.8 1463 L903 1461.5 L904.3 1460 L906.7 1456.9 L909.1 1454.2 L910 1452.9 L911.6 1449.7 L914 1445.1 L916.5 1440.3 L918.9 1435.6 L920 1435.4 L921.4 1434.6 L923.8 1433.8 L926.2 1431 L928 1427.3 L928.7 1425.7 L931.1 1413.9 L933 1403.5 L933.6 1401.9 L935 1400.3 L936 1399.8 L938.5 1383 L940 1373.4 L940.9 1372.1 L942 1370.8 L943.4 1369.4 L945.8 1367.2 L948 1366.5 L948.2 1366.5 L950.7 1364.6 L953.1 1362.3 L955 1362 L955.6 1361.9 L958 1359.2 L960.5 1351.1 L962 1344.5 L962.9 1340.3 L965.3 1330.5 L967.8 1323.3 L970 1313 L970.2 1312 L972.7 1304.1 L975 1302.7 L975.1 1302.7 L977.5 1299.2 L980 1296.5 L980 1296.5 L982.4 1295.5 L984.9 1294.8 L987 1293.6 L987.3 1293.5 L989.8 1292.7 L990 1292.6 L992.2 1291 L994.6 1285.3 L995 1284.5 L997.1 1280.3 L999.5 1275.2 L1000 1274.1 L1002 1268.7 L1004.4 1262.4 L1006.9 1256.4 L1008 1254.4 L1009.3 1252.9 L1010 1252 L1011.8 1249.3 L1014.2 1246.6 L1016.6 1242.4 L1017 1241.7 L1019.1 1239.3 L1020 1239.1 L1021.5 1239.2 L1024 1238.9 L1026.4 1237.5 L1028.8 1233.2 L1030 1230.5 L1031.3 1226.9 L1033.7 1220.4 L1035 1218.1 L1036.2 1217.1 L1038.6 1215.7 L1040 1214.7 L1041.1 1213.8 L1043.5 1212.2 L1046 1210.6 L1048.4 1209 L1050.8 1207.3 L1051 1207.2 L1053.3 1263.9 L1055.7 1324.9 L1058 1381.4 L1058.2 1380.8 L1060.6 1372.3 L1061 1371 L1063.1 1364 L1064 1361.8 L1065.5 1359.8 L1067.9 1355.3 L1068 1355.1 L1070.4 1350.3 L1072.8 1348.9 L1075.3 1348 L1077.7 1347.8 L1078 1347.7 L1080 1345.9 L1080.2 1345.7 L1082.6 1344.9 L1085 1344.3 L1087.5 1343.7 L1089.9 1342.7 L1090 1342.6 L1092.4 1341.4 L1094.8 1340.8 L1097 1339.8 L1097.3 1339.7 L1099.7 1329.4 L1102.1 1314 L1103 1311.5 L1104.6 1307.6 L1107 1298.5 L1108 1293.8 L1109.5 1288.8 L1110 1287 L1111.9 1279.8 L1114 1273.9 L1114.4 1273.8 L1116.8 1273.3 L1119.2 1272.5 L1120 1265.7 L1121.7 1252.5 L1122 1250.8 L1124.1 1244.1 L1125 1241.8 L1126.6 1237.4 L1129 1231.4 L1130 1230.3 L1131.5 1229.2 L1133.9 1222.8 L1135 1216.9 L1136.3 1209.8 L1138.8 1201.5 L1140 1197.8 L1141.2 1195.8 L1143.7 1191.7 L1145 1188.9 L1146.1 1186.7 L1148.6 1186 L1151 1185.5 L1153.5 1184.5 L1155.9 1183.5 L1158.3 1182.8 L1158.5 1182.8" fill="none" stroke="#FFA826" stroke-width="1.15" stroke-linejoin="round" />
<path d="M122.5 1558.5 L124.9 1558.2 L127.4 1557.9 L129.8 1557.7 L130 1557.7 L132.3 1557.7 L134.7 1557.6 L137 1557.3 L137.2 1557.3 L139.6 1557 L142 1556.8 L144.5 1556.8 L146.9 1556.7 L149.4 1556.6 L151.8 1556.5 L154.3 1556.5 L156.7 1556.4 L159.2 1556.4 L161.6 1556.4 L164 1556.3 L166.5 1556.2 L168.9 1556.1 L171.4 1556.1 L173.8 1556.1 L176.2 1556.1 L178.7 1556 L181.1 1555.9 L183.6 1555.9 L186 1555.8 L188.5 1555.7 L190.9 1555.7 L193.3 1555.6 L195.8 1555.5 L198.2 1555.5 L200.7 1555.4 L203.1 1555.3 L205.6 1555.3 L208 1555.3 L210.4 1555.2 L212.9 1555.2 L215.3 1555.1 L217.8 1555 L220.2 1554.9 L222.7 1554.8 L225.1 1554.8 L227.6 1554.8 L230 1554.7 L232.4 1554.7 L234.9 1554.6 L237.3 1554.5 L239.8 1554.5 L242.2 1554.3 L244.7 1554.2 L247.1 1554.2 L249.5 1554.2 L252 1554.1 L254.4 1554 L256.9 1553.9 L259.3 1553.9 L261.8 1553.8 L264.2 1553.6 L265 1553.6 L266.6 1553.6 L269.1 1553.4 L271.5 1553 L274 1552.8 L276.4 1552.6 L278.9 1552.2 L281.3 1552 L283.7 1551.8 L286.2 1551.6 L288.6 1551.2 L291.1 1550.8 L293.5 1550.5 L295.9 1550.2 L298.4 1550.1 L300 1549.9 L300.8 1549.5 L303.3 1548.5 L305.7 1547.7 L307.5 1547 L308.2 1550.1 L310.5 1560.7 L310.6 1561.2 L311 1563 L313.1 1562.7 L315.5 1562.2 L317.9 1561.7 L320.4 1561.1 L322.8 1560.6 L325.3 1559.7 L327.7 1559.2 L330.1 1559.1 L332.6 1558.7 L335 1558.2 L337.5 1557.6 L339.9 1557.3 L340 1557.3 L342.4 1557.1 L344.8 1556.7 L347.3 1556.3 L349.7 1556 L352.1 1555.6 L354.6 1555.3 L357 1554.8 L359.5 1554.5 L361.9 1554.2 L364.4 1553.7 L365 1553.5 L366.8 1553.3 L369.2 1553.1 L371.7 1552.8 L374.1 1552.6 L376.6 1552.2 L379 1552 L381.5 1551.9 L383.9 1551.7 L386.3 1551.5 L388.8 1551.1 L391.2 1550.8 L393.7 1550.5 L396.1 1550.2 L398.6 1550 L401 1549.7 L403.4 1549.5 L405.9 1549.3 L408.3 1549.2 L410.8 1548.8 L413.2 1548.5 L415.7 1548.2 L418.1 1548 L420 1547.8 L420.6 1547.7 L423 1547.7 L425.4 1547.3 L427.9 1546.4 L430.3 1545.9 L432.8 1545.5 L435.2 1545.3 L437.6 1545 L440.1 1544.7 L442.5 1544.5 L445 1544.5 L447 1544.5 L447.4 1544.5 L449.9 1544 L452.3 1543.2 L454.8 1542.9 L457.2 1542.3 L459.6 1541.4 L462.1 1540.9 L464.5 1540 L467 1539 L467 1539 L469.4 1538.7 L471.9 1538.4 L474 1538 L474.3 1539.3 L474.5 1540.2 L476.7 1550.1 L479 1560 L479.2 1559.9 L481.6 1558.7 L484.1 1557.2 L486.5 1556.1 L488.9 1555.1 L491.4 1554.6 L493.8 1553.6 L496.3 1552.5 L498.7 1551.4 L500 1551.1 L501.2 1550.9 L503 1550.5 L503.6 1550.3 L506.1 1549.7 L508.5 1548.1 L510.9 1546.5 L512 1546.3 L513.4 1546.1 L515.8 1545.4 L518.3 1544.6 L520 1543.5 L520.7 1542.3 L522 1540.5 L523.1 1539.3 L525 1537.5 L525.6 1537.1 L527 1536.5 L528 1536.5 L530.5 1535.8 L532.9 1535.1 L535.4 1534.4 L537.8 1533.7 L540 1533 L540.2 1532.9 L542.7 1532.1 L545 1531.5 L545.1 1531.5 L547.6 1530.4 L550 1528.7 L552 1526.6 L552.5 1526.1 L554.9 1523.7 L555 1523.6 L557.4 1522 L559.8 1521.3 L560 1521.3 L562.2 1520.6 L564.7 1519.8 L565 1519.7 L567.1 1519 L569.6 1518.4 L572 1518.6 L574.5 1518.3 L575 1518.1 L576.9 1517.5 L579.3 1516.4 L580 1516.2 L581.8 1515.2 L584.2 1513.1 L586.7 1512.2 L588 1511.7 L589.1 1511.3 L590 1510.8 L591.6 1510 L594 1508.9 L595.5 1508.2 L596 1508 L596.4 1509.9 L598.9 1520.4 L601.3 1531 L603.8 1541.5 L606.2 1552 L608.5 1561.8 L608.7 1562.5 L609 1564 L611.1 1562.3 L612.7 1561 L613 1560.7 L613.5 1560.2 L616 1557.9 L618.4 1558.1 L620.9 1557.6 L623.3 1554.6 L625.8 1551.9 L628 1549.7 L628.2 1549.7 L630.6 1548.7 L631 1548.6 L633.1 1548 L635.5 1547.5 L638 1546.8 L640.4 1546.1 L642.9 1545.5 L645.3 1544.9 L647.8 1544.2 L650 1543.8 L650.2 1543.7 L652.6 1542.2 L655.1 1540.1 L657.5 1538.6 L660 1537.8 L662.4 1537.4 L664.9 1537.1 L665 1537.1 L667.3 1536.3 L669.7 1534.2 L672.2 1532.3 L674.6 1530.7 L677.1 1530.1 L679.5 1529.6 L681 1529.3 L682 1529 L684.4 1528.4 L686.8 1527.8 L689.3 1526.9 L691.7 1526.1 L694.2 1525.5 L696.6 1525.2 L697 1525.2 L699 1524.9 L700 1524.5 L701.5 1524 L703.9 1523.2 L706.4 1522.4 L708 1522 L708.8 1521.8 L711.3 1521.2 L713 1520.7 L713.7 1520.4 L716.1 1519.5 L717 1519.2 L718.6 1518.5 L721 1517.5 L723.5 1517 L725 1516.7 L725.9 1516.5 L728.4 1516 L730.8 1515.4 L733.2 1514.8 L735 1514.7 L735.7 1514.8 L737 1514.8 L738.1 1514.5 L740.6 1513.2 L743 1512.4 L745.5 1511.8 L747.5 1511.3 L747.9 1514.4 L750.4 1532.8 L752.7 1550.4 L752.8 1551.1 L753 1552.7 L755.2 1551.5 L757.7 1550.3 L760.1 1548.4 L762.6 1546.7 L765 1545.2 L765 1545.1 L767.5 1544 L769.9 1543 L772.3 1541.8 L774.8 1541.4 L775 1541.4 L777.2 1541.1 L779.7 1540.8 L780 1540.7 L782.1 1540.1 L784.5 1539.4 L785 1539.3 L787 1539 L789.4 1538.8 L791.9 1538.7 L794.3 1538.2 L796.8 1537.3 L799.2 1536.3 L800 1536 L801.6 1535.8 L804.1 1535.6 L806.5 1535.7 L809 1535.5 L811.4 1534.9 L813.9 1534.6 L816 1534.4 L816.3 1534.3 L818.8 1533.5 L821.2 1532.8 L823.6 1532 L825 1531.3 L826.1 1530.8 L828.5 1529.9 L830 1529.3 L831 1529.1 L833.4 1528.6 L835.9 1528.1 L838.3 1527.5 L840 1527.1 L840.7 1527 L843.2 1526.6 L845 1526 L845.6 1525.7 L848 1525.1 L848.1 1525.1 L850 1524.8 L850.5 1524.7 L853 1524.2 L855.4 1523.6 L857.8 1522.6 L860 1521.8 L860.3 1521.7 L862 1520.9 L862.7 1520.7 L865 1520 L865.2 1519.9 L867.6 1518.9 L870 1517.9 L870.1 1517.8 L872.5 1516.7 L874 1516.1 L874.9 1515.9 L877.4 1515.9 L879.8 1515.3 L880 1515.2 L882.3 1514.4 L884.7 1513.3 L886.5 1512.7 L887.2 1517.6 L889.6 1535.5 L891.5 1549.5 L892 1549.1 L894.5 1547.3 L896.9 1545.6 L899.4 1543.8 L900 1543.3 L901.8 1541.7 L903 1540.8 L904.3 1540.2 L906.7 1539.3 L909.1 1538.5 L910 1538.1 L911.6 1537 L914 1535.2 L916.5 1533.5 L918.9 1531.9 L920 1531.8 L921.4 1531.6 L923.8 1531.3 L926.2 1530.3 L928 1529.1 L928.7 1528.5 L931.1 1525.5 L933 1522.9 L933.6 1522.5 L935 1522.3 L936 1522.2 L938.5 1519.8 L940 1517.9 L940.9 1517.3 L942 1516.6 L943.4 1516 L945.8 1514.9 L948 1514.7 L948.2 1514.7 L950.7 1514 L953.1 1513.1 L955 1513 L955.6 1513 L958 1512 L960.5 1510.8 L962 1509.9 L962.9 1509.3 L965.3 1507.9 L967.8 1506.8 L970 1505.1 L970.2 1504.9 L972.7 1503.4 L975 1503.1 L975.1 1503.1 L977.5 1502.4 L980 1501.7 L980 1501.7 L982.4 1501 L984.9 1500.5 L987 1499.7 L987.3 1499.6 L989.8 1499.1 L990 1499 L992.2 1498.4 L994.6 1497.4 L995 1497.3 L997.1 1496.6 L999.5 1495.8 L1000 1495.6 L1002 1494.6 L1004.4 1493.2 L1006.9 1491.9 L1008 1491.3 L1009.3 1490.8 L1010 1490.5 L1011.8 1489.6 L1014.2 1488.7 L1016.6 1487.3 L1017 1487 L1019.1 1486 L1020 1485.9 L1021.5 1486 L1024 1485.9 L1026.4 1485.1 L1028.8 1482.9 L1030 1481.6 L1031.3 1480.8 L1033.7 1479.6 L1035 1479.1 L1036.2 1478.9 L1038.6 1478.6 L1040 1478.2 L1041.1 1477.9 L1043.5 1477.3 L1046 1476.8 L1048.4 1476.2 L1050.8 1475.6 L1051 1475.6 L1053.3 1498.4 L1055.7 1522.9 L1058 1545.6 L1058.2 1545.4 L1060.6 1542.8 L1061 1542.4 L1063.1 1540.3 L1064 1539.6 L1065.5 1538.9 L1067.9 1537.1 L1068 1537 L1070.4 1534.9 L1072.8 1534.1 L1075.3 1533.6 L1077.7 1533.5 L1078 1533.4 L1080 1532.3 L1080.2 1532.2 L1082.6 1531.1 L1085 1530.7 L1087.5 1530.2 L1089.9 1530 L1090 1530 L1092.4 1529.8 L1094.8 1529.7 L1097 1529.5 L1097.3 1529.5 L1099.7 1528.4 L1102.1 1526.8 L1103 1526.5 L1104.6 1525.9 L1107 1524.5 L1108 1524 L1109.5 1523.6 L1110 1523.5 L1111.9 1523.1 L1114 1522.8 L1114.4 1522.8 L1116.8 1522.3 L1119.2 1521.5 L1120 1521.2 L1121.7 1520 L1122 1519.8 L1124.1 1518.7 L1125 1518.2 L1126.6 1517.1 L1129 1515.8 L1130 1515.6 L1131.5 1515.3 L1133.9 1514 L1135 1513.1 L1136.3 1512.3 L1138.8 1511.4 L1140 1511 L1141.2 1510.6 L1143.7 1509.8 L1145 1509.2 L1146.1 1508.8 L1148.6 1508.7 L1151 1508.6 L1153.5 1508.5 L1155.9 1508.4 L1158.3 1508.3 L1158.5 1508.3" fill="none" stroke="#FFA826" stroke-width="1.15" stroke-linejoin="round" />
<path d="M122.5 1558.1 L124.9 1557.5 L127.4 1556.8 L129.8 1556.4 L130 1556.4 L132.3 1556.3 L134.7 1556.2 L137 1555.5 L137.2 1555.5 L139.6 1554.8 L142 1554.5 L144.5 1554.3 L146.9 1554.2 L149.4 1554 L151.8 1553.8 L154.3 1553.8 L156.7 1553.6 L159.2 1553.5 L161.6 1553.4 L164 1553.3 L166.5 1553.1 L168.9 1552.9 L171.4 1552.9 L173.8 1552.9 L176.2 1552.8 L178.7 1552.6 L181.1 1552.4 L183.6 1552.3 L186 1552.2 L188.5 1552 L190.9 1551.9 L193.3 1551.8 L195.8 1551.6 L198.2 1551.4 L200.7 1551.2 L203.1 1551.1 L205.6 1551 L208 1551 L210.4 1550.9 L212.9 1550.7 L215.3 1550.5 L217.8 1550.4 L220.2 1550.1 L222.7 1550 L225.1 1549.9 L227.6 1549.8 L230 1549.7 L232.4 1549.6 L234.9 1549.5 L237.3 1549.3 L239.8 1549.1 L242.2 1548.9 L244.7 1548.6 L247.1 1548.6 L249.5 1548.5 L252 1548.3 L254.4 1548.1 L256.9 1547.9 L259.3 1547.8 L261.8 1547.6 L264.2 1547.2 L265 1547.1 L266.6 1547.1 L269.1 1546.7 L271.5 1545.9 L274 1545.5 L276.4 1545 L278.9 1544.2 L281.3 1543.7 L283.7 1543.3 L286.2 1542.8 L288.6 1542.1 L291.1 1541.1 L293.5 1540.6 L295.9 1540 L298.4 1539.8 L300 1539.3 L300.8 1538.3 L303.3 1536 L305.7 1534.2 L307.5 1532.5 L308.2 1537.5 L310.5 1555 L310.6 1555 L311 1554.9 L313.1 1554.6 L315.5 1554.3 L317.9 1553.9 L320.4 1553.4 L322.8 1552.9 L325.3 1552.2 L327.7 1551.9 L330.1 1551.8 L332.6 1551.4 L335 1551 L337.5 1550.5 L339.9 1550.3 L340 1550.3 L342.4 1550.1 L344.8 1549.8 L347.3 1549.5 L349.7 1549.2 L352.1 1548.9 L354.6 1548.6 L357 1548.2 L359.5 1548 L361.9 1547.8 L364.4 1547.3 L365 1547.2 L366.8 1546.9 L369.2 1546.5 L371.7 1545.9 L374.1 1545.2 L376.6 1544.3 L379 1543.8 L381.5 1543.5 L383.9 1543.1 L386.3 1542.5 L388.8 1541.6 L391.2 1541 L393.7 1540.2 L396.1 1539.5 L398.6 1538.8 L401 1538.1 L403.4 1537.8 L405.9 1537.3 L408.3 1536.9 L410.8 1536.1 L413.2 1535.3 L415.7 1534.4 L418.1 1534 L420 1533.6 L420.6 1533.5 L423 1533.5 L425.4 1532.7 L427.9 1531.1 L430.3 1530.1 L432.8 1529.4 L435.2 1529 L437.6 1528.5 L440.1 1528 L442.5 1527.7 L445 1527.6 L447 1527.6 L447.4 1527.6 L449.9 1526.8 L452.3 1524.9 L454.8 1524.4 L457.2 1522.9 L459.6 1521.1 L462.1 1519.9 L464.5 1517.9 L467 1514.9 L467 1514.9 L469.4 1513.8 L471.9 1512.7 L474 1511.1 L474.3 1510.9 L474.5 1510.7 L476.7 1530.3 L479 1550 L479.2 1549.9 L481.6 1547.9 L484.1 1545.3 L486.5 1543.6 L488.9 1542 L491.4 1541.1 L493.8 1539.5 L496.3 1537.6 L498.7 1535.9 L500 1535.4 L501.2 1535 L503 1534 L503.6 1533.5 L506.1 1531.3 L508.5 1526.2 L510.9 1521.1 L512 1520.3 L513.4 1519.9 L515.8 1517.6 L518.3 1515 L520 1512.1 L520.7 1510 L522 1506.8 L523.1 1504.6 L525 1501.4 L525.6 1500.7 L527 1499.6 L528 1499.5 L530.5 1498.2 L532.9 1496.1 L535.4 1494.2 L537.8 1492.2 L540 1490.3 L540.2 1490 L542.7 1487.7 L545 1486.3 L545.1 1486.2 L547.6 1483 L550 1477.5 L552 1470.7 L552.5 1468.9 L554.9 1464.8 L555 1464.7 L557.4 1462.6 L559.8 1461.6 L560 1461.6 L562.2 1460.6 L564.7 1459.4 L565 1459.2 L567.1 1458.2 L569.6 1457.3 L572 1457.5 L574.5 1457.1 L575 1456.9 L576.9 1455.9 L579.3 1454.1 L580 1453.4 L581.8 1451 L584.2 1446.1 L586.7 1443.9 L588 1442.8 L589.1 1441.7 L590 1440.7 L591.6 1438.2 L594 1434.1 L595.5 1431.5 L596 1430.7 L596.4 1434.2 L598.9 1453.6 L601.3 1473.1 L603.8 1492.4 L606.2 1511.8 L608.5 1530 L608.7 1531.3 L609 1534 L611.1 1531.7 L612.7 1529.9 L613 1529.7 L613.5 1529.3 L616 1527.5 L618.4 1527.7 L620.9 1527.2 L623.3 1524.8 L625.8 1522.6 L628 1520.6 L628.2 1520.4 L630.6 1518.8 L631 1518.6 L633.1 1517.9 L635.5 1517.1 L638 1516.2 L640.4 1515.2 L642.9 1514.3 L645.3 1513.5 L647.8 1512.5 L650 1512 L650.2 1511.9 L652.6 1509.7 L655.1 1506.5 L657.5 1504.2 L660 1503 L662.4 1502.4 L664.9 1502 L665 1501.9 L667.3 1500.8 L669.7 1494.6 L672.2 1488.9 L674.6 1484.1 L677.1 1482.1 L679.5 1480.9 L681 1479.8 L682 1479 L684.4 1476.9 L686.8 1474.3 L689.3 1470.2 L691.7 1466.8 L694.2 1464 L696.6 1462.9 L697 1462.9 L699 1461.4 L700 1460.1 L701.5 1458.2 L703.9 1455.6 L706.4 1452.9 L708 1451.6 L708.8 1451 L711.3 1449.1 L713 1447.4 L713.7 1445.6 L716.1 1439.4 L717 1437.3 L718.6 1433 L721 1426.6 L723.5 1424.3 L725 1423.3 L725.9 1422.6 L728.4 1420.8 L730.8 1418.5 L733.2 1416.2 L735 1416.2 L735.7 1416.4 L737 1416.4 L738.1 1415.1 L740.6 1410.9 L743 1408.7 L745.5 1406.8 L747.5 1405.2 L747.9 1414 L750.4 1466.3 L752.7 1516.7 L752.8 1516.6 L753 1516.4 L755.2 1514.8 L757.7 1513.3 L760.1 1510.8 L762.6 1508.6 L765 1506.6 L765 1506.6 L767.5 1504.8 L769.9 1503.1 L772.3 1501.2 L774.8 1500.6 L775 1500.6 L777.2 1500.1 L779.7 1499.5 L780 1499.4 L782.1 1498.8 L784.5 1498.1 L785 1498 L787 1497.5 L789.4 1497.2 L791.9 1497.1 L794.3 1496.2 L796.8 1494.9 L799.2 1493.5 L800 1493.3 L801.6 1493 L804.1 1492.9 L806.5 1492.9 L809 1492.7 L811.4 1492.2 L813.9 1491.9 L816 1491.7 L816.3 1491.6 L818.8 1490.8 L821.2 1490.1 L823.6 1489.3 L825 1488.7 L826.1 1488.2 L828.5 1487 L830 1485.1 L831 1484.2 L833.4 1482.5 L835.9 1480.7 L838.3 1478.3 L840 1476.8 L840.7 1476.4 L843.2 1475 L845 1472.7 L845.6 1471.9 L848 1470.4 L848.1 1470.4 L850 1469.9 L850.5 1469.7 L853 1468.9 L855.4 1467.8 L857.8 1466 L860 1464.6 L860.3 1464.4 L862 1462.9 L862.7 1462.2 L865 1459.9 L865.2 1459.7 L867.6 1456.5 L870 1453.4 L870.1 1453.3 L872.5 1449.9 L874 1447.2 L874.9 1446.2 L877.4 1446.2 L879.8 1443.3 L880 1443.1 L882.3 1439.1 L884.7 1434.2 L886.5 1431.3 L887.2 1442.2 L889.6 1482.3 L891.5 1513.6 L892 1512.7 L894.5 1509.2 L896.9 1505.7 L899.4 1502.3 L900 1501.2 L901.8 1498 L903 1496.2 L904.3 1495.2 L906.7 1493.9 L909.1 1492.8 L910 1492.3 L911.6 1490.8 L914 1488.4 L916.5 1485.8 L918.9 1482.9 L920 1482.8 L921.4 1482.3 L923.8 1481.7 L926.2 1480 L928 1477.8 L928.7 1476.8 L931.1 1471.2 L933 1465.7 L933.6 1464.7 L935 1464.1 L936 1463.9 L938.5 1457.7 L940 1451.5 L940.9 1450.1 L942 1449.3 L943.4 1448.5 L945.8 1447.1 L948 1446.8 L948.2 1446.8 L950.7 1445.9 L953.1 1444.8 L955 1444.6 L955.6 1444.6 L958 1443.3 L960.5 1439.9 L962 1437.2 L962.9 1435.4 L965.3 1431.1 L967.8 1427.7 L970 1422.4 L970.2 1421.8 L972.7 1417.8 L975 1417.2 L975.1 1417.2 L977.5 1415.8 L980 1414.3 L980 1414.3 L982.4 1412.8 L984.9 1411.7 L987 1410 L987.3 1409.8 L989.8 1408.6 L990 1408.4 L992.2 1406.7 L994.6 1404.2 L995 1403.9 L997.1 1402.1 L999.5 1399.9 L1000 1399.4 L1002 1395.6 L1004.4 1389.3 L1006.9 1383.3 L1008 1381.6 L1009.3 1380.3 L1010 1379.6 L1011.8 1377.3 L1014.2 1375.1 L1016.6 1371.6 L1017 1371 L1019.1 1368.7 L1020 1368.5 L1021.5 1368.6 L1024 1368.3 L1026.4 1366.7 L1028.8 1362 L1030 1359.1 L1031.3 1356.3 L1033.7 1352.4 L1035 1351.6 L1036.2 1351.3 L1038.6 1350.7 L1040 1350.1 L1041.1 1349.6 L1043.5 1348.6 L1046 1347.7 L1048.4 1346.7 L1050.8 1345.7 L1051 1345.6 L1053.3 1387.7 L1055.7 1433 L1058 1474.9 L1058.2 1474.6 L1060.6 1470.5 L1061 1469.8 L1063.1 1466.4 L1064 1465.4 L1065.5 1464.2 L1067.9 1461.3 L1068 1461.2 L1070.4 1458 L1072.8 1456.8 L1075.3 1456.1 L1077.7 1456 L1078 1455.8 L1080 1454.3 L1080.2 1454.2 L1082.6 1453 L1085 1452.5 L1087.5 1452.2 L1089.9 1452 L1090 1452 L1092.4 1451.8 L1094.8 1451.7 L1097 1451.5 L1097.3 1451.5 L1099.7 1449.7 L1102.1 1447 L1103 1446.4 L1104.6 1445.3 L1107 1442.9 L1108 1442.1 L1109.5 1441.3 L1110 1441.1 L1111.9 1440.2 L1114 1439.5 L1114.4 1439.4 L1116.8 1438.3 L1119.2 1436.3 L1120 1435.6 L1121.7 1433.3 L1122 1433 L1124.1 1431.2 L1125 1430.3 L1126.6 1428.6 L1129 1426.4 L1130 1426 L1131.5 1425.6 L1133.9 1423.4 L1135 1421.8 L1136.3 1420.3 L1138.8 1418.6 L1140 1417.7 L1141.2 1416.9 L1143.7 1415.3 L1145 1414.3 L1146.1 1413.4 L1148.6 1413.2 L1151 1413 L1153.5 1412.7 L1155.9 1412.3 L1158.3 1412.1 L1158.5 1412.1" fill="none" stroke="#FFA826" stroke-width="1.15" stroke-linejoin="round" />
<path d="M122.5 1558.3 L124.9 1557.8 L127.4 1557.2 L129.8 1556.8 L130 1556.8 L132.3 1556.7 L134.7 1556.7 L137 1556.4 L137.2 1556.3 L139.6 1556 L142 1555.8 L144.5 1555.7 L146.9 1555.6 L149.4 1555.4 L151.8 1555.3 L154.3 1555.3 L156.7 1555.1 L159.2 1555.1 L161.6 1555 L164 1554.9 L166.5 1554.8 L168.9 1554.7 L171.4 1554.6 L173.8 1554.6 L176.2 1554.6 L178.7 1554.5 L181.1 1554.3 L183.6 1554.3 L186 1554.2 L188.5 1554.1 L190.9 1554 L193.3 1553.9 L195.8 1553.7 L198.2 1553.6 L200.7 1553.5 L203.1 1553.4 L205.6 1553.4 L208 1553.3 L210.4 1553.2 L212.9 1553.1 L215.3 1553 L217.8 1552.9 L220.2 1552.7 L222.7 1552.6 L225.1 1552.6 L227.6 1552.5 L230 1552.5 L232.4 1552.4 L234.9 1552.3 L237.3 1552.2 L239.8 1552 L242.2 1551.9 L244.7 1551.7 L247.1 1551.7 L249.5 1551.6 L252 1551.4 L254.4 1551.3 L256.9 1551.2 L259.3 1551.1 L261.8 1551 L264.2 1550.7 L265 1550.6 L266.6 1550.6 L269.1 1550.4 L271.5 1549.8 L274 1549.5 L276.4 1549.1 L278.9 1548.6 L281.3 1548.3 L283.7 1548 L286.2 1547.6 L288.6 1547.1 L291.1 1546.4 L293.5 1546 L295.9 1545.6 L298.4 1545.5 L300 1545.1 L300.8 1544.5 L303.3 1543 L305.7 1541.8 L307.5 1540.7 L308.2 1544.6 L310.5 1558.4 L310.6 1558.5 L311 1559.2 L313.1 1558.9 L315.5 1558.5 L317.9 1558 L320.4 1557.4 L322.8 1557 L325.3 1556.2 L327.7 1555.8 L330.1 1555.7 L332.6 1555.3 L335 1554.9 L337.5 1554.3 L339.9 1554.1 L340 1554.1 L342.4 1553.9 L344.8 1553.6 L347.3 1553.3 L349.7 1553 L352.1 1552.7 L354.6 1552.4 L357 1552 L359.5 1551.8 L361.9 1551.5 L364.4 1551.1 L365 1551 L366.8 1550.7 L369.2 1550.5 L371.7 1550.1 L374.1 1549.7 L376.6 1549.1 L379 1548.9 L381.5 1548.7 L383.9 1548.4 L386.3 1548.1 L388.8 1547.6 L391.2 1547.2 L393.7 1546.7 L396.1 1546.3 L398.6 1545.9 L401 1545.4 L403.4 1545.2 L405.9 1545 L408.3 1544.7 L410.8 1544.2 L413.2 1543.7 L415.7 1543.2 L418.1 1542.9 L420 1542.6 L420.6 1542.5 L423 1542.4 L425.4 1541.6 L427.9 1540.1 L430.3 1539.1 L432.8 1538.4 L435.2 1538 L437.6 1537.5 L440.1 1537 L442.5 1536.6 L445 1536.5 L447 1536.5 L447.4 1536.5 L449.9 1535.7 L452.3 1534.8 L454.8 1534.5 L457.2 1533.8 L459.6 1532.9 L462.1 1532.3 L464.5 1531.4 L467 1529.5 L467 1529.5 L469.4 1528.7 L471.9 1528 L474 1526.9 L474.3 1527.2 L474.5 1527.5 L476.7 1541.3 L479 1555.3 L479.2 1555.2 L481.6 1553.9 L484.1 1552.3 L486.5 1551.3 L488.9 1550.3 L491.4 1549.7 L493.8 1548.7 L496.3 1547.5 L498.7 1546.4 L500 1546.1 L501.2 1545.9 L503 1544.6 L503.6 1544 L506.1 1541 L508.5 1539.3 L510.9 1537.5 L512 1537.3 L513.4 1537.1 L515.8 1536.3 L518.3 1535.4 L520 1533.7 L520.7 1531.5 L522 1527.9 L523.1 1525.4 L525 1522.9 L525.6 1522.6 L527 1522.3 L528 1522.2 L530.5 1521.6 L532.9 1520.5 L535.4 1519.5 L537.8 1518.4 L540 1517.3 L540.2 1517.2 L542.7 1515.9 L545 1515.1 L545.1 1515.1 L547.6 1513.2 L550 1509.4 L552 1504.6 L552.5 1503.4 L554.9 1500.3 L555 1500.2 L557.4 1498.6 L559.8 1497.8 L560 1497.8 L562.2 1497.1 L564.7 1496.2 L565 1496.1 L567.1 1495.3 L569.6 1494.7 L572 1494.8 L574.5 1494.5 L575 1494.4 L576.9 1493.6 L579.3 1492.4 L580 1491.9 L581.8 1490.5 L584.2 1487.5 L586.7 1486.1 L588 1485.5 L589.1 1484.8 L590 1484.2 L591.6 1482.5 L594 1479.6 L595.5 1477.8 L596 1477.3 L596.4 1479.8 L598.9 1494 L601.3 1508.2 L603.8 1522.3 L606.2 1536.5 L608.5 1549.8 L608.7 1550.7 L609 1552.7 L611.1 1549.2 L612.7 1546.5 L613 1546.3 L613.5 1546.1 L616 1544.9 L618.4 1545 L620.9 1544.7 L623.3 1543.2 L625.8 1541.7 L628 1539.5 L628.2 1539.1 L630.6 1535.9 L631 1535.8 L633.1 1535.3 L635.5 1534.8 L638 1534.3 L640.4 1533.6 L642.9 1533.1 L645.3 1532.5 L647.8 1531.9 L650 1531.6 L650.2 1531.5 L652.6 1530.1 L655.1 1527.9 L657.5 1526.3 L660 1525.5 L662.4 1525.1 L664.9 1524.8 L665 1524.8 L667.3 1524 L669.7 1520 L672.2 1516.3 L674.6 1513.3 L677.1 1512 L679.5 1511.2 L681 1510.5 L682 1510 L684.4 1509 L686.8 1508 L689.3 1506.5 L691.7 1505.2 L694.2 1504.2 L696.6 1503.8 L697 1503.7 L699 1503.2 L700 1502.7 L701.5 1501.8 L703.9 1500.5 L706.4 1499.1 L708 1498.5 L708.8 1498.2 L711.3 1497.2 L713 1496.4 L713.7 1495.4 L716.1 1491.8 L717 1490.6 L718.6 1488.2 L721 1484.6 L723.5 1482.8 L725 1481.9 L725.9 1481.3 L728.4 1479.7 L730.8 1477.8 L733.2 1475.8 L735 1475.8 L735.7 1476 L737 1476 L738.1 1475 L740.6 1472 L743 1470.3 L745.5 1468.9 L747.5 1467.6 L747.9 1473.1 L750.4 1505.5 L752.7 1536.7 L752.8 1537 L753 1537.5 L755.2 1536.3 L757.7 1535.3 L760.1 1533.5 L762.6 1531.9 L765 1530.5 L765 1530.5 L767.5 1529.5 L769.9 1528.5 L772.3 1527.2 L774.8 1526.2 L775 1526.2 L777.2 1525.4 L779.7 1524.5 L780 1524.4 L782.1 1523.7 L784.5 1523 L785 1522.9 L787 1522.4 L789.4 1522.2 L791.9 1522.1 L794.3 1521.3 L796.8 1520.2 L799.2 1518.9 L800 1518.6 L801.6 1518.3 L804.1 1518.2 L806.5 1518.2 L809 1518 L811.4 1517.3 L813.9 1517 L816 1516.8 L816.3 1516.7 L818.8 1515.6 L821.2 1514.4 L823.6 1513.1 L825 1512 L826.1 1511.5 L828.5 1510.6 L830 1510.1 L831 1509.9 L833.4 1509.4 L835.9 1509 L838.3 1508.4 L840 1508 L840.7 1507.8 L843.2 1506.9 L845 1505.6 L845.6 1505.1 L848 1503.7 L848.1 1503.7 L850 1503.1 L850.5 1502.9 L853 1502.3 L855.4 1501.5 L857.8 1500.3 L860 1499.4 L860.3 1499.2 L862 1498.4 L862.7 1498.1 L865 1497.2 L865.2 1497.1 L867.6 1495.3 L870 1493.1 L870.1 1493 L872.5 1490.6 L874 1489.6 L874.9 1489.2 L877.4 1489.2 L879.8 1488.1 L880 1488 L882.3 1486.5 L884.7 1484.7 L886.5 1483.6 L887.2 1490.2 L889.6 1514.5 L891.5 1533.4 L892 1531.6 L894.5 1529.3 L896.9 1527 L899.4 1524.8 L900 1524.1 L901.8 1522 L903 1520.8 L904.3 1519.9 L906.7 1518.1 L909.1 1516.5 L910 1515.8 L911.6 1514.6 L914 1513.2 L916.5 1511.7 L918.9 1509.9 L920 1509.8 L921.4 1509.5 L923.8 1509.2 L926.2 1508.2 L928 1506.8 L928.7 1506.2 L931.1 1502.8 L933 1499.5 L933.6 1499 L935 1498.7 L936 1498.5 L938.5 1495.1 L940 1491.8 L940.9 1490.9 L942 1490.4 L943.4 1489.8 L945.8 1488.8 L948 1488.6 L948.2 1488.6 L950.7 1488 L953.1 1487.2 L955 1487.1 L955.6 1487.1 L958 1486.2 L960.5 1483.8 L962 1481.9 L962.9 1480.7 L965.3 1477.9 L967.8 1476.1 L970 1473.3 L970.2 1472.9 L972.7 1470.6 L975 1470.3 L975.1 1470.3 L977.5 1469.4 L980 1468.4 L980 1468.4 L982.4 1467.5 L984.9 1466.8 L987 1465.7 L987.3 1465.6 L989.8 1465.1 L990 1465 L992.2 1464.4 L994.6 1463.5 L995 1463.4 L997.1 1462.5 L999.5 1460.7 L1000 1460.3 L1002 1458.1 L1004.4 1455.2 L1006.9 1453 L1008 1452.4 L1009.3 1452 L1010 1451.7 L1011.8 1450.9 L1014.2 1450.1 L1016.6 1448.6 L1017 1448.4 L1019.1 1447.3 L1020 1447.2 L1021.5 1447.2 L1024 1447.1 L1026.4 1446.3 L1028.8 1443.9 L1030 1442.4 L1031.3 1440.5 L1033.7 1437.1 L1035 1435.9 L1036.2 1435.3 L1038.6 1434.6 L1040 1434.1 L1041.1 1433.6 L1043.5 1432.8 L1046 1432 L1048.4 1431.2 L1050.8 1430.4 L1051 1430.3 L1053.3 1458.4 L1055.7 1488.5 L1058 1516.5 L1058.2 1527.5 L1060.6 1525.2 L1061 1524.8 L1063.1 1522.5 L1064 1521.8 L1065.5 1520.9 L1067.9 1518.9 L1068 1518.9 L1070.4 1516.6 L1072.8 1515.8 L1075.3 1515.3 L1077.7 1515.1 L1078 1515.1 L1080 1513.9 L1080.2 1513.8 L1082.6 1512.9 L1085 1512.5 L1087.5 1512.1 L1089.9 1511.9 L1090 1511.9 L1092.4 1511.7 L1094.8 1511.6 L1097 1511.5 L1097.3 1511.5 L1099.7 1510.3 L1102.1 1508.7 L1103 1508.3 L1104.6 1507.6 L1107 1506.2 L1108 1505.7 L1109.5 1505.3 L1110 1505.2 L1111.9 1504.8 L1114 1504.5 L1114.4 1504.4 L1116.8 1503.9 L1119.2 1503 L1120 1502.7 L1121.7 1501.5 L1122 1501.3 L1124.1 1500.2 L1125 1499.7 L1126.6 1498.7 L1129 1497.4 L1130 1497.2 L1131.5 1497 L1133.9 1495.7 L1135 1494.7 L1136.3 1493.9 L1138.8 1493 L1140 1492.5 L1141.2 1492 L1143.7 1491.2 L1145 1490.5 L1146.1 1490.1 L1148.6 1489.9 L1151 1489.8 L1153.5 1489.6 L1155.9 1489.4 L1158.3 1489.2 L1158.5 1489.2" fill="none" stroke="#FFA826" stroke-width="1.15" stroke-linejoin="round" />
<path d="M122.5 1558.2 L124.9 1557.5 L127.4 1556.7 L129.8 1556.3 L130 1556.3 L132.3 1556.2 L134.7 1556.1 L137 1555.7 L137.2 1555.7 L139.6 1555.2 L142 1555 L144.5 1554.8 L146.9 1554.7 L149.4 1554.5 L151.8 1554.4 L154.3 1554.3 L156.7 1554.1 L159.2 1554 L161.6 1554 L164 1553.8 L166.5 1553.7 L168.9 1553.5 L171.4 1553.5 L173.8 1553.5 L176.2 1553.4 L178.7 1553.3 L181.1 1553.1 L183.6 1553 L186 1552.9 L188.5 1552.7 L190.9 1552.6 L193.3 1552.5 L195.8 1552.3 L198.2 1552.2 L200.7 1552 L203.1 1551.9 L205.6 1551.8 L208 1551.8 L210.4 1551.7 L212.9 1551.6 L215.3 1551.4 L217.8 1551.2 L220.2 1551 L222.7 1550.9 L225.1 1550.8 L227.6 1550.8 L230 1550.7 L232.4 1550.6 L234.9 1550.4 L237.3 1550.3 L239.8 1550.1 L242.2 1549.9 L244.7 1549.7 L247.1 1549.6 L249.5 1549.5 L252 1549.4 L254.4 1549.2 L256.9 1549.1 L259.3 1548.9 L261.8 1548.7 L264.2 1548.4 L265 1548.3 L266.6 1548.3 L269.1 1548 L271.5 1547.2 L274 1546.9 L276.4 1546.4 L278.9 1545.7 L281.3 1545.3 L283.7 1544.9 L286.2 1544.5 L288.6 1543.9 L291.1 1543 L293.5 1542.5 L295.9 1542 L298.4 1541.8 L300 1541.3 L300.8 1540.5 L303.3 1538.5 L305.7 1537 L307.5 1535.5 L308.2 1540.2 L310.5 1556.3 L310.6 1556.3 L311 1556.3 L313.1 1556 L315.5 1555.6 L317.9 1555.2 L320.4 1554.7 L322.8 1554.2 L325.3 1553.5 L327.7 1553.1 L330.1 1553 L332.6 1552.7 L335 1552.3 L337.5 1551.8 L339.9 1551.6 L340 1551.5 L342.4 1551.4 L344.8 1551.1 L347.3 1550.8 L349.7 1550.6 L352.1 1550.3 L354.6 1550 L357 1549.7 L359.5 1549.5 L361.9 1549.2 L364.4 1548.8 L365 1548.7 L366.8 1548.5 L369.2 1548.1 L371.7 1547.6 L374.1 1547.1 L376.6 1546.3 L379 1546 L381.5 1545.7 L383.9 1545.3 L386.3 1544.9 L388.8 1544.2 L391.2 1543.7 L393.7 1543.1 L396.1 1542.5 L398.6 1541.9 L401 1541.3 L403.4 1541.1 L405.9 1540.7 L408.3 1540.4 L410.8 1539.7 L413.2 1539.1 L415.7 1538.4 L418.1 1538 L420 1537.6 L420.6 1537.5 L423 1537.4 L425.4 1536.5 L427.9 1534.6 L430.3 1533.5 L432.8 1532.6 L435.2 1532.1 L437.6 1531.5 L440.1 1531 L442.5 1530.5 L445 1530.5 L447 1530.4 L447.4 1530.4 L449.9 1529.5 L452.3 1528.2 L454.8 1527.9 L457.2 1526.9 L459.6 1525.7 L462.1 1524.9 L464.5 1523.5 L467 1521 L467 1521 L469.4 1519.9 L471.9 1518.8 L474 1517.3 L474.3 1517.1 L474.5 1516.9 L476.7 1534.2 L479 1551.7 L479.2 1551.3 L481.6 1549.7 L484.1 1547.7 L486.5 1546.3 L488.9 1545 L491.4 1544.3 L493.8 1543 L496.3 1541.5 L498.7 1540.1 L500 1539.7 L501.2 1539.5 L503 1538 L503.6 1537.3 L506.1 1533.9 L508.5 1530.6 L510.9 1527.3 L512 1526.8 L513.4 1526.6 L515.8 1525.1 L518.3 1523.4 L520 1521 L520.7 1518.5 L522 1514.4 L523.1 1511.6 L525 1508.7 L525.6 1508.2 L527 1507.6 L528 1507.5 L530.5 1506.6 L532.9 1504.9 L535.4 1503.4 L537.8 1501.8 L540 1500.3 L540.2 1500.1 L542.7 1498.2 L545 1497 L545.1 1497 L547.6 1494.2 L550 1489 L552 1482.5 L552.5 1480.8 L554.9 1477 L555 1476.9 L557.4 1475.1 L559.8 1474.2 L560 1474.1 L562.2 1473.3 L564.7 1472.3 L565 1472.1 L567.1 1471.2 L569.6 1470.4 L572 1470.6 L574.5 1470.2 L575 1470 L576.9 1469.2 L579.3 1467.6 L580 1467 L581.8 1465 L584.2 1460.9 L586.7 1459 L588 1458.1 L589.1 1457.2 L590 1456.3 L591.6 1453.9 L594 1450 L595.5 1447.4 L596 1446.7 L596.4 1449.8 L598.9 1467.5 L601.3 1485.2 L603.8 1502.9 L606.2 1520.5 L608.5 1537.1 L608.7 1538.3 L609 1540.7 L611.1 1538.3 L612.7 1535.4 L613 1535.3 L613.5 1535.1 L616 1534.1 L618.4 1534.2 L620.9 1534 L623.3 1532.7 L625.8 1531.5 L628 1529.3 L628.2 1528.9 L630.6 1525.3 L631 1525.2 L633.1 1524.7 L635.5 1524.1 L638 1523.5 L640.4 1522.8 L642.9 1522.1 L645.3 1521.5 L647.8 1520.8 L650 1520.4 L650.2 1520.4 L652.6 1518.7 L655.1 1516.2 L657.5 1514.4 L660 1513.4 L662.4 1512.9 L664.9 1512.6 L665 1512.6 L667.3 1511.7 L669.7 1506.2 L672.2 1501.2 L674.6 1497 L677.1 1495.2 L679.5 1494.1 L681 1493.1 L682 1492.4 L684.4 1490.9 L686.8 1489.2 L689.3 1486.7 L691.7 1484.5 L694.2 1482.8 L696.6 1482.1 L697 1482.1 L699 1481.2 L700 1480.3 L701.5 1479 L703.9 1477 L706.4 1475 L708 1474.1 L708.8 1473.6 L711.3 1472.2 L713 1471 L713.7 1469.4 L716.1 1464 L717 1462.2 L718.6 1458.4 L721 1452.8 L723.5 1450.4 L725 1449.3 L725.9 1448.4 L728.4 1446.4 L730.8 1443.8 L733.2 1441.2 L735 1441.1 L735.7 1441.4 L737 1441.4 L738.1 1440.1 L740.6 1436.1 L743 1433.8 L745.5 1431.9 L747.5 1430.2 L747.9 1437.7 L750.4 1482.1 L752.7 1524.9 L752.8 1524.8 L753 1524.7 L755.2 1523.4 L757.7 1522.2 L760.1 1520.2 L762.6 1518.5 L765 1517 L765 1517 L767.5 1515.8 L769.9 1514.6 L772.3 1513.1 L774.8 1511.9 L775 1511.9 L777.2 1511 L779.7 1510 L780 1509.9 L782.1 1509.1 L784.5 1508.4 L785 1508.3 L787 1507.9 L789.4 1507.6 L791.9 1507.4 L794.3 1506.5 L796.8 1505.3 L799.2 1503.8 L800 1503.5 L801.6 1503.3 L804.1 1503.1 L806.5 1503.1 L809 1502.9 L811.4 1502.3 L813.9 1502 L816 1501.7 L816.3 1501.6 L818.8 1500.5 L821.2 1499.3 L823.6 1497.9 L825 1496.8 L826.1 1496.3 L828.5 1495.4 L830 1494.4 L831 1494 L833.4 1493.2 L835.9 1492.3 L838.3 1491.1 L840 1490.3 L840.7 1490.1 L843.2 1488.9 L845 1487 L845.6 1486.2 L848 1484.5 L848.1 1484.5 L850 1483.8 L850.5 1483.6 L853 1482.8 L855.4 1481.9 L857.8 1480.4 L860 1479.3 L860.3 1479.1 L862 1478 L862.7 1477.6 L865 1476.2 L865.2 1476.1 L867.6 1473.4 L870 1470.5 L870.1 1470.4 L872.5 1467.1 L874 1465.4 L874.9 1464.8 L877.4 1464.8 L879.8 1462.9 L880 1462.8 L882.3 1460.2 L884.7 1457.1 L886.5 1455.2 L887.2 1463.9 L889.6 1495.8 L891.5 1520.7 L892 1520.2 L894.5 1517.3 L896.9 1514.5 L899.4 1511.8 L900 1510.9 L901.8 1508.3 L903 1506.9 L904.3 1505.8 L906.7 1503.8 L909.1 1502.2 L910 1501.4 L911.6 1500 L914 1498.5 L916.5 1496.7 L918.9 1494.6 L920 1494.5 L921.4 1494.1 L923.8 1493.7 L926.2 1492.4 L928 1490.7 L928.7 1490 L931.1 1485.9 L933 1481.7 L933.6 1481 L935 1480.5 L936 1480.4 L938.5 1475.7 L940 1471.1 L940.9 1470 L942 1469.4 L943.4 1468.8 L945.8 1467.7 L948 1467.5 L948.2 1467.5 L950.7 1466.8 L953.1 1465.9 L955 1465.8 L955.6 1465.8 L958 1464.8 L960.5 1461.8 L962 1459.3 L962.9 1457.6 L965.3 1454 L967.8 1451.4 L970 1447.5 L970.2 1447.1 L972.7 1444 L975 1443.6 L975.1 1443.5 L977.5 1442.4 L980 1441.2 L980 1441.2 L982.4 1440 L984.9 1439.2 L987 1437.8 L987.3 1437.7 L989.8 1436.9 L990 1436.8 L992.2 1435.9 L994.6 1434.5 L995 1434.3 L997.1 1433.1 L999.5 1430.9 L1000 1430.4 L1002 1427.3 L1004.4 1422.9 L1006.9 1419.2 L1008 1418.4 L1009.3 1417.7 L1010 1417.3 L1011.8 1416.1 L1014.2 1414.9 L1016.6 1412.8 L1017 1412.4 L1019.1 1410.9 L1020 1410.8 L1021.5 1410.9 L1024 1410.7 L1026.4 1409.6 L1028.8 1406.4 L1030 1404.5 L1031.3 1401.9 L1033.7 1397.7 L1035 1396.3 L1036.2 1395.8 L1038.6 1395 L1040 1394.4 L1041.1 1393.8 L1043.5 1392.9 L1046 1392 L1048.4 1391.1 L1050.8 1390.1 L1051 1390 L1053.3 1424 L1055.7 1460.6 L1058 1494.4 L1058.2 1492.6 L1060.6 1489.9 L1061 1489.5 L1063.1 1486.6 L1064 1485.7 L1065.5 1484.7 L1067.9 1482.2 L1068 1482.1 L1070.4 1479.3 L1072.8 1478.4 L1075.3 1477.8 L1077.7 1477.7 L1078 1477.6 L1080 1476.3 L1080.2 1476.2 L1082.6 1475.2 L1085 1474.8 L1087.5 1474.5 L1089.9 1474.3 L1090 1474.3 L1092.4 1474.2 L1094.8 1474.1 L1097 1474 L1097.3 1473.9 L1099.7 1472.5 L1102.1 1470.4 L1103 1469.9 L1104.6 1469.1 L1107 1467.3 L1108 1466.6 L1109.5 1466.1 L1110 1465.9 L1111.9 1465.3 L1114 1464.8 L1114.4 1464.7 L1116.8 1464 L1119.2 1462.7 L1120 1462.2 L1121.7 1460.6 L1122 1460.4 L1124.1 1459 L1125 1458.4 L1126.6 1457.2 L1129 1455.6 L1130 1455.3 L1131.5 1455.1 L1133.9 1453.4 L1135 1452.3 L1136.3 1451.1 L1138.8 1449.8 L1140 1449.2 L1141.2 1448.6 L1143.7 1447.4 L1145 1446.6 L1146.1 1445.9 L1148.6 1445.7 L1151 1445.5 L1153.5 1445.2 L1155.9 1444.9 L1158.3 1444.6 L1158.5 1444.6" fill="none" stroke="#FFA826" stroke-width="1.15" stroke-linejoin="round" />
<path d="M122.5 1558.3 L124.9 1557.6 L127.4 1556.9 L129.8 1556.5 L130 1556.5 L132.3 1556.5 L134.7 1556.4 L137 1556.1 L137.2 1556.1 L139.6 1555.7 L142 1555.5 L144.5 1555.4 L146.9 1555.3 L149.4 1555.1 L151.8 1555 L154.3 1554.9 L156.7 1554.8 L159.2 1554.7 L161.6 1554.7 L164 1554.5 L166.5 1554.4 L168.9 1554.3 L171.4 1554.2 L173.8 1554.2 L176.2 1554.1 L178.7 1554 L181.1 1553.9 L183.6 1553.8 L186 1553.7 L188.5 1553.6 L190.9 1553.5 L193.3 1553.4 L195.8 1553.2 L198.2 1553.1 L200.7 1553 L203.1 1552.9 L205.6 1552.8 L208 1552.8 L210.4 1552.7 L212.9 1552.6 L215.3 1552.4 L217.8 1552.3 L220.2 1552.1 L222.7 1552 L225.1 1551.9 L227.6 1551.9 L230 1551.8 L232.4 1551.7 L234.9 1551.6 L237.3 1551.5 L239.8 1551.3 L242.2 1551.1 L244.7 1551 L247.1 1550.9 L249.5 1550.8 L252 1550.7 L254.4 1550.6 L256.9 1550.4 L259.3 1550.3 L261.8 1550.1 L264.2 1549.8 L265 1549.8 L266.6 1549.8 L269.1 1549.5 L271.5 1548.8 L274 1548.5 L276.4 1548.1 L278.9 1547.5 L281.3 1547.2 L283.7 1546.9 L286.2 1546.5 L288.6 1545.9 L291.1 1545.2 L293.5 1544.7 L295.9 1544.3 L298.4 1544.1 L300 1543.7 L300.8 1543 L303.3 1541.4 L305.7 1540.1 L307.5 1538.8 L308.2 1543.1 L310.5 1557.7 L310.6 1557.8 L311 1558 L313.1 1557.7 L315.5 1557.4 L317.9 1556.9 L320.4 1556.4 L322.8 1555.9 L325.3 1555.2 L327.7 1554.8 L330.1 1554.7 L332.6 1554.3 L335 1553.9 L337.5 1553.4 L339.9 1553.1 L340 1553.1 L342.4 1552.9 L344.8 1552.6 L347.3 1552.4 L349.7 1552.1 L352.1 1551.8 L354.6 1551.6 L357 1551.2 L359.5 1551 L361.9 1550.7 L364.4 1550.3 L365 1550.2 L366.8 1550 L369.2 1549.7 L371.7 1549.3 L374.1 1548.9 L376.6 1548.3 L379 1547.9 L381.5 1547.8 L383.9 1547.4 L386.3 1547.1 L388.8 1546.5 L391.2 1546.1 L393.7 1545.6 L396.1 1545.1 L398.6 1544.7 L401 1544.2 L403.4 1544 L405.9 1543.7 L408.3 1543.4 L410.8 1542.8 L413.2 1542.3 L415.7 1541.8 L418.1 1541.5 L420 1541 L420.6 1540.9 L423 1540.9 L425.4 1540 L427.9 1538.2 L430.3 1537.1 L432.8 1536.3 L435.2 1535.8 L437.6 1535.2 L440.1 1534.7 L442.5 1534.3 L445 1534.2 L447 1534.2 L447.4 1534.1 L449.9 1533.2 L452.3 1532.3 L454.8 1532 L457.2 1531.3 L459.6 1530.4 L462.1 1529.8 L464.5 1528.9 L467 1526.8 L467 1526.7 L469.4 1525.8 L471.9 1524.9 L474 1523.7 L474.3 1523.7 L474.5 1523.7 L476.7 1538.7 L479 1553.9 L479.2 1553.8 L481.6 1552.5 L484.1 1550.9 L486.5 1549.8 L488.9 1548.8 L491.4 1548.2 L493.8 1547.2 L496.3 1546 L498.7 1544.9 L500 1544.6 L501.2 1544.4 L503 1542.9 L503.6 1542.1 L506.1 1538.5 L508.5 1536.7 L510.9 1534.9 L512 1534.6 L513.4 1534.5 L515.8 1533.7 L518.3 1532.7 L520 1530.8 L520.7 1528.3 L522 1524.1 L523.1 1521.3 L525 1518.6 L525.6 1518.4 L527 1518.1 L528 1518 L530.5 1517.5 L532.9 1516.2 L535.4 1515.1 L537.8 1513.9 L540 1512.7 L540.2 1512.6 L542.7 1511.2 L545 1510.3 L545.1 1510.2 L547.6 1508.1 L550 1503.7 L552 1498.2 L552.5 1496.7 L554.9 1493.4 L555 1493.4 L557.4 1491.7 L559.8 1490.9 L560 1490.9 L562.2 1490.2 L564.7 1489.3 L565 1489.2 L567.1 1488.3 L569.6 1487.7 L572 1487.8 L574.5 1487.5 L575 1487.4 L576.9 1486.6 L579.3 1485.3 L580 1484.8 L581.8 1483.3 L584.2 1480 L586.7 1478.5 L588 1477.8 L589.1 1477 L590 1476.3 L591.6 1474.4 L594 1471 L595.5 1468.9 L596 1468.2 L596.4 1471 L598.9 1486.2 L601.3 1501.5 L603.8 1516.7 L606.2 1531.9 L608.5 1546.2 L608.7 1547.2 L609 1549.3 L611.1 1545.3 L612.7 1542.2 L613 1542.1 L613.5 1541.9 L616 1541.1 L618.4 1541.1 L620.9 1541 L623.3 1539.8 L625.8 1538.7 L628 1536.5 L628.2 1536 L630.6 1532.2 L631 1532.1 L633.1 1531.6 L635.5 1531.1 L638 1530.6 L640.4 1530 L642.9 1529.4 L645.3 1528.9 L647.8 1528.3 L650 1528 L650.2 1527.9 L652.6 1526.5 L655.1 1524.3 L657.5 1522.7 L660 1521.9 L662.4 1521.5 L664.9 1521.2 L665 1521.2 L667.3 1520.4 L669.7 1515.9 L672.2 1511.7 L674.6 1508.2 L677.1 1506.7 L679.5 1505.8 L681 1505 L682 1504.4 L684.4 1503.2 L686.8 1502.1 L689.3 1500.5 L691.7 1499.1 L694.2 1497.9 L696.6 1497.5 L697 1497.4 L699 1496.8 L700 1496.2 L701.5 1495.2 L703.9 1493.8 L706.4 1492.3 L708 1491.6 L708.8 1491.2 L711.3 1490.1 L713 1489.2 L713.7 1488 L716.1 1483.7 L717 1482.3 L718.6 1479.3 L721 1474.9 L723.5 1472.7 L725 1471.7 L725.9 1471 L728.4 1469.1 L730.8 1466.7 L733.2 1464.4 L735 1464.3 L735.7 1464.6 L737 1464.6 L738.1 1463.5 L740.6 1459.9 L743 1457.9 L745.5 1456.3 L747.5 1454.8 L747.9 1461 L750.4 1497.5 L752.7 1532.7 L752.8 1532.8 L753 1533 L755.2 1531.9 L757.7 1530.8 L760.1 1529.1 L762.6 1527.6 L765 1526.2 L765 1526.2 L767.5 1525.2 L769.9 1524.3 L772.3 1522.9 L774.8 1521.7 L775 1521.7 L777.2 1520.8 L779.7 1519.7 L780 1519.6 L782.1 1518.8 L784.5 1518.1 L785 1518 L787 1517.6 L789.4 1517.3 L791.9 1517.2 L794.3 1516.3 L796.8 1515.2 L799.2 1513.7 L800 1513.5 L801.6 1513.2 L804.1 1513.1 L806.5 1513.1 L809 1512.8 L811.4 1512.2 L813.9 1511.9 L816 1511.6 L816.3 1511.5 L818.8 1510.3 L821.2 1509 L823.6 1507.5 L825 1506.3 L826.1 1505.8 L828.5 1504.9 L830 1504.5 L831 1504.2 L833.4 1503.8 L835.9 1503.3 L838.3 1502.7 L840 1502.3 L840.7 1502.2 L843.2 1501.2 L845 1499.6 L845.6 1499.1 L848 1497.4 L848.1 1497.4 L850 1496.7 L850.5 1496.5 L853 1495.8 L855.4 1495.1 L857.8 1493.8 L860 1492.8 L860.3 1492.6 L862 1491.7 L862.7 1491.4 L865 1490.5 L865.2 1490.5 L867.6 1488.3 L870 1485.8 L870.1 1485.7 L872.5 1482.9 L874 1481.8 L874.9 1481.4 L877.4 1481.4 L879.8 1480.1 L880 1480 L882.3 1478.3 L884.7 1476.3 L886.5 1475 L887.2 1482.1 L889.6 1508.3 L891.5 1528.7 L892 1526.7 L894.5 1524.2 L896.9 1521.8 L899.4 1519.4 L900 1518.7 L901.8 1516.5 L903 1515.2 L904.3 1514.1 L906.7 1512.1 L909.1 1510.3 L910 1509.5 L911.6 1508.2 L914 1507 L916.5 1505.5 L918.9 1503.7 L920 1503.6 L921.4 1503.3 L923.8 1503 L926.2 1501.9 L928 1500.5 L928.7 1499.9 L931.1 1496.4 L933 1493 L933.6 1492.4 L935 1492 L936 1491.9 L938.5 1488.1 L940 1484.4 L940.9 1483.5 L942 1483 L943.4 1482.4 L945.8 1481.5 L948 1481.2 L948.2 1481.2 L950.7 1480.6 L953.1 1479.9 L955 1479.8 L955.6 1479.7 L958 1478.9 L960.5 1476.2 L962 1474 L962.9 1472.6 L965.3 1469.5 L967.8 1467.4 L970 1464.3 L970.2 1463.9 L972.7 1461.4 L975 1461 L975.1 1461 L977.5 1460.1 L980 1459 L980 1459 L982.4 1458 L984.9 1457.3 L987 1456.1 L987.3 1456 L989.8 1455.5 L990 1455.4 L992.2 1454.8 L994.6 1453.9 L995 1453.8 L997.1 1452.8 L999.5 1450.8 L1000 1450.3 L1002 1447.8 L1004.4 1444.5 L1006.9 1442 L1008 1441.4 L1009.3 1441 L1010 1440.7 L1011.8 1440 L1014.2 1439.2 L1016.6 1437.7 L1017 1437.5 L1019.1 1436.3 L1020 1436.2 L1021.5 1436.3 L1024 1436.1 L1026.4 1435.3 L1028.8 1432.8 L1030 1431.3 L1031.3 1429.1 L1033.7 1425.1 L1035 1423.6 L1036.2 1423 L1038.6 1422.2 L1040 1421.6 L1041.1 1421.1 L1043.5 1420.3 L1046 1419.4 L1048.4 1418.5 L1050.8 1417.6 L1051 1417.5 L1053.3 1447.1 L1055.7 1478.8 L1058 1508.3 L1058.2 1508.9 L1060.6 1506.9 L1061 1506.6 L1063.1 1504 L1064 1503.2 L1065.5 1502.4 L1067.9 1500.2 L1068 1500.1 L1070.4 1497.7 L1072.8 1496.8 L1075.3 1496.3 L1077.7 1496.2 L1078 1496.1 L1080 1495 L1080.2 1494.9 L1082.6 1493.9 L1085 1493.6 L1087.5 1493.3 L1089.9 1493.2 L1090 1493.2 L1092.4 1493 L1094.8 1492.9 L1097 1492.8 L1097.3 1492.8 L1099.7 1491.6 L1102.1 1489.9 L1103 1489.5 L1104.6 1488.8 L1107 1487.3 L1108 1486.8 L1109.5 1486.3 L1110 1486.2 L1111.9 1485.8 L1114 1485.4 L1114.4 1485.4 L1116.8 1484.8 L1119.2 1483.9 L1120 1483.6 L1121.7 1482.3 L1122 1482.1 L1124.1 1481.1 L1125 1480.6 L1126.6 1479.7 L1129 1478.4 L1130 1478.2 L1131.5 1478 L1133.9 1476.7 L1135 1475.7 L1136.3 1474.8 L1138.8 1473.8 L1140 1473.3 L1141.2 1472.8 L1143.7 1471.8 L1145 1471.2 L1146.1 1470.7 L1148.6 1470.5 L1151 1470.3 L1153.5 1470 L1155.9 1469.7 L1158.3 1469.5 L1158.5 1469.5" fill="none" stroke="#FFA826" stroke-width="1.15" stroke-linejoin="round" />
<path d="M122.5 1558.2 L124.9 1557.5 L127.4 1556.7 L129.8 1556.2 L130 1556.2 L132.3 1556.2 L134.7 1556.1 L137 1555.8 L137.2 1555.8 L139.6 1555.4 L142 1555.2 L144.5 1555 L146.9 1554.9 L149.4 1554.7 L151.8 1554.6 L154.3 1554.5 L156.7 1554.4 L159.2 1554.3 L161.6 1554.3 L164 1554.1 L166.5 1553.9 L168.9 1553.8 L171.4 1553.8 L173.8 1553.8 L176.2 1553.7 L178.7 1553.6 L181.1 1553.4 L183.6 1553.3 L186 1553.2 L188.5 1553.1 L190.9 1553 L193.3 1552.8 L195.8 1552.7 L198.2 1552.6 L200.7 1552.4 L203.1 1552.3 L205.6 1552.2 L208 1552.2 L210.4 1552.1 L212.9 1552 L215.3 1551.8 L217.8 1551.7 L220.2 1551.5 L222.7 1551.3 L225.1 1551.2 L227.6 1551.2 L230 1551.1 L232.4 1551 L234.9 1550.9 L237.3 1550.8 L239.8 1550.6 L242.2 1550.4 L244.7 1550.2 L247.1 1550.2 L249.5 1550.1 L252 1549.9 L254.4 1549.8 L256.9 1549.6 L259.3 1549.5 L261.8 1549.3 L264.2 1549 L265 1548.9 L266.6 1548.9 L269.1 1548.6 L271.5 1547.9 L274 1547.5 L276.4 1547.1 L278.9 1546.5 L281.3 1546.1 L283.7 1545.7 L286.2 1545.3 L288.6 1544.7 L291.1 1543.9 L293.5 1543.4 L295.9 1542.9 L298.4 1542.7 L300 1542.3 L300.8 1541.6 L303.3 1539.8 L305.7 1538.3 L307.5 1537 L308.2 1541.5 L310.5 1557 L310.6 1557 L311 1556.9 L313.1 1556.6 L315.5 1556.3 L317.9 1555.8 L320.4 1555.3 L322.8 1554.9 L325.3 1554.1 L327.7 1553.7 L330.1 1553.7 L332.6 1553.3 L335 1552.9 L337.5 1552.4 L339.9 1552.2 L340 1552.2 L342.4 1552 L344.8 1551.7 L347.3 1551.5 L349.7 1551.3 L352.1 1551 L354.6 1550.7 L357 1550.4 L359.5 1550.2 L361.9 1550 L364.4 1549.6 L365 1549.5 L366.8 1549.2 L369.2 1548.9 L371.7 1548.5 L374.1 1548 L376.6 1547.4 L379 1547 L381.5 1546.8 L383.9 1546.5 L386.3 1546.1 L388.8 1545.5 L391.2 1545 L393.7 1544.5 L396.1 1543.9 L398.6 1543.5 L401 1542.9 L403.4 1542.7 L405.9 1542.4 L408.3 1542.1 L410.8 1541.5 L413.2 1540.9 L415.7 1540.3 L418.1 1540 L420 1539.5 L420.6 1539.4 L423 1539.3 L425.4 1538.3 L427.9 1536.4 L430.3 1535.1 L432.8 1534.2 L435.2 1533.7 L437.6 1533 L440.1 1532.4 L442.5 1532 L445 1531.9 L447 1531.8 L447.4 1531.8 L449.9 1530.8 L452.3 1529.8 L454.8 1529.6 L457.2 1528.8 L459.6 1527.9 L462.1 1527.3 L464.5 1526.3 L467 1524 L467 1523.9 L469.4 1522.9 L471.9 1521.8 L474 1520.4 L474.3 1520.2 L474.5 1520 L476.7 1536.2 L479 1552.5 L479.2 1552.4 L481.6 1551.1 L484.1 1549.5 L486.5 1548.4 L488.9 1547.4 L491.4 1546.8 L493.8 1545.8 L496.3 1544.6 L498.7 1543.4 L500 1543.1 L501.2 1542.9 L503 1541.2 L503.6 1540.3 L506.1 1535.9 L508.5 1534.1 L510.9 1532.2 L512 1532 L513.4 1531.8 L515.8 1531 L518.3 1530 L520 1528 L520.7 1525.1 L522 1520.4 L523.1 1517.2 L525 1514.3 L525.6 1514.1 L527 1513.9 L528 1513.8 L530.5 1513.3 L532.9 1511.9 L535.4 1510.7 L537.8 1509.4 L540 1508.1 L540.2 1507.9 L542.7 1506.5 L545 1505.5 L545.1 1505.4 L547.6 1503.1 L550 1498 L552 1491.7 L552.5 1490.1 L554.9 1486.6 L555 1486.5 L557.4 1484.8 L559.8 1484.1 L560 1484 L562.2 1483.3 L564.7 1482.3 L565 1482.2 L567.1 1481.4 L569.6 1480.7 L572 1480.9 L574.5 1480.5 L575 1480.4 L576.9 1479.6 L579.3 1478.3 L580 1477.7 L581.8 1476 L584.2 1472.5 L586.7 1470.8 L588 1470.1 L589.1 1469.3 L590 1468.5 L591.6 1466.3 L594 1462.5 L595.5 1459.9 L596 1459.2 L596.4 1462.1 L598.9 1478.4 L601.3 1494.8 L603.8 1511.1 L606.2 1527.4 L608.5 1542.7 L608.7 1543.7 L609 1546 L611.1 1541.4 L612.7 1538 L613 1537.9 L613.5 1537.8 L616 1537.2 L618.4 1537.3 L620.9 1537.2 L623.3 1536.4 L625.8 1535.8 L628 1533.5 L628.2 1532.9 L630.6 1528.4 L631 1528.3 L633.1 1527.9 L635.5 1527.4 L638 1526.9 L640.4 1526.3 L642.9 1525.8 L645.3 1525.3 L647.8 1524.7 L650 1524.4 L650.2 1524.3 L652.6 1522.9 L655.1 1520.7 L657.5 1519.1 L660 1518.3 L662.4 1517.9 L664.9 1517.6 L665 1517.6 L667.3 1516.8 L669.7 1511.7 L672.2 1507 L674.6 1503 L677.1 1501.4 L679.5 1500.4 L681 1499.5 L682 1498.8 L684.4 1497.5 L686.8 1496.3 L689.3 1494.5 L691.7 1492.9 L694.2 1491.7 L696.6 1491.2 L697 1491.1 L699 1490.5 L700 1489.8 L701.5 1488.7 L703.9 1487.1 L706.4 1485.5 L708 1484.7 L708.8 1484.3 L711.3 1483.1 L713 1482.1 L713.7 1480.6 L716.1 1475.6 L717 1473.9 L718.6 1470.4 L721 1465.2 L723.5 1462.7 L725 1461.5 L725.9 1460.6 L728.4 1458.4 L730.8 1455.7 L733.2 1452.9 L735 1452.9 L735.7 1453.2 L737 1453.2 L738.1 1451.9 L740.6 1447.9 L743 1445.6 L745.5 1443.7 L747.5 1442 L747.9 1448.8 L750.4 1489.5 L752.7 1528.7 L752.8 1528.6 L753 1528.5 L755.2 1527.4 L757.7 1526.4 L760.1 1524.7 L762.6 1523.2 L765 1521.9 L765 1521.9 L767.5 1520.9 L769.9 1520.1 L772.3 1518.7 L774.8 1517.3 L775 1517.2 L777.2 1516.2 L779.7 1515 L780 1514.8 L782.1 1514 L784.5 1513.3 L785 1513.2 L787 1512.7 L789.4 1512.4 L791.9 1512.3 L794.3 1511.4 L796.8 1510.1 L799.2 1508.6 L800 1508.4 L801.6 1508.1 L804.1 1507.9 L806.5 1507.9 L809 1507.7 L811.4 1507 L813.9 1506.7 L816 1506.4 L816.3 1506.4 L818.8 1505.1 L821.2 1503.6 L823.6 1502 L825 1500.7 L826.1 1500.2 L828.5 1499.3 L830 1498.8 L831 1498.6 L833.4 1498.2 L835.9 1497.7 L838.3 1497.1 L840 1496.7 L840.7 1496.5 L843.2 1495.4 L845 1493.6 L845.6 1493 L848 1491.1 L848.1 1491.1 L850 1490.3 L850.5 1490.1 L853 1489.4 L855.4 1488.6 L857.8 1487.2 L860 1486.2 L860.3 1486.1 L862 1485.1 L862.7 1484.8 L865 1483.9 L865.2 1483.8 L867.6 1481.4 L870 1478.5 L870.1 1478.4 L872.5 1475.2 L874 1474 L874.9 1473.5 L877.4 1473.5 L879.8 1472.2 L880 1472 L882.3 1470.2 L884.7 1467.8 L886.5 1466.5 L887.2 1474.1 L889.6 1502.2 L891.5 1524 L892 1523.4 L894.5 1520.8 L896.9 1518.3 L899.4 1515.8 L900 1515.1 L901.8 1512.7 L903 1511.4 L904.3 1510.3 L906.7 1508.1 L909.1 1506.2 L910 1505.3 L911.6 1504 L914 1502.8 L916.5 1501.4 L918.9 1499.6 L920 1499.5 L921.4 1499.2 L923.8 1498.8 L926.2 1497.7 L928 1496.3 L928.7 1495.7 L931.1 1492.1 L933 1488.6 L933.6 1487.9 L935 1487.5 L936 1487.4 L938.5 1483.5 L940 1479.4 L940.9 1478.6 L942 1478 L943.4 1477.4 L945.8 1476.5 L948 1476.3 L948.2 1476.3 L950.7 1475.7 L953.1 1475 L955 1474.9 L955.6 1474.9 L958 1474 L960.5 1471.1 L962 1468.7 L962.9 1467.2 L965.3 1463.8 L967.8 1461.6 L970 1458.3 L970.2 1457.9 L972.7 1455.2 L975 1454.8 L975.1 1454.8 L977.5 1453.9 L980 1452.8 L980 1452.8 L982.4 1451.7 L984.9 1450.9 L987 1449.7 L987.3 1449.6 L989.8 1449.1 L990 1449 L992.2 1448.4 L994.6 1447.5 L995 1447.4 L997.1 1446.4 L999.5 1444.2 L1000 1443.7 L1002 1441 L1004.4 1437.4 L1006.9 1434.7 L1008 1434.1 L1009.3 1433.7 L1010 1433.4 L1011.8 1432.7 L1014.2 1431.9 L1016.6 1430.5 L1017 1430.2 L1019.1 1429 L1020 1428.9 L1021.5 1429 L1024 1428.8 L1026.4 1428 L1028.8 1425.5 L1030 1423.9 L1031.3 1421.5 L1033.7 1417.1 L1035 1415.5 L1036.2 1414.9 L1038.6 1414 L1040 1413.3 L1041.1 1412.8 L1043.5 1411.9 L1046 1411 L1048.4 1410.1 L1050.8 1409.1 L1051 1409 L1053.3 1439.6 L1055.7 1472.4 L1058 1502.8 L1058.2 1502.7 L1060.6 1500.9 L1061 1500.5 L1063.1 1497.9 L1064 1497.1 L1065.5 1496.2 L1067.9 1493.9 L1068 1493.8 L1070.4 1491.3 L1072.8 1490.5 L1075.3 1490 L1077.7 1489.9 L1078 1489.8 L1080 1488.7 L1080.2 1488.6 L1082.6 1487.6 L1085 1487.3 L1087.5 1487 L1089.9 1486.9 L1090 1486.9 L1092.4 1486.8 L1094.8 1486.7 L1097 1486.6 L1097.3 1486.6 L1099.7 1485.4 L1102.1 1483.6 L1103 1483.2 L1104.6 1482.5 L1107 1481 L1108 1480.4 L1109.5 1480 L1110 1479.9 L1111.9 1479.4 L1114 1479.1 L1114.4 1479 L1116.8 1478.5 L1119.2 1477.5 L1120 1477.2 L1121.7 1475.9 L1122 1475.8 L1124.1 1474.7 L1125 1474.3 L1126.6 1473.3 L1129 1472.1 L1130 1471.8 L1131.5 1471.6 L1133.9 1470.4 L1135 1469.4 L1136.3 1468.5 L1138.8 1467.4 L1140 1466.9 L1141.2 1466.4 L1143.7 1465.4 L1145 1464.7 L1146.1 1464.2 L1148.6 1464 L1151 1463.8 L1153.5 1463.5 L1155.9 1463.1 L1158.3 1462.9 L1158.5 1462.9" fill="none" stroke="#2FE816" stroke-width="2" stroke-linejoin="round" />
</g>
<rect x="79" y="1161.1" width="1120.3" height="420.8" fill="none" stroke="#585858" stroke-width="1.9" stroke-linejoin="round"/>
<line x1="122.5" y1="1581.9" x2="122.5" y2="1589.6" stroke="#6a6a6a" stroke-width="1.2"/>
<text x="122.5" y="1607.5" text-anchor="middle" class="ax">2017</text>
<line x1="1013.9" y1="1581.9" x2="1013.9" y2="1589.6" stroke="#6a6a6a" stroke-width="1.2"/>
<text x="1013.9" y="1607.5" text-anchor="middle" class="ax">2018</text>
<line x1="71" y1="1566.4" x2="79" y2="1566.4" stroke="#6a6a6a" stroke-width="1.2"/>
<text transform="translate(61.1 1566.4) rotate(-90)" text-anchor="middle" class="ax">0</text>
<line x1="71" y1="1462.3" x2="79" y2="1462.3" stroke="#6a6a6a" stroke-width="1.2"/>
<text transform="translate(61.1 1462.3) rotate(-90)" text-anchor="middle" class="ax">200</text>
<line x1="71" y1="1358.2" x2="79" y2="1358.2" stroke="#6a6a6a" stroke-width="1.2"/>
<text transform="translate(61.1 1358.2) rotate(-90)" text-anchor="middle" class="ax">400</text>
<line x1="71" y1="1254.1" x2="79" y2="1254.1" stroke="#6a6a6a" stroke-width="1.2"/>
<text transform="translate(61.1 1254.1) rotate(-90)" text-anchor="middle" class="ax">600</text>
<text x="638.8" y="1636.8" text-anchor="middle" class="ax">time</text>
<text transform="translate(14.1 1371.5) rotate(-90)" text-anchor="middle" class="ax">BTC balance</text>
<text x="639.5" y="1141" text-anchor="middle" class="ttl">Bitcoin balance of the fraudulen agent</text>
</svg>
</body></html>
